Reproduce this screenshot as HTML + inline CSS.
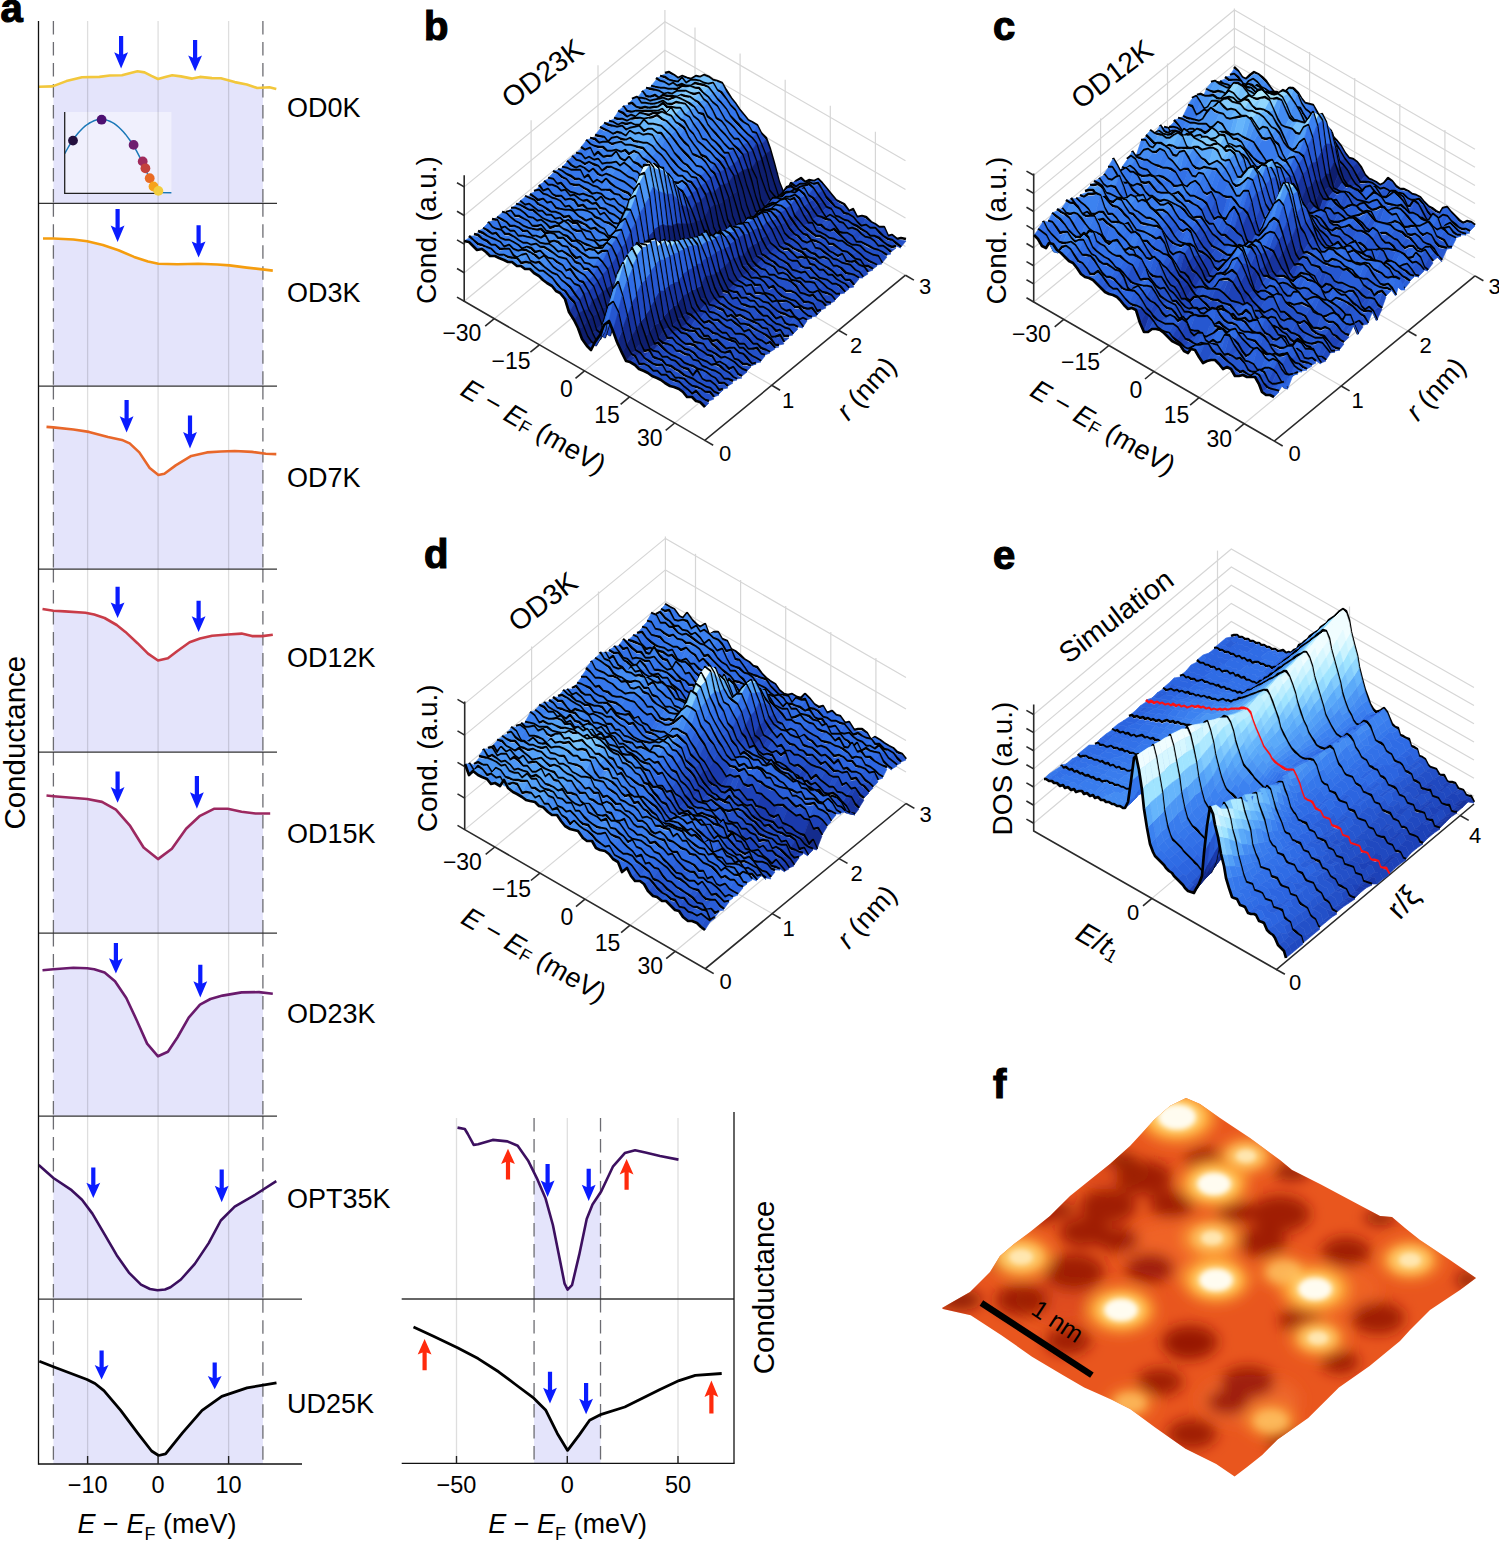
<!DOCTYPE html>
<html><head><meta charset="utf-8"><style>
html,body{margin:0;padding:0;background:#fff;}
body{width:1499px;height:1543px;overflow:hidden;}
svg{display:block;font-family:"Liberation Sans", sans-serif;}
</style></head><body>
<svg xmlns="http://www.w3.org/2000/svg" width="1499" height="1543" viewBox="0 0 1499 1543">
<polygon points="53.4,203.3 53.4,86.1 66.4,81.1 82.0,77.2 99.4,76.9 109.8,75.5 122.0,75.2 130.6,72.9 137.5,71.3 144.5,72.4 151.4,75.9 158.0,79.0 165.3,76.9 172.2,75.2 180.9,76.4 192.2,78.6 200.0,76.9 212.0,78.1 220.8,78.3 234.7,82.1 246.8,84.5 257.2,88.0 262.9,87.7 262.9,203.3" fill="#e4e4fb"/>
<polygon points="53.4,386.1 53.4,238.5 73.4,239.5 87.2,241.3 102.9,245.1 118.5,250.3 134.1,256.9 148.0,261.6 158.4,263.8 177.4,264.2 198.3,263.8 217.3,264.5 229.5,265.4 246.8,267.6 262.4,269.4 262.9,269.5 262.9,386.1" fill="#e4e4fb"/>
<polygon points="53.4,569.1 53.4,427.4 73.4,429.5 89.0,431.9 108.0,437.1 121.9,439.9 129.7,443.4 139.3,452.4 149.7,468.0 158.4,474.9 164.4,473.7 175.7,465.4 191.3,455.9 206.9,452.4 220.8,451.5 234.7,451.0 252.0,451.9 262.9,453.4 262.9,569.1" fill="#e4e4fb"/>
<polygon points="53.4,752.1 53.4,610.8 64.7,611.4 85.5,612.8 94.2,614.6 104.6,618.0 116.7,625.0 125.4,631.9 137.5,643.2 148.0,653.6 158.0,660.5 167.9,658.3 177.4,651.0 189.6,642.3 200.0,638.5 212.1,635.7 227.7,634.5 241.6,633.6 252.0,636.1 262.4,636.1 262.9,636.0 262.9,752.1" fill="#e4e4fb"/>
<polygon points="53.4,933.1 53.4,796.2 87.2,799.0 102.0,801.9 115.9,809.7 129.7,825.3 143.6,847.5 158.0,859.1 171.9,848.7 186.1,828.8 200.0,815.8 213.9,808.8 227.7,808.8 241.6,811.8 255.5,813.5 262.9,813.5 262.9,933.1" fill="#e4e4fb"/>
<polygon points="53.4,1116.1 53.4,969.2 73.4,967.8 87.2,968.2 94.2,969.2 104.6,972.5 115.0,981.2 126.3,998.0 136.7,1020.2 147.1,1043.6 158.0,1056.3 167.9,1051.8 177.4,1037.5 188.7,1017.6 200.0,1004.6 210.4,999.0 222.5,995.6 241.6,992.4 259.0,992.1 262.9,992.6 262.9,1116.1" fill="#e4e4fb"/>
<polygon points="53.4,1299.2 53.4,1178.0 71.6,1190.2 82.0,1199.7 92.4,1213.6 104.6,1234.4 116.7,1255.2 128.9,1272.6 141.0,1284.7 150.0,1289.0 157.5,1290.3 165.0,1289.5 170.5,1287.3 180.9,1279.5 194.8,1263.9 208.7,1243.1 220.8,1220.5 234.7,1206.7 255.5,1194.5 262.9,1189.8 262.9,1299.2" fill="#e4e4fb"/>
<polygon points="53.4,1464.0 53.4,1366.8 87.0,1379.5 95.0,1383.5 103.9,1390.7 120.7,1410.4 137.5,1432.8 151.6,1451.0 158.6,1455.5 165.6,1453.9 182.5,1432.8 202.1,1410.4 221.8,1396.3 247.0,1387.9 262.9,1385.2 262.9,1464.0" fill="#e4e4fb"/>
<rect x="64.7" y="112" width="106.7" height="81.5" fill="#f0f0fd"/>
<line x1="87.6" y1="21" x2="87.6" y2="1464" stroke="#000" stroke-opacity="0.13" stroke-width="1.3"/>
<line x1="158.1" y1="21" x2="158.1" y2="1464" stroke="#000" stroke-opacity="0.13" stroke-width="1.3"/>
<line x1="228.6" y1="21" x2="228.6" y2="1464" stroke="#000" stroke-opacity="0.13" stroke-width="1.3"/>
<line x1="53.4" y1="21.0" x2="53.4" y2="203.3" stroke="#6c6c72" stroke-width="1.3" stroke-dasharray="13.5 7.5"/>
<line x1="262.9" y1="21.0" x2="262.9" y2="203.3" stroke="#6c6c72" stroke-width="1.3" stroke-dasharray="13.5 7.5"/>
<line x1="53.4" y1="203.3" x2="53.4" y2="386.1" stroke="#6c6c72" stroke-width="1.3" stroke-dasharray="13.5 7.5"/>
<line x1="262.9" y1="203.3" x2="262.9" y2="386.1" stroke="#6c6c72" stroke-width="1.3" stroke-dasharray="13.5 7.5"/>
<line x1="53.4" y1="386.1" x2="53.4" y2="569.1" stroke="#6c6c72" stroke-width="1.3" stroke-dasharray="13.5 7.5"/>
<line x1="262.9" y1="386.1" x2="262.9" y2="569.1" stroke="#6c6c72" stroke-width="1.3" stroke-dasharray="13.5 7.5"/>
<line x1="53.4" y1="569.1" x2="53.4" y2="752.1" stroke="#6c6c72" stroke-width="1.3" stroke-dasharray="13.5 7.5"/>
<line x1="262.9" y1="569.1" x2="262.9" y2="752.1" stroke="#6c6c72" stroke-width="1.3" stroke-dasharray="13.5 7.5"/>
<line x1="53.4" y1="752.1" x2="53.4" y2="933.1" stroke="#6c6c72" stroke-width="1.3" stroke-dasharray="13.5 7.5"/>
<line x1="262.9" y1="752.1" x2="262.9" y2="933.1" stroke="#6c6c72" stroke-width="1.3" stroke-dasharray="13.5 7.5"/>
<line x1="53.4" y1="933.1" x2="53.4" y2="1116.1" stroke="#6c6c72" stroke-width="1.3" stroke-dasharray="13.5 7.5"/>
<line x1="262.9" y1="933.1" x2="262.9" y2="1116.1" stroke="#6c6c72" stroke-width="1.3" stroke-dasharray="13.5 7.5"/>
<line x1="53.4" y1="1116.1" x2="53.4" y2="1299.2" stroke="#6c6c72" stroke-width="1.3" stroke-dasharray="13.5 7.5"/>
<line x1="262.9" y1="1116.1" x2="262.9" y2="1299.2" stroke="#6c6c72" stroke-width="1.3" stroke-dasharray="13.5 7.5"/>
<line x1="53.4" y1="1299.2" x2="53.4" y2="1464.0" stroke="#6c6c72" stroke-width="1.3" stroke-dasharray="13.5 7.5"/>
<line x1="262.9" y1="1299.2" x2="262.9" y2="1464.0" stroke="#6c6c72" stroke-width="1.3" stroke-dasharray="13.5 7.5"/>
<polyline points="64.7,153.6 67.0,149.5 69.2,145.7 71.5,142.1 73.7,138.8 76.0,135.8 78.2,133.0 80.5,130.5 82.7,128.2 85.0,126.2 87.2,124.5 89.5,123.0 91.8,121.8 94.0,120.8 96.3,120.1 98.5,119.6 100.8,119.4 103.0,119.5 105.3,119.8 107.5,120.4 109.8,121.3 112.1,122.4 114.3,123.7 116.6,125.4 118.8,127.2 121.1,129.4 123.3,131.8 125.6,134.4 127.8,137.4 130.1,140.5 132.4,144.0 134.6,147.7 136.9,151.6 139.1,155.8 141.4,160.3 143.6,165.0 145.9,170.0 148.1,175.3 150.4,180.8 152.6,186.6 154.9,192.6 171.4,192.8" fill="none" stroke="#1a78b8" stroke-width="1.5"/>
<polyline points="64.7,112 64.7,193.3 155,193.3" fill="none" stroke="#222" stroke-width="1.3"/>
<circle cx="73" cy="140.6" r="4.9" fill="#24103e"/>
<circle cx="101.6" cy="119.7" r="4.9" fill="#4d1072"/>
<circle cx="133.6" cy="144.9" r="4.9" fill="#6e1f6f"/>
<circle cx="142.7" cy="161.4" r="4.9" fill="#a02a5c"/>
<circle cx="145.4" cy="168.3" r="4.9" fill="#c4413c"/>
<circle cx="149.7" cy="178.2" r="4.9" fill="#e96b23"/>
<circle cx="153.5" cy="186.5" r="4.9" fill="#f6a31b"/>
<circle cx="158.4" cy="190.9" r="4.9" fill="#f2cd3e"/>
<polyline points="38.7,86.8 52.5,86.4 66.4,81.1 82.0,77.2 99.4,76.9 109.8,75.5 122.0,75.2 130.6,72.9 137.5,71.3 144.5,72.4 151.4,75.9 158.0,79.0 165.3,76.9 172.2,75.2 180.9,76.4 192.2,78.6 200.0,76.9 212.0,78.1 220.8,78.3 234.7,82.1 246.8,84.5 257.2,88.0 269.4,87.3 276.3,89.0" fill="none" stroke="#f2c73c" stroke-width="2.6" stroke-linejoin="round"/>
<polygon points="119.0,36.0 123.2,36.0 123.2,54.5 128.0,52.3 121.1,68.6 114.2,52.3 119.0,54.5" fill="#0a1cff"/>
<polygon points="193.0,40.0 197.2,40.0 197.2,57.8 202.0,55.6 195.1,71.2 188.2,55.6 193.0,57.8" fill="#0a1cff"/>
<polyline points="43.0,238.5 53.4,238.5 73.4,239.5 87.2,241.3 102.9,245.1 118.5,250.3 134.1,256.9 148.0,261.6 158.4,263.8 177.4,264.2 198.3,263.8 217.3,264.5 229.5,265.4 246.8,267.6 262.4,269.4 272.8,270.6" fill="none" stroke="#f59d0f" stroke-width="2.6" stroke-linejoin="round"/>
<polygon points="115.5,209.0 119.7,209.0 119.7,227.7 124.5,225.5 117.6,242.0 110.7,225.5 115.5,227.7" fill="#0a1cff"/>
<polygon points="196.5,225.2 200.7,225.2 200.7,243.6 205.5,241.4 198.6,257.6 191.7,241.4 196.5,243.6" fill="#0a1cff"/>
<polyline points="46.5,426.9 53.4,427.4 73.4,429.5 89.0,431.9 108.0,437.1 121.9,439.9 129.7,443.4 139.3,452.4 149.7,468.0 158.4,474.9 164.4,473.7 175.7,465.4 191.3,455.9 206.9,452.4 220.8,451.5 234.7,451.0 252.0,451.9 265.9,453.8 276.3,454.1" fill="none" stroke="#e8672a" stroke-width="2.6" stroke-linejoin="round"/>
<polygon points="124.5,400.0 128.7,400.0 128.7,418.4 133.5,416.2 126.6,432.4 119.7,416.2 124.5,418.4" fill="#0a1cff"/>
<polygon points="187.9,415.6 192.1,415.6 192.1,434.2 196.9,432.0 190.0,448.4 183.1,432.0 187.9,434.2" fill="#0a1cff"/>
<polyline points="42.5,609.0 53.4,610.8 64.7,611.4 85.5,612.8 94.2,614.6 104.6,618.0 116.7,625.0 125.4,631.9 137.5,643.2 148.0,653.6 158.0,660.5 167.9,658.3 177.4,651.0 189.6,642.3 200.0,638.5 212.1,635.7 227.7,634.5 241.6,633.6 252.0,636.1 262.4,636.1 272.8,634.7" fill="none" stroke="#c93c48" stroke-width="2.6" stroke-linejoin="round"/>
<polygon points="115.5,586.8 119.7,586.8 119.7,604.6 124.5,602.4 117.6,618.0 110.7,602.4 115.5,604.6" fill="#0a1cff"/>
<polygon points="196.5,600.7 200.7,600.7 200.7,618.5 205.5,616.3 198.6,631.9 191.7,616.3 196.5,618.5" fill="#0a1cff"/>
<polyline points="46.5,795.5 53.4,796.2 87.2,799.0 102.0,801.9 115.9,809.7 129.7,825.3 143.6,847.5 158.0,859.1 171.9,848.7 186.1,828.8 200.0,815.8 213.9,808.8 227.7,808.8 241.6,811.8 255.5,813.5 270.2,813.5" fill="none" stroke="#9c2860" stroke-width="2.6" stroke-linejoin="round"/>
<polygon points="115.5,771.5 119.7,771.5 119.7,789.4 124.5,787.1 117.6,802.8 110.7,787.1 115.5,789.4" fill="#0a1cff"/>
<polygon points="194.8,775.9 199.0,775.9 199.0,794.5 203.8,792.3 196.9,808.8 190.0,792.3 194.8,794.5" fill="#0a1cff"/>
<polyline points="42.5,970.2 53.4,969.2 73.4,967.8 87.2,968.2 94.2,969.2 104.6,972.5 115.0,981.2 126.3,998.0 136.7,1020.2 147.1,1043.6 158.0,1056.3 167.9,1051.8 177.4,1037.5 188.7,1017.6 200.0,1004.6 210.4,999.0 222.5,995.6 241.6,992.4 259.0,992.1 272.8,993.7" fill="none" stroke="#6a1a6c" stroke-width="2.6" stroke-linejoin="round"/>
<polygon points="113.8,943.0 118.0,943.0 118.0,960.4 122.8,958.2 115.9,973.4 109.0,958.2 113.8,960.4" fill="#0a1cff"/>
<polygon points="198.2,964.7 202.4,964.7 202.4,983.4 207.2,981.2 200.3,997.6 193.4,981.2 198.2,983.4" fill="#0a1cff"/>
<polyline points="38.7,1165.0 53.4,1178.0 71.6,1190.2 82.0,1199.7 92.4,1213.6 104.6,1234.4 116.7,1255.2 128.9,1272.6 141.0,1284.7 150.0,1289.0 157.5,1290.3 165.0,1289.5 170.5,1287.3 180.9,1279.5 194.8,1263.9 208.7,1243.1 220.8,1220.5 234.7,1206.7 255.5,1194.5 276.3,1181.2" fill="none" stroke="#3b0f5e" stroke-width="2.6" stroke-linejoin="round"/>
<polygon points="91.2,1167.6 95.4,1167.6 95.4,1185.0 100.2,1182.8 93.3,1198.0 86.4,1182.8 91.2,1185.0" fill="#0a1cff"/>
<polygon points="219.6,1169.4 223.8,1169.4 223.8,1188.0 228.6,1185.8 221.7,1202.3 214.8,1185.8 219.6,1188.0" fill="#0a1cff"/>
<polyline points="39.3,1361.2 53.3,1366.8 87.0,1379.5 95.0,1383.5 103.9,1390.7 120.7,1410.4 137.5,1432.8 151.6,1451.0 158.6,1455.5 165.6,1453.9 182.5,1432.8 202.1,1410.4 221.8,1396.3 247.0,1387.9 276.5,1382.8" fill="none" stroke="#000000" stroke-width="2.8" stroke-linejoin="round"/>
<polygon points="99.5,1350.6 103.7,1350.6 103.7,1367.2 108.5,1365.0 101.6,1379.5 94.7,1365.0 99.5,1367.2" fill="#0a1cff"/>
<polygon points="212.6,1362.6 216.8,1362.6 216.8,1378.1 221.6,1375.9 214.7,1389.3 207.8,1375.9 212.6,1378.1" fill="#0a1cff"/>
<line x1="38.5" y1="203.3" x2="277" y2="203.3" stroke="#333" stroke-width="1.3"/>
<line x1="38.5" y1="386.1" x2="277" y2="386.1" stroke="#333" stroke-width="1.3"/>
<line x1="38.5" y1="569.1" x2="277" y2="569.1" stroke="#333" stroke-width="1.3"/>
<line x1="38.5" y1="752.1" x2="277" y2="752.1" stroke="#333" stroke-width="1.3"/>
<line x1="38.5" y1="933.1" x2="277" y2="933.1" stroke="#333" stroke-width="1.3"/>
<line x1="38.5" y1="1116.1" x2="277" y2="1116.1" stroke="#333" stroke-width="1.3"/>
<line x1="38.5" y1="1299.2" x2="302" y2="1299.2" stroke="#333" stroke-width="1.3"/>
<line x1="38.5" y1="1464" x2="302" y2="1464" stroke="#111" stroke-width="1.4"/>
<line x1="38.5" y1="21" x2="38.5" y2="1464.7" stroke="#111" stroke-width="1.3"/>
<line x1="87.6" y1="1456" x2="87.6" y2="1464" stroke="#222" stroke-width="1.4"/>
<line x1="158.1" y1="1456" x2="158.1" y2="1464" stroke="#222" stroke-width="1.4"/>
<line x1="228.6" y1="1456" x2="228.6" y2="1464" stroke="#222" stroke-width="1.4"/>
<text x="287" y="116.7" font-size="27" fill="#000">OD0K</text>
<text x="287" y="301.6" font-size="27" fill="#000">OD3K</text>
<text x="287" y="486.6" font-size="27" fill="#000">OD7K</text>
<text x="287" y="666.7" font-size="27" fill="#000">OD12K</text>
<text x="287" y="842.7" font-size="27" fill="#000">OD15K</text>
<text x="287" y="1023" font-size="27" fill="#000">OD23K</text>
<text x="287" y="1208.2" font-size="27" fill="#000">OPT35K</text>
<text x="287" y="1413.2" font-size="27" fill="#000">UD25K</text>
<text x="87.6" y="1493.4" font-size="23.5" text-anchor="middle">−10</text>
<text x="158.1" y="1493.4" font-size="23.5" text-anchor="middle">0</text>
<text x="228.6" y="1493.4" font-size="23.5" text-anchor="middle">10</text>
<text x="157" y="1533.4" font-size="27" text-anchor="middle"><tspan font-style="italic">E</tspan> − <tspan font-style="italic">E</tspan><tspan font-size="18" dy="7">F</tspan><tspan dy="-7"> (meV)</tspan></text>
<text transform="translate(24.5,742.7) rotate(-90)" font-size="29.5" text-anchor="middle">Conductance</text>
<text x="0.5" y="21.5" font-size="40" font-weight="bold" stroke="#000" stroke-width="1.2">a</text>
<polygon points="534.1,1299.0 534.1,1172.6 536.8,1178.1 545.6,1198.6 552.9,1225.0 558.8,1254.4 564.6,1283.7 567.6,1289.6 572.0,1285.2 579.3,1254.4 586.7,1219.1 592.5,1204.5 600.5,1192.5 600.5,1299.0" fill="#e4e4fb"/>
<polygon points="534.1,1463.4 534.1,1398.5 545.6,1409.9 557.3,1433.4 567.6,1450.4 579.3,1434.9 589.6,1420.2 600.5,1414.7 600.5,1463.4" fill="#e4e4fb"/>
<line x1="456.5" y1="1117.9" x2="456.5" y2="1463.4" stroke="#000" stroke-opacity="0.13" stroke-width="1.3"/>
<line x1="567.3" y1="1117.9" x2="567.3" y2="1463.4" stroke="#000" stroke-opacity="0.13" stroke-width="1.3"/>
<line x1="678.0" y1="1117.9" x2="678.0" y2="1463.4" stroke="#000" stroke-opacity="0.13" stroke-width="1.3"/>
<line x1="534.07" y1="1117.9" x2="534.07" y2="1299" stroke="#6c6c72" stroke-width="1.3" stroke-dasharray="13.5 7.5"/>
<line x1="534.07" y1="1299" x2="534.07" y2="1463.4" stroke="#6c6c72" stroke-width="1.3" stroke-dasharray="13.5 7.5"/>
<line x1="600.52" y1="1117.9" x2="600.52" y2="1299" stroke="#6c6c72" stroke-width="1.3" stroke-dasharray="13.5 7.5"/>
<line x1="600.52" y1="1299" x2="600.52" y2="1463.4" stroke="#6c6c72" stroke-width="1.3" stroke-dasharray="13.5 7.5"/>
<polyline points="457.5,1127.6 464.8,1129.0 467.8,1134.0 473.7,1144.9 478.1,1144.3 492.7,1139.9 507.4,1141.4 517.7,1145.8 528.0,1160.4 536.8,1178.1 545.6,1198.6 552.9,1225.0 558.8,1254.4 564.6,1283.7 567.6,1289.6 572.0,1285.2 579.3,1254.4 586.7,1219.1 592.5,1204.5 601.3,1191.3 613.1,1166.3 624.8,1153.1 635.1,1150.2 645.4,1152.5 660.0,1156.0 678.5,1159.6" fill="none" stroke="#3d1060" stroke-width="2.6" stroke-linejoin="round"/>
<polyline points="413.5,1326.9 434.0,1336.5 457.5,1347.7 478.1,1358.6 498.6,1371.8 516.2,1385.0 533.8,1398.2 545.6,1409.9 557.3,1433.4 567.6,1450.4 579.3,1434.9 589.6,1420.2 601.3,1414.3 624.8,1407.0 642.4,1398.2 660.0,1389.4 679.1,1380.6 695.3,1375.3 721.7,1373.5" fill="none" stroke="#000" stroke-width="2.8" stroke-linejoin="round"/>
<polygon points="505.9,1179.5 510.1,1179.5 510.1,1161.9 514.9,1164.1 508.0,1148.7 501.1,1164.1 505.9,1161.9" fill="#ff2a0c"/>
<polygon points="545.5,1164.0 549.7,1164.0 549.7,1182.8 554.5,1180.5 547.6,1197.1 540.7,1180.5 545.5,1182.8" fill="#0a1cff"/>
<polygon points="586.6,1168.7 590.8,1168.7 590.8,1187.0 595.6,1184.8 588.7,1201.0 581.8,1184.8 586.6,1187.0" fill="#0a1cff"/>
<polygon points="624.5,1189.8 628.7,1189.8 628.7,1172.2 633.5,1174.4 626.6,1159.0 619.7,1174.4 624.5,1172.2" fill="#ff2a0c"/>
<polygon points="422.5,1370.3 426.7,1370.3 426.7,1352.4 431.5,1354.6 424.6,1338.9 417.7,1354.6 422.5,1352.4" fill="#ff2a0c"/>
<polygon points="547.9,1371.8 552.1,1371.8 552.1,1389.9 556.9,1387.7 550.0,1403.5 543.1,1387.7 547.9,1389.9" fill="#0a1cff"/>
<polygon points="584.0,1383.0 588.2,1383.0 588.2,1400.9 593.0,1398.7 586.1,1414.3 579.2,1398.7 584.0,1400.9" fill="#0a1cff"/>
<polygon points="709.3,1413.5 713.5,1413.5 713.5,1394.8 718.3,1397.0 711.4,1380.6 704.5,1397.0 709.3,1394.8" fill="#ff2a0c"/>
<line x1="401.7" y1="1299" x2="734" y2="1299" stroke="#333" stroke-width="1.3"/>
<line x1="401.7" y1="1463.4" x2="734.6" y2="1463.4" stroke="#111" stroke-width="1.4"/>
<line x1="734" y1="1112" x2="734" y2="1463.4" stroke="#111" stroke-width="1.3"/>
<line x1="456.5" y1="1456" x2="456.5" y2="1463.4" stroke="#222" stroke-width="1.4"/>
<text x="456.5" y="1493" font-size="23.5" text-anchor="middle">−50</text>
<line x1="567.3" y1="1456" x2="567.3" y2="1463.4" stroke="#222" stroke-width="1.4"/>
<text x="567.3" y="1493" font-size="23.5" text-anchor="middle">0</text>
<line x1="678.0" y1="1456" x2="678.0" y2="1463.4" stroke="#222" stroke-width="1.4"/>
<text x="678.0" y="1493" font-size="23.5" text-anchor="middle">50</text>
<text x="567.6" y="1533.2" font-size="27" text-anchor="middle"><tspan font-style="italic">E</tspan> − <tspan font-style="italic">E</tspan><tspan font-size="18" dy="7">F</tspan><tspan dy="-7"> (meV)</tspan></text>
<text transform="translate(773.5,1287.4) rotate(-90)" font-size="29.5" text-anchor="middle">Conductance</text>
<polyline points="464.2,301.3 664.9,136.1 905.5,275.2" fill="none" stroke="#d6d6d6" stroke-width="1.2"/>
<polyline points="464.2,272.7 664.9,107.5 905.5,246.6" fill="none" stroke="#d6d6d6" stroke-width="1.2"/>
<polyline points="464.2,244.1 664.9,78.9 905.5,218" fill="none" stroke="#d6d6d6" stroke-width="1.2"/>
<polyline points="464.2,215.5 664.9,50.3 905.5,189.4" fill="none" stroke="#d6d6d6" stroke-width="1.2"/>
<polyline points="464.2,186.9 664.9,21.7 905.5,160.8" fill="none" stroke="#d6d6d6" stroke-width="1.2"/>
<line x1="531.1" y1="246.2" x2="531.1" y2="120.2" stroke="#d6d6d6" stroke-width="1.2"/>
<line x1="531.1" y1="246.2" x2="771.7" y2="385.3" stroke="#d6d6d6" stroke-width="1.2"/>
<line x1="598" y1="191.2" x2="598" y2="65.2" stroke="#d6d6d6" stroke-width="1.2"/>
<line x1="598" y1="191.2" x2="838.6" y2="330.3" stroke="#d6d6d6" stroke-width="1.2"/>
<line x1="695" y1="153.5" x2="695" y2="27.5" stroke="#d6d6d6" stroke-width="1.2"/>
<line x1="695" y1="153.5" x2="494.3" y2="318.7" stroke="#d6d6d6" stroke-width="1.2"/>
<line x1="740.1" y1="179.6" x2="740.1" y2="53.6" stroke="#d6d6d6" stroke-width="1.2"/>
<line x1="740.1" y1="179.6" x2="539.4" y2="344.8" stroke="#d6d6d6" stroke-width="1.2"/>
<line x1="785.2" y1="205.7" x2="785.2" y2="79.7" stroke="#d6d6d6" stroke-width="1.2"/>
<line x1="785.2" y1="205.7" x2="584.5" y2="370.9" stroke="#d6d6d6" stroke-width="1.2"/>
<line x1="830.3" y1="231.7" x2="830.3" y2="105.7" stroke="#d6d6d6" stroke-width="1.2"/>
<line x1="830.3" y1="231.7" x2="629.6" y2="396.9" stroke="#d6d6d6" stroke-width="1.2"/>
<line x1="875.4" y1="257.8" x2="875.4" y2="131.8" stroke="#d6d6d6" stroke-width="1.2"/>
<line x1="875.4" y1="257.8" x2="674.7" y2="423" stroke="#d6d6d6" stroke-width="1.2"/>
<line x1="664.9" y1="136.1" x2="664.9" y2="10.1" stroke="#d6d6d6" stroke-width="1.2"/>
<polyline points="464.2,175.3 464.2,301.3 704.8,440.4 905.5,275.2" fill="none" stroke="#2a2a2a" stroke-width="1.6"/>
<line x1="494.3" y1="318.7" x2="485.2" y2="326.1" stroke="#2a2a2a" stroke-width="1.6"/>
<line x1="539.4" y1="344.8" x2="530.4" y2="352.2" stroke="#2a2a2a" stroke-width="1.6"/>
<line x1="584.5" y1="370.9" x2="575.5" y2="378.3" stroke="#2a2a2a" stroke-width="1.6"/>
<line x1="629.6" y1="396.9" x2="620.6" y2="404.4" stroke="#2a2a2a" stroke-width="1.6"/>
<line x1="674.7" y1="423" x2="665.7" y2="430.4" stroke="#2a2a2a" stroke-width="1.6"/>
<line x1="704.8" y1="440.4" x2="713.2" y2="445.3" stroke="#2a2a2a" stroke-width="1.6"/>
<line x1="771.7" y1="385.3" x2="780.1" y2="390.2" stroke="#2a2a2a" stroke-width="1.6"/>
<line x1="838.6" y1="330.3" x2="847" y2="335.1" stroke="#2a2a2a" stroke-width="1.6"/>
<line x1="905.5" y1="275.2" x2="913.9" y2="280.1" stroke="#2a2a2a" stroke-width="1.6"/>
<line x1="464.2" y1="301.3" x2="457" y2="297.1" stroke="#2a2a2a" stroke-width="1.6"/>
<line x1="464.2" y1="272.7" x2="457" y2="268.5" stroke="#2a2a2a" stroke-width="1.6"/>
<line x1="464.2" y1="244.1" x2="457" y2="239.9" stroke="#2a2a2a" stroke-width="1.6"/>
<line x1="464.2" y1="215.5" x2="457" y2="211.3" stroke="#2a2a2a" stroke-width="1.6"/>
<line x1="464.2" y1="186.9" x2="457" y2="182.7" stroke="#2a2a2a" stroke-width="1.6"/>
<path d="M665 73l4-1 5 3 4 3 4-2 5 2 4 1 5-3 4 1 4-2 5 2 4 3 4 1 5 2 4 7 5 8 4 5 4 6 5 6 4 5 4 2 5 3 4 8 5 5 4 11 4 14 5 19 4 10 4-1 5-5 4-5 5-3 4 4 4-2 5 1 4-2 4 4 5 6 4 5 5 6 4 2 4 2 5 7 4-2 4 8 5-1 4 1 5 5 4 2 4 3 5 0 4 9 4-1 5 4 4-1 5 1" fill="none" stroke="#000" stroke-width="2.5" stroke-linejoin="round"/>
<path fill="#448cf2" stroke="#448cf2" stroke-width=".6" d="M665 74l4 0 5 2-5 4-4-3-5-1z"/>
<path fill="#4c96f4" stroke="#4c96f4" stroke-width=".6" d="M674 76l4 3 4-2-4 5-5-1-4-1zM722 84l4 8-5 0-4-2z"/>
<path fill="#53a0f7" stroke="#53a0f7" stroke-width=".6" d="M682 77l5 2-5-1-4 4z"/>
<path fill="#5baaf9" stroke="#5baaf9" stroke-width=".6" d="M687 79l4 1-5 3-4-5zM717 82l5 2-5 6-4-7z"/>
<path fill="#66b5fb" stroke="#66b5fb" stroke-width=".6" d="M691 80l5-3 4 1-5 2-4 0-5 3z"/>
<path fill="#75c1fc" stroke="#75c1fc" stroke-width=".6" d="M700 78l4-2 5 2 4 3 4 1-4 1-5 1-4-1-4-2-5-1z"/>
<path fill="#3c82f0" stroke="#3c82f0" stroke-width=".6" d="M726 92l5 7-5 0-5-7z"/>
<path fill="#397ced" stroke="#397ced" stroke-width=".6" d="M731 99l4 5-5 1-4-6z"/>
<path fill="#3577eb" stroke="#3577eb" stroke-width=".6" d="M735 104l4 6-4 0-5-5zM744 116l4 5 4 2-4 2-5-3-4-4z"/>
<path fill="#3271e8" stroke="#3271e8" stroke-width=".6" d="M739 110l5 6-5 2-4-8zM752 123l5 3-5 6-4-7z"/>
<path fill="#2c65e0" stroke="#2c65e0" stroke-width=".6" d="M757 126l4 8-5-1-4-1zM809 182l5 0-5 0-4 2zM818 180l4 4-4-1-5 1z"/>
<path fill="#2350c8" stroke="#2350c8" stroke-width=".6" d="M761 134l5 6-5 4-5-11zM822 184l5 6-5 0-4-7zM866 219l5 4 4 2 4 3 5 0-5 4-4-4-5 0-4-3-5 1zM892 236l5 4 4 0 5 1-5 6-5-4-4-3-4-1z"/>
<path fill="#17339d" stroke="#17339d" stroke-width=".6" d="M766 140l4 11-5 3-4-10z"/>
<path fill="#0e1e6e" stroke="#0e1e6e" stroke-width=".6" d="M770 151l4 14 5 18 4 10-5 3-4-12-4-13-5-17z"/>
<path fill="#142c8d" stroke="#142c8d" stroke-width=".6" d="M783 193l4-1-4 4-5 0z"/>
<path fill="#1a3aac" stroke="#1a3aac" stroke-width=".6" d="M787 192l5-5-5 5-4 4zM827 190l4 5 5 6-5 1-5-5-4-7z"/>
<path fill="#2049c0" stroke="#2049c0" stroke-width=".6" d="M792 187l4-5-5 1-4 9zM840 204l4 2 5 6 4-1 4 7 5-1 4 2-5 7-4-4-4-5-5-3-4-1-4-4-5-2zM884 228l4 9 4-1-4 3-5-3-4-4z"/>
<path fill="#2657d0" stroke="#2657d0" stroke-width=".6" d="M796 182l5-2-5 7-5-4z"/>
<path fill="#295ed8" stroke="#295ed8" stroke-width=".6" d="M801 180l4 3 4-1-4 2-5 0-4 3z"/>
<path fill="#2f6ce5" stroke="#2f6ce5" stroke-width=".6" d="M814 182l4-2-5 4-4-2z"/>
<path fill="#1d42b8" stroke="#1d42b8" stroke-width=".6" d="M836 201l4 3-5 3-4-5z"/>
<path d="M660 76l5 1 4 3 4 1 5 1 4-4 4 5 5-3 4 0 5 1 4 2 4 1 5-1 4 7 4 2 5 7 4 6 5 5 4 8 4 4 5 3 4 7 4 1 5 11 4 10 5 17 4 13 4 12 5 0 4-4 4-9 5 4 4-3 5 0 4-2 4 2 5-1 4 7 4 7 5 5 4 5 5 2 4 4 4 1 5 3 4 5 4 4 5-1 4 3 5 0 4 4 4 4 5 3 4 1 4 3 5 4" fill="none" stroke="#000" stroke-width="2.5" stroke-linejoin="round"/>
<path fill="#448cf2" stroke="#448cf2" stroke-width=".6" d="M660 77l5 2 4 2-5 1-4-1-4-3z"/>
<path fill="#4c96f4" stroke="#4c96f4" stroke-width=".6" d="M669 81l4 1 5 1-5 0-4 2-5-3zM717 91l4 3-4 5-5-7z"/>
<path fill="#53a0f7" stroke="#53a0f7" stroke-width=".6" d="M678 83l4-4-5 7-4-3z"/>
<path fill="#5baaf9" stroke="#5baaf9" stroke-width=".6" d="M682 79l4 5 5-3-5 5-4-2-5 2zM713 84l4 7-5 1-4-5z"/>
<path fill="#66b5fb" stroke="#66b5fb" stroke-width=".6" d="M691 81l4 0-4 5-5 0z"/>
<path fill="#75c1fc" stroke="#75c1fc" stroke-width=".6" d="M695 81l5 1-5 1-4 3zM708 85l5-1-5 3-4-2z"/>
<path fill="#83ccfd" stroke="#83ccfd" stroke-width=".6" d="M700 82l4 2 4 1-4 0-5-1-4-1z"/>
<path fill="#3c82f0" stroke="#3c82f0" stroke-width=".6" d="M721 94l5 6-5 3-4-4z"/>
<path fill="#397ced" stroke="#397ced" stroke-width=".6" d="M726 100l4 6-4 3-5-6z"/>
<path fill="#3577eb" stroke="#3577eb" stroke-width=".6" d="M730 106l5 5 4 9 4 3 5 3-5 4-4-5-5-5-4-4-4-7z"/>
<path fill="#3271e8" stroke="#3271e8" stroke-width=".6" d="M748 126l4 7-5 1-4-4z"/>
<path fill="#2c65e0" stroke="#2c65e0" stroke-width=".6" d="M752 133l4 1-4 4-5-4zM813 185l5 0-5 3-4-4z"/>
<path fill="#2350c8" stroke="#2350c8" stroke-width=".6" d="M756 134l5 11-5-2-4-5zM818 185l4 6-5 3-4-6zM861 227l5-1 4 3 5 0 4 5-5 2-4 0-4-4-5-3-4-3zM888 241l4 0 4 4 5 3-5-2-4 1-5-2-4-3z"/>
<path fill="#17339d" stroke="#17339d" stroke-width=".6" d="M761 145l4 10-4 3-5-15z"/>
<path fill="#0e1e6e" stroke="#0e1e6e" stroke-width=".6" d="M765 155l5 17 4 13 4 12-4-1-5-6-4-18-4-14z"/>
<path fill="#142c8d" stroke="#142c8d" stroke-width=".6" d="M778 197l5 0-5 3-4-4z"/>
<path fill="#1a3aac" stroke="#1a3aac" stroke-width=".6" d="M783 197l4-4-5 1-4 6zM822 191l4 8 5 5-5 3-4-6-5-7z"/>
<path fill="#2049c0" stroke="#2049c0" stroke-width=".6" d="M787 193l4-8-4 2-5 7zM835 208l5 2 4 5 4 0 5 3 4 5 4 4-4-1-5-2-4-3-4-1-5-3-4-1-4-7zM879 234l4 3 5 4-5 1-4-4-5-2z"/>
<path fill="#2657d0" stroke="#2657d0" stroke-width=".6" d="M791 185l5 3 4-3-4 5-5-4-4 1z"/>
<path fill="#295ed8" stroke="#295ed8" stroke-width=".6" d="M800 185l5 0-5 2-4 3z"/>
<path fill="#2f6ce5" stroke="#2f6ce5" stroke-width=".6" d="M805 185l4-2 4 2-4-1-5 2-4 1z"/>
<path fill="#1d42b8" stroke="#1d42b8" stroke-width=".6" d="M831 204l4 4-4 1-5-2z"/>
<path d="M656 78l4 3 4 1 5 3 4-2 4 3 5-2 4 2 5 0 4-3 4 1 5 1 4 2 4 5 5 7 4 4 5 6 4 7 4 4 5 5 4 5 4 4 5 4 4 5 5 15 4 14 4 18 5 6 4 4 4-6 5-7 4-1 5 4 4-3 4-1 5-2 4 4 4 6 5 7 4 6 5 2 4 7 4 1 5 3 4 1 4 3 5 2 4 3 5 3 4 4 4 0 5 2 4 4 4 3 5 2 4-1" fill="none" stroke="#000" stroke-width="2.5" stroke-linejoin="round"/>
<path fill="#448cf2" stroke="#448cf2" stroke-width=".6" d="M656 80l4 2 4 1-4 5-5-1-4-1z"/>
<path fill="#4c96f4" stroke="#4c96f4" stroke-width=".6" d="M664 83l5 3 4-2-5 5-4-1-4 0zM712 93l5 7-5 2-4-5z"/>
<path fill="#53a0f7" stroke="#53a0f7" stroke-width=".6" d="M673 84l4 3-4 2-5 0z"/>
<path fill="#5baaf9" stroke="#5baaf9" stroke-width=".6" d="M677 87l5-1-5 3-4 0zM708 88l4 5-4 4-5-4z"/>
<path fill="#66b5fb" stroke="#66b5fb" stroke-width=".6" d="M682 86l4 2 5 0-5-2-4 0-5 3z"/>
<path fill="#75c1fc" stroke="#75c1fc" stroke-width=".6" d="M691 88l4-3-5 1-4 0zM704 87l4 1-5 5-4-5z"/>
<path fill="#83ccfd" stroke="#83ccfd" stroke-width=".6" d="M695 85l4 1 5 1-5 1-4 0-5-2z"/>
<path fill="#3c82f0" stroke="#3c82f0" stroke-width=".6" d="M717 100l4 4-4 2-5-4z"/>
<path fill="#397ced" stroke="#397ced" stroke-width=".6" d="M721 104l5 6-5 3-4-7z"/>
<path fill="#3577eb" stroke="#3577eb" stroke-width=".6" d="M726 110l4 7 4 5 5 5 4 4-5 2-4-5-4-4-5-4-4-7z"/>
<path fill="#3271e8" stroke="#3271e8" stroke-width=".6" d="M743 131l4 4-4 3-5-5z"/>
<path fill="#2c65e0" stroke="#2c65e0" stroke-width=".6" d="M747 135l5 4-5 3-4-4zM796 192l4-4 4-1-4 6-5-4-4 3zM809 186l4 3-5 6-4-7z"/>
<path fill="#2350c8" stroke="#2350c8" stroke-width=".6" d="M752 139l4 5-4 6-5-8zM835 217l4 1 5 3-5 1-4-4-5-3zM848 222l4 3 5 3 4 3 5 2 4 4 4 0 5 3 4 3 4 3 5 3 4-1-5 4-4-3-4-3-5 0-4-5-4-3-5-1-4-3-4-4-5-2-4 1-5-6z"/>
<path fill="#17339d" stroke="#17339d" stroke-width=".6" d="M756 144l5 16-5 1-4-11zM822 202l4 6-4 4-5-9z"/>
<path fill="#0e1e6e" stroke="#0e1e6e" stroke-width=".6" d="M761 160l4 13 4 18 5 6-5 2-4-9-5-14-4-15z"/>
<path fill="#142c8d" stroke="#142c8d" stroke-width=".6" d="M774 197l4 4-5 0-4-2z"/>
<path fill="#1a3aac" stroke="#1a3aac" stroke-width=".6" d="M778 201l4-6-4 2-5 4zM817 195l5 7-5 1-4-5z"/>
<path fill="#2049c0" stroke="#2049c0" stroke-width=".6" d="M782 195l5-6-5 5-4 3zM813 189l4 6-4 3-5-3zM831 210l4 7-5-2-4 3zM844 221l4 1-5 1-4-1z"/>
<path fill="#2657d0" stroke="#2657d0" stroke-width=".6" d="M787 189l4-1-4 4-5 2z"/>
<path fill="#295ed8" stroke="#295ed8" stroke-width=".6" d="M791 188l5 4-5 0-4 0z"/>
<path fill="#2f6ce5" stroke="#2f6ce5" stroke-width=".6" d="M804 187l5-1-5 2-4 5z"/>
<path fill="#1d42b8" stroke="#1d42b8" stroke-width=".6" d="M826 208l5 2-5 8-4-6z"/>
<path d="M651 86l4 1 5 1 4 0 4 1 5 0 4 0 5-3 4 0 4 0 5 2 4 0 4 5 5 4 4 5 5 4 4 7 4 7 5 4 4 4 4 5 5 5 4 4 5 8 4 11 4 15 5 14 4 9 4 2 5-4 4-3 5-2 4 0 4-3 5 4 4-5 4 7 5 3 4 5 5 9 4 6 4-3 5 3 4 4 4 1 5 6 4-1 5 2 4 4 4 3 5 1 4 3 4 5 5 0 4 3 4 3" fill="none" stroke="#000" stroke-width="2.5" stroke-linejoin="round"/>
<path fill="#3c82f0" stroke="#3c82f0" stroke-width=".6" d="M651 87l4 1-4 1-5-1zM712 103l5 4-5 3-5-8z"/>
<path fill="#448cf2" stroke="#448cf2" stroke-width=".6" d="M655 88l5 1-5 1-4-1z"/>
<path fill="#4c96f4" stroke="#4c96f4" stroke-width=".6" d="M660 89l4 0 4 1-4 4-5-3-4-1zM708 98l4 5-5-1-4-3z"/>
<path fill="#53a0f7" stroke="#53a0f7" stroke-width=".6" d="M668 90l5 0-5 3-4 1z"/>
<path fill="#5baaf9" stroke="#5baaf9" stroke-width=".6" d="M673 90l4 1-5 3-4-1zM703 94l5 4-5 1-4-6z"/>
<path fill="#66b5fb" stroke="#66b5fb" stroke-width=".6" d="M677 91l5-3-5 3-5 3z"/>
<path fill="#75c1fc" stroke="#75c1fc" stroke-width=".6" d="M682 88l4 0 4-1-4 4-5 0-4 0zM699 90l4 4-4-1-5 1z"/>
<path fill="#83ccfd" stroke="#83ccfd" stroke-width=".6" d="M690 87l5 2 4 1-5 4-4-1-4-2z"/>
<path fill="#397ced" stroke="#397ced" stroke-width=".6" d="M717 107l4 7-5 4-4-8z"/>
<path fill="#3577eb" stroke="#3577eb" stroke-width=".6" d="M721 114l4 7 5 4 4 4-5 4-4-7-4-5-5-3z"/>
<path fill="#3271e8" stroke="#3271e8" stroke-width=".6" d="M734 129l4 5 5 5-5 0-4 0-5-6z"/>
<path fill="#2f6ce5" stroke="#2f6ce5" stroke-width=".6" d="M743 139l4 4-5 2-4-6zM795 191l5 3 4-5-5 1-4 3-4-1z"/>
<path fill="#2350c8" stroke="#2350c8" stroke-width=".6" d="M747 143l5 8-5 1-5-7zM782 195l5-1-5 2-5 4zM826 219l4-3-4 3-5-2zM835 219l4 4-5 2-4-5zM848 230l4-1 5 2-5 5-5-3-4 0zM861 235l4 3 5 1 4 3 4 5 5 0 4 3 4 4-4 1-5-3-4-2-4-1-5-3-4-2-4-2-5 0z"/>
<path fill="#17339d" stroke="#17339d" stroke-width=".6" d="M752 151l4 11-5 6-4-16zM817 205l5 8-5 3-5-7z"/>
<path fill="#0e1e6e" stroke="#0e1e6e" stroke-width=".6" d="M756 162l4 15 5 14 4 9-5 7-4-8-4-21-5-10z"/>
<path fill="#11257e" stroke="#11257e" stroke-width=".6" d="M769 200l4 2-4 4-5 1z"/>
<path fill="#1a3aac" stroke="#1a3aac" stroke-width=".6" d="M773 202l5-4-5 7-4 1zM813 200l4 5-5 4-4-7z"/>
<path fill="#1d42b8" stroke="#1d42b8" stroke-width=".6" d="M778 198l4-3-5 5-4 5zM822 213l4 6-5-2-4-1z"/>
<path fill="#295ed8" stroke="#295ed8" stroke-width=".6" d="M787 194l4 0-5-1-4 3z"/>
<path fill="#2c65e0" stroke="#2c65e0" stroke-width=".6" d="M791 194l4-3-4 1-5 1zM804 189l4 7-4-2-5-4z"/>
<path fill="#2049c0" stroke="#2049c0" stroke-width=".6" d="M808 196l5 4-5 2-4-8zM839 223l4 1 5 6-5 3-4-1-5-7zM857 231l4 4-5 7-4-6z"/>
<path fill="#2657d0" stroke="#2657d0" stroke-width=".6" d="M830 216l5 3-5 1-4-1z"/>
<path d="M646 88l5 1 4 1 4 1 5 3 4-1 4 1 5-3 4 0 5 0 4 2 4 1 5-1 4 6 4 3 5 8 4 8 5 3 4 5 4 7 5 6 4 0 4 6 5 7 4 16 5 10 4 21 4 8 5-1 4-1 4-5 5-4 4-3 5-1 4 1 4-3 5 4 4 8 4 7 5 7 4 1 5 2 4 1 4 5 5 7 4 1 4 0 5 3 4 6 5 0 4 2 4 2 5 3 4 1 4 2 5 3" fill="none" stroke="#000" stroke-width="2.5" stroke-linejoin="round"/>
<path fill="#448cf2" stroke="#448cf2" stroke-width=".6" d="M646 89l5 2 4 0-5 6-4-1-4-5z"/>
<path fill="#4c96f4" stroke="#4c96f4" stroke-width=".6" d="M655 91l4 1 5 3-5 3-4-3-5 2zM703 100l4 3-4 5-5-6z"/>
<path fill="#53a0f7" stroke="#53a0f7" stroke-width=".6" d="M664 95l4-1-5 1-4 3z"/>
<path fill="#5baaf9" stroke="#5baaf9" stroke-width=".6" d="M668 94l4 1-4 1-5-1z"/>
<path fill="#66b5fb" stroke="#66b5fb" stroke-width=".6" d="M672 95l5-3 4 0-4 5-5-1-4 0zM699 94l4 6-5 2-4-2z"/>
<path fill="#75c1fc" stroke="#75c1fc" stroke-width=".6" d="M681 92l5 0-5 3-4 2zM694 96l5-2-5 6-4-3z"/>
<path fill="#83ccfd" stroke="#83ccfd" stroke-width=".6" d="M686 92l4 2 4 2-4 1-5-1-4-1z"/>
<path fill="#3c82f0" stroke="#3c82f0" stroke-width=".6" d="M707 103l5 8-5 5-4-8z"/>
<path fill="#397ced" stroke="#397ced" stroke-width=".6" d="M712 111l4 9 5 2 4 5-5 3-4-5-4-5-5-4z"/>
<path fill="#3577eb" stroke="#3577eb" stroke-width=".6" d="M725 127l4 7-4 1-5-5z"/>
<path fill="#3271e8" stroke="#3271e8" stroke-width=".6" d="M729 134l5 6 4 0-5 5-4-5-4-5zM795 194l4-3-4 4-5 2z"/>
<path fill="#2f6ce5" stroke="#2f6ce5" stroke-width=".6" d="M738 140l4 6-4 3-5-4zM791 193l4 1-5 3-4 0z"/>
<path fill="#2350c8" stroke="#2350c8" stroke-width=".6" d="M742 146l5 7-5 1-4-5zM826 221l4 0-5 8-4-4zM839 234l4 0 4 0-4 4-5-5-4-4zM856 243l5 0 4 3 4 2 5 2 4 1 4 2-4 3-5-1-4-2-4-2-5-5-4-1-4 0z"/>
<path fill="#17339d" stroke="#17339d" stroke-width=".6" d="M747 153l4 16-4-1-5-14zM812 210l5 7-5 3-4-8z"/>
<path fill="#0e1e6e" stroke="#0e1e6e" stroke-width=".6" d="M751 169l5 10 4 21 4 8-4 2-5-14-4-16-4-12z"/>
<path fill="#11257e" stroke="#11257e" stroke-width=".6" d="M764 208l5-1-5 4-4-1z"/>
<path fill="#1a3aac" stroke="#1a3aac" stroke-width=".6" d="M769 207l4-1-5 0-4 5zM808 203l4 7-4 2-5-6z"/>
<path fill="#2049c0" stroke="#2049c0" stroke-width=".6" d="M773 206l4-5-4-3-5 8zM804 196l4 7-5 3-4-8zM821 218l5 3-5 4-4 0zM830 221l4 5 5 8-5-5-4 2-5-2zM847 234l5 3 4 6-4 2-5-3-4-4zM882 253l5 4-5 6-4-7z"/>
<path fill="#2657d0" stroke="#2657d0" stroke-width=".6" d="M777 201l5-3-5 0-4 0z"/>
<path fill="#295ed8" stroke="#295ed8" stroke-width=".6" d="M782 198l4-4-4 6-5-2z"/>
<path fill="#2c65e0" stroke="#2c65e0" stroke-width=".6" d="M786 194l5-1-5 4-4 3zM799 191l5 5-5 2-4-3z"/>
<path fill="#1d42b8" stroke="#1d42b8" stroke-width=".6" d="M817 217l4 1-4 7-5-5z"/>
<path d="M642 91l4 5 4 1 5-2 4 3 4-3 5 1 4 0 5 1 4-2 4 1 5 1 4 3 4 2 5 6 4 8 5 4 4 5 4 5 5 5 4 5 4 5 5 4 4 5 5 14 4 12 4 16 5 14 4 1 4-5 5-8 4 0 5 2 4-3 4 0 5-2 4 3 4 8 5 6 4 8 5 5 4 0 4 4 5 2 4-2 4 4 5 5 4 4 5 3 4 0 4 1 5 5 4 2 4 2 5 1 4 7" fill="none" stroke="#000" stroke-width="2.5" stroke-linejoin="round"/>
<path fill="#448cf2" stroke="#448cf2" stroke-width=".6" d="M642 92l4 6 4 0-4 1-5-1-4 0z"/>
<path fill="#4c96f4" stroke="#4c96f4" stroke-width=".6" d="M650 98l5-1 4 2-5 1-4 1-4-2zM698 104l5 5-5 4-4-6z"/>
<path fill="#53a0f7" stroke="#53a0f7" stroke-width=".6" d="M659 99l4-2-4 2-5 1z"/>
<path fill="#5baaf9" stroke="#5baaf9" stroke-width=".6" d="M663 97l5 1-5 0-4 1zM694 101l4 3-4 3-5-4z"/>
<path fill="#66b5fb" stroke="#66b5fb" stroke-width=".6" d="M668 98l4 0 5 0-5 0-4 2-5-2z"/>
<path fill="#75c1fc" stroke="#75c1fc" stroke-width=".6" d="M677 98l4-2-5 1-4 1zM690 98l4 3-5 2-4-2z"/>
<path fill="#83ccfd" stroke="#83ccfd" stroke-width=".6" d="M681 96l4 2 5 0-5 3-4-2-5-2z"/>
<path fill="#3c82f0" stroke="#3c82f0" stroke-width=".6" d="M703 109l4 9-4-4-5-1z"/>
<path fill="#397ced" stroke="#397ced" stroke-width=".6" d="M707 118l5 3 4 5-5 3-4-5-4-10z"/>
<path fill="#3577eb" stroke="#3577eb" stroke-width=".6" d="M716 126l4 5 5 5 4 5-5 3-4-5-4-5-5-5z"/>
<path fill="#3271e8" stroke="#3271e8" stroke-width=".6" d="M729 141l4 5-4 3-5-5zM790 198l5-2-5 4-4-1z"/>
<path fill="#2f6ce5" stroke="#2f6ce5" stroke-width=".6" d="M733 146l5 5-5-2-4 0zM786 198l4 0-4 1-5 5z"/>
<path fill="#2657d0" stroke="#2657d0" stroke-width=".6" d="M738 151l4 4-4 4-5-10zM773 199l4 0-4 4-5 2z"/>
<path fill="#1a3aac" stroke="#1a3aac" stroke-width=".6" d="M742 155l5 14-5 1-4-11zM764 212l4-4-4 1-5 4zM803 207l5 7-5 1-4-8zM812 221l5 5-5-3-4 0z"/>
<path fill="#0e1e6e" stroke="#0e1e6e" stroke-width=".6" d="M747 169l4 13 4 15 5 15-5-1-4-12-5-14-4-15z"/>
<path fill="#11257e" stroke="#11257e" stroke-width=".6" d="M760 212l4 0-5 1-4-2z"/>
<path fill="#2049c0" stroke="#2049c0" stroke-width=".6" d="M768 208l5-9-5 6-4 4zM799 200l4 7-4 0-5-9zM817 226l4 1 4 3 5 2-5 3-4-2-5-2-4-8zM860 247l5 5 4 2 4 2 5 1 4 7-5 1-4-2-4-2-5-3-4-4-4-3z"/>
<path fill="#295ed8" stroke="#295ed8" stroke-width=".6" d="M777 199l5 2 4-3-5 6-4 0-4-1z"/>
<path fill="#2c65e0" stroke="#2c65e0" stroke-width=".6" d="M795 196l4 4-5-2-4 2z"/>
<path fill="#17339d" stroke="#17339d" stroke-width=".6" d="M808 214l4 7-4 2-5-8z"/>
<path fill="#2350c8" stroke="#2350c8" stroke-width=".6" d="M830 232l4-1 4 4 5 4 4 4 5 3 4 0 4 1-4 4-5-4-4-2-5-4-4 0-4-2-5-1-4-3z"/>
<path d="M637 98l4 0 5 1 4 2 4-1 5-1 4-1 5 2 4-2 4-1 5 2 4 2 4 2 5 4 4 6 5 1 4 10 4 5 5 5 4 5 4 5 5 5 4 0 5 10 4 11 4 15 5 14 4 12 4 2 5-4 4-4 5-2 4 1 4 0 5-5 4 1 4-2 5 9 4 8 5 8 4 0 4 8 5 2 4 2 4 3 5 1 4 2 4 0 5 4 4 2 5 4 4 3 4 4 5 3 4 2 4 2" fill="none" stroke="#000" stroke-width="2.5" stroke-linejoin="round"/>
<path fill="#448cf2" stroke="#448cf2" stroke-width=".6" d="M637 100l4-1 5 1-5 3-4-6-5 2zM698 114l5 2-5 4-5-4z"/>
<path fill="#4c96f4" stroke="#4c96f4" stroke-width=".6" d="M646 100l4 2 4-1-4 3-5-1-4 0zM694 108l4 6-5 2-4-7z"/>
<path fill="#53a0f7" stroke="#53a0f7" stroke-width=".6" d="M654 101l5-1-5 4-4 0z"/>
<path fill="#5baaf9" stroke="#5baaf9" stroke-width=".6" d="M659 100l4-1-5 4-4 1z"/>
<path fill="#66b5fb" stroke="#66b5fb" stroke-width=".6" d="M663 99l5 2-5 0-5 2zM689 105l5 3-5 1-4-5z"/>
<path fill="#75c1fc" stroke="#75c1fc" stroke-width=".6" d="M668 101l4-1 4-2-4 6-5 0-4-3z"/>
<path fill="#83ccfd" stroke="#83ccfd" stroke-width=".6" d="M676 98l5 2 4 2 4 3-4-1-5-1-4-1-4 2z"/>
<path fill="#3c82f0" stroke="#3c82f0" stroke-width=".6" d="M703 116l4 9-5 0-4-5z"/>
<path fill="#397ced" stroke="#397ced" stroke-width=".6" d="M707 125l4 5-4 2-5-7z"/>
<path fill="#3577eb" stroke="#3577eb" stroke-width=".6" d="M711 130l5 6 4 4 4 5 5 5-5 3-4-6-5-5-4-3-4-7z"/>
<path fill="#2f6ce5" stroke="#2f6ce5" stroke-width=".6" d="M729 150l4 0-5 3-4 0zM781 205l5-5-5 0-4 3z"/>
<path fill="#2657d0" stroke="#2657d0" stroke-width=".6" d="M733 150l5 10-5 4-5-11zM768 206l5-2-5 3-5 2z"/>
<path fill="#1a3aac" stroke="#1a3aac" stroke-width=".6" d="M738 160l4 11-5 3-4-10zM759 215l5-5-5 3-4 8z"/>
<path fill="#0e1e6e" stroke="#0e1e6e" stroke-width=".6" d="M742 171l4 15 5 14 4 12 4 3-4 6-5-5-4-11-4-16-5-15z"/>
<path fill="#2049c0" stroke="#2049c0" stroke-width=".6" d="M764 210l4-4-5 3-4 4zM794 200l5 8-5 7-4-10zM816 232l5 2-5 2-4-3zM856 252l4 3 4 4 5 4 4 1 4 2-4 3-5-3-4 0-4-6-5-1-4-4z"/>
<path fill="#295ed8" stroke="#295ed8" stroke-width=".6" d="M773 204l4 1-5 0-4 2z"/>
<path fill="#2c65e0" stroke="#2c65e0" stroke-width=".6" d="M777 205l4 0-4-2-5 2zM790 201l4-1-4 5-5-6z"/>
<path fill="#3271e8" stroke="#3271e8" stroke-width=".6" d="M786 200l4 1-5-2-4 1z"/>
<path fill="#17339d" stroke="#17339d" stroke-width=".6" d="M799 208l4 8 5 8-5 2-5-6-4-5z"/>
<path fill="#1d42b8" stroke="#1d42b8" stroke-width=".6" d="M808 224l4 0 4 8-4 1-5-4-4-3z"/>
<path fill="#2350c8" stroke="#2350c8" stroke-width=".6" d="M821 234l4 2 4 3 5 1 4 2 4 0 5 4 4 2 5 4-5 3-4-3-5-1-4-3-5-4-4 0-4-5-5-3-4 0z"/>
<path d="M632 99l5-2 4 6 4 0 5 1 4 0 4-1 5-2 4 3 5 0 4-2 4 1 5 1 4 5 4 7 5 4 4 5 5 7 4 7 4 3 5 5 4 6 4 0 5 11 4 10 5 15 4 16 4 11 5 5 4-8 4-4 5-2 4-2 5-2 4-3 4-1 5 6 4 10 4 5 5 6 4 3 5 4 4 3 4 0 5 3 4 5 4 0 5 4 4 3 5 1 4 3 4 4 5 1 4 6 4 0 5 3" fill="none" stroke="#000" stroke-width="2.5" stroke-linejoin="round"/>
<path fill="#448cf2" stroke="#448cf2" stroke-width=".6" d="M632 100l5-2 4 6-5 3-4-4-4 1zM693 117l5 4-5 3-4-7z"/>
<path fill="#4c96f4" stroke="#4c96f4" stroke-width=".6" d="M641 104l4 0 5 1-5 2-4 1-5-1zM689 110l4 7-4 0-5-3z"/>
<path fill="#53a0f7" stroke="#53a0f7" stroke-width=".6" d="M650 105l4 0-5 3-4-1z"/>
<path fill="#5baaf9" stroke="#5baaf9" stroke-width=".6" d="M654 105l4-1-4 3-5 1z"/>
<path fill="#66b5fb" stroke="#66b5fb" stroke-width=".6" d="M658 104l5-2-5 5-4 0zM685 105l4 5-5 4-4-6z"/>
<path fill="#75c1fc" stroke="#75c1fc" stroke-width=".6" d="M663 102l4 3 5 1-5 1-4-4-5 4z"/>
<path fill="#83ccfd" stroke="#83ccfd" stroke-width=".6" d="M672 106l4-2 4 0 5 1-5 3-4 0-5-1-4 0z"/>
<path fill="#397ced" stroke="#397ced" stroke-width=".6" d="M698 121l4 6-4 4-5-7zM711 140l4 3-4 3-5-6z"/>
<path fill="#3577eb" stroke="#3577eb" stroke-width=".6" d="M702 127l5 7 4 6-5 0-4-1-4-8zM715 143l5 6 4 5-5 0-4-4-4-4z"/>
<path fill="#2f6ce5" stroke="#2f6ce5" stroke-width=".6" d="M724 154l4 0-4 4-5-4zM777 204l4-3-5 4-4 4z"/>
<path fill="#2657d0" stroke="#2657d0" stroke-width=".6" d="M728 154l5 11-5 2-4-9zM763 210l5-2-5 2-4 1z"/>
<path fill="#1a3aac" stroke="#1a3aac" stroke-width=".6" d="M733 165l4 10-4 0-5-8zM755 222l4-7-5 3-4 4zM798 221l5 6-5 2-4-6z"/>
<path fill="#0e1e6e" stroke="#0e1e6e" stroke-width=".6" d="M737 175l5 15 4 16 4 11 5 5-5 0-4-2-5-12-4-17-4-16z"/>
<path fill="#2049c0" stroke="#2049c0" stroke-width=".6" d="M759 215l4-5-4 1-5 7zM807 231l5 4 4 3-5 2-4-5-4-1zM829 246l4 0 5 3-5 4-4-2-5-5zM868 268l5 2-5 2-4-5z"/>
<path fill="#295ed8" stroke="#295ed8" stroke-width=".6" d="M768 208l4-2-4 5-5-1z"/>
<path fill="#2c65e0" stroke="#2c65e0" stroke-width=".6" d="M772 206l5-2-5 5-4 2zM785 200l5 6-5 3-4-3z"/>
<path fill="#3271e8" stroke="#3271e8" stroke-width=".6" d="M781 201l4-1-4 6-5-1z"/>
<path fill="#1d42b8" stroke="#1d42b8" stroke-width=".6" d="M790 206l4 11-5-1-4-7zM803 227l4 4-4 3-5-5z"/>
<path fill="#17339d" stroke="#17339d" stroke-width=".6" d="M794 217l4 4-4 2-5-7z"/>
<path fill="#2350c8" stroke="#2350c8" stroke-width=".6" d="M816 238l4 0 5 2 4 6-5 0-4-3-4-2-5-1zM838 249l4 3 5 1 4 4 4 3 5 1 4 6 4 1-4-1-5-2-4-4-4 1-5-1-4-7-4 2-5-3z"/>
<path d="M628 104l4-1 4 4 5 1 4-1 4 1 5-1 4 0 5-4 4 4 4 0 5 1 4 0 4 6 5 3 4 7 5 7 4 8 4 1 5 6 4 4 4 4 5 4 4 9 5 8 4 16 4 17 5 12 4 2 4-4 5-7 4-1 5 1 4-2 4-4 5 1 4 3 4 7 5 7 4 6 5 5 4 1 4 5 5 1 4 2 4 3 5 5 4 2 5 3 4-2 4 7 5 1 4-1 4 4 5 2 4 5" fill="none" stroke="#000" stroke-width="2.5" stroke-linejoin="round"/>
<path fill="#3c82f0" stroke="#3c82f0" stroke-width=".6" d="M628 105l4 0-5 6-4-5z"/>
<path fill="#448cf2" stroke="#448cf2" stroke-width=".6" d="M632 105l4 3-4 4-5-1zM689 118l4 7-4 5-5-9z"/>
<path fill="#4c96f4" stroke="#4c96f4" stroke-width=".6" d="M636 108l5 2-5 1-4 1zM684 115l5 3-5 3-4-2z"/>
<path fill="#53a0f7" stroke="#53a0f7" stroke-width=".6" d="M641 110l4-1 4 0-4 2-5 0-4 0z"/>
<path fill="#5baaf9" stroke="#5baaf9" stroke-width=".6" d="M649 109l5 0-5 2-4 0zM680 109l4 6-4 4-5-5z"/>
<path fill="#66b5fb" stroke="#66b5fb" stroke-width=".6" d="M654 109l4-1-4 3-5 0z"/>
<path fill="#75c1fc" stroke="#75c1fc" stroke-width=".6" d="M658 108l5-3-5 6-4 0z"/>
<path fill="#83ccfd" stroke="#83ccfd" stroke-width=".6" d="M663 105l4 4 4-1 5 1 4 0-5 5-4-6-4 6-5-5-4 2z"/>
<path fill="#397ced" stroke="#397ced" stroke-width=".6" d="M693 125l5 7-5 2-4-4zM702 140l4 1 5 6 4 4-5 1-4-3-4-4-5-4z"/>
<path fill="#3577eb" stroke="#3577eb" stroke-width=".6" d="M698 132l4 8-5 1-4-7zM715 151l4 4-4 3-5-6z"/>
<path fill="#2f6ce5" stroke="#2f6ce5" stroke-width=".6" d="M719 155l5 5-5 1-4-3zM772 211l4-5-4 3-5 1z"/>
<path fill="#2657d0" stroke="#2657d0" stroke-width=".6" d="M724 160l4 8-4 0-5-7zM759 212l4-1-4 3-5 5zM851 263l4 0-5 2-4-1z"/>
<path fill="#1a3aac" stroke="#1a3aac" stroke-width=".6" d="M728 168l5 8-5 6-4-14zM750 224l4-4-4 0-5 5zM794 225l4 5-4 4-5-6z"/>
<path fill="#11257e" stroke="#11257e" stroke-width=".6" d="M733 176l4 16-5 2-4-12z"/>
<path fill="#0e1e6e" stroke="#0e1e6e" stroke-width=".6" d="M737 192l4 17 5 12 4 3-5 1-4-1-4-14-5-16z"/>
<path fill="#2049c0" stroke="#2049c0" stroke-width=".6" d="M754 220l5-8-5 7-4 1zM803 235l4 2-5 4-4-5zM820 244l4 3 5 5 4 2-5 1-4-3-4-3-5-1zM864 268l4 6-5 3-4-5z"/>
<path fill="#295ed8" stroke="#295ed8" stroke-width=".6" d="M763 211l5 1-5-1-4 3zM781 207l4 3-5 3-4-3z"/>
<path fill="#2c65e0" stroke="#2c65e0" stroke-width=".6" d="M768 212l4-1-5-1-4 1z"/>
<path fill="#3271e8" stroke="#3271e8" stroke-width=".6" d="M776 206l5 1-5 3-4-1z"/>
<path fill="#1d42b8" stroke="#1d42b8" stroke-width=".6" d="M785 210l4 8-4 3-5-8zM798 230l5 5-5 1-4-2z"/>
<path fill="#17339d" stroke="#17339d" stroke-width=".6" d="M789 218l5 7-5 3-4-7z"/>
<path fill="#2350c8" stroke="#2350c8" stroke-width=".6" d="M807 237l4 4 5 2 4 1-5 4-4-7-4 2-5-2zM833 254l5 4 4-3 4 8 5 0-5 1-4-1-5-3-4-1-5-4zM855 263l4 3 5 2-5 4-4-2-5-5z"/>
<path d="M623 106l4 5 5 1 4-1 4 0 5 0 4 0 5 0 4 0 4-2 5 5 4-6 4 6 5 5 4 2 5 9 4 4 4 7 5 4 4 4 4 3 5 6 4 3 5 7 4 14 4 12 5 16 4 14 4 1 5-5 4-1 5-5 4-3 4-1 5-1 4 1 4 3 5 8 4 7 5 6 4 2 4 5 5 2 4-2 4 7 5 1 4 3 4 3 5 4 4 1 5 3 4 1 4 1 5 5 4 2 4 5" fill="none" stroke="#000" stroke-width="2.5" stroke-linejoin="round"/>
<path fill="#3c82f0" stroke="#3c82f0" stroke-width=".6" d="M623 107l4 6 5 0-5 4-4-4-5-2z"/>
<path fill="#4c96f4" stroke="#4c96f4" stroke-width=".6" d="M632 113l4-1-5 3-4 2z"/>
<path fill="#53a0f7" stroke="#53a0f7" stroke-width=".6" d="M636 112l4 0 5 1-5 0-4 4-5-2zM680 120l4 3-5 1-4-2z"/>
<path fill="#5baaf9" stroke="#5baaf9" stroke-width=".6" d="M645 113l4 0-5 1-4-1zM675 115l5 5-5 2-4-6z"/>
<path fill="#66b5fb" stroke="#66b5fb" stroke-width=".6" d="M649 113l5-1-5 3-5-1z"/>
<path fill="#75c1fc" stroke="#75c1fc" stroke-width=".6" d="M654 112l4 0-5 1-4 2z"/>
<path fill="#83ccfd" stroke="#83ccfd" stroke-width=".6" d="M658 112l4-2 5 5-5-3-4 1-5 0zM671 109l4 6-4 1-5-2z"/>
<path fill="#92d8fe" stroke="#92d8fe" stroke-width=".6" d="M667 115l4-6-5 5-4-2z"/>
<path fill="#448cf2" stroke="#448cf2" stroke-width=".6" d="M684 123l5 8-5-3-5-4z"/>
<path fill="#397ced" stroke="#397ced" stroke-width=".6" d="M689 131l4 4-5 2-4-9zM702 146l4 4 4 3 5 6-5 3-4-5-5-2-4-6z"/>
<path fill="#3577eb" stroke="#3577eb" stroke-width=".6" d="M693 135l4 7 5 4-5 3-4-5-5-7z"/>
<path fill="#2f6ce5" stroke="#2f6ce5" stroke-width=".6" d="M715 159l4 4-5 1-4-2zM763 213l4-2-4 2-5 1z"/>
<path fill="#2657d0" stroke="#2657d0" stroke-width=".6" d="M719 163l5 7-5 2-5-8zM754 220l5-5-5 2-5 1z"/>
<path fill="#1a3aac" stroke="#1a3aac" stroke-width=".6" d="M724 170l4 13-5 1-4-12zM745 226l5-5-5 2-4 9z"/>
<path fill="#11257e" stroke="#11257e" stroke-width=".6" d="M728 183l4 12-4 2-5-13z"/>
<path fill="#0e1e6e" stroke="#0e1e6e" stroke-width=".6" d="M732 195l5 17 4 14 4 0-4 6-5-6-4-10-4-19z"/>
<path fill="#2049c0" stroke="#2049c0" stroke-width=".6" d="M750 221l4-1-5-2-4 5zM798 238l4 4 5 2-5 5-4-5-5-4zM815 249l5 1-5 4-4-1zM859 273l4 5-4 0-5-3z"/>
<path fill="#295ed8" stroke="#295ed8" stroke-width=".6" d="M759 215l4-2-5 1-4 3zM776 211l4 3-4 3-5-5z"/>
<path fill="#3271e8" stroke="#3271e8" stroke-width=".6" d="M767 211l5 0 4 0-5 1-4-2-4 3z"/>
<path fill="#1d42b8" stroke="#1d42b8" stroke-width=".6" d="M780 214l5 9-5 1-4-7zM794 235l4 3-5 2-4-2z"/>
<path fill="#17339d" stroke="#17339d" stroke-width=".6" d="M785 223l4 7 5 5-5 3-5-5-4-9z"/>
<path fill="#2350c8" stroke="#2350c8" stroke-width=".6" d="M807 244l4-2 4 7-4 4-5-4-4 0zM820 250l4 4 4 2 5 4 4 1 5 3 4 1 4 1 5 5 4 2-5 2-4-1-4-1-5-5-4-2-4 0-5-7-4-2-5 1-4-4z"/>
<path d="M618 111l5 2 4 4 4-2 5 2 4-4 4 1 5 1 4-2 5 0 4-1 4 2 5 2 4 6 4 2 5 4 4 9 5 7 4 5 4 6 5 2 4 5 4 2 5 8 4 12 5 13 4 19 4 10 5 6 4-9 4-5 5-1 4-3 5-1 4-3 4 2 5 5 4 7 4 9 5 5 4 2 5 4 4 5 4 0 5 4 4 1 4 4 5-1 4 2 5 7 4 0 4 2 5 5 4 1 4 1 5 3" fill="none" stroke="#000" stroke-width="2.5" stroke-linejoin="round"/>
<path fill="#3c82f0" stroke="#3c82f0" stroke-width=".6" d="M618 112l5 3-5 4-4-1zM701 157l5 2-5-1-4-2z"/>
<path fill="#448cf2" stroke="#448cf2" stroke-width=".6" d="M623 115l4 3-5 1-4 0zM679 126l5 4-5 6-4-6z"/>
<path fill="#4c96f4" stroke="#4c96f4" stroke-width=".6" d="M627 118l4-2 5 2-5 1-4 2-5-2z"/>
<path fill="#53a0f7" stroke="#53a0f7" stroke-width=".6" d="M636 118l4-4-5 4-4 1zM675 123l4 3-4 4-5-5z"/>
<path fill="#5baaf9" stroke="#5baaf9" stroke-width=".6" d="M640 114l4 1-4 3-5 0zM671 117l4 6-5 2-4-4z"/>
<path fill="#66b5fb" stroke="#66b5fb" stroke-width=".6" d="M644 115l5 2 4-2-4 3-5 1-4-1z"/>
<path fill="#75c1fc" stroke="#75c1fc" stroke-width=".6" d="M653 115l5 0-5 2-4 1zM666 115l5 2-5 4-4-2z"/>
<path fill="#83ccfd" stroke="#83ccfd" stroke-width=".6" d="M658 115l4-2 4 2-4 4-5-4-4 2z"/>
<path fill="#397ced" stroke="#397ced" stroke-width=".6" d="M684 130l4 8 5 7-5 1-4-4-5-6zM697 150l4 7-4-1-5-2zM706 159l4 4-5-1-4-4z"/>
<path fill="#3577eb" stroke="#3577eb" stroke-width=".6" d="M693 145l4 5-5 4-4-8zM767 212l4 1-4 0-5-1z"/>
<path fill="#3271e8" stroke="#3271e8" stroke-width=".6" d="M710 163l4 2-4 5-5-8zM763 215l4-3-5 0-4 8z"/>
<path fill="#2657d0" stroke="#2657d0" stroke-width=".6" d="M714 165l5 8-5 0-4-3zM749 219l5-1-5 0-4 5z"/>
<path fill="#1d42b8" stroke="#1d42b8" stroke-width=".6" d="M719 173l4 12-4 0-5-12zM776 219l4 6-5 1-4-6zM789 239l4 2-4 4-5-2z"/>
<path fill="#11257e" stroke="#11257e" stroke-width=".6" d="M723 185l5 13-5 2-4-15z"/>
<path fill="#0e1e6e" stroke="#0e1e6e" stroke-width=".6" d="M728 198l4 19 4 10 5 6-5 2-4-7-5-9-4-19z"/>
<path fill="#1a3aac" stroke="#1a3aac" stroke-width=".6" d="M741 233l4-8-5 3-4 7z"/>
<path fill="#2049c0" stroke="#2049c0" stroke-width=".6" d="M745 225l4-6-4 4-5 5zM793 241l5 4 4 5-5 0-4-2-4-3zM833 267l4 0-5 4-4-3zM841 270l5 5-5 0-4 1zM854 276l5 3-5 6-4-5z"/>
<path fill="#295ed8" stroke="#295ed8" stroke-width=".6" d="M754 218l4-3-4 6-5-3zM771 213l5 6-5 1-4-7z"/>
<path fill="#2c65e0" stroke="#2c65e0" stroke-width=".6" d="M758 215l5 0-5 5-4 1z"/>
<path fill="#17339d" stroke="#17339d" stroke-width=".6" d="M780 225l4 9 5 5-5 4-4-8-5-9z"/>
<path fill="#2350c8" stroke="#2350c8" stroke-width=".6" d="M802 250l4 1 5 3 4 2 4 3 5 0 4 1 5 7-5 1-4-2-5-3-4-4-5-1-4-2-4-4-5-2zM837 267l4 3-4 6-5-5zM846 275l4 0 4 1-4 4-5 0-4-5z"/>
<path d="M614 118l4 1 4 0 5 2 4-2 4-1 5 0 4 1 5-1 4-1 4-2 5 4 4 2 4 4 5 5 4 6 5 6 4 4 4 8 5 2 4 2 4 4 5 8 4 3 5 12 4 15 4 19 5 9 4 7 4-7 5-5 4-5 5 3 4-1 4-8 5 1 4 7 4 6 5 9 4 8 5 2 4 3 4 2 5 2 4 4 4 2 5 1 4 4 5 3 4 2 4 3 5 5 4-1 4 5 5 0 4 5" fill="none" stroke="#000" stroke-width="2.5" stroke-linejoin="round"/>
<path fill="#3c82f0" stroke="#3c82f0" stroke-width=".6" d="M614 119l4 2-5 1-4-1zM675 131l4 7-4 3-5-6zM697 158l4 1-5 7-4-5z"/>
<path fill="#448cf2" stroke="#448cf2" stroke-width=".6" d="M618 121l4-1-4 5-5-3z"/>
<path fill="#4c96f4" stroke="#4c96f4" stroke-width=".6" d="M622 120l5 2 4-2-5 4-4-1-4 2zM670 126l5 5-5 4-4-4z"/>
<path fill="#53a0f7" stroke="#53a0f7" stroke-width=".6" d="M631 120l4 0-4 3-5 1z"/>
<path fill="#5baaf9" stroke="#5baaf9" stroke-width=".6" d="M635 120l5-1 4 1-4 5-5 0-4-2zM666 122l4 4-4 5-5-5z"/>
<path fill="#66b5fb" stroke="#66b5fb" stroke-width=".6" d="M644 120l5-1-5 1-4 5zM662 121l4 1-5 4-4-1z"/>
<path fill="#75c1fc" stroke="#75c1fc" stroke-width=".6" d="M649 119l4 0 4-2 5 4-5 4-4-1-5 0-4-4z"/>
<path fill="#397ced" stroke="#397ced" stroke-width=".6" d="M679 138l5 6 4 3 4 8 5 3-5 3-4-5-5-5-4-4-4-6zM701 159l4 4-4 4-5-1zM762 214l5 0-5-1-4 3z"/>
<path fill="#3271e8" stroke="#3271e8" stroke-width=".6" d="M705 163l5 8-5 0-4-4zM758 221l4-7-4 2-5 3z"/>
<path fill="#295ed8" stroke="#295ed8" stroke-width=".6" d="M710 171l4 4-4 3-5-7zM749 219l5 3-5 3-4-1zM767 214l4 7-5 1-4-9z"/>
<path fill="#1d42b8" stroke="#1d42b8" stroke-width=".6" d="M714 175l5 12-5 5-4-14zM740 229l5-5-5 7-4 5zM771 221l4 6-4 2-5-7zM784 244l5 3-5 2-5-3z"/>
<path fill="#11257e" stroke="#11257e" stroke-width=".6" d="M719 187l4 15-5 2-4-12z"/>
<path fill="#0e1e6e" stroke="#0e1e6e" stroke-width=".6" d="M723 202l4 19 5 8 4 8-5 0-4-7-4-9-5-17z"/>
<path fill="#1a3aac" stroke="#1a3aac" stroke-width=".6" d="M736 237l4-8-4 7-5 1z"/>
<path fill="#2350c8" stroke="#2350c8" stroke-width=".6" d="M745 224l4-5-4 5-5 7zM793 250l4 2 5 2 4 4 4 1 5 2 4 3 5 3-5 3-5-5-4-1-4-6-5-1-4 1-4-4-5-5zM828 270l4 2 5 5 4 0 4 4 5 1-5 2-4-2-5-3-4-4-4 0-5-5z"/>
<path fill="#2c65e0" stroke="#2c65e0" stroke-width=".6" d="M754 222l4-1-5-2-4 6z"/>
<path fill="#17339d" stroke="#17339d" stroke-width=".6" d="M775 227l5 9 4 8-5 2-4-8-4-9z"/>
<path fill="#2049c0" stroke="#2049c0" stroke-width=".6" d="M789 247l4 3-5-1-4 0zM824 267l4 3-5 0-4 0zM850 282l4 5-5 1-4-4z"/>
<path d="M609 121l4 1 5 3 4-2 4 1 5-1 4 2 5 0 4-5 4 4 5 0 4 1 4 1 5 5 4 4 5 6 4 6 4 4 5 5 4 5 4 5 5 1 4 4 5 7 4 14 4 12 5 17 4 9 4 7 5-1 4-5 5-7 4 1 4-6 5-3 4-3 4 9 5 7 4 9 4 8 5 3 4 0 5 5 4 4 4-1 5 1 4 6 4 1 5 5 4 0 5 5 4 0 4 4 5 3 4 2 4 4" fill="none" stroke="#000" stroke-width="2.5" stroke-linejoin="round"/>
<path fill="#3c82f0" stroke="#3c82f0" stroke-width=".6" d="M609 122l4 1-4 2-5-2zM670 136l5 7-5 3-5-7z"/>
<path fill="#448cf2" stroke="#448cf2" stroke-width=".6" d="M613 123l5 3-5 0-4-1z"/>
<path fill="#4c96f4" stroke="#4c96f4" stroke-width=".6" d="M618 126l4-2 4 2-4 0-5 1-4-1zM666 132l4 4-5 3-4-6z"/>
<path fill="#53a0f7" stroke="#53a0f7" stroke-width=".6" d="M626 126l5-2 4 2-5 2-4 2-4-4z"/>
<path fill="#5baaf9" stroke="#5baaf9" stroke-width=".6" d="M635 126l5 0-5 1-5 1zM661 127l5 5-5 1-4 0z"/>
<path fill="#66b5fb" stroke="#66b5fb" stroke-width=".6" d="M640 126l4-5 4 4 5 0-5 4-4 2-5-5-4 1zM657 126l4 1-4 6-5-4z"/>
<path fill="#75c1fc" stroke="#75c1fc" stroke-width=".6" d="M653 125l4 1-5 3-4 0z"/>
<path fill="#397ced" stroke="#397ced" stroke-width=".6" d="M675 143l4 5-5 5-4-7zM688 158l4 4 4 5 5 1-5 6-4-3-5-6-4-2zM758 218l4-4-5 3-4 1z"/>
<path fill="#3577eb" stroke="#3577eb" stroke-width=".6" d="M679 148l4 5 5 5-5 5-4-5-5-5zM701 168l4 4-5 4-4-2z"/>
<path fill="#295ed8" stroke="#295ed8" stroke-width=".6" d="M705 172l5 7-5 3-5-6zM745 225l4 1-5 1-4 4zM762 214l4 9-4 4-5-10z"/>
<path fill="#1d42b8" stroke="#1d42b8" stroke-width=".6" d="M710 179l4 14-5-3-4-8zM736 237l4-5-5 1-4 3zM779 247l5 4-5 0-4-4z"/>
<path fill="#142c8d" stroke="#142c8d" stroke-width=".6" d="M714 193l4 12-4-1-5-14z"/>
<path fill="#0e1e6e" stroke="#0e1e6e" stroke-width=".6" d="M718 205l5 17 4 9 4 7-4 1-5-4-4-11-4-20z"/>
<path fill="#1a3aac" stroke="#1a3aac" stroke-width=".6" d="M731 238l5-1-5-1-4 3zM766 223l5 7-5 5-4-8z"/>
<path fill="#2350c8" stroke="#2350c8" stroke-width=".6" d="M740 232l5-7-5 6-5 2zM797 259l4 0 5 0 4 7 4 0 5 5-5 2-4-5-5 0-4-2-4-5-5 0zM823 271l5 5 4 0 4 4 5 3 4 2-5 1-4-2-4 0-5-4-4-1-4-1z"/>
<path fill="#2c65e0" stroke="#2c65e0" stroke-width=".6" d="M749 226l4-6-4 5-5 2z"/>
<path fill="#3271e8" stroke="#3271e8" stroke-width=".6" d="M753 220l5-2-5 0-4 7z"/>
<path fill="#17339d" stroke="#17339d" stroke-width=".6" d="M771 230l4 9 4 8-4 0-5-4-4-8z"/>
<path fill="#2049c0" stroke="#2049c0" stroke-width=".6" d="M784 251l4 0 5 4 4 4-5 2-4-2-4-5-5-3zM819 271l4 0-4 7-5-5zM845 285l4 4-4 3-5-6z"/>
<path d="M604 123l5 2 4 1 4 1 5-1 4 4 4-2 5-1 4-1 5 5 4-2 4 0 5 4 4 0 4 6 5 7 4 7 5 5 4 5 4 2 5 6 4 3 4 2 5 6 4 8 5 14 4 20 4 11 5 4 4-3 4-3 5-2 4-4 5-2 4-7 4-1 5 10 4 8 4 8 5 4 4 4 5 3 4 5 4 2 5 0 4 5 4 2 5 0 4 5 5 5 4 1 4 1 5 4 4 0 4 2 5 6" fill="none" stroke="#000" stroke-width="2.5" stroke-linejoin="round"/>
<path fill="#3c82f0" stroke="#3c82f0" stroke-width=".6" d="M604 124l5 3 4 0-5 4-4-2-4-2zM687 167l5 5-5 0-4-1z"/>
<path fill="#448cf2" stroke="#448cf2" stroke-width=".6" d="M613 127l4 1-4 6-5-3zM661 135l4 5-4 8-5-6z"/>
<path fill="#4c96f4" stroke="#4c96f4" stroke-width=".6" d="M617 128l5-1 4 4-5 2-4-1-4 2z"/>
<path fill="#53a0f7" stroke="#53a0f7" stroke-width=".6" d="M626 131l4-2-4 7-5-3zM657 134l4 1-5 7-4-7z"/>
<path fill="#5baaf9" stroke="#5baaf9" stroke-width=".6" d="M630 129l5-1 4-1 5 6-5 0-4 1-5-3-4 5z"/>
<path fill="#66b5fb" stroke="#66b5fb" stroke-width=".6" d="M644 133l4-3 4 0 5 4-5 1-4-1-5 1-4-2z"/>
<path fill="#397ced" stroke="#397ced" stroke-width=".6" d="M665 140l5 7-5 4-4-3zM683 164l4 3-4 4-5-4zM692 172l4 3-5 2-4-5zM753 219l4-1-4 1-5-1z"/>
<path fill="#3577eb" stroke="#3577eb" stroke-width=".6" d="M670 147l4 7 5 6 4 4-5 3-4-5-4-4-5-7zM696 175l4 3-4 0-5-1zM749 226l4-7-5-1-4 7z"/>
<path fill="#2c65e0" stroke="#2c65e0" stroke-width=".6" d="M700 178l5 5-5 3-4-8zM744 229l5-3-5-1-4 6z"/>
<path fill="#2049c0" stroke="#2049c0" stroke-width=".6" d="M705 183l4 9-4 2-5-8zM779 252l5 3 4 5 4 2 5 0 4 6-5 3-4-1-4-6-5-3-4-2-4-3zM840 288l5 5-5 1-4 0z"/>
<path fill="#142c8d" stroke="#142c8d" stroke-width=".6" d="M709 192l5 13-5 3-4-14zM766 236l4 8-4 4-5-10z"/>
<path fill="#0e1e6e" stroke="#0e1e6e" stroke-width=".6" d="M714 205l4 21 4 10 5 4-5 6-4-9-5-10-4-19z"/>
<path fill="#1a3aac" stroke="#1a3aac" stroke-width=".6" d="M727 240l4-3-5 7-4 2zM762 229l4 7-5 2-4-11z"/>
<path fill="#1d42b8" stroke="#1d42b8" stroke-width=".6" d="M731 237l4-3-4 5-5 5zM775 248l4 4-4 4-5-3z"/>
<path fill="#2350c8" stroke="#2350c8" stroke-width=".6" d="M735 234l5-1-5 2-4 4zM801 268l4 1 5 1 4 4 5 5 4 1 4 1 5 4 4 0 4 3-4 6-5-4-4-2-4-4-5-4-4-2-4 0-5-6-4 1-5-2z"/>
<path fill="#2657d0" stroke="#2657d0" stroke-width=".6" d="M740 233l4-4-4 2-5 4zM757 218l5 11-5-2-4-8z"/>
<path fill="#17339d" stroke="#17339d" stroke-width=".6" d="M770 244l5 4-5 5-4-5z"/>
<path d="M600 127l4 2 4 2 5 3 4-2 4 1 5 3 4-5 5 3 4-1 4 2 5-1 4 1 4 7 5 6 4 3 5 7 4 4 4 5 5 4 4 1 4 5 5 1 4 8 5 8 4 14 4 19 5 10 4 9 4-2 5-5 4-4 5-4 4-6 4-7 5 1 4 8 4 11 5 10 4 5 5 3 4 3 4 2 5 3 4 6 4 1 5 2 4-1 5 6 4 0 4 2 5 4 4 4 4 2 5 4 4 0" fill="none" stroke="#000" stroke-width="2.5" stroke-linejoin="round"/>
<path fill="#397ced" stroke="#397ced" stroke-width=".6" d="M600 129l4 2-5 5-4-1zM665 152l5 7-5 1-4-5zM678 168l5 4-5 4-4-4z"/>
<path fill="#3c82f0" stroke="#3c82f0" stroke-width=".6" d="M604 131l4 1 5 3-5 7-4-5-5-1zM661 149l4 3-4 3-5-4zM683 172l4 1 4 5-4 3-5-5-4 0zM748 219l5 1-5 3-4 0z"/>
<path fill="#448cf2" stroke="#448cf2" stroke-width=".6" d="M613 135l4-1-5 4-4 4zM656 143l5 6-5 2-4-5z"/>
<path fill="#4c96f4" stroke="#4c96f4" stroke-width=".6" d="M617 134l4 0 5 3-5 2-4-2-5 1z"/>
<path fill="#53a0f7" stroke="#53a0f7" stroke-width=".6" d="M626 137l4-5-4 8-5-1zM652 136l4 7-4 3-5-3z"/>
<path fill="#5baaf9" stroke="#5baaf9" stroke-width=".6" d="M630 132l5 3 4-1 4 2 5-1 4 1-5 7-4 0-4-1-5-1-4-3-4 2z"/>
<path fill="#3577eb" stroke="#3577eb" stroke-width=".6" d="M670 159l4 5 4 4-4 4-5-6-4-6zM691 178l5 1-5 3-4-1zM744 226l4-7-4 4-5 3z"/>
<path fill="#295ed8" stroke="#295ed8" stroke-width=".6" d="M696 179l4 8-4 2-5-7zM735 237l5-5-5 1-5 3z"/>
<path fill="#1d42b8" stroke="#1d42b8" stroke-width=".6" d="M700 187l5 9-5 4-4-11zM726 246l5-6-5 1-4 6zM770 254l5 3-5 3-5-4z"/>
<path fill="#142c8d" stroke="#142c8d" stroke-width=".6" d="M705 196l4 13-5 8-4-17zM761 240l5 9-5 5-4-12z"/>
<path fill="#0e1e6e" stroke="#0e1e6e" stroke-width=".6" d="M709 209l4 19 5 10 4 9-5 0-4-8-4-7-5-15z"/>
<path fill="#1a3aac" stroke="#1a3aac" stroke-width=".6" d="M722 247l4-1-4 1-5 0zM757 228l4 12-4 2-5-12z"/>
<path fill="#2350c8" stroke="#2350c8" stroke-width=".6" d="M731 240l4-3-5-1-4 5zM796 272l5 2 4-1 5 6 4 1 4 1 5 4-5 4-4-6-5-1-4 0-5-4-4 1-4-3z"/>
<path fill="#2f6ce5" stroke="#2f6ce5" stroke-width=".6" d="M740 232l4-6-5 0-4 7z"/>
<path fill="#2657d0" stroke="#2657d0" stroke-width=".6" d="M753 220l4 8-5 2-4-7z"/>
<path fill="#17339d" stroke="#17339d" stroke-width=".6" d="M766 249l4 5-5 2-4-2z"/>
<path fill="#2049c0" stroke="#2049c0" stroke-width=".6" d="M775 257l4 3 4 2 5 4 4 5 4 1-4 4-5-6-4-2-4-1-5-5-4-2zM823 285l4 4 4 2 5 4 4 0-5 5-4-5-4-2-5-1-4-3z"/>
<path d="M595 135l4 1 5 1 4 5 4-4 5-1 4 2 5 1 4-2 4 3 5 1 4 1 4 0 5 3 4 5 5 4 4 5 4 6 5 6 4 4 4 0 5 5 4 1 5 7 4 11 4 17 5 15 4 7 4 8 5 0 4-6 4-5 5-3 4-7 5-3 4 0 4 7 5 12 4 12 4 2 5 4 4 2 5 5 4 1 4 2 5 6 4 3 4-1 5 4 4 0 5 1 4 6 4 3 5 1 4 2 4 5" fill="none" stroke="#000" stroke-width="2.5" stroke-linejoin="round"/>
<path fill="#397ced" stroke="#397ced" stroke-width=".6" d="M595 137l4 1 5 0-5 5-4-4-5-1zM656 152l5 4-5 6-5-5zM674 174l4 3-5 5-4-6zM687 182l4 2-5 0-4-3zM739 227l5-3-5 0-4 5z"/>
<path fill="#3c82f0" stroke="#3c82f0" stroke-width=".6" d="M604 138l4 5-5-1-4 1zM678 177l4 0-4 6-5-1zM744 224l4 0-5 0-4 0z"/>
<path fill="#448cf2" stroke="#448cf2" stroke-width=".6" d="M608 143l4-4 5-1-5 6-4-2-5 0zM652 147l4 5-5 5-4-4zM682 177l5 5-5-1-4 2z"/>
<path fill="#4c96f4" stroke="#4c96f4" stroke-width=".6" d="M617 138l4 3 5 0-5 1-5 1-4 1zM647 144l5 3-5 6-4-5z"/>
<path fill="#53a0f7" stroke="#53a0f7" stroke-width=".6" d="M626 141l4-2 4 4 5 0-5 3-4-1-5 0-4-3z"/>
<path fill="#5baaf9" stroke="#5baaf9" stroke-width=".6" d="M639 143l4 1 4 0-4 4-5-1-4-1z"/>
<path fill="#3577eb" stroke="#3577eb" stroke-width=".6" d="M661 156l4 5 4 6 5 7-5 2-4-3-5-5-4-6z"/>
<path fill="#295ed8" stroke="#295ed8" stroke-width=".6" d="M691 184l5 7-5 2-5-9zM730 237l5-2-5 2-4 1z"/>
<path fill="#1d42b8" stroke="#1d42b8" stroke-width=".6" d="M696 191l4 11-5 1-4-10zM722 248l4-6-5 4-4 2zM765 258l5 3-5 2-4-4z"/>
<path fill="#11257e" stroke="#11257e" stroke-width=".6" d="M700 202l4 16-4 2-5-17zM757 243l4 12-5 1-4-11z"/>
<path fill="#0e1e6e" stroke="#0e1e6e" stroke-width=".6" d="M704 218l5 16 4 6 4 8-4 4-5-5-4-16-4-11z"/>
<path fill="#1a3aac" stroke="#1a3aac" stroke-width=".6" d="M717 248l5 0-5 0-4 4zM752 231l5 12-5 2-4-13z"/>
<path fill="#2350c8" stroke="#2350c8" stroke-width=".6" d="M726 242l4-5-4 1-5 8zM774 264l5 4-5-1-4-2zM783 269l4 3 5 5 4 3 4-1 5 4 4 0 5 1 4 6 4 3 5 2-5 2-4-6-5 2-4-1-4-4-5-6-4-1-5-1-4-5-4-2-5 1z"/>
<path fill="#2f6ce5" stroke="#2f6ce5" stroke-width=".6" d="M735 235l4-8-4 2-5 8z"/>
<path fill="#2657d0" stroke="#2657d0" stroke-width=".6" d="M748 224l4 7-4 1-5-8z"/>
<path fill="#17339d" stroke="#17339d" stroke-width=".6" d="M761 255l4 3-4 1-5-3z"/>
<path fill="#2049c0" stroke="#2049c0" stroke-width=".6" d="M770 261l4 3-4 1-5-2zM779 268l4 1-5 5-4-7zM827 295l4 1 4 5-4 2-5-1-4-5z"/>
<path d="M590 138l5 1 4 4 4-1 5 0 4 2 4-1 5-1 4 3 5 0 4 1 4 1 5 1 4 5 4 4 5 5 4 6 5 5 4 3 4 6 5 1 4-2 4 3 5 9 4 10 5 17 4 11 4 16 5 5 4-4 4-2 5-8 4-1 5-8 4-5 4 0 5 8 4 13 4 11 5 3 4 4 5 2 4 2 4 7 5-1 4 2 4 5 5 1 4 1 5 6 4 4 4 1 5-2 4 6 4 5 5 1" fill="none" stroke="#000" stroke-width="2.5" stroke-linejoin="round"/>
<path fill="#397ced" stroke="#397ced" stroke-width=".6" d="M590 139l5 2 4 3-5 2-4-2-4-4zM651 158l5 5-5 1-4-3zM669 177l4 6-4 2-5-3zM735 230l4-5-5 2-4 6z"/>
<path fill="#3c82f0" stroke="#3c82f0" stroke-width=".6" d="M599 144l4-1-4 4-5-1zM647 154l4 4-4 3-5-3zM673 183l5 2-5 3-4-3zM682 182l4 4-4 5-5-3zM739 225l4 0-4 3-5-1z"/>
<path fill="#448cf2" stroke="#448cf2" stroke-width=".6" d="M603 143l5 0 4 3 4-2-4 7-5 0-4-4-4 0zM678 185l4-3-5 6-4 0z"/>
<path fill="#4c96f4" stroke="#4c96f4" stroke-width=".6" d="M616 144l5-1 4 3-4 6-5-2-4 1zM643 150l4 4-5 4-4-5z"/>
<path fill="#53a0f7" stroke="#53a0f7" stroke-width=".6" d="M625 146l5 0 4 1 4 2 5 1-5 3-4-2-5 3-4-4-4 2z"/>
<path fill="#3577eb" stroke="#3577eb" stroke-width=".6" d="M656 163l4 7-4 3-5-9zM665 174l4 3-5 5-4-4z"/>
<path fill="#3271e8" stroke="#3271e8" stroke-width=".6" d="M660 170l5 4-5 4-4-5z"/>
<path fill="#2c65e0" stroke="#2c65e0" stroke-width=".6" d="M686 186l5 9-5 3-4-7z"/>
<path fill="#1d42b8" stroke="#1d42b8" stroke-width=".6" d="M691 195l4 9-4 6-5-12zM761 260l4 4-4 5-5-4z"/>
<path fill="#142c8d" stroke="#142c8d" stroke-width=".6" d="M695 204l5 17-5-1-4-10zM756 257l5 3-5 5-4-4z"/>
<path fill="#0e1e6e" stroke="#0e1e6e" stroke-width=".6" d="M700 221l4 12 4 15 5 5-5 3-4-6-5-13-4-17z"/>
<path fill="#1a3aac" stroke="#1a3aac" stroke-width=".6" d="M713 253l4-4-5 5-4 2zM748 234l4 12-5 3-4-16z"/>
<path fill="#2049c0" stroke="#2049c0" stroke-width=".6" d="M717 249l4-2-4 0-5 7zM765 264l5 2-5 4-4-1zM800 284l5 5 4 4-5 1-4-1-4-7zM822 298l4 5 5 1-5 2-4-4-5-2z"/>
<path fill="#2350c8" stroke="#2350c8" stroke-width=".6" d="M721 247l5-7-5 3-4 4zM770 266l4 3 4 6 5-1-5 4-4-3-5 0-4-5zM796 282l4 2-4 2-5-4zM809 293l4 1-4 2-5-2zM818 292l4 6-5 2-4-5z"/>
<path fill="#295ed8" stroke="#295ed8" stroke-width=".6" d="M726 240l4-2-4 2-5 3zM743 225l5 9-5-1-4-5z"/>
<path fill="#2f6ce5" stroke="#2f6ce5" stroke-width=".6" d="M730 238l5-8-5 3-4 7z"/>
<path fill="#11257e" stroke="#11257e" stroke-width=".6" d="M752 246l4 11-4 4-5-12z"/>
<path fill="#2657d0" stroke="#2657d0" stroke-width=".6" d="M783 274l4 2 4 6 5 0-5 0-4-2-5-1-4-1zM813 294l5-2-5 3-4 1z"/>
<path d="M586 140l4 4 4 2 5 1 4 0 4 4 5 0 4-1 5 2 4-2 4 4 5-3 4 2 4 5 5 3 4 3 5 9 4 5 4 4 5 3 4 3 4 0 5 3 4 7 5 12 4 10 4 17 5 13 4 6 4-2 5-7 4-4 5-3 4-7 4-6 5 1 4 5 4 16 5 12 4 4 5 4 4 1 4 5 5 0 4 3 4 1 5 1 4 2 5 4 4 7 4 1 5 2 4-1 4 5 5 2 4 4" fill="none" stroke="#000" stroke-width="2.5" stroke-linejoin="round"/>
<path fill="#3577eb" stroke="#3577eb" stroke-width=".6" d="M586 141l4 4-5 5-4-3zM651 165l5 9 4 5 4 5-4 1-5-4-4-4-4-5z"/>
<path fill="#397ced" stroke="#397ced" stroke-width=".6" d="M590 145l4 2 5 2-5 7-4-8-5 2zM647 163l4 2-4 7-5-4zM730 234l4-6-4-2-5 10z"/>
<path fill="#3c82f0" stroke="#3c82f0" stroke-width=".6" d="M599 149l4 0 4 3 5 0-5 4-4 1-5-5-4 4zM642 159l5 4-5 5-4-4zM664 184l5 3-5 0-4-2zM677 189l5 3-5-4-4 0z"/>
<path fill="#448cf2" stroke="#448cf2" stroke-width=".6" d="M612 152l4-1-4 5-5 0zM638 154l4 5-4 5-5-2zM669 187l4 3-5 0-4-3zM734 228l5 1-5 1-4-4z"/>
<path fill="#4c96f4" stroke="#4c96f4" stroke-width=".6" d="M616 151l5 2 4-1 4 4-4 5-5-3-4-6-4 4zM673 190l4-1-4-1-5 2z"/>
<path fill="#53a0f7" stroke="#53a0f7" stroke-width=".6" d="M629 156l5-3 4 1-5 8-4-5-4 4z"/>
<path fill="#2f6ce5" stroke="#2f6ce5" stroke-width=".6" d="M682 192l4 8-4-8-5-4zM726 241l4-7-5 2-4 6z"/>
<path fill="#2049c0" stroke="#2049c0" stroke-width=".6" d="M686 200l5 11-5-5-4-14zM761 270l4 1-5 6-4-5zM796 288l4 6 4 1-4 3-5-5-4-2zM817 301l5 2 4 5-5 2-4 1-4-7z"/>
<path fill="#142c8d" stroke="#142c8d" stroke-width=".6" d="M691 211l4 11-5 1-4-17zM752 262l4 5-5 1-4-5z"/>
<path fill="#0e1e6e" stroke="#0e1e6e" stroke-width=".6" d="M695 222l4 17 5 12 4 6-5 2-4-9-4-11-5-16z"/>
<path fill="#1a3aac" stroke="#1a3aac" stroke-width=".6" d="M708 257l4-2-4 1-5 3z"/>
<path fill="#1d42b8" stroke="#1d42b8" stroke-width=".6" d="M712 255l5-6-5 5-4 2zM756 267l5 3-5 2-5-4z"/>
<path fill="#2350c8" stroke="#2350c8" stroke-width=".6" d="M717 249l4-5-5 5-4 5zM765 271l4 5 5 0 4 3 4 1 5 1 4 2 5 5-5 3-5 0-4-3-4-2-5-5-4-3-4-1-5 0zM804 295l5 2 4 0 4 4-4 3-5-2-4 0-4-4z"/>
<path fill="#295ed8" stroke="#295ed8" stroke-width=".6" d="M721 244l5-3-5 1-5 7z"/>
<path fill="#2657d0" stroke="#2657d0" stroke-width=".6" d="M739 229l4 6-5 3-4-8z"/>
<path fill="#17339d" stroke="#17339d" stroke-width=".6" d="M743 235l4 16-4 4-5-17z"/>
<path fill="#11257e" stroke="#11257e" stroke-width=".6" d="M747 251l5 11-5 1-4-8z"/>
<path d="M581 147l4 3 5-2 4 8 4-4 5 5 4-1 5 0 4-4 4 6 5 3 4-4 4 5 5 2 4 4 5 4 4 5 4 4 5 4 4 2 4 3 5-2 4 0 5 4 4 14 4 17 5 16 4 11 4 9 5-3 4-2 4-5 5-7 4-6 5-10 4 4 4 8 5 17 4 8 4 5 5 4 4 5 5 0 4 1 4 3 5 5 4 2 4 3 5 0 4 2 5 5 4 4 4 0 5 2 4 7 4-1" fill="none" stroke="#000" stroke-width="2.5" stroke-linejoin="round"/>
<path fill="#3577eb" stroke="#3577eb" stroke-width=".6" d="M581 149l4 2 5-2-5 10-4-5-5-1zM647 173l4 5-5 2-4-2z"/>
<path fill="#397ced" stroke="#397ced" stroke-width=".6" d="M590 149l4 8 4-3-4 6-5-3-4 2zM642 169l5 4-5 5-5-6zM651 178l4 4 5 4-5 3-4-6-5-3zM677 189l5 4-5-5-5-8z"/>
<path fill="#3c82f0" stroke="#3c82f0" stroke-width=".6" d="M598 154l5 4 4 0 5-1-5 6-5 1-4-5-4 1zM633 163l5 3 4 3-5 3-4-1-4-4zM725 237l5-10-5 4-4 6z"/>
<path fill="#448cf2" stroke="#448cf2" stroke-width=".6" d="M612 157l4-4-5 10-4 0zM660 186l4 3-5 4-4-4zM730 227l4 5-5 1-4-2z"/>
<path fill="#4c96f4" stroke="#4c96f4" stroke-width=".6" d="M616 153l4 7 5 2 4-4 4 5-4 4-5-4-4 3-4-4-5 1zM664 189l4 2-4 0-5 2zM673 189l4 0-5-9-4 4z"/>
<path fill="#53a0f7" stroke="#53a0f7" stroke-width=".6" d="M668 191l5-2-5-5-4 7z"/>
<path fill="#2657d0" stroke="#2657d0" stroke-width=".6" d="M682 193l4 14-5-3-4-16zM734 232l4 7-4 0-5-6z"/>
<path fill="#17339d" stroke="#17339d" stroke-width=".6" d="M686 207l4 17-4-1-5-19z"/>
<path fill="#0e1e6e" stroke="#0e1e6e" stroke-width=".6" d="M690 224l5 16 4 12 4 8-4 2-5-2-4-21-4-16z"/>
<path fill="#1a3aac" stroke="#1a3aac" stroke-width=".6" d="M703 260l5-2-5 4-4 0zM738 239l5 17-5-1-4-16zM751 270l5 3-5 5-4-6z"/>
<path fill="#1d42b8" stroke="#1d42b8" stroke-width=".6" d="M708 258l4-3-5 0-4 7z"/>
<path fill="#2350c8" stroke="#2350c8" stroke-width=".6" d="M712 255l4-5-4 0-5 5zM760 278l5 0 4 1-5 3-4-3-4-1zM791 293l4 1 5 5-5 2-4-1-5-2zM804 304l4-1 5 2 4 8 4-2-4 4-5-7-4 1-4-1-5-3z"/>
<path fill="#295ed8" stroke="#295ed8" stroke-width=".6" d="M716 250l5-7-5 1-4 6z"/>
<path fill="#3271e8" stroke="#3271e8" stroke-width=".6" d="M721 243l4-6-4 0-5 7z"/>
<path fill="#11257e" stroke="#11257e" stroke-width=".6" d="M743 256l4 9-5 1-4-11z"/>
<path fill="#142c8d" stroke="#142c8d" stroke-width=".6" d="M747 265l4 5-4 2-5-6z"/>
<path fill="#2049c0" stroke="#2049c0" stroke-width=".6" d="M756 273l4 5-4 0-5 0zM769 279l4 3 5 5 4 2 4 4 5 0-5 5-4-2-5-4-4-6-4 2-5-6zM800 299l4 5-5 1-4-4z"/>
<path d="M576 153l5 1 4 5 4-2 5 3 4-1 4 5 5-1 4 0 5-1 4 4 4-3 5 4 4 4 4 1 5 6 4 2 5 3 4 6 4 4 5-2 4-7 4-4 5 8 4 16 5 19 4 16 4 21 5 2 4 0 4-7 5-5 4-6 5-7 4-6 4 2 5 6 4 16 4 11 5 6 4 6 5 0 4 1 4 3 5 6 4-2 4 6 5 4 4 2 5 2 4 1 4 4 5 3 4 1 4-1 5 7" fill="none" stroke="#000" stroke-width="2.5" stroke-linejoin="round"/>
<path fill="#3271e8" stroke="#3271e8" stroke-width=".6" d="M576 154l5 1-5 5-4-4zM716 246l5-7-5-2-4 10z"/>
<path fill="#3577eb" stroke="#3577eb" stroke-width=".6" d="M581 155l4 5-5 1-4-1zM642 179l4 3-4 5-5-4z"/>
<path fill="#397ced" stroke="#397ced" stroke-width=".6" d="M585 160l4-2 5 3-5 1-4 2-5-3zM637 173l5 6-5 4-4-4zM646 182l5 2-5 8-4-5z"/>
<path fill="#3c82f0" stroke="#3c82f0" stroke-width=".6" d="M594 161l4-1 4 5 5-1 4 0-4 3-5 4-4-5-5-2-4-2zM629 168l4 4 4 1-4 6-5-2-4-3zM651 184l4 6-5 2-4 0zM721 239l4-7-5-1-4 6z"/>
<path fill="#448cf2" stroke="#448cf2" stroke-width=".6" d="M611 164l5-1 4 4 4-3 5 4-5 6-4-3-5-2-4-2-4 0zM655 190l4 4-4 3-5-5zM725 232l4 3-4 2-5-6z"/>
<path fill="#4c96f4" stroke="#4c96f4" stroke-width=".6" d="M659 194l5-2-5 0-4 5zM672 182l5 7-5-10-4-5z"/>
<path fill="#5baaf9" stroke="#5baaf9" stroke-width=".6" d="M664 192l4-7-5-2-4 9z"/>
<path fill="#66b5fb" stroke="#66b5fb" stroke-width=".6" d="M668 185l4-3-4-8-5 9z"/>
<path fill="#2c65e0" stroke="#2c65e0" stroke-width=".6" d="M677 189l4 17-4-8-5-19z"/>
<path fill="#1a3aac" stroke="#1a3aac" stroke-width=".6" d="M681 206l5 18-5-1-4-25zM699 263l4 0-5 2-4 1zM734 241l4 16-5 1-4-14zM747 273l4 6-4 0-5-3z"/>
<path fill="#0e1e6e" stroke="#0e1e6e" stroke-width=".6" d="M686 224l4 16 4 21 5 2-5 3-4-10-5-9-4-24z"/>
<path fill="#1d42b8" stroke="#1d42b8" stroke-width=".6" d="M703 263l4-7-4 4-5 5z"/>
<path fill="#2350c8" stroke="#2350c8" stroke-width=".6" d="M707 256l5-5-5 4-4 5zM751 279l5 0 4 1 4 3-4 2-5 0-4-4-4-2zM782 298l4 1 5 2 4 1 4 4 5 4 4 0 4 0 5 6-5 1-4-1-5-4-4-5-4 0-5-4-4-2-4 0-5 0z"/>
<path fill="#295ed8" stroke="#295ed8" stroke-width=".6" d="M712 251l4-5-4 1-5 8z"/>
<path fill="#2657d0" stroke="#2657d0" stroke-width=".6" d="M729 235l5 6-5 3-4-7z"/>
<path fill="#142c8d" stroke="#142c8d" stroke-width=".6" d="M738 257l4 11 5 5-5 3-4-7-5-11z"/>
<path fill="#2049c0" stroke="#2049c0" stroke-width=".6" d="M764 283l5 7 4-2 4 5 5 5-5 3-4-5-5-2-4-1-4-8z"/>
<path d="M572 156l4 4 4 1 5 3 4-2 4 2 5 2 4 5 5-4 4 0 4 2 5 2 4 3 4 3 5 2 4 4 5 4 4 5 4 0 5 5 4-5 4-9 5-9 4 5 5 19 4 25 4 24 5 9 4 10 4-1 5-5 4-5 5-8 4-10 4-6 5 6 4 7 4 14 5 11 4 7 5 3 4 2 4 4 5 0 4 8 4 1 5 2 4 5 5 0 4 0 4 2 5 4 4 0 4 5 5 4 4 1" fill="none" stroke="#000" stroke-width="2.5" stroke-linejoin="round"/>
<path fill="#3271e8" stroke="#3271e8" stroke-width=".6" d="M572 157l4 4-5 4-4-4z"/>
<path fill="#3577eb" stroke="#3577eb" stroke-width=".6" d="M576 161l4 1-4 6-5-3zM637 184l5 4 4 5-5 5-4-3-4-6zM672 180l5 19-5-6-5-19zM712 248l4-9-5 0-4 10z"/>
<path fill="#397ced" stroke="#397ced" stroke-width=".6" d="M580 162l5 4 4-3 4 3 5 1 4 5 5-3-5 7-4-2-5-5-4 3-5-4-4-2-4 2zM628 178l5 2 4 4-4 5-5-4-4-3z"/>
<path fill="#3c82f0" stroke="#3c82f0" stroke-width=".6" d="M607 169l4-1-5 6-4 2zM615 170l5 2 4 3 4 3-4 4-5-2-4-2-4-2zM646 193l4 0-4 5-5 0z"/>
<path fill="#448cf2" stroke="#448cf2" stroke-width=".6" d="M611 168l4 2-4 6-5-2zM716 239l4-6 5 5-5-4-4-1-5 6z"/>
<path fill="#4c96f4" stroke="#4c96f4" stroke-width=".6" d="M650 193l5 6 4-6-5-1-4 8-4-2z"/>
<path fill="#66b5fb" stroke="#66b5fb" stroke-width=".6" d="M659 193l4-9-4-6-5 14zM668 175l4 5-5-6-4-4z"/>
<path fill="#92d8fe" stroke="#92d8fe" stroke-width=".6" d="M663 184l5-9-5-5-4 8z"/>
<path fill="#2049c0" stroke="#2049c0" stroke-width=".6" d="M677 199l4 25-5-1-4-30zM755 287l5-1 4 8-5-1-4 0-4-8z"/>
<path fill="#0e1e6e" stroke="#0e1e6e" stroke-width=".6" d="M681 224l4 24 5 9 4 10-5 2-4-9-4-16-5-21z"/>
<path fill="#1a3aac" stroke="#1a3aac" stroke-width=".6" d="M694 267l4 0-4 2-5 0zM729 246l4 13-4 1-5-12z"/>
<path fill="#1d42b8" stroke="#1d42b8" stroke-width=".6" d="M698 267l5-6-5 4-4 4zM742 277l5 3-5 3-5-3z"/>
<path fill="#2350c8" stroke="#2350c8" stroke-width=".6" d="M703 261l4-5-5 3-4 6zM747 280l4 2 4 5-4-2-5 1-4-3zM764 294l4 1 5 2 4 5 5 1 4-1 4 2 5 5 4 0 4 4 5 4 4 1-5 2-4-2-4 2-5-4-4-6-4 1-5-3-4-7-5 1-4-4-4-4-5-1z"/>
<path fill="#295ed8" stroke="#295ed8" stroke-width=".6" d="M707 256l5-8-5 1-5 10z"/>
<path fill="#2657d0" stroke="#2657d0" stroke-width=".6" d="M725 238l4 8-5 2-4-14z"/>
<path fill="#142c8d" stroke="#142c8d" stroke-width=".6" d="M733 259l5 11 4 7-5 3-4-7-4-13z"/>
<path d="M567 161l4 4 5 3 4-2 4 2 5 4 4-3 5 5 4 2 4-2 5 2 4 2 4 2 5 2 4 3 5 4 4 6 4 3 5 0 4 2 4-8 5-14 4-8 4 4 5 19 4 30 5 21 4 16 4 9 5 0 4-4 4-6 5-10 4-10 5-6 4 1 4 14 5 12 4 13 4 7 5 3 4 3 5-1 4 8 4 0 5 1 4 4 4 4 5-1 4 7 5 3 4-1 4 6 5 4 4-2 4 2" fill="none" stroke="#000" stroke-width="2.5" stroke-linejoin="round"/>
<path fill="#3577eb" stroke="#3577eb" stroke-width=".6" d="M567 162l4 5 5 2-5 1-4-2-5-1zM584 169l5 4 4-3-5 5-4 3-4-8zM633 190l4 6-5 1-4-4zM707 250l4-10-4 2-5 10z"/>
<path fill="#397ced" stroke="#397ced" stroke-width=".6" d="M576 169l4-2 4 2-4 1-5 0-4 0zM593 170l5 6 4 1-5 3-4 3-5-8zM615 179l4 2 5 2 4 3 5 4-5 3-5-2-4-2-4-2-5-4zM637 196l4 3-4 1-5-3zM667 175l5 19-5 0-4-26z"/>
<path fill="#3c82f0" stroke="#3c82f0" stroke-width=".6" d="M602 177l4-2 5 2 4 2-5 4-4-4-4 4-5-3z"/>
<path fill="#448cf2" stroke="#448cf2" stroke-width=".6" d="M641 199l5 0-5 2-4-1z"/>
<path fill="#4c96f4" stroke="#4c96f4" stroke-width=".6" d="M646 199l4 2 4-8-4 4-5 5-4-1zM711 240l5-6 4 1-5 3-4-3-4 7z"/>
<path fill="#66b5fb" stroke="#66b5fb" stroke-width=".6" d="M654 193l5-14-5 3-4 15z"/>
<path fill="#aee9ff" stroke="#aee9ff" stroke-width=".6" d="M659 179l4-8-5-4-4 15z"/>
<path fill="#92d8fe" stroke="#92d8fe" stroke-width=".6" d="M663 171l4 4-4-7-5-1z"/>
<path fill="#2350c8" stroke="#2350c8" stroke-width=".6" d="M672 194l4 30-4 1-5-31zM698 266l4-5-4 1-5 6zM742 284l4 3 5-1-5 8-4-7-5-1zM755 295l4 0 5 0 4 4 4 4 5-1-5 5-4-4-5-1-4-3-4-1-5-4zM786 312l4 0 4 5 5 4 4-2 4 2-4 6-5-7-4-3-4 0-5-3-4-1z"/>
<path fill="#0e1e6e" stroke="#0e1e6e" stroke-width=".6" d="M676 224l5 21 4 16 4 9-4 5-5-8-4-18-4-24z"/>
<path fill="#1a3aac" stroke="#1a3aac" stroke-width=".6" d="M689 270l5 1-5 1-4 3zM724 249l5 13-5 4-4-17z"/>
<path fill="#1d42b8" stroke="#1d42b8" stroke-width=".6" d="M694 271l4-5-5 2-4 4zM737 281l5 3-5 2-4-2z"/>
<path fill="#295ed8" stroke="#295ed8" stroke-width=".6" d="M702 261l5-11-5 2-4 10z"/>
<path fill="#2657d0" stroke="#2657d0" stroke-width=".6" d="M720 235l4 14-4 0-5-11z"/>
<path fill="#11257e" stroke="#11257e" stroke-width=".6" d="M729 262l4 12 4 7-4 3-5-5-4-13z"/>
<path fill="#2049c0" stroke="#2049c0" stroke-width=".6" d="M751 286l4 9-5-1-4 0zM777 302l4 7 5 3-5 1-4-2-5-4z"/>
<path d="M562 167l5 1 4 2 4 0 5 0 4 8 4-3 5 8 4-3 5 3 4-4 4 4 5 4 4 2 4 2 5 2 4 4 5 3 4 1 4 1 5-5 4-15 4-15 5 1 4 26 5 31 4 24 4 18 5 8 4-3 4-4 5-6 4-10 5-10 4-7 4 3 5 11 4 17 4 13 5 5 4 2 5 1 4 7 4 0 5 4 4 1 4 3 5 1 4 4 5 4 4 2 4 1 5 3 4 0 4 3 5 7" fill="none" stroke="#000" stroke-width="2.5" stroke-linejoin="round"/>
<path fill="#3577eb" stroke="#3577eb" stroke-width=".6" d="M562 168l5 1 4 2 4 0 5 0 4 8 4-2-4 5-5-3-4 0-4-3-5-2-4-3-4-2zM702 253l5-9-5 1-4 12z"/>
<path fill="#397ced" stroke="#397ced" stroke-width=".6" d="M588 177l5 7 4-3 5 3 4-4-5 10-4-3-4-1-5-3-4-1zM610 185l5 3 4 2 4 3 5 2 4 4 5 2-5 4-4-5-5-1-4-4-5-1-4-4-4 0z"/>
<path fill="#3c82f0" stroke="#3c82f0" stroke-width=".6" d="M606 180l4 5-4 5-5 0zM637 201l4 1-5 8-4-5z"/>
<path fill="#448cf2" stroke="#448cf2" stroke-width=".6" d="M641 202l4 1-4 3-5 4zM663 170l4 25-4-4-5-24z"/>
<path fill="#4c96f4" stroke="#4c96f4" stroke-width=".6" d="M645 203l5-5-5 1-4 7zM707 244l4-8 4 3-4 2-5-10-4 14z"/>
<path fill="#66b5fb" stroke="#66b5fb" stroke-width=".6" d="M650 198l4-15-5-1-4 17z"/>
<path fill="#bceeff" stroke="#bceeff" stroke-width=".6" d="M654 183l4-15-4-4-5 18z"/>
<path fill="#aee9ff" stroke="#aee9ff" stroke-width=".6" d="M658 168l5 2-5-3-4-3z"/>
<path fill="#2350c8" stroke="#2350c8" stroke-width=".6" d="M667 195l5 31-5-1-4-34zM693 269l5-6-5 1-4 7zM737 287l5 1-5 4-4 0zM746 295l4 1 5 3-5 2-4-3-5 0zM759 300l4 3 5 1 4 4-4 2-5-3-4 0-5-6zM781 315l4 1 5 2 4 0-5 7-4-2-4-6-5 2zM798 321l5 7-5-1-4-2z"/>
<path fill="#0e1e6e" stroke="#0e1e6e" stroke-width=".6" d="M672 226l4 24 4 19 5 7-5-2-4-6-5-17-4-26z"/>
<path fill="#1a3aac" stroke="#1a3aac" stroke-width=".6" d="M685 276l4-2-5 4-4-4zM720 250l4 17-5 3-4-18zM733 285l4 2-4 5-5-2z"/>
<path fill="#1d42b8" stroke="#1d42b8" stroke-width=".6" d="M689 274l4-5-4 2-5 7z"/>
<path fill="#2c65e0" stroke="#2c65e0" stroke-width=".6" d="M698 263l4-10-4 4-5 7z"/>
<path fill="#2657d0" stroke="#2657d0" stroke-width=".6" d="M715 239l5 11-5 2-4-11zM755 299l4 1-5 1-4 0zM794 318l4 3-4 4-5 0z"/>
<path fill="#11257e" stroke="#11257e" stroke-width=".6" d="M724 267l4 13 5 5-5 5-4-8-5-12z"/>
<path fill="#2049c0" stroke="#2049c0" stroke-width=".6" d="M742 288l4 7-5 3-4-6zM772 308l5 4 4 3-5 4-4-5-4-4z"/>
<path d="M558 169l4 2 4 3 5 2 4 3 4 0 5 3 4 1 5 3 4 1 4 3 5 0 4 0 4 4 5 1 4 4 5 1 4 5 4 5 5-4 4-7 4-17 5-18 4 3 5 24 4 34 4 26 5 17 4 6 4 4 5-7 4-7 5-7 4-12 4-14 5 10 4 11 4 18 5 12 4 8 5 2 4 0 4 6 5 0 4 3 4 0 5 6 4 0 5 3 4 4 4 5 5-2 4 6 4 2 5 0 4 2" fill="none" stroke="#000" stroke-width="2.5" stroke-linejoin="round"/>
<path fill="#3577eb" stroke="#3577eb" stroke-width=".6" d="M558 170l4 2 4 3 5 3-5 1-4-2-5-4-4-2zM575 181l4-1 5 3-5 2-4 0-5-1zM623 200l5 1-5 6-5-3zM698 259l4-13-5-2-4 13z"/>
<path fill="#3271e8" stroke="#3271e8" stroke-width=".6" d="M571 178l4 3-5 3-4-5z"/>
<path fill="#397ced" stroke="#397ced" stroke-width=".6" d="M584 183l4 1 5 3 4 1 4 3 5 0-5 3-4-1-5 1-4-4-4-2-5-3zM619 196l4 4-5 4-4-5zM628 201l4 6-5 4-4-4z"/>
<path fill="#3c82f0" stroke="#3c82f0" stroke-width=".6" d="M606 191l4 1 4 3 5 1-5 3-4 1-5-2-4-4zM632 207l4 4-4 2-5-2z"/>
<path fill="#448cf2" stroke="#448cf2" stroke-width=".6" d="M636 211l5-4-5 4-4 2z"/>
<path fill="#4c96f4" stroke="#4c96f4" stroke-width=".6" d="M641 207l4-7-5 0-4 11zM658 169l5 24-5-2-5-24zM706 233l5 9-5-1-4-7z"/>
<path fill="#75c1fc" stroke="#75c1fc" stroke-width=".6" d="M645 200l4-16-4 0-5 16z"/>
<path fill="#caf3ff" stroke="#caf3ff" stroke-width=".6" d="M649 184l5-19-5-3-4 22z"/>
<path fill="#d7f7ff" stroke="#d7f7ff" stroke-width=".6" d="M654 165l4 4-5-2-4-5z"/>
<path fill="#295ed8" stroke="#295ed8" stroke-width=".6" d="M663 193l4 33-5-2-4-33z"/>
<path fill="#11257e" stroke="#11257e" stroke-width=".6" d="M667 226l4 26-4 2-5-30zM719 272l5 11 4 8-5 0-4-8-4-11z"/>
<path fill="#0e1e6e" stroke="#0e1e6e" stroke-width=".6" d="M671 252l5 17 4 7-5 5-4-8-4-19z"/>
<path fill="#1a3aac" stroke="#1a3aac" stroke-width=".6" d="M680 276l4 3-4 1-5 1zM715 253l4 19-4 0-5-16zM728 291l5 2-5-1-5-1z"/>
<path fill="#1d42b8" stroke="#1d42b8" stroke-width=".6" d="M684 279l5-6-5 5-4 2z"/>
<path fill="#2350c8" stroke="#2350c8" stroke-width=".6" d="M689 273l4-8-5 3-4 10zM741 299l5 0 4 3-5 3-4-1-4-6zM754 302l5 6 4 0 5 3 4 5 4 4 5-2 4 7 4 1 5 0 4 3-5 5-4-5-4-1-5-3-4-1-4-3-5-5-4 0-5-5-4-4-4 0z"/>
<path fill="#2c65e0" stroke="#2c65e0" stroke-width=".6" d="M693 265l5-6-5-2-5 11z"/>
<path fill="#53a0f7" stroke="#53a0f7" stroke-width=".6" d="M702 246l4-13-4 1-5 10z"/>
<path fill="#2657d0" stroke="#2657d0" stroke-width=".6" d="M711 242l4 11-5 3-4-15zM750 302l4 0-4 5-5-2z"/>
<path fill="#2049c0" stroke="#2049c0" stroke-width=".6" d="M733 293l4 1 4 5-4-1-5 1-4-7z"/>
<path d="M553 171l4 2 5 4 4 2 4 5 5 1 4 0 5 3 4 2 4 4 5-1 4 1 4 4 5 2 4-1 4 5 5 3 4 4 5 2 4-2 4-11 5-16 4-22 4 5 5 24 4 33 5 30 4 19 4 8 5-1 4-2 4-10 5-11 4-13 5-10 4 7 4 15 5 16 4 11 4 8 5 1 4 7 5-1 4 6 4 1 5 2 4 0 4 4 5 5 4 0 5 5 4 3 4 1 5 3 4 1 4 5" fill="none" stroke="#000" stroke-width="2.5" stroke-linejoin="round"/>
<path fill="#3577eb" stroke="#3577eb" stroke-width=".6" d="M553 173l4 1-4 5-5-1zM575 187l4-1 5 4-5 5-5-2-4-1zM618 205l5 3-5 3-4-4z"/>
<path fill="#3271e8" stroke="#3271e8" stroke-width=".6" d="M557 174l5 5 4 1 4 5 5 2-5 5-4-3-5-6-4 1-4-5z"/>
<path fill="#397ced" stroke="#397ced" stroke-width=".6" d="M584 190l4 2 4 3 5-1-5 3-4-1-5-2-4 1zM610 201l4-1 4 5-4 2-5-2-4-2zM623 208l4 5-4 1-5-3zM693 258l4-12-4 3-5 10z"/>
<path fill="#3c82f0" stroke="#3c82f0" stroke-width=".6" d="M597 194l4 1 4 4 5 2-5 2-4-6-5 4-4-4zM627 213l5 1-5 2-4-2z"/>
<path fill="#448cf2" stroke="#448cf2" stroke-width=".6" d="M632 214l4-2-5 1-4 3z"/>
<path fill="#4c96f4" stroke="#4c96f4" stroke-width=".6" d="M636 212l4-11-4 3-5 9zM702 236l4 6-5 4-4-9z"/>
<path fill="#75c1fc" stroke="#75c1fc" stroke-width=".6" d="M640 201l5-16-5-2-4 21z"/>
<path fill="#d7f7ff" stroke="#d7f7ff" stroke-width=".6" d="M645 185l4-22-5 2-4 18z"/>
<path fill="#f0fdff" stroke="#f0fdff" stroke-width=".6" d="M649 163l4 5-4-3-5 0z"/>
<path fill="#53a0f7" stroke="#53a0f7" stroke-width=".6" d="M653 168l5 24-5-6-4-21z"/>
<path fill="#2c65e0" stroke="#2c65e0" stroke-width=".6" d="M658 192l4 33-4 1-5-40zM688 269l5-11-5 1-4 12z"/>
<path fill="#142c8d" stroke="#142c8d" stroke-width=".6" d="M662 225l5 30-5 0-4-29z"/>
<path fill="#0e1e6e" stroke="#0e1e6e" stroke-width=".6" d="M667 255l4 19 4 8-4 0-5-9-4-18z"/>
<path fill="#17339d" stroke="#17339d" stroke-width=".6" d="M675 282l5-1-5 6-4-5z"/>
<path fill="#1d42b8" stroke="#1d42b8" stroke-width=".6" d="M680 281l4-2-5 1-4 7z"/>
<path fill="#2350c8" stroke="#2350c8" stroke-width=".6" d="M684 279l4-10-4 2-5 9zM741 305l4 2 5 1 4 0 4 5-4 7-5-7-4-2-4-1-5-2zM763 317l4 0 5 5-5 2-4-4-5 0zM780 326l5 3 4 1-5 6-4-6-4 1z"/>
<path fill="#5baaf9" stroke="#5baaf9" stroke-width=".6" d="M697 246l5-10-5 1-4 12z"/>
<path fill="#2657d0" stroke="#2657d0" stroke-width=".6" d="M706 242l4 15-4 1-5-12z"/>
<path fill="#1a3aac" stroke="#1a3aac" stroke-width=".6" d="M710 257l5 17-5 1-4-17zM723 293l5 1-5 3-4 0z"/>
<path fill="#11257e" stroke="#11257e" stroke-width=".6" d="M715 274l4 11 4 8-4 4-5-10-4-12z"/>
<path fill="#2049c0" stroke="#2049c0" stroke-width=".6" d="M728 294l4 6 5-1 4 6-5 3-4-2-4-3-5-6zM758 313l5 4-5 3-4 0zM772 322l4 3 4 1-4 5-5-5-4-2zM789 330l4 5-4 1-5 0z"/>
<path d="M548 178l5 1 4 5 4-1 5 6 4 3 4 1 5 2 4-1 5 2 4 1 4 4 5-4 4 6 4 2 5 2 4 4 5 3 4 2 4-3 5-9 4-21 4-18 5 0 4 21 5 40 4 29 4 18 5 9 4 5 4-7 5-9 4-12 5-10 4-12 4 9 5 12 4 17 4 12 5 10 4 0 5 6 4 3 4 2 5 2 4 1 4 2 5 7 4 0 5 0 4 4 4 2 5 5 4-1 4 6 5 0" fill="none" stroke="#000" stroke-width="2.5" stroke-linejoin="round"/>
<path fill="#3271e8" stroke="#3271e8" stroke-width=".6" d="M548 179l5 1 4 5-5 0-4 0-4-4z"/>
<path fill="#3577eb" stroke="#3577eb" stroke-width=".6" d="M557 185l4 0 5 5 4 3 4 1 5 2-5-1-4 1-5-6-4 1-4-4-5-2z"/>
<path fill="#397ced" stroke="#397ced" stroke-width=".6" d="M579 196l4-1 5 2-5 4-4-2-5-4zM605 204l4 2 5 2 4 4 5 4-5 2-4-3-5-2-4-4-5-1z"/>
<path fill="#3c82f0" stroke="#3c82f0" stroke-width=".6" d="M588 197l4 1 4 4 5-4 4 6-5 4-4-5-4 1-5-4-4 1zM623 216l4 1-5 5-4-4zM688 261l5-11-5-6-4 15z"/>
<path fill="#448cf2" stroke="#448cf2" stroke-width=".6" d="M627 217l4-2-4 4-5 3z"/>
<path fill="#4c96f4" stroke="#4c96f4" stroke-width=".6" d="M631 215l5-10-5 9-4 5zM697 238l4 9-4-3-5-6z"/>
<path fill="#66b5fb" stroke="#66b5fb" stroke-width=".6" d="M636 205l4-20-5 11-4 18z"/>
<path fill="#bceeff" stroke="#bceeff" stroke-width=".6" d="M640 185l4-18-4 8-5 21z"/>
<path fill="#e4faff" stroke="#e4faff" stroke-width=".6" d="M644 167l5-1-5 7-4 2z"/>
<path fill="#53a0f7" stroke="#53a0f7" stroke-width=".6" d="M649 166l4 21-4 9-5-23z"/>
<path fill="#2c65e0" stroke="#2c65e0" stroke-width=".6" d="M653 187l5 40-5 3-4-34zM684 272l4-11-4-2-5 14z"/>
<path fill="#142c8d" stroke="#142c8d" stroke-width=".6" d="M658 227l4 29-5 0-4-26z"/>
<path fill="#0e1e6e" stroke="#0e1e6e" stroke-width=".6" d="M662 256l4 19 5 8-5 6-4-9-5-24z"/>
<path fill="#17339d" stroke="#17339d" stroke-width=".6" d="M671 283l4 5-5 2-4-1z"/>
<path fill="#1d42b8" stroke="#1d42b8" stroke-width=".6" d="M675 288l4-7-4 0-5 9z"/>
<path fill="#2350c8" stroke="#2350c8" stroke-width=".6" d="M679 281l5-9-5 1-4 8zM741 311l4 1 4 2 5 7 4 0 5 0 4 4-5 3-4-4-4-2-5-2-4-2-5-3-4 1zM780 331l4 7-4-3-5 2z"/>
<path fill="#5baaf9" stroke="#5baaf9" stroke-width=".6" d="M693 250l4-12-5 0-4 6z"/>
<path fill="#2657d0" stroke="#2657d0" stroke-width=".6" d="M701 247l5 12-5 3-4-18z"/>
<path fill="#1a3aac" stroke="#1a3aac" stroke-width=".6" d="M706 259l4 17-5 0-4-14zM719 298l4 0-4 5-5-5z"/>
<path fill="#11257e" stroke="#11257e" stroke-width=".6" d="M710 276l4 13 5 9-5 0-4-7-5-15z"/>
<path fill="#2049c0" stroke="#2049c0" stroke-width=".6" d="M723 298l5 6 4 3 4 2 5 2-5 5-4-5-5-3-4-3-4-2zM767 325l4 2 5 6 4-2-5 6-4 0-4-8-5-1zM784 338l5 0-5 4-4-7z"/>
<path d="M544 181l4 4 4 0 5 2 4 4 4-1 5 6 4-1 5 4 4 2 4-1 5 4 4-1 4 5 5 1 4 4 5 2 4 3 4 4 5-3 4-5 4-18 5-21 4-2 5 23 4 34 4 26 5 24 4 9 4 1 5-9 4-8 5-14 4-15 4-6 5 6 4 18 4 14 5 15 4 7 5 5 4 2 4 3 5 3 4 5 4-1 5 3 4 2 5 2 4 2 4 4 5 1 4 8 4 0 5-2 4 7" fill="none" stroke="#000" stroke-width="2.5" stroke-linejoin="round"/>
<path fill="#3271e8" stroke="#3271e8" stroke-width=".6" d="M544 182l4 4 4 0-4 3-5 2-4-6z"/>
<path fill="#3577eb" stroke="#3577eb" stroke-width=".6" d="M552 186l5 2 4 4 4-1 5 6-5 3-4-4-5 0-4-2-4-5z"/>
<path fill="#397ced" stroke="#397ced" stroke-width=".6" d="M570 197l4-1 5 4 4 2 4 0-4 3-5 1-4-6-4-1-5 1zM600 210l5 0 4 4 5 2 4 3-5 4-4-4-5-6-4 2-4-6z"/>
<path fill="#3c82f0" stroke="#3c82f0" stroke-width=".6" d="M587 202l5 3 4 0 4 5-4-1-5 0-4 0-4-4zM618 219l4 4-4 1-5-1z"/>
<path fill="#448cf2" stroke="#448cf2" stroke-width=".6" d="M622 223l5-3 4-5-5 5-4 3-4 1zM684 260l4-14-5 2-4 14z"/>
<path fill="#5baaf9" stroke="#5baaf9" stroke-width=".6" d="M631 215l4-18-4 6-5 17z"/>
<path fill="#a0e4ff" stroke="#a0e4ff" stroke-width=".6" d="M635 197l5-21-5 13-4 14z"/>
<path fill="#aee9ff" stroke="#aee9ff" stroke-width=".6" d="M640 176l4-1-5 9-4 5z"/>
<path fill="#4c96f4" stroke="#4c96f4" stroke-width=".6" d="M644 175l5 23-5 8-5-22zM692 239l5 7-5-1-4-6z"/>
<path fill="#295ed8" stroke="#295ed8" stroke-width=".6" d="M649 198l4 34-5 5-4-31zM697 246l4 18-5 0-4-19z"/>
<path fill="#142c8d" stroke="#142c8d" stroke-width=".6" d="M653 232l4 25-4 5-5-25z"/>
<path fill="#0e1e6e" stroke="#0e1e6e" stroke-width=".6" d="M657 257l5 24 4 9-5 2-4-8-4-22z"/>
<path fill="#1a3aac" stroke="#1a3aac" stroke-width=".6" d="M666 290l4 1-4-2-5 3zM701 264l4 13-4 7-5-20zM714 299l5 5-5 2-5-1z"/>
<path fill="#1d42b8" stroke="#1d42b8" stroke-width=".6" d="M670 291l5-9-5 4-4 3z"/>
<path fill="#2350c8" stroke="#2350c8" stroke-width=".6" d="M675 282l4-8-5 1-4 11zM732 312l4 6 4-1 5 3 4 1 5 3-5 1-5-1-4 0-4-5-5-4-4 2zM758 325l4 4 5 1-5 3-4-2-5-3zM775 338l5-1-5 8-4-6z"/>
<path fill="#2f6ce5" stroke="#2f6ce5" stroke-width=".6" d="M679 274l5-14-5 2-5 13z"/>
<path fill="#66b5fb" stroke="#66b5fb" stroke-width=".6" d="M688 246l4-7-4 0-5 9z"/>
<path fill="#11257e" stroke="#11257e" stroke-width=".6" d="M705 277l5 15 4 7-5 6-4-8-4-13z"/>
<path fill="#2049c0" stroke="#2049c0" stroke-width=".6" d="M719 304l4 3 4 2 5 3-5 5-4-7-5-2-4-2zM767 330l4 8 4 0-4 1-5-4-4-2zM780 337l4 7-5 1-4 0z"/>
<path fill="#2657d0" stroke="#2657d0" stroke-width=".6" d="M754 324l4 1-5 3-4-3z"/>
<path d="M539 185l4 6 5-2 4 5 4 2 5 0 4 4 5-1 4 1 4 6 5-1 4 4 4 0 5 0 4 6 4-2 5 6 4 4 5 1 4-1 4-3 5-17 4-14 4-5 5 22 4 31 5 25 4 22 4 8 5-3 4-3 4-11 5-13 4-14 5-9 4 6 4 19 5 20 4 13 4 8 5 1 4 2 5 2 4 7 4-2 5 4 4 5 4 0 5 1 4 3 5 3 4 2 4 2 5 4 4 6 4 0" fill="none" stroke="#000" stroke-width="2.5" stroke-linejoin="round"/>
<path fill="#3271e8" stroke="#3271e8" stroke-width=".6" d="M539 187l4 5-4-2-5 1z"/>
<path fill="#3577eb" stroke="#3577eb" stroke-width=".6" d="M543 192l5-2 4 5 4 3 5-1 4 4 5-1-5 7-5-6-4-2-4-1-5-3-4-1-4-4z"/>
<path fill="#397ced" stroke="#397ced" stroke-width=".6" d="M570 200l4 2 4 6 5-1-5 3-4 1-5-5-4 1zM600 216l4-2 5 6 4 4-4-1-5-1-4-3-5-2z"/>
<path fill="#3c82f0" stroke="#3c82f0" stroke-width=".6" d="M583 207l4 3 4 0 5 0 4 6-5 1-4-4-4-2-5-1-4 0zM613 224l5 1-5 1-4-3zM639 185l5 22-5 7-4-18z"/>
<path fill="#448cf2" stroke="#448cf2" stroke-width=".6" d="M618 225l4-1 4-3-4-2-5 10-4-3zM679 264l4-15-4 0-5 17z"/>
<path fill="#5baaf9" stroke="#5baaf9" stroke-width=".6" d="M626 221l5-16-5 7-4 7z"/>
<path fill="#83ccfd" stroke="#83ccfd" stroke-width=".6" d="M631 205l4-14-5 8-4 13z"/>
<path fill="#92d8fe" stroke="#92d8fe" stroke-width=".6" d="M635 191l4-6-4 11-5 3z"/>
<path fill="#2657d0" stroke="#2657d0" stroke-width=".6" d="M644 207l4 32-4 3-5-28z"/>
<path fill="#11257e" stroke="#11257e" stroke-width=".6" d="M648 239l5 24-5 6-4-27zM705 298l4 8-4-2-5-5z"/>
<path fill="#0e1e6e" stroke="#0e1e6e" stroke-width=".6" d="M653 263l4 22 4 8-4 2-5-12-4-14zM701 286l4 12-5 1-4-11z"/>
<path fill="#1a3aac" stroke="#1a3aac" stroke-width=".6" d="M661 293l5-2-5 3-4 1zM696 266l5 20-5 2-4-22zM709 306l5 1-5 5-4-8z"/>
<path fill="#2049c0" stroke="#2049c0" stroke-width=".6" d="M666 291l4-3-5 0-4 6zM714 307l4 3-4 3-5-1zM758 332l4 2 4 3-4 4-5-2-4-4z"/>
<path fill="#2350c8" stroke="#2350c8" stroke-width=".6" d="M670 288l4-12-4 5-5 7zM718 310l5 2 4 6 4-1 5 3 4 5 4 0 5 2 4 3 5 2-5 3-4-5-5 2-4-5-5-4-4-3-4 1-5-3-4-3-4-2zM766 337l5 4 4 5 4 1-4 1-5-6-4 2-4-3z"/>
<path fill="#2f6ce5" stroke="#2f6ce5" stroke-width=".6" d="M674 276l5-12-5 2-4 15z"/>
<path fill="#75c1fc" stroke="#75c1fc" stroke-width=".6" d="M683 249l5-9-5-1-4 10z"/>
<path fill="#4c96f4" stroke="#4c96f4" stroke-width=".6" d="M688 240l4 6-5 1-4-8z"/>
<path fill="#295ed8" stroke="#295ed8" stroke-width=".6" d="M692 246l4 20-4 0-5-19z"/>
<path d="M534 191l5-1 4 4 4 1 5 3 4 1 4 2 5 6 4-1 5 5 4-1 4 0 5 1 4 2 4 4 5 2 4 3 5 1 4 3 4 3 5-10 4-7 4-13 5-3 4 18 5 28 4 27 4 14 5 12 4-1 4-6 5-7 4-15 5-17 4-10 4 8 5 19 4 22 4 11 5 5 4 8 5 1 4 2 4 3 5 3 4-1 4 3 5 4 4 5 5-2 4 5 4 4 5 2 4 3 4-2 5 6" fill="none" stroke="#000" stroke-width="2.5" stroke-linejoin="round"/>
<path fill="#3577eb" stroke="#3577eb" stroke-width=".6" d="M534 192l5-1 4 4 4 1 5 3 4 1 4 2 5 6-5 1-4-1-5-6-4 1-4-4-5 1-4-3-4-3z"/>
<path fill="#397ced" stroke="#397ced" stroke-width=".6" d="M565 208l4-1 5 5-5-2-4 0-5-1zM600 220l4 3 5 2-5 4-4-2-5-4zM635 197l4 18-4 8-5-13z"/>
<path fill="#3c82f0" stroke="#3c82f0" stroke-width=".6" d="M574 212l4-1 4 0 5 1 4 2 4 5 5 1-5 3-4-4-5 2-4-3-4-2-5-5-4-1zM609 225l4 2 4 4-4 5-5 0-4-7z"/>
<path fill="#448cf2" stroke="#448cf2" stroke-width=".6" d="M617 231l5-11-5 9-4 7zM674 267l5-17-5-1-4 19z"/>
<path fill="#53a0f7" stroke="#53a0f7" stroke-width=".6" d="M622 220l4-6-5 6-4 9z"/>
<path fill="#75c1fc" stroke="#75c1fc" stroke-width=".6" d="M626 214l4-14 5-3-5 13-4-1-5 11z"/>
<path fill="#2657d0" stroke="#2657d0" stroke-width=".6" d="M639 215l5 28-5 3-4-23z"/>
<path fill="#11257e" stroke="#11257e" stroke-width=".6" d="M644 243l4 27-5 4-4-28zM696 289l4 11 5 5-5 6-4-7-5-14z"/>
<path fill="#0e1e6e" stroke="#0e1e6e" stroke-width=".6" d="M648 270l4 14 5 12-5 3-4-10-5-15z"/>
<path fill="#1a3aac" stroke="#1a3aac" stroke-width=".6" d="M657 296l4-1-5 4-4 0zM692 268l4 21-5 1-4-20zM705 305l4 8-4-1-5-1z"/>
<path fill="#1d42b8" stroke="#1d42b8" stroke-width=".6" d="M661 295l4-6-4 4-5 6z"/>
<path fill="#2350c8" stroke="#2350c8" stroke-width=".6" d="M665 289l5-6-5 0-4 10zM714 314l4 2 4 3 5 3 4-1 4 4 5 3 4 5 5-2 4 5-5 2-4-3-4-1-5 0-4-5-5-2-4-3-4-4-5 0-4-3zM762 342l4 3 4-1 5 5-5 3-4-2-5-2-4-4z"/>
<path fill="#2f6ce5" stroke="#2f6ce5" stroke-width=".6" d="M670 283l4-16-4 1-5 15z"/>
<path fill="#83ccfd" stroke="#83ccfd" stroke-width=".6" d="M679 250l4-10-5 1-4 8z"/>
<path fill="#4c96f4" stroke="#4c96f4" stroke-width=".6" d="M683 240l4 8-4 1-5-8z"/>
<path fill="#295ed8" stroke="#295ed8" stroke-width=".6" d="M687 248l5 20-5 2-4-21z"/>
<path fill="#2049c0" stroke="#2049c0" stroke-width=".6" d="M709 313l5 1-5 3-4-5zM753 336l4 4 5 2-5 2-4 0-5-6z"/>
<path d="M530 194l4 3 4 3 5-1 4 4 4-1 5 6 4 1 5 1 4 0 4 1 5 5 4 2 4 3 5-2 4 4 5 4 4 2 4 7 5 0 4-7 4-9 5-11 4 1 5 13 4 23 4 28 5 15 4 10 4 0 5-6 4-10 5-15 4-19 4-8 5 8 4 21 4 20 5 14 4 7 5 1 4 5 4 3 5 0 4 4 4 3 5 2 4 5 5 0 4 1 4 3 5 6 4 0 4 4 5 2 4 2" fill="none" stroke="#000" stroke-width="2.5" stroke-linejoin="round"/>
<path fill="#3577eb" stroke="#3577eb" stroke-width=".6" d="M530 196l4 2 4 4 5-2 4 4 4-1 5 7 4 0-5 2-4 0-4-3-5-3-4-2-4-4-5-2-4-2z"/>
<path fill="#397ced" stroke="#397ced" stroke-width=".6" d="M560 210l5 1 4 0-5 6-4-3-5-2zM573 212l5 5 4 3 4 2-4 1-5-2-4 0-4-5zM595 225l5 3 4 2 4 7-4-3-5-2-4-4-5 1z"/>
<path fill="#3c82f0" stroke="#3c82f0" stroke-width=".6" d="M569 211l4 1-4 4-5 1zM586 222l5-2 4 5-5 4-4-4-4-2zM608 237l5 0 4-7-5 8-4 0-4-4z"/>
<path fill="#4c96f4" stroke="#4c96f4" stroke-width=".6" d="M617 230l4-8-4 8-5 8zM670 269l4-19-5 0-4 19zM678 242l5 8-5 2-4-11z"/>
<path fill="#5baaf9" stroke="#5baaf9" stroke-width=".6" d="M621 222l5-11 4 0-5 8-4 3-4 8z"/>
<path fill="#3271e8" stroke="#3271e8" stroke-width=".6" d="M630 211l5 13-5 7-5-12zM665 284l5-15-5 0-5 16z"/>
<path fill="#2350c8" stroke="#2350c8" stroke-width=".6" d="M635 224l4 24-5 7-4-24zM661 295l4-11-5 1-4 12zM709 318l4 3 5 1 4 3-5 4-4-5-4-3-5 2zM735 335l5 0 4 1-5 8-4-5-5-1zM753 345l4 0 4 5 5 1 4 2-5 2-4-1-4-6-5 1-4 0z"/>
<path fill="#11257e" stroke="#11257e" stroke-width=".6" d="M639 248l4 27-4 3-5-23zM691 291l5 15 4 6-5 0-4-5-4-14z"/>
<path fill="#0e1e6e" stroke="#0e1e6e" stroke-width=".6" d="M643 275l5 15 4 10-5 2-4-9-4-15z"/>
<path fill="#1a3aac" stroke="#1a3aac" stroke-width=".6" d="M652 300l4 0-4 6-5-4zM687 271l4 20-4 2-5-19zM700 312l5 1-5 6-5-7z"/>
<path fill="#1d42b8" stroke="#1d42b8" stroke-width=".6" d="M656 300l5-5-5 2-4 9z"/>
<path fill="#92d8fe" stroke="#92d8fe" stroke-width=".6" d="M674 250l4-8-4-1-5 9z"/>
<path fill="#295ed8" stroke="#295ed8" stroke-width=".6" d="M683 250l4 21-5 3-4-22z"/>
<path fill="#2049c0" stroke="#2049c0" stroke-width=".6" d="M705 313l4 5-5 5-4-4zM722 325l4 3 5 2 4 5-5 3-4-5-4 0-5-4zM744 336l4 4 5 5-5 4-4-5-5 0z"/>
<path d="M525 196l4 2 5 2 4 4 4 2 5 3 4 3 4 0 5 2 4 3 5-1 4 5 4 0 5 2 4 2 4 4 5-1 4 4 5 2 4 4 4 0 5-8 4-8 4-3 5 12 4 24 5 23 4 15 4 9 5 4 4-9 4-12 5-16 4-19 5-9 4 11 4 22 5 19 4 14 4 5 5 7 4 4 5-2 4 3 4 5 5 4 4 0 4 5 5 1 4 5 5 0 4 5 4 0 5-1 4 6 4 1" fill="none" stroke="#000" stroke-width="2.5" stroke-linejoin="round"/>
<path fill="#3577eb" stroke="#3577eb" stroke-width=".6" d="M525 197l4 2 5 2 4 5 4 1 5 4 4 2-5 2-4-4-4 0-5-4-4-3-4 1-5-4z"/>
<path fill="#397ced" stroke="#397ced" stroke-width=".6" d="M551 213l4 0 5 2 4 4-4-1-5 1-4-4-5 0zM586 227l4 3 5 0 4 3 5 2-5 6-4-1-5-8-4-1-5-2z"/>
<path fill="#3c82f0" stroke="#3c82f0" stroke-width=".6" d="M564 219l5-1 4 5 4-1 5 3 4 2-5 2-4-6-4 0-5-3-4 2-4-4z"/>
<path fill="#448cf2" stroke="#448cf2" stroke-width=".6" d="M604 235l4 4 4 0-4 1-5 0-4 1zM674 242l4 11-5 1-4-13z"/>
<path fill="#4c96f4" stroke="#4c96f4" stroke-width=".6" d="M612 239l5-8-5 4-4 5zM621 223l4-3-4 10-5 1z"/>
<path fill="#53a0f7" stroke="#53a0f7" stroke-width=".6" d="M617 231l4-8-5 8-4 4zM665 270l4-19-4-4-5 21z"/>
<path fill="#2f6ce5" stroke="#2f6ce5" stroke-width=".6" d="M625 220l5 13-5 10-4-13z"/>
<path fill="#1d42b8" stroke="#1d42b8" stroke-width=".6" d="M630 233l4 23-4 8-5-21zM652 307l4-9-5 7-4 3z"/>
<path fill="#0e1e6e" stroke="#0e1e6e" stroke-width=".6" d="M634 256l5 23 4 15 4 9-4 3-5-9-4-13-4-20z"/>
<path fill="#1a3aac" stroke="#1a3aac" stroke-width=".6" d="M647 303l5 4-5 1-4-2zM682 276l5 18-5 2-4-16zM695 313l5 7-5-1-4-4z"/>
<path fill="#2350c8" stroke="#2350c8" stroke-width=".6" d="M656 298l4-12-4 4-5 15zM704 324l5-1 4 2-5 4-4-1-4-4zM722 334l4 0 4 5 5 1 4 5 5 0 4 5 4 0 5 0 4 5 4 1-4 5-5-3-4-2-4-3-5-5-4 0-4-6-5-2-4-1-5-2-4-3z"/>
<path fill="#3271e8" stroke="#3271e8" stroke-width=".6" d="M660 286l5-16-5-2-4 22z"/>
<path fill="#a0e4ff" stroke="#a0e4ff" stroke-width=".6" d="M669 251l5-9-5-1-4 6z"/>
<path fill="#295ed8" stroke="#295ed8" stroke-width=".6" d="M678 253l4 23-4 4-5-26z"/>
<path fill="#11257e" stroke="#11257e" stroke-width=".6" d="M687 294l4 14 4 5-4 2-5-2-4-17z"/>
<path fill="#2049c0" stroke="#2049c0" stroke-width=".6" d="M700 320l4 4-4 0-5-5zM713 325l4 5 5 4-5 0-4-1-5-4z"/>
<path d="M520 201l5 4 4-1 4 3 5 4 4 0 4 4 5 0 4 4 5-1 4 4 4-2 5 3 4 0 4 6 5 2 4 1 5 8 4 1 4-1 5 0 4-5 4-4 5-1 4 13 5 21 4 20 4 13 5 9 4 2 4-3 5-15 4-22 5-21 4-6 4 13 5 26 4 16 4 17 5 2 4 4 5 5 4 4 4 1 5 4 4 1 4 3 5 2 4 1 5 2 4 6 4 0 5 5 4 3 4 2 5 3" fill="none" stroke="#000" stroke-width="2.5" stroke-linejoin="round"/>
<path fill="#3577eb" stroke="#3577eb" stroke-width=".6" d="M520 202l5 4 4-1 4 3 5 4 4 0 4 4-4 2-5-4-4-4-4 0-5-3-4-2-4-1zM656 291l4-21-4-3-5 23z"/>
<path fill="#397ced" stroke="#397ced" stroke-width=".6" d="M546 216l5 0 4 4 5-1-5 3-4 0-5-2-4-2zM577 225l4 5 5 2 4 1 5 8 4 1-5-1-4-1-4-1-5-8-4 0-5-2z"/>
<path fill="#3c82f0" stroke="#3c82f0" stroke-width=".6" d="M560 219l4 4-5 1-4-2zM573 225l4 0-5 4-4-5z"/>
<path fill="#448cf2" stroke="#448cf2" stroke-width=".6" d="M564 223l4-2 5 4-5-1-4-3-5 3zM599 242l4-1 5 1-5 4-4 0-5-5zM669 243l4 12-4 1-5-16z"/>
<path fill="#4c96f4" stroke="#4c96f4" stroke-width=".6" d="M608 242l4-6-5 7-4 3zM616 232l5-1-5 7-4-1z"/>
<path fill="#53a0f7" stroke="#53a0f7" stroke-width=".6" d="M612 236l4-4-4 5-5 6z"/>
<path fill="#2c65e0" stroke="#2c65e0" stroke-width=".6" d="M621 231l4 13-4 4-5-10z"/>
<path fill="#1d42b8" stroke="#1d42b8" stroke-width=".6" d="M625 244l5 21-5 1-4-18zM647 309l4-2-4-1-5 7z"/>
<path fill="#0e1e6e" stroke="#0e1e6e" stroke-width=".6" d="M630 265l4 20 4 13 5 9-5 3-4-12-5-13-4-19zM682 297l4 17-4 2-5-12z"/>
<path fill="#1a3aac" stroke="#1a3aac" stroke-width=".6" d="M643 307l4 2-5 4-4-3zM691 317l4 3-4 7-5-4z"/>
<path fill="#2350c8" stroke="#2350c8" stroke-width=".6" d="M651 307l5-16-5-1-4 16zM700 325l4 4-5 0-4 0zM713 335l4 0 4 3 5 2 4 2 5 1-5 5-4 1-5-5-4-4-5 1-4-5zM739 349l4 0 5 5-5 0-4-1-5-5zM756 359l5 3-5 1-4 1z"/>
<path fill="#66b5fb" stroke="#66b5fb" stroke-width=".6" d="M660 270l5-21-5-4-4 22z"/>
<path fill="#aee9ff" stroke="#aee9ff" stroke-width=".6" d="M665 249l4-6-5-3-4 5z"/>
<path fill="#295ed8" stroke="#295ed8" stroke-width=".6" d="M673 255l5 27-5 1-4-27z"/>
<path fill="#17339d" stroke="#17339d" stroke-width=".6" d="M678 282l4 15-5 7-4-21z"/>
<path fill="#11257e" stroke="#11257e" stroke-width=".6" d="M686 314l5 3-5 6-4-7z"/>
<path fill="#2049c0" stroke="#2049c0" stroke-width=".6" d="M695 320l5 5-5 4-4-2zM704 329l4 1 5 5-5 1-4 0-5-7zM748 354l4 3 4 2-4 5-5-6-4-4z"/>
<path fill="#2657d0" stroke="#2657d0" stroke-width=".6" d="M735 343l4 6-5-1-4 0z"/>
<path d="M516 204l4 1 4 2 5 3 4 0 4 4 5 4 4 2 5 2 4 0 4 2 5-3 4 3 4 5 5 2 4 0 5 8 4 1 4 1 5 5 4 0 4-3 5-6 4 1 5 10 4 18 4 19 5 13 4 12 4 3 5-7 4-16 5-23 4-22 4-5 5 16 4 27 4 21 5 12 4 7 5 4 4 2 4 0 5 7 4 0 4 5 5-1 4 4 5 5 4-1 4 0 5 5 4 1 4 4 5 6 4-1" fill="none" stroke="#000" stroke-width="2.5" stroke-linejoin="round"/>
<path fill="#397ced" stroke="#397ced" stroke-width=".6" d="M516 205l4 1 4 3-4 1-5-2-4 0zM542 219l4 2 5 2 4 0-5 5-4-4-5-4-4 1zM572 230l5 3 4-1 5 8 4 1-5 3-4-2-5-2-4-6-4-3zM651 292l5-23-5-3-5 23z"/>
<path fill="#3577eb" stroke="#3577eb" stroke-width=".6" d="M524 209l5 2 4 1 4 3 5 4-5 2-4-3-5-1-4-4-4-3z"/>
<path fill="#3c82f0" stroke="#3c82f0" stroke-width=".6" d="M555 223l4 3-4 0-5 2zM568 225l4 5-4 1-5-2zM590 241l4 1-4 4-5-2z"/>
<path fill="#448cf2" stroke="#448cf2" stroke-width=".6" d="M559 226l5-4 4 3-5 4-4-3-4 0zM594 242l5 6 4-1-5 1-4 0-4-2zM612 238l4 1-5 7-4-3zM664 241l5 16-5 2-4-17z"/>
<path fill="#4c96f4" stroke="#4c96f4" stroke-width=".6" d="M603 247l4-3-4 4-5 0z"/>
<path fill="#53a0f7" stroke="#53a0f7" stroke-width=".6" d="M607 244l5-6-5 5-4 5z"/>
<path fill="#295ed8" stroke="#295ed8" stroke-width=".6" d="M616 239l5 10-5 7-5-10zM669 257l4 27-5 2-4-27z"/>
<path fill="#1d42b8" stroke="#1d42b8" stroke-width=".6" d="M621 249l4 18-5 3-4-14zM642 314l5-7-5 3-4 4z"/>
<path fill="#0e1e6e" stroke="#0e1e6e" stroke-width=".6" d="M625 267l4 19 5 13 4 12-5 3-4-7-4-17-5-20zM677 305l5 13-5 1-4-13z"/>
<path fill="#1a3aac" stroke="#1a3aac" stroke-width=".6" d="M638 311l4 3-4 0-5 0zM686 324l5 5-5 1-5-2z"/>
<path fill="#2657d0" stroke="#2657d0" stroke-width=".6" d="M647 307l4-15-5-3-4 21zM730 349l4 0-4 2-5 2z"/>
<path fill="#75c1fc" stroke="#75c1fc" stroke-width=".6" d="M656 269l4-23-5 0-4 20z"/>
<path fill="#bceeff" stroke="#bceeff" stroke-width=".6" d="M660 246l4-5-4 1-5 4z"/>
<path fill="#17339d" stroke="#17339d" stroke-width=".6" d="M673 284l4 21-4 1-5-20z"/>
<path fill="#11257e" stroke="#11257e" stroke-width=".6" d="M682 318l4 6-5 4-4-9z"/>
<path fill="#2350c8" stroke="#2350c8" stroke-width=".6" d="M691 329l4 1 4 0 5 8 4-1 4 6 5-1-5 2-4-5-5 0-4-3-4-5-5 0-4-1zM726 350l4-1-5 4-4-1zM734 349l5 5-5 5-4-8zM747 360l5 5 4-1-5 2-4-2-4 0z"/>
<path fill="#2049c0" stroke="#2049c0" stroke-width=".6" d="M717 342l4 4 5 4-5 2-5-5-4-3zM739 354l4 1 4 5-4 4-5-4-4-1z"/>
<path d="M511 208l4 0 5 2 4 3 4 4 5 1 4 3 4-1 5 4 4 4 5-2 4 0 4 3 5 2 4 3 4 6 5 2 4 2 5 2 4 2 4 0 5 0 4-5 4 3 5 10 4 14 5 20 4 17 4 7 5 0 4-4 4-21 5-23 4-20 5-4 4 17 4 27 5 20 4 13 4 9 5 2 4 1 5 0 4 5 4 3 5 0 4 5 4 3 5 5 4 1 5-2 4 8 4 1 5 4 4 0 4 2" fill="none" stroke="#000" stroke-width="2.5" stroke-linejoin="round"/>
<path fill="#397ced" stroke="#397ced" stroke-width=".6" d="M511 209l4 0 5 2-5 5-4-5-5 1zM533 219l4 3 4-1-4 5-5 0-4-5zM572 235l4 6 5 2-5-2-4 0-5-5zM607 244l4 3-4 4-5 0z"/>
<path fill="#3577eb" stroke="#3577eb" stroke-width=".6" d="M520 211l4 3 4 4 5 1-5 2-4-2-5-3-4 0z"/>
<path fill="#3c82f0" stroke="#3c82f0" stroke-width=".6" d="M541 221l5 4 4 5 5-2-5 4-4-1-5-6-4 1zM563 230l5 2 4 3-5 1-4-1-4-3zM581 243l4 3 5 1-5 4-4-6-5-4zM646 291l5-24-5-4-4 28z"/>
<path fill="#448cf2" stroke="#448cf2" stroke-width=".6" d="M555 228l4-1 4 3-4 2-5 0-4 0zM590 247l4 2-5 0-4 2zM660 244l4 16-5 0-4-21z"/>
<path fill="#4c96f4" stroke="#4c96f4" stroke-width=".6" d="M594 249l4 1 5-1 4-5-5 7-4 3-4-4-5-1z"/>
<path fill="#2657d0" stroke="#2657d0" stroke-width=".6" d="M611 247l5 11-5 6-4-13zM642 312l4-21-4 0-5 17zM725 354l5-1-5 4-4 1z"/>
<path fill="#1a3aac" stroke="#1a3aac" stroke-width=".6" d="M616 258l4 14-4 8-5-16zM681 329l5 3-5 1-4-4z"/>
<path fill="#0e1e6e" stroke="#0e1e6e" stroke-width=".6" d="M620 272l5 20 4 16 4 7-4 2-5-10-4-12-4-15zM673 307l4 14-5 5-4-15z"/>
<path fill="#1d42b8" stroke="#1d42b8" stroke-width=".6" d="M633 315l5 0 4-3-5-4-4 9-4 0z"/>
<path fill="#83ccfd" stroke="#83ccfd" stroke-width=".6" d="M651 267l4-19-4-8-5 23z"/>
<path fill="#d7f7ff" stroke="#d7f7ff" stroke-width=".6" d="M655 248l5-4-5-5-4 1z"/>
<path fill="#295ed8" stroke="#295ed8" stroke-width=".6" d="M664 260l4 27-4 3-5-30z"/>
<path fill="#17339d" stroke="#17339d" stroke-width=".6" d="M668 287l5 20-5 4-4-21z"/>
<path fill="#11257e" stroke="#11257e" stroke-width=".6" d="M677 321l4 8-4 0-5-3z"/>
<path fill="#2350c8" stroke="#2350c8" stroke-width=".6" d="M686 332l4 0 5 1 4 5 4 2 5 0 4 6-5 4-4-6-4-1-5-1-4-5-4-3-5-1zM721 353l4 1-4 4-5-4zM730 353l4 7 4 1 5 5 4 0 4 1-4 4-5-2-4-3-4-4-5-3-4-2z"/>
<path fill="#2049c0" stroke="#2049c0" stroke-width=".6" d="M712 346l4 3 5 4-5 1-4-2-5-2z"/>
<path d="M506 212l5-1 4 5 4 0 5 3 4 2 4 5 5 0 4-1 5 6 4 1 4 0 5 0 4 3 4 1 5 5 4 0 5 4 4 6 4-2 5 1 4 4 4-3 5 0 4 13 5 16 4 15 4 12 5 10 4 0 4-9 5-17 4-28 5-23 4-1 4 21 5 30 4 21 4 15 5 3 4 4 5 1 4 3 4 5 5 1 4 1 4 6 5 2 4 2 5 4 4-1 4 2 5 3 4 4 4 3 5 2" fill="none" stroke="#000" stroke-width="2.5" stroke-linejoin="round"/>
<path fill="#397ced" stroke="#397ced" stroke-width=".6" d="M506 213l5-1-5 1-4-1zM528 222l4 5 5 1-5 1-4-1-5-2z"/>
<path fill="#3577eb" stroke="#3577eb" stroke-width=".6" d="M511 212l4 6 4 0 5 2 4 2-5 4-4-3-4-2-5-4-4-4zM602 253l5-1-5 10-4-4z"/>
<path fill="#3c82f0" stroke="#3c82f0" stroke-width=".6" d="M537 228l4-2 5 6 4 1-5 0-4-4-4 1-5-1zM567 238l5 5 4-1 5 4 4 6 4-1-4 4-5-3-4-4-4-2-5-4-4-4z"/>
<path fill="#448cf2" stroke="#448cf2" stroke-width=".6" d="M550 233l4 0 5 0 4 3 4 2-4 0-5 0-4-4-4-1-5 0zM589 251l5 0 4 4 4-2-4 5-5 0-4 0-4-3zM642 293l4-29-4 0-5 27zM655 240l4 21-4 4-5-24z"/>
<path fill="#2657d0" stroke="#2657d0" stroke-width=".6" d="M607 252l4 13-4 4-5-7zM725 358l4 2-4 5-5-3z"/>
<path fill="#1a3aac" stroke="#1a3aac" stroke-width=".6" d="M611 265l5 16-5 4-4-16z"/>
<path fill="#0e1e6e" stroke="#0e1e6e" stroke-width=".6" d="M616 281l4 15 4 13 5 9-5 1-4-10-5-12-4-12zM668 312l4 15-4 0-5-10z"/>
<path fill="#1d42b8" stroke="#1d42b8" stroke-width=".6" d="M629 318l4 0-5 2-4-1zM677 330l4 4-4 3-5-5z"/>
<path fill="#2049c0" stroke="#2049c0" stroke-width=".6" d="M633 318l4-9-4 1-5 10zM681 334l5 1 4 4-5 5-4-3-4-4zM703 345l4 6 5 2-5 2-4-3-5-3zM742 370l5 2-5 4-4-2z"/>
<path fill="#295ed8" stroke="#295ed8" stroke-width=".6" d="M637 309l5-16-5-2-4 19zM659 261l5 30-5 0-4-26z"/>
<path fill="#a0e4ff" stroke="#a0e4ff" stroke-width=".6" d="M646 264l5-23-5 1-4 22z"/>
<path fill="#e4faff" stroke="#e4faff" stroke-width=".6" d="M651 241l4-1-5 1-4 1z"/>
<path fill="#17339d" stroke="#17339d" stroke-width=".6" d="M664 291l4 21-5 5-4-26z"/>
<path fill="#11257e" stroke="#11257e" stroke-width=".6" d="M672 327l5 3-5 2-4-5z"/>
<path fill="#2350c8" stroke="#2350c8" stroke-width=".6" d="M690 339l4 5 5 0 4 1-5 4-4-4-4-1-5 0zM712 353l4 3 5 3 4-1-5 4-4 1-4-7-5-1zM729 360l5 3 4 4 4 3-4 4-5-7-4 2-4-4z"/>
<path d="M502 212l4 1 4 4 5 4 4 2 4 3 5 2 4 1 5 1 4-1 4 4 5 0 4 1 4 4 5 0 4 4 5 4 4 2 4 4 5 3 4 3 4 0 5 0 4 4 5 7 4 16 4 12 5 12 4 10 4 1 5-10 4-19 5-27 4-22 4-1 5 24 4 26 4 26 5 10 4 5 5 5 4 4 4 3 5 0 4 1 4 4 5 3 4 3 5 1 4 7 4-1 5 3 4 4 4-2 5 7 4 2" fill="none" stroke="#000" stroke-width="2.5" stroke-linejoin="round"/>
<path fill="#397ced" stroke="#397ced" stroke-width=".6" d="M502 213l4 1-5 5-4-2zM519 224l4 3 5 2 4 1-5 1-4 0-4-3-5-2zM572 248l4 2 4 3-4 5-5-5-4-6z"/>
<path fill="#3577eb" stroke="#3577eb" stroke-width=".6" d="M506 214l4 4 5 4 4 2-5 2-4 0-4-4-5-3z"/>
<path fill="#3c82f0" stroke="#3c82f0" stroke-width=".6" d="M532 230l5 1 4 0-5 5-4 0-5-5zM567 243l5 5-5-1-5-1zM580 253l5 4 4 2 4 0 5 0-5 8-4-3-5-1-4-6-4 1z"/>
<path fill="#448cf2" stroke="#448cf2" stroke-width=".6" d="M541 231l4 4 5-1 4 1 4 5 5-1 4 4-5 3-4-4-4-1-5 1-4-7-4 3-5-2zM650 243l5 23-5 6-4-27z"/>
<path fill="#3271e8" stroke="#3271e8" stroke-width=".6" d="M598 259l4 4-5 4-4 0z"/>
<path fill="#2657d0" stroke="#2657d0" stroke-width=".6" d="M602 263l5 7-5 5-5-8zM655 266l4 27-5 8-4-29zM720 363l5 3-5 0-4-2z"/>
<path fill="#1a3aac" stroke="#1a3aac" stroke-width=".6" d="M607 270l4 16-5 3-4-14z"/>
<path fill="#0e1e6e" stroke="#0e1e6e" stroke-width=".6" d="M611 286l4 12 5 12 4 10-5 3-4-9-4-14-5-11zM663 318l5 10-5 2-4-9z"/>
<path fill="#1d42b8" stroke="#1d42b8" stroke-width=".6" d="M624 320l4 2-4 2-5-1zM672 333l5 5-5 0-5 0z"/>
<path fill="#2049c0" stroke="#2049c0" stroke-width=".6" d="M628 322l5-11-5 3-4 10zM677 338l4 4 4 3-4 1-5-3-4-5zM698 350l5 3 4 3-5 4-4-2-4-5zM738 376l4 2-5 1-4-2z"/>
<path fill="#2c65e0" stroke="#2c65e0" stroke-width=".6" d="M633 311l4-19-5-2-4 24z"/>
<path fill="#4c96f4" stroke="#4c96f4" stroke-width=".6" d="M637 292l5-27-5-2-5 27z"/>
<path fill="#aee9ff" stroke="#aee9ff" stroke-width=".6" d="M642 265l4-22-5 1-4 19z"/>
<path fill="#f0fdff" stroke="#f0fdff" stroke-width=".6" d="M646 243l4 0-4 2-5-1z"/>
<path fill="#142c8d" stroke="#142c8d" stroke-width=".6" d="M659 293l4 25-4 3-5-20zM668 328l4 5-5 5-4-8z"/>
<path fill="#2350c8" stroke="#2350c8" stroke-width=".6" d="M685 345l5 1 4 1 4 3-4 3-5-3-4-1-4-3zM707 356l5 2 4 6 4-1-4 1-5 1-4-3-5-2zM725 366l4 5 4-3 5 8-5 1-4-4-5-3-4-4z"/>
<path d="M497 217l4 2 5 3 4 4 4 0 5 2 4 3 4 0 5 5 4 0 5 2 4-3 4 7 5-1 4 1 4 4 5 1 4 6 5 5 4-1 4 6 5 1 4 3 4 0 5 8 4 14 5 11 4 14 4 9 5 1 4-10 4-24 5-27 4-19 5 1 4 27 4 29 5 20 4 9 4 8 5 0 4 5 5 3 4 3 4 1 5 3 4 5 4 2 5 2 4 3 5-1 4 2 4 4 5 3 4 4 4 2" fill="none" stroke="#000" stroke-width="2.5" stroke-linejoin="round"/>
<path fill="#3577eb" stroke="#3577eb" stroke-width=".6" d="M497 218l4 3 5 2 4 5-5-1-4 1-4-8-5-1z"/>
<path fill="#397ced" stroke="#397ced" stroke-width=".6" d="M510 228l4-1 5 2 4 4 4-1-4 4-5 0-4-5-4 0-5-4zM571 255l5 5 4-2 4 6 5 1 4 3-5 1-4 0-4-5-5-2-4-5-4-3z"/>
<path fill="#3c82f0" stroke="#3c82f0" stroke-width=".6" d="M527 232l5 5 4 0-4 1-5-1-4-1zM562 247l5 1 4 7-4-1-5-3-4 1zM646 246l4 28-5 6-4-33z"/>
<path fill="#448cf2" stroke="#448cf2" stroke-width=".6" d="M536 237l5 2 4-2 4 7 5-2 4 2 4 3-4 5-5-5-4-3-4 0-5-1-4-3-4-2z"/>
<path fill="#2f6ce5" stroke="#2f6ce5" stroke-width=".6" d="M593 268l4 0-4 7-5-6z"/>
<path fill="#2657d0" stroke="#2657d0" stroke-width=".6" d="M597 268l5 8-5 5-4-6zM711 366l5 0 4 2-5 3-4-1-4-2z"/>
<path fill="#1a3aac" stroke="#1a3aac" stroke-width=".6" d="M602 276l4 14-4 1-5-10z"/>
<path fill="#11257e" stroke="#11257e" stroke-width=".6" d="M606 290l5 11-5 5-4-15zM663 332l4 8-4 3-5-4z"/>
<path fill="#0e1e6e" stroke="#0e1e6e" stroke-width=".6" d="M611 301l4 14 4 9-4 2-5-9-4-11zM659 323l4 9-5 7-4-14z"/>
<path fill="#2049c0" stroke="#2049c0" stroke-width=".6" d="M619 324l5 1 4-10-5 0-4 10-4 1zM698 359l4 2-4 0-5-1z"/>
<path fill="#2c65e0" stroke="#2c65e0" stroke-width=".6" d="M628 315l4-24-4 3-5 21z"/>
<path fill="#53a0f7" stroke="#53a0f7" stroke-width=".6" d="M632 291l5-27-5-2-4 32z"/>
<path fill="#bceeff" stroke="#bceeff" stroke-width=".6" d="M637 264l4-19-4-2-5 19z"/>
<path fill="#d7f7ff" stroke="#d7f7ff" stroke-width=".6" d="M641 245l5 1-5 1-4-4z"/>
<path fill="#2350c8" stroke="#2350c8" stroke-width=".6" d="M650 274l4 28-4 6-5-28zM672 339l4 5 5 3 4 4 4 0 5 4 4 4-5 1-4-5-4-1-5-3-4 0-4-5-5-2zM702 361l5 2 4 3-4 2-5-2-4-5zM720 368l4 3 5 3 4 4 4 2-4 1-5-2-4 0-4-5-5-3z"/>
<path fill="#142c8d" stroke="#142c8d" stroke-width=".6" d="M654 302l5 21-5 2-4-17z"/>
<path fill="#1d42b8" stroke="#1d42b8" stroke-width=".6" d="M667 340l5-1-5 5-4-1z"/>
<path d="M492 219l5 1 4 8 4-1 5 4 4 0 4 5 5 0 4 1 5 1 4 2 4 3 5 1 4 0 4 3 5 5 4-1 5 3 4 3 4 5 5 2 4 5 4 0 5 6 4 6 5 10 4 15 4 11 5 9 4-1 4-10 5-21 4-32 5-19 4 4 4 33 5 28 4 17 4 14 5 4 4 1 5 2 4 5 4 0 5 3 4 1 4 5 5 1 4 5 5 2 4 2 4 1 5 3 4 5 4 0 5 2" fill="none" stroke="#000" stroke-width="2.5" stroke-linejoin="round"/>
<path fill="#3577eb" stroke="#3577eb" stroke-width=".6" d="M492 221l5 0 4 9 4-2-4 2-5-1-4-2-4-5zM584 271l4 0-4 4-5-3z"/>
<path fill="#397ced" stroke="#397ced" stroke-width=".6" d="M505 228l5 4 4 0 4 5 5 0-5 3-4-3-5-3-4 0-4-4zM571 258l4 6 5 1 4 6-5 1-4-3-4-3-5-7zM641 249l4 32-4 3-5-28z"/>
<path fill="#3c82f0" stroke="#3c82f0" stroke-width=".6" d="M523 237l4 1 5 1-5 4-4 0-5-3zM567 256l4 2-5 1-4-1z"/>
<path fill="#448cf2" stroke="#448cf2" stroke-width=".6" d="M532 239l4 2 4 3 5 1 4 0 4 3 5 5 4-1 5 4-5 2-4-1-5-4-4-3-5-3-4 0-4-3-5 1-4-2z"/>
<path fill="#2f6ce5" stroke="#2f6ce5" stroke-width=".6" d="M588 271l5 5-5 4-4-5zM623 316l5-21-5-4-4 27z"/>
<path fill="#2350c8" stroke="#2350c8" stroke-width=".6" d="M593 276l4 6-4 4-5-6zM676 352l4 1 5 3 4 0 4 5 5 1 4 5 5 2-5 1-4-1-5-3-4-1-5-2-4-4-4-2-5-2zM711 371l4 1 5 3-5 3-4-2-5-4zM724 380l4 0 5 3-5 3-4-3-5 0z"/>
<path fill="#1a3aac" stroke="#1a3aac" stroke-width=".6" d="M597 282l5 10-5 5-4-11z"/>
<path fill="#11257e" stroke="#11257e" stroke-width=".6" d="M602 292l4 16-5-1-4-10zM650 309l4 17-5 6-4-17z"/>
<path fill="#0e1e6e" stroke="#0e1e6e" stroke-width=".6" d="M606 308l4 11 5 8-5 2-4-8-5-14zM654 326l4 14-4 4-5-12z"/>
<path fill="#2049c0" stroke="#2049c0" stroke-width=".6" d="M615 327l4 0 4-11-4 2-5 11-4 0zM645 281l5 28-5 6-4-31zM663 345l4 0 5 2 4 5-5 3-4-3-4-4-5-5zM720 375l4 5-5 3-4-5z"/>
<path fill="#5baaf9" stroke="#5baaf9" stroke-width=".6" d="M628 295l4-31-4 1-5 26z"/>
<path fill="#caf3ff" stroke="#caf3ff" stroke-width=".6" d="M632 264l5-19-5 3-4 17z"/>
<path fill="#aee9ff" stroke="#aee9ff" stroke-width=".6" d="M637 245l4 4-5 7-4-8z"/>
<path fill="#142c8d" stroke="#142c8d" stroke-width=".6" d="M658 340l5 5-5-2-4 1z"/>
<path fill="#2657d0" stroke="#2657d0" stroke-width=".6" d="M707 369l4 2-5 1-4-2z"/>
<path d="M488 222l4 5 4 2 5 1 4 4 4 0 5 3 4 3 5 3 4 0 4 2 5-1 4 3 4 0 5 3 4 3 5 4 4 1 4 1 5 7 4 3 4 3 5 3 4 5 5 6 4 11 4 10 5 14 4 8 4 0 5-11 4-27 5-26 4-17 4 8 5 28 4 31 4 17 5 12 4-1 5 5 4 4 4 3 5 2 4 2 4 4 5 2 4 1 5 3 4 1 4 2 5 4 4 2 4 5 5 0 4 3" fill="none" stroke="#000" stroke-width="2.5" stroke-linejoin="round"/>
<path fill="#3577eb" stroke="#3577eb" stroke-width=".6" d="M488 223l4 5 4 2-4 4-5-4-4-2zM579 273l5 3-5 5-4-5zM636 258l5 27-5 10-4-29z"/>
<path fill="#397ced" stroke="#397ced" stroke-width=".6" d="M496 230l5 1 4 5 4 0 5 2-5 2-4 0-5-2-4-5-4 1zM566 260l5 7 4 4 4 2-4 3-5-7-4 2-4-6z"/>
<path fill="#3c82f0" stroke="#3c82f0" stroke-width=".6" d="M514 238l4 3 5 3 4 0-5 5-4-4-5-3-4-2zM558 258l4 1 4 1-4 5-5-3-4-3z"/>
<path fill="#448cf2" stroke="#448cf2" stroke-width=".6" d="M527 244l4 2 5-1 4 3 4 1 5 3 4 2 5 4-5 1-5-1-4-3-4-4-5 1-4-4-4-1-5 2z"/>
<path fill="#2f6ce5" stroke="#2f6ce5" stroke-width=".6" d="M584 276l4 5-5 1-4-1zM619 320l4-28-5 5-4 23z"/>
<path fill="#2350c8" stroke="#2350c8" stroke-width=".6" d="M588 281l5 6-5 4-5-9zM667 353l4 3 5 2 4 2-5 1-4-1-4-3-5 0zM689 366l4 2 5 3-5 5-5-7-4-1zM706 373l5 4 4 2 4 6 5-1 4 4-5 1-4 1-4-5-5-4-4 0-4-2z"/>
<path fill="#1a3aac" stroke="#1a3aac" stroke-width=".6" d="M593 287l4 11-5 2-4-9z"/>
<path fill="#11257e" stroke="#11257e" stroke-width=".6" d="M597 298l4 10-4 5-5-13zM645 317l4 16-4 3-5-14z"/>
<path fill="#0e1e6e" stroke="#0e1e6e" stroke-width=".6" d="M601 308l5 14 4 8-5 2-4-8-4-11zM649 333l5 12-5 3-4-12z"/>
<path fill="#2049c0" stroke="#2049c0" stroke-width=".6" d="M610 330l4 0 5-10-5 0-4 15-5-3zM641 285l4 32-5 5-4-27zM658 345l5 5 4 3-5 4-4-5-5-1zM680 360l4 4 5 2-5 2-4-2-5-5z"/>
<path fill="#5baaf9" stroke="#5baaf9" stroke-width=".6" d="M623 292l5-26-5 5-5 26z"/>
<path fill="#bceeff" stroke="#bceeff" stroke-width=".6" d="M628 266l4-16-5 6-4 15z"/>
<path fill="#75c1fc" stroke="#75c1fc" stroke-width=".6" d="M632 250l4 8-4 8-5-10z"/>
<path fill="#142c8d" stroke="#142c8d" stroke-width=".6" d="M654 345l4 0-5 6-4-3z"/>
<path fill="#2657d0" stroke="#2657d0" stroke-width=".6" d="M698 371l4 0 4 2-4 6-5-9-4 6z"/>
<path d="M483 228l4 2 5 4 4-1 4 5 5 2 4 0 4 2 5 3 4 4 5-2 4 1 4 4 5-1 4 4 4 3 5 1 4 3 5 3 4 6 4-2 5 7 4 5 4 1 5 9 4 9 5 13 4 11 4 8 5 3 4-15 4-23 5-26 4-15 5 10 4 29 4 27 5 14 4 12 4 3 5 1 4 5 5 0 4 3 4 1 5 5 4 2 4 1 5 7 4-6 5 9 4 2 4 0 5 4 4 5 4-1" fill="none" stroke="#000" stroke-width="2.5" stroke-linejoin="round"/>
<path fill="#397ced" stroke="#397ced" stroke-width=".6" d="M483 229l4 3 5 3 4 0 4 4 5 2 4 0-5 6-4-5-4-2-5-2-4-2-4-3-5-2zM557 264l5 2 4 6 4-1-4 7-5-6-4-2-4-3z"/>
<path fill="#3c82f0" stroke="#3c82f0" stroke-width=".6" d="M509 241l4 2 5 3 4 4-4 1-5-2-4-4-5 2zM553 260l4 4-4 3-5-6z"/>
<path fill="#448cf2" stroke="#448cf2" stroke-width=".6" d="M522 250l5-2-5 2-4 1zM531 250l4 4 5-2 4 4 4 3 5 1-5 1-4-5-5 3-4-4-4-2-5-3z"/>
<path fill="#4c96f4" stroke="#4c96f4" stroke-width=".6" d="M527 248l4 2-5 0-4 0z"/>
<path fill="#3577eb" stroke="#3577eb" stroke-width=".6" d="M570 271l5 7-5 1-4-1z"/>
<path fill="#3271e8" stroke="#3271e8" stroke-width=".6" d="M575 278l4 4-5 2-4-5z"/>
<path fill="#2c65e0" stroke="#2c65e0" stroke-width=".6" d="M579 282l4 2-4 2-5-2z"/>
<path fill="#2350c8" stroke="#2350c8" stroke-width=".6" d="M583 284l5 8-5 1-4-7zM662 358l5 0 4 3 4 1-4 4-5-1-4-5-4-1zM684 370l4 1 5 6 4-5 5 8 4 2 4 0 5 4 4 6 4-2-4 4-5-2-4-4-4-1-5-3-4-2-4-3-5-2-4-2-5-4z"/>
<path fill="#1a3aac" stroke="#1a3aac" stroke-width=".6" d="M588 292l4 9-4 8-5-16zM636 296l4 27-4 6-5-26z"/>
<path fill="#11257e" stroke="#11257e" stroke-width=".6" d="M592 301l5 13-5 2-4-7zM601 325l4 8-4 1-5-4z"/>
<path fill="#0e1e6e" stroke="#0e1e6e" stroke-width=".6" d="M597 314l4 11-5 5-4-14zM640 323l5 15 4 11-5 2-4-8-4-14z"/>
<path fill="#2049c0" stroke="#2049c0" stroke-width=".6" d="M605 333l5 3 4-15-5 3-4 13-4-3zM653 352l5 1 4 5-4 1-5-2-4-7zM675 362l5 5 4 3-5 1-4-2-4-3z"/>
<path fill="#2f6ce5" stroke="#2f6ce5" stroke-width=".6" d="M614 321l4-22-4 3-5 22zM632 268l4 28-5 7-4-23z"/>
<path fill="#5baaf9" stroke="#5baaf9" stroke-width=".6" d="M618 299l5-27-5 1-4 29zM627 257l5 11-5 12-4-17z"/>
<path fill="#aee9ff" stroke="#aee9ff" stroke-width=".6" d="M623 272l4-15-4 6-5 10z"/>
<path fill="#17339d" stroke="#17339d" stroke-width=".6" d="M649 349l4 3-4-2-5 1z"/>
<path d="M478 231l5 2 4 3 4 2 5 2 4 2 4 5 5-2 4 4 5 2 4-1 4 0 5 3 4 2 4 4 5-3 4 5 5 6 4 3 4 2 5 6 4 1 4 5 5 2 4 7 5 16 4 7 4 14 5 4 4 3 4-13 5-22 4-29 5-10 4 17 4 23 5 26 4 14 4 8 5-1 4 7 5 2 4 1 4 5 5 1 4 3 4 2 5 4 4 2 5 2 4 3 4 2 5 3 4 1 4 4 5 2" fill="none" stroke="#000" stroke-width="2.5" stroke-linejoin="round"/>
<path fill="#397ced" stroke="#397ced" stroke-width=".6" d="M478 233l5 2 4 2 4 2 5 2 4 2 4 5-4 1-5-4-4 0-4-4-5-2-4-4-4-1zM557 271l4 2 5 6-5 1-4-5-5-2z"/>
<path fill="#3c82f0" stroke="#3c82f0" stroke-width=".6" d="M504 248l5-2 4 4 5 2-5 3-4-6-5 0-4 0zM548 262l5 6 4 3-5 2-4-3-4-3z"/>
<path fill="#448cf2" stroke="#448cf2" stroke-width=".6" d="M518 252l4-1 4 1-4 3-5 3-4-3zM531 254l4 3 4 3-4 3-5-2-4-7zM544 257l4 5-4 5-5-5zM623 264l4 17-5 14-4-13z"/>
<path fill="#4c96f4" stroke="#4c96f4" stroke-width=".6" d="M526 252l5 2-5 0-4 1zM539 260l5-3-5 5-4 1zM614 304l4-30-4 14-5 21z"/>
<path fill="#3577eb" stroke="#3577eb" stroke-width=".6" d="M566 279l4 1-5 3-4-3z"/>
<path fill="#3271e8" stroke="#3271e8" stroke-width=".6" d="M570 280l4 5-4 2-5-4z"/>
<path fill="#2c65e0" stroke="#2c65e0" stroke-width=".6" d="M574 285l5 2-5 6-4-6z"/>
<path fill="#2350c8" stroke="#2350c8" stroke-width=".6" d="M579 287l4 8-4 5-5-7zM658 360l4 2 4 4 5 2-5 4-4-7-5 0-4-1zM675 371l4 2 5 4 4 1 5 2 4 3 4 2 5 3 4 1 4 4 5 2-5 2-4-5-5 0-4-3-4-2-5-1-4-3-4-4-5-1-4 0-5-6z"/>
<path fill="#17339d" stroke="#17339d" stroke-width=".6" d="M583 295l5 15-5 0-4-10zM631 305l5 25-5 6-4-20z"/>
<path fill="#11257e" stroke="#11257e" stroke-width=".6" d="M588 310l4 7-5 3-4-10zM596 331l5 4-5 6-4-8zM640 344l4 9-4 0-5-3z"/>
<path fill="#0e1e6e" stroke="#0e1e6e" stroke-width=".6" d="M592 317l4 14-4 2-5-13zM636 330l4 14-5 6-4-14z"/>
<path fill="#2049c0" stroke="#2049c0" stroke-width=".6" d="M601 335l4 3 4-13-4 5-5 9-4 2zM649 352l4 7 5 1-5 4-4-3-5-3zM671 368l4 3-5 1-4 0z"/>
<path fill="#2f6ce5" stroke="#2f6ce5" stroke-width=".6" d="M609 325l5-21-5 5-4 21z"/>
<path fill="#83ccfd" stroke="#83ccfd" stroke-width=".6" d="M618 274l5-10-5 18-4 6z"/>
<path fill="#295ed8" stroke="#295ed8" stroke-width=".6" d="M627 281l4 24-4 11-5-21z"/>
<path fill="#1a3aac" stroke="#1a3aac" stroke-width=".6" d="M644 353l5-1-5 6-4-5z"/>
<path d="M474 234l4 1 4 4 5 2 4 4 4 0 5 4 4 0 5 0 4 6 4 3 5-3 4-1 4 7 5 2 4-1 5 5 4 3 4 3 5 2 4 5 4 3 5 4 4 6 5 7 4 10 4 10 5 13 4 8 4-2 5-9 4-21 5-21 4-6 4 13 5 21 4 20 4 14 5 3 4 5 5 3 4 3 4 1 5 0 4 7 4 0 5 6 4 0 5 1 4 4 4 3 5 1 4 2 4 3 5 0 4 5" fill="none" stroke="#000" stroke-width="2.5" stroke-linejoin="round"/>
<path fill="#397ced" stroke="#397ced" stroke-width=".6" d="M474 236l4 1 4 3 5 3 4 3 4 0 5 5-5 2-4-4-5-2-4-2-4-1-5-4-4-4zM557 276l4 5-5 2-4-5z"/>
<path fill="#3c82f0" stroke="#3c82f0" stroke-width=".6" d="M500 251l4-1 5 0 4 7-5 0-4-2-5 0-4-2zM544 268l4 3 4 3 5 2-5 2-4-3-5-4-4 0zM609 310l5-21-5 16-5 16z"/>
<path fill="#448cf2" stroke="#448cf2" stroke-width=".6" d="M513 257l4 2 5-3-5 2-4 0-5-1zM526 255l4 7 5 2 4 0 5 4-5 3-5-4-4-4-4-1-5 1z"/>
<path fill="#4c96f4" stroke="#4c96f4" stroke-width=".6" d="M522 256l4-1-5 8-4-5zM614 289l4-5-5 18-4 3z"/>
<path fill="#3577eb" stroke="#3577eb" stroke-width=".6" d="M561 281l4 3-4 5-5-6z"/>
<path fill="#3271e8" stroke="#3271e8" stroke-width=".6" d="M565 284l5 5-5 2-4-2zM618 284l4 12-4 16-5-10z"/>
<path fill="#295ed8" stroke="#295ed8" stroke-width=".6" d="M570 289l4 6-5 2-4-6z"/>
<path fill="#2049c0" stroke="#2049c0" stroke-width=".6" d="M574 295l5 6-5 1-5-5zM596 342l4-2 5-9-5 7-4 7-5-3zM622 296l5 21-5 13-4-18zM644 359l5 4-5 1-5 0zM688 384l4 3-4 3-5-4z"/>
<path fill="#1a3aac" stroke="#1a3aac" stroke-width=".6" d="M579 301l4 10-5 2-4-11zM640 354l4 5-5 5-4-8z"/>
<path fill="#11257e" stroke="#11257e" stroke-width=".6" d="M583 311l4 10-4 5-5-13z"/>
<path fill="#0e1e6e" stroke="#0e1e6e" stroke-width=".6" d="M587 321l5 13 4 8-5 0-4-6-4-10zM631 337l4 14-4 3-5-9z"/>
<path fill="#2c65e0" stroke="#2c65e0" stroke-width=".6" d="M605 331l4-21-5 11-4 17z"/>
<path fill="#142c8d" stroke="#142c8d" stroke-width=".6" d="M627 317l4 20-5 8-4-15zM635 351l5 3-5 2-4-2z"/>
<path fill="#2350c8" stroke="#2350c8" stroke-width=".6" d="M649 363l4 2 4 2 5-1 4 7 4 0 5 6 4 0-5 1-4-1-4-4-5 0-4-4-4 0-5-5-4-2zM684 380l4 4-5 2-4-4zM692 387l5 2-5 5-4-4zM701 390l4 3 5 1 4 5-5 2-4-1-4-3-5-6z"/>
<path fill="#2657d0" stroke="#2657d0" stroke-width=".6" d="M679 379l5 1-5 2-5-2zM697 389l4 1-5 1-4 3z"/>
<path d="M469 236l4 4 5 4 4 1 4 2 5 2 4 4 4 2 5 0 4 2 5 1 4 0 4 5 5-1 4 1 4 4 5 4 4 0 5 4 4 3 4 5 5 6 4 2 4 6 5 5 4 11 5 13 4 10 4 6 5 3 4-7 4-17 5-16 4-3 5 10 4 18 4 15 5 9 4 2 4 8 5 0 4 2 5 5 4 0 4 4 5 0 4 4 4 1 5 2 4 4 5 4 4 4 4-3 5 6 4 3 4 1" fill="none" stroke="#000" stroke-width="2.5" stroke-linejoin="round"/>
<path fill="#397ced" stroke="#397ced" stroke-width=".6" d="M469 238l4 3-4 1-5-1zM478 246l4 1 4 1-4 1-5 1-4-4zM491 250l4 4-5 2-4-4zM548 276l4 3 4 6-4 1-5-3-4-3z"/>
<path fill="#3577eb" stroke="#3577eb" stroke-width=".6" d="M473 241l5 5-5 0-4-4zM556 285l5 5-5 1-4-5z"/>
<path fill="#3c82f0" stroke="#3c82f0" stroke-width=".6" d="M486 248l5 2-5 2-4-3zM495 254l4 2 5 0-5 2-4-2-5 0zM543 272l5 4-5 4-4-4z"/>
<path fill="#448cf2" stroke="#448cf2" stroke-width=".6" d="M504 256l4 3 5 0 4 1 4 5 5-1-5 2-4 0-5-4-4 0-4-2-5-2zM534 268l5 4 4 0-4 4-5-3-4-4z"/>
<path fill="#4c96f4" stroke="#4c96f4" stroke-width=".6" d="M526 264l4 0 4 4-4 1-5 0-4-3z"/>
<path fill="#3271e8" stroke="#3271e8" stroke-width=".6" d="M561 290l4 3-5 0-4-2zM609 306l4-3-4 18-5 4z"/>
<path fill="#295ed8" stroke="#295ed8" stroke-width=".6" d="M565 293l4 6-4 0-5-6z"/>
<path fill="#2049c0" stroke="#2049c0" stroke-width=".6" d="M569 299l5 5-5 8-4-13zM591 343l5 3 4-7-5 3-4 8-4-4zM639 366l5-1-5 4-4-4zM683 387l5 4-5 1-4-3zM705 401l4 2-4 4-5-5z"/>
<path fill="#17339d" stroke="#17339d" stroke-width=".6" d="M574 304l4 10-4 6-5-8zM631 355l4 3-5 4-4-1z"/>
<path fill="#11257e" stroke="#11257e" stroke-width=".6" d="M578 314l5 13-5 1-4-8zM622 331l4 15-4 7-5-11z"/>
<path fill="#0e1e6e" stroke="#0e1e6e" stroke-width=".6" d="M583 327l4 10 4 6-4 3-5-7-4-11zM626 346l5 9-5 6-4-8z"/>
<path fill="#2657d0" stroke="#2657d0" stroke-width=".6" d="M600 339l4-17-4 13-5 7zM613 303l5 10-5 18-4-10zM674 382l5 1-5 4-4-1z"/>
<path fill="#2f6ce5" stroke="#2f6ce5" stroke-width=".6" d="M604 322l5-16-5 19-4 10z"/>
<path fill="#1a3aac" stroke="#1a3aac" stroke-width=".6" d="M618 313l4 18-5 11-4-11z"/>
<path fill="#1d42b8" stroke="#1d42b8" stroke-width=".6" d="M635 358l4 8-4-1-5-3z"/>
<path fill="#2350c8" stroke="#2350c8" stroke-width=".6" d="M644 365l4 2 5 5 4 0 4 4 5 0 4 4 4 2-4 4-5-3-4-3-4-2-5-2-4-3-4-2-5-2zM679 383l4 4-4 2-5-2zM688 391l4 4 4-2 5 5 4 3-5 1-4-1-4-4-5 0-4-5z"/>
<path d="M464 241l5 1 4 4 4 4 5-1 4 3 4 4 5 0 4 2 5 2 4 2 4 0 5 4 4 0 4 3 5 0 4 4 5 3 4 4 4 3 5 3 4 5 4 2 5 6 4 13 5 8 4 8 4 11 5 7 4 4 4-8 5-7 4-10 5-4 4 10 4 11 5 11 4 8 4 1 5 3 4 4 5 2 4 2 4 3 5 2 4 2 4 3 5 3 4 1 5 2 4 3 4 5 5 0 4 4 4 1 5 5" fill="none" stroke="#000" stroke-width="2.7" stroke-linejoin="round"/>
<polyline points="1033.7,302 1234.4,136.8 1475,275.9" fill="none" stroke="#d6d6d6" stroke-width="1.2"/>
<polyline points="1033.7,283.9 1234.4,118.7 1475,257.8" fill="none" stroke="#d6d6d6" stroke-width="1.2"/>
<polyline points="1033.7,265.8 1234.4,100.6 1475,239.7" fill="none" stroke="#d6d6d6" stroke-width="1.2"/>
<polyline points="1033.7,247.7 1234.4,82.5 1475,221.6" fill="none" stroke="#d6d6d6" stroke-width="1.2"/>
<polyline points="1033.7,229.6 1234.4,64.4 1475,203.5" fill="none" stroke="#d6d6d6" stroke-width="1.2"/>
<polyline points="1033.7,211.5 1234.4,46.3 1475,185.4" fill="none" stroke="#d6d6d6" stroke-width="1.2"/>
<polyline points="1033.7,193.4 1234.4,28.2 1475,167.3" fill="none" stroke="#d6d6d6" stroke-width="1.2"/>
<polyline points="1033.7,175.3 1234.4,10.1 1475,149.2" fill="none" stroke="#d6d6d6" stroke-width="1.2"/>
<line x1="1100.6" y1="246.9" x2="1100.6" y2="118.5" stroke="#d6d6d6" stroke-width="1.2"/>
<line x1="1100.6" y1="246.9" x2="1341.2" y2="386" stroke="#d6d6d6" stroke-width="1.2"/>
<line x1="1167.5" y1="191.9" x2="1167.5" y2="63.5" stroke="#d6d6d6" stroke-width="1.2"/>
<line x1="1167.5" y1="191.9" x2="1408.1" y2="331" stroke="#d6d6d6" stroke-width="1.2"/>
<line x1="1264.5" y1="154.2" x2="1264.5" y2="25.8" stroke="#d6d6d6" stroke-width="1.2"/>
<line x1="1264.5" y1="154.2" x2="1063.8" y2="319.4" stroke="#d6d6d6" stroke-width="1.2"/>
<line x1="1309.6" y1="180.3" x2="1309.6" y2="51.9" stroke="#d6d6d6" stroke-width="1.2"/>
<line x1="1309.6" y1="180.3" x2="1108.9" y2="345.5" stroke="#d6d6d6" stroke-width="1.2"/>
<line x1="1354.7" y1="206.3" x2="1354.7" y2="77.9" stroke="#d6d6d6" stroke-width="1.2"/>
<line x1="1354.7" y1="206.3" x2="1154" y2="371.5" stroke="#d6d6d6" stroke-width="1.2"/>
<line x1="1399.8" y1="232.4" x2="1399.8" y2="104" stroke="#d6d6d6" stroke-width="1.2"/>
<line x1="1399.8" y1="232.4" x2="1199.1" y2="397.6" stroke="#d6d6d6" stroke-width="1.2"/>
<line x1="1444.9" y1="258.5" x2="1444.9" y2="130.1" stroke="#d6d6d6" stroke-width="1.2"/>
<line x1="1444.9" y1="258.5" x2="1244.2" y2="423.7" stroke="#d6d6d6" stroke-width="1.2"/>
<line x1="1234.4" y1="136.8" x2="1234.4" y2="8.4" stroke="#d6d6d6" stroke-width="1.2"/>
<polyline points="1033.7,173.6 1033.7,302 1274.3,441.1 1475,275.9" fill="none" stroke="#2a2a2a" stroke-width="1.6"/>
<line x1="1063.8" y1="319.4" x2="1054.7" y2="326.8" stroke="#2a2a2a" stroke-width="1.6"/>
<line x1="1108.9" y1="345.5" x2="1099.9" y2="352.9" stroke="#2a2a2a" stroke-width="1.6"/>
<line x1="1154" y1="371.5" x2="1145" y2="379" stroke="#2a2a2a" stroke-width="1.6"/>
<line x1="1199.1" y1="397.6" x2="1190.1" y2="405.1" stroke="#2a2a2a" stroke-width="1.6"/>
<line x1="1244.2" y1="423.7" x2="1235.2" y2="431.1" stroke="#2a2a2a" stroke-width="1.6"/>
<line x1="1274.3" y1="441.1" x2="1282.7" y2="446" stroke="#2a2a2a" stroke-width="1.6"/>
<line x1="1341.2" y1="386" x2="1349.6" y2="390.9" stroke="#2a2a2a" stroke-width="1.6"/>
<line x1="1408.1" y1="331" x2="1416.5" y2="335.8" stroke="#2a2a2a" stroke-width="1.6"/>
<line x1="1475" y1="275.9" x2="1483.4" y2="280.8" stroke="#2a2a2a" stroke-width="1.6"/>
<line x1="1033.7" y1="302" x2="1026.5" y2="297.8" stroke="#2a2a2a" stroke-width="1.6"/>
<line x1="1033.7" y1="283.9" x2="1026.5" y2="279.7" stroke="#2a2a2a" stroke-width="1.6"/>
<line x1="1033.7" y1="265.8" x2="1026.5" y2="261.6" stroke="#2a2a2a" stroke-width="1.6"/>
<line x1="1033.7" y1="247.7" x2="1026.5" y2="243.5" stroke="#2a2a2a" stroke-width="1.6"/>
<line x1="1033.7" y1="229.6" x2="1026.5" y2="225.4" stroke="#2a2a2a" stroke-width="1.6"/>
<line x1="1033.7" y1="211.5" x2="1026.5" y2="207.3" stroke="#2a2a2a" stroke-width="1.6"/>
<line x1="1033.7" y1="193.4" x2="1026.5" y2="189.2" stroke="#2a2a2a" stroke-width="1.6"/>
<line x1="1033.7" y1="175.3" x2="1026.5" y2="171.1" stroke="#2a2a2a" stroke-width="1.6"/>
<path d="M1234 67l4 4 4 6 4 2 4-4 4-3 4 2 4 3 4 4 4 6 4 5 4 3 4 0 4-4 4-3 4 1 4 4 3 5 4 5 4 1 4 1 4 7 4 10 4 7 4 5 4 3 4 4 4 5 4 7 4 5 4 1 4 3 4 5 4 8 4 4 3 1 4 2 4 3 4-2 4-5 4 3 4 5 4 3 4 0 4 2 4 3 4 1 4 2 4 5 4 4 4 2 4 3 4 2 3-5 4-1 4 5 4 4 4 4 4 3 4-2 4 1 4 3" fill="none" stroke="#000" stroke-width="2.5" stroke-linejoin="round"/>
<path fill="#397ced" stroke="#397ced" stroke-width=".6" d="M1234 69l4 3 4 6-4-1-4-3-4 1zM1270 88l4 5-5-1-4-3zM1309 105l4 1-4 6-4-3z"/>
<path fill="#3c82f0" stroke="#3c82f0" stroke-width=".6" d="M1242 78l4 2-4 3-4-6zM1266 83l4 5-5 1-4-2zM1301 99l4 5 4 1-4 4-4-6-4-10z"/>
<path fill="#448cf2" stroke="#448cf2" stroke-width=".6" d="M1246 80l4-3-4 8-4-2zM1262 79l4 4-5 4-4-5zM1274 93l4 3-5-4-4 0z"/>
<path fill="#4c96f4" stroke="#4c96f4" stroke-width=".6" d="M1250 77l4-3 4 1 4 4-5 3-4-3-4 2-3 4zM1278 96l4 1-5-5-4 0zM1298 94l3 5-4-6-4-5z"/>
<path fill="#53a0f7" stroke="#53a0f7" stroke-width=".6" d="M1282 97l4-5-5 3-4-3z"/>
<path fill="#5baaf9" stroke="#5baaf9" stroke-width=".6" d="M1286 92l4-3-5 4-4 2z"/>
<path fill="#75c1fc" stroke="#75c1fc" stroke-width=".6" d="M1290 89l4 1-5-2-4 5z"/>
<path fill="#66b5fb" stroke="#66b5fb" stroke-width=".6" d="M1294 90l4 4-5-6-4 0z"/>
<path fill="#3271e8" stroke="#3271e8" stroke-width=".6" d="M1313 106l4 8-4 3-4-5z"/>
<path fill="#2c65e0" stroke="#2c65e0" stroke-width=".6" d="M1317 114l4 10-4-2-4-5zM1325 130l4 5-5-1-4-6zM1333 138l4 4-5-3-4-3zM1400 190l4 1 4 1-5 2-4-1-4 3zM1416 196l4 2-5 2-4 0zM1440 214l3-5 4-1 4 5-4 3-4-1-4 3-4 1zM1463 224l4-1-5 6-4-2zM1471 223l4 3-5 5-4-2z"/>
<path fill="#295ed8" stroke="#295ed8" stroke-width=".6" d="M1321 124l4 6-5-2-3-6zM1380 186l4-2 4-4-4 8-4 1-4-3zM1396 188l4 2-5 6-4-2zM1408 192l4 3 4 1-5 4-4-2-4-4zM1420 198l4 5-5-4-4 1zM1436 213l4 1-5 5-4-3zM1451 213l4 4 4 5 4 2-5 3-3-3-4-3-4-5z"/>
<path fill="#2f6ce5" stroke="#2f6ce5" stroke-width=".6" d="M1329 135l4 3-5-2-4-2zM1467 223l4 0-5 6-4 0z"/>
<path fill="#2657d0" stroke="#2657d0" stroke-width=".6" d="M1337 142l4 5-5-3-4-5zM1372 181l4 2 4 3-4 0-4-3-4-1zM1388 180l4 2 4 6-5 6-3-4-4-2zM1424 203l4 4-5-3-4-5z"/>
<path fill="#2049c0" stroke="#2049c0" stroke-width=".6" d="M1341 147l4 7-5-3-4-7zM1428 207l4 3-5 1-4-7z"/>
<path fill="#1d42b8" stroke="#1d42b8" stroke-width=".6" d="M1345 154l4 5 4 1 4 3-5 5-4-5-4-5-4-7z"/>
<path fill="#17339d" stroke="#17339d" stroke-width=".6" d="M1357 163l4 6-5 6-4-7z"/>
<path fill="#142c8d" stroke="#142c8d" stroke-width=".6" d="M1361 169l4 7-5 6-4-7z"/>
<path fill="#1a3aac" stroke="#1a3aac" stroke-width=".6" d="M1365 176l4 4-5 2-4 0z"/>
<path fill="#2350c8" stroke="#2350c8" stroke-width=".6" d="M1369 180l3 1-4 1-4 0zM1432 210l4 3-5 3-4-5z"/>
<path d="M1230 75l4-1 4 3 4 6 4 2 3-4 4-2 4 3 4 5 4 2 4 3 4 0 4 0 4 3 4-2 4-5 4 0 4 5 4 10 4 6 4 3 4 5 4 5 3 6 4 6 4 2 4 3 4 5 4 7 4 7 4 5 4 5 4 7 4 7 4 0 4 0 4 1 4 3 4 3 4-1 4 2 3 4 4 2 4-3 4 1 4 4 4 2 4 0 4-1 4 5 4 7 4 5 4 3 4-1 4-3 4 1 4 5 4 3 3 3 4 2 4 0 4 2" fill="none" stroke="#000" stroke-width="2.5" stroke-linejoin="round"/>
<path fill="#3c82f0" stroke="#3c82f0" stroke-width=".6" d="M1230 76l4-1 4 4-5 1-4 0-4-3zM1301 104l4 6-5-2-4-1z"/>
<path fill="#448cf2" stroke="#448cf2" stroke-width=".6" d="M1238 79l4 5 4 2 3-4 4-2-4 15-4-6-4-8-4-1-4 0zM1265 90l4 3 4 1-5 2-3-2-4-6zM1297 94l4 10-5 3-4-1z"/>
<path fill="#4c96f4" stroke="#4c96f4" stroke-width=".6" d="M1253 80l4 3-4 7-4 5zM1261 88l4 2-4-2-4-3z"/>
<path fill="#53a0f7" stroke="#53a0f7" stroke-width=".6" d="M1257 83l4 5-4-3-4 5zM1273 94l4 0 4 3-5 2-4-2-4-1zM1293 90l4 4-5 12-4-1z"/>
<path fill="#5baaf9" stroke="#5baaf9" stroke-width=".6" d="M1281 97l4-3-5 5-4 0z"/>
<path fill="#66b5fb" stroke="#66b5fb" stroke-width=".6" d="M1285 94l4-5 4 1-5 15-4-4-4-2z"/>
<path fill="#397ced" stroke="#397ced" stroke-width=".6" d="M1305 110l4 3-5 3-4-8z"/>
<path fill="#3577eb" stroke="#3577eb" stroke-width=".6" d="M1309 113l4 5-5 4-4-6z"/>
<path fill="#3271e8" stroke="#3271e8" stroke-width=".6" d="M1313 118l4 5-5 2-4-3zM1324 135l4 2 4 4-4-9-4 5-4-1z"/>
<path fill="#2f6ce5" stroke="#2f6ce5" stroke-width=".6" d="M1317 123l3 6 4 6-4 1-4-7-4-4zM1332 141l4 5-4-13-4-1zM1395 198l4-3 4 0-4-1-4-3-4 0zM1466 230l4 3-4 1-4-1z"/>
<path fill="#2657d0" stroke="#2657d0" stroke-width=".6" d="M1336 146l4 6-4-5-4-14zM1368 183l4 1 4 3-5 2-4 4-4-1zM1384 189l4 2 3 4-4 2-4 2-4-6zM1407 199l4 2-4 5-4-9zM1431 217l4 3-5 3-4-4z"/>
<path fill="#1d42b8" stroke="#1d42b8" stroke-width=".6" d="M1340 152l4 7-5 2-3-14zM1360 184l4 0-5 3-4-3z"/>
<path fill="#17339d" stroke="#17339d" stroke-width=".6" d="M1344 159l4 5 4 5-5 1-4-5-4-4z"/>
<path fill="#142c8d" stroke="#142c8d" stroke-width=".6" d="M1352 169l4 8 4 7-5 0-4-6-4-8z"/>
<path fill="#2350c8" stroke="#2350c8" stroke-width=".6" d="M1364 184l4-1-5 9-4-5zM1423 205l4 8-5-2-4-7z"/>
<path fill="#295ed8" stroke="#295ed8" stroke-width=".6" d="M1376 187l4 3 4-1-5 4-4-6-4 2zM1403 195l4 4-4-2-4-3zM1411 201l4 0-5 5-3 0zM1419 201l4 4-5-1-4-4zM1435 220l4-1-5 3-4 1zM1443 216l4 1-5 14-4-3z"/>
<path fill="#2c65e0" stroke="#2c65e0" stroke-width=".6" d="M1391 195l4 3-4-7-4 6zM1415 201l4 0-5-1-4 6zM1439 219l4-3-5 12-4-6zM1447 217l4 5 4 4 3 2 4 3 4-1-4 3-4-2-4-4-4-4-4 2-4 6z"/>
<path fill="#2049c0" stroke="#2049c0" stroke-width=".6" d="M1427 213l4 4-5 2-4-8z"/>
<path d="M1225 77l4 3 4 0 4 0 4 1 4 8 4 6 4-5 4-5 4 3 4 6 3 2 4 1 4 2 4 0 4 2 4 4 4 1 4 1 4 1 4 8 4 6 4 3 4 4 4 7 4 1 4-5 4 1 4 14 3 14 4 4 4 5 4 8 4 6 4 3 4 5 4 1 4-4 4-2 4 6 4 6 4-2 4-6 4 0 4 3 4 3 4 9 3 0 4-6 4 4 4 7 4 8 4 4 4-1 4 6 4 3 4-6 4-2 4 4 4 4 4 2 4 1" fill="none" stroke="#000" stroke-width="2.5" stroke-linejoin="round"/>
<path fill="#3c82f0" stroke="#3c82f0" stroke-width=".6" d="M1225 79l4 3-5 3-4-4zM1296 108l4 2-5 4-4-9zM1324 139l4-6-5-1-4 0z"/>
<path fill="#448cf2" stroke="#448cf2" stroke-width=".6" d="M1229 82l4-1 4 0 4 1 4 9-5 0-4-1-4-2-4-2-4-1z"/>
<path fill="#4c96f4" stroke="#4c96f4" stroke-width=".6" d="M1245 91l4 5-5-8-4 3zM1261 89l4 6 3 2-4-1-4-4-4-3zM1292 107l4 1-5-3-4-9z"/>
<path fill="#53a0f7" stroke="#53a0f7" stroke-width=".6" d="M1249 96l4-5-5-7-4 4zM1257 87l4 2-5 0-4-4zM1268 97l4 1-4-3-4 1z"/>
<path fill="#5baaf9" stroke="#5baaf9" stroke-width=".6" d="M1253 91l4-4-5-2-4-1zM1272 98l4 3 4 0 4 2 4 3 4 1-5-11-3 1-4 3-4-4-4-4-4 3z"/>
<path fill="#397ced" stroke="#397ced" stroke-width=".6" d="M1300 110l4 7 4 6-5-9-4 1-4-1zM1320 137l4 2-5-7-4-6zM1328 133l4 1-5-7-4 5z"/>
<path fill="#3577eb" stroke="#3577eb" stroke-width=".6" d="M1308 123l4 4 4 4 4 6-5-11-4-1-4-5-4-6z"/>
<path fill="#2f6ce5" stroke="#2f6ce5" stroke-width=".6" d="M1332 134l4 14-5-17-4-4zM1399 195l4 3-5-3-4-3zM1446 226l4-2 4 4-5-1-4 1-4 0zM1462 234l4 1-5 0-4 0z"/>
<path fill="#2350c8" stroke="#2350c8" stroke-width=".6" d="M1336 148l3 14-4-14-4-17zM1359 188l4 6 4 1-5-4-4 1-3-3zM1422 213l4 7-4-2-4 0z"/>
<path fill="#17339d" stroke="#17339d" stroke-width=".6" d="M1339 162l4 4-4 1-4-19zM1351 179l4 6-4 3-4-3z"/>
<path fill="#11257e" stroke="#11257e" stroke-width=".6" d="M1343 166l4 5 4 8-4 6-4-6-4-12z"/>
<path fill="#1d42b8" stroke="#1d42b8" stroke-width=".6" d="M1355 185l4 3-4 1-4-1z"/>
<path fill="#295ed8" stroke="#295ed8" stroke-width=".6" d="M1367 195l4-5-5-3-4 4zM1375 188l4 6-5-3-4-5zM1383 201l4-3-5-1-4-1zM1403 198l4 9 3 1 4-6-4 13-4-9-4-6-4-5zM1430 224l4-1-5-3-4 1z"/>
<path fill="#2c65e0" stroke="#2c65e0" stroke-width=".6" d="M1371 190l4-2-5-2-4 1zM1387 198l4-6-5 5-4 0zM1434 223l4 6 4 3 4-6-5 2-4-11-4-3-4 6zM1454 228l4 4 4 2-5 1-4-3-4-5z"/>
<path fill="#2657d0" stroke="#2657d0" stroke-width=".6" d="M1379 194l4 7-5-5-4-5zM1414 202l4 3 4 8-4 5-4 0-4-3zM1426 220l4 4-5-3-3-3z"/>
<path fill="#3271e8" stroke="#3271e8" stroke-width=".6" d="M1391 192l4 1 4 2-5-3-4 3-4 2z"/>
<path d="M1220 81l4 4 4 1 4 2 4 2 4 1 4-3 4-4 4 1 4 4 4 3 4 4 4-1 4-3 4 4 4 4 4-3 3-1 4 9 4 9 4 1 4-1 4 6 4 5 4 1 4 6 4 0 4-5 4 4 4 17 4 19 4 12 4 6 4 3 4 1 3 3 4-1 4-4 4-1 4 5 4 5 4 1 4 0 4-2 4-3 4 3 4 5 4 6 4 9 4 3 4 0 4 0 3 3 4-1 4-6 4 3 4 11 4 0 4-1 4 5 4 3 4 0" fill="none" stroke="#000" stroke-width="2.5" stroke-linejoin="round"/>
<path fill="#448cf2" stroke="#448cf2" stroke-width=".6" d="M1220 82l4 4 4 1 4 2 4 3-4-5-4-2-4-1-4-1-4-1zM1295 115l4 2 4-2-4-4-4-7-4-6zM1311 126l4 1-5 0-4 0z"/>
<path fill="#4c96f4" stroke="#4c96f4" stroke-width=".6" d="M1236 92l4 0-5-4-3-1zM1291 106l4 9-4-17-4-6z"/>
<path fill="#53a0f7" stroke="#53a0f7" stroke-width=".6" d="M1240 92l4-3-5-1-4 0zM1256 90l4 3 4 4-5-1-4-4-4-4zM1315 127l4 6-5-11-4 5z"/>
<path fill="#5baaf9" stroke="#5baaf9" stroke-width=".6" d="M1244 89l4-4 4 2 4 3-5-2-4-1-4 2-4-1zM1264 97l4-1-5-2-4 2zM1319 133l4 0 4-5-5-14-4 2-4 6z"/>
<path fill="#66b5fb" stroke="#66b5fb" stroke-width=".6" d="M1268 96l4-3 4 4 4 4-5-7-4 0-4-1-4 1zM1287 98l4 8-4-14-4-2z"/>
<path fill="#75c1fc" stroke="#75c1fc" stroke-width=".6" d="M1280 101l4-3 3 0-4-8-4 3-4 1z"/>
<path fill="#3c82f0" stroke="#3c82f0" stroke-width=".6" d="M1303 115l4 7 4 4-5 1-3-8-4-8zM1327 128l4 4-5-10-4-8z"/>
<path fill="#2c65e0" stroke="#2c65e0" stroke-width=".6" d="M1331 132l4 17-5-7-4-20zM1366 188l4-1 4 6 4 4-4-5-4 4-4 4-4-5zM1402 201l4 6-5-2-4 1zM1418 219l4 1 3 2-4-3-4-4-4-2zM1437 218l4 11-4 1-4-3zM1453 234l4 2-5 0-4-2z"/>
<path fill="#1a3aac" stroke="#1a3aac" stroke-width=".6" d="M1335 149l4 20-5-7-4-20zM1347 186l4 3-5-3-4-4z"/>
<path fill="#11257e" stroke="#11257e" stroke-width=".6" d="M1339 169l4 11 4 6-5-4-4-9-4-11z"/>
<path fill="#2350c8" stroke="#2350c8" stroke-width=".6" d="M1351 189l4 1-5-4-4 0z"/>
<path fill="#2657d0" stroke="#2657d0" stroke-width=".6" d="M1355 190l3 3 4 0-4-3-4-1-4-3zM1410 216l4 3-5-6-4-4z"/>
<path fill="#295ed8" stroke="#295ed8" stroke-width=".6" d="M1362 193l4-5-4 7-4-5zM1406 207l4 9-5-7-4-4zM1414 219l4 0-5-6-4 0z"/>
<path fill="#2f6ce5" stroke="#2f6ce5" stroke-width=".6" d="M1378 197l4 1 4 1 4-3 4-3 4 4 4 4-5 5-4-1-4-1-4-1-4-6-4-3-3-2zM1425 222l4-1-4-1-4-1zM1441 229l4 0 4-1 4 6-5 0-4-5-3-1-4 2zM1457 236l4 0-5 2-4-2z"/>
<path fill="#3271e8" stroke="#3271e8" stroke-width=".6" d="M1429 221l4-6 4 3-4 9-4-5-4-2z"/>
<path d="M1216 82l4 1 4 1 4 1 4 2 3 1 4 0 4 1 4-2 4 1 4 4 4 4 4-2 4-1 4 1 4 0 4-1 4-3 4 2 4 6 4 6 4 7 4 8 3 8 4 0 4-5 4-6 4-2 4 8 4 20 4 20 4 11 4 9 4 4 4 0 4 3 4 1 4 5 4 5 4-4 4-4 3 2 4 3 4 6 4 1 4 1 4 1 4-1 4 4 4 4 4 0 4 2 4 4 4 1 4 2 4 5 4 3 4-2 3 1 4 5 4 2 4 2" fill="none" stroke="#000" stroke-width="2.5" stroke-linejoin="round"/>
<path fill="#53a0f7" stroke="#53a0f7" stroke-width=".6" d="M1216 83l4 1 4 1 4 1 4 3-5-1-4-2-4-2-4-3-4 1zM1306 128l4 1-4 0-4-5z"/>
<path fill="#5baaf9" stroke="#5baaf9" stroke-width=".6" d="M1232 89l3 0 4 0-4-1-4-1-4 1zM1251 89l4 4 4 4-5-3-3-2-4-2z"/>
<path fill="#66b5fb" stroke="#66b5fb" stroke-width=".6" d="M1239 89l4 1 4-1 4 0-4 1-4-5-4 1-4 2zM1287 94l4 5-5 6-4-8zM1310 129l4-6-4 7-4-1z"/>
<path fill="#75c1fc" stroke="#75c1fc" stroke-width=".6" d="M1259 97l4-2-5 2-4-3z"/>
<path fill="#83ccfd" stroke="#83ccfd" stroke-width=".6" d="M1263 95l4-1 4 1-5-3-4 3-4 2zM1314 123l4-5-4 4-4 8z"/>
<path fill="#92d8fe" stroke="#92d8fe" stroke-width=".6" d="M1271 95l4 0 4 0-5 0-4-2-4-1zM1283 92l4 2-5 3-4-3zM1318 118l4-3-4-1-4 8z"/>
<path fill="#a0e4ff" stroke="#a0e4ff" stroke-width=".6" d="M1279 95l4-3-5 2-4 1z"/>
<path fill="#4c96f4" stroke="#4c96f4" stroke-width=".6" d="M1291 99l4 6-5 10-4-10zM1303 121l3 7-4-4-4-3zM1322 115l4 8-4-3-4-6z"/>
<path fill="#448cf2" stroke="#448cf2" stroke-width=".6" d="M1295 105l4 7 4 9-5 0-4-1-4-5z"/>
<path fill="#2f6ce5" stroke="#2f6ce5" stroke-width=".6" d="M1326 123l4 21-5 0-3-24zM1370 197l4-3 3 1 4 3-4 2-4 1-4 2-4-1zM1393 206l4 1-5 2-3 2zM1401 207l4 3-5-1-4-1zM1417 216l4 4-5 6-4-4zM1433 228l4 3-5-4-4-5z"/>
<path fill="#1a3aac" stroke="#1a3aac" stroke-width=".6" d="M1330 144l4 19-5 9-4-28z"/>
<path fill="#0e1e6e" stroke="#0e1e6e" stroke-width=".6" d="M1334 163l4 12-5 13-4-16z"/>
<path fill="#11257e" stroke="#11257e" stroke-width=".6" d="M1338 175l4 8-5 7-4-2z"/>
<path fill="#2049c0" stroke="#2049c0" stroke-width=".6" d="M1342 183l4 5-5 4-4-2z"/>
<path fill="#2657d0" stroke="#2657d0" stroke-width=".6" d="M1346 188l4 0-5 4-4 0zM1354 190l4 2 4 4 4 5-5 0-4-1-4-3-4-4z"/>
<path fill="#295ed8" stroke="#295ed8" stroke-width=".6" d="M1350 188l4 2-5 3-4-1zM1366 201l4-4-5 5-4-1zM1444 231l4 4 4 2-4 10-4-7-4-2z"/>
<path fill="#2c65e0" stroke="#2c65e0" stroke-width=".6" d="M1381 198l4 6 4 2 4 0-4 5-4-1-4-5-4-5zM1405 210l4 4 4 0 4 2-5 6-4-5-4-4-4-4zM1437 231l4-2 3 2-4 7-4-2-4-9zM1452 237l4 2-4 8-4 0z"/>
<path fill="#3271e8" stroke="#3271e8" stroke-width=".6" d="M1397 207l4 0-5 1-4 1zM1421 220l4 2 4 1 4 5-5-6-4 2-4 2-4 0z"/>
<path d="M1211 82l4-1 4 3 4 2 4 2 4-1 4 1 4-2 4-1 4 5 4 2 3 2 4 3 4-2 4-3 4 1 4 2 4-1 4 3 4 8 4 10 4 5 4 1 4 3 4 5 4 1 4-8 4-8 4 6 3 24 4 28 4 16 4 2 4 2 4 0 4 1 4 4 4 3 4 1 4 1 4 1 4-2 4-1 4 5 4 5 4 1 3-2 4-1 4 1 4 4 4 4 4 5 4 4 4 0 4-2 4-2 4 5 4 9 4 2 4 2 4 7 4 0" fill="none" stroke="#000" stroke-width="2.5" stroke-linejoin="round"/>
<path fill="#4c96f4" stroke="#4c96f4" stroke-width=".6" d="M1211 83l4-1-5 9-4-2zM1286 106l4 10-5-7-4-9zM1318 115l4 6-5 4-4-13z"/>
<path fill="#53a0f7" stroke="#53a0f7" stroke-width=".6" d="M1215 82l4 3 4 2-5 4-4 1-4-1zM1294 121l4 1-5-1-4-4z"/>
<path fill="#5baaf9" stroke="#5baaf9" stroke-width=".6" d="M1223 87l4 2-5 3-4-1z"/>
<path fill="#66b5fb" stroke="#66b5fb" stroke-width=".6" d="M1227 89l4-1 4 1-5-1-4 6-4-2zM1282 98l4 8-5-6-4-2zM1298 122l4 3-5-4-4 0z"/>
<path fill="#83ccfd" stroke="#83ccfd" stroke-width=".6" d="M1235 89l4-1-5-5-4 5zM1243 86l4 5-5-5-4-3zM1254 95l4 3-4-2-4 1zM1302 125l4 5 4 1-5-8-4-1-4-1z"/>
<path fill="#92d8fe" stroke="#92d8fe" stroke-width=".6" d="M1239 88l4-2-5-3-4 0zM1258 98l4-2-4-6-4 6zM1278 95l4 3-5 0-4 1zM1310 131l4-8-5-5-4 5z"/>
<path fill="#75c1fc" stroke="#75c1fc" stroke-width=".6" d="M1247 91l4 2 3 2-4 2-4-6-4-5z"/>
<path fill="#a0e4ff" stroke="#a0e4ff" stroke-width=".6" d="M1262 96l4-2-4-5-4 1zM1270 95l4 1-4 3-4-5z"/>
<path fill="#aee9ff" stroke="#aee9ff" stroke-width=".6" d="M1266 94l4 1-4-1-4-5zM1274 96l4-1-5 4-3 0z"/>
<path fill="#448cf2" stroke="#448cf2" stroke-width=".6" d="M1290 116l4 5-5-4-4-8z"/>
<path fill="#bceeff" stroke="#bceeff" stroke-width=".6" d="M1314 123l4-8-5-3-4 6z"/>
<path fill="#2c65e0" stroke="#2c65e0" stroke-width=".6" d="M1322 121l3 24-4 7-4-27zM1365 203l4 1 4-2 4-1 4 6 4 5-5-5-4 2-4 1-4-3-4-4-4 1zM1412 223l4 4-5-1-3 1zM1432 228l4 9-5-2-4-2z"/>
<path fill="#1a3aac" stroke="#1a3aac" stroke-width=".6" d="M1325 145l4 29-4 0-4-22z"/>
<path fill="#0e1e6e" stroke="#0e1e6e" stroke-width=".6" d="M1329 174l4 15-4-3-4-12z"/>
<path fill="#11257e" stroke="#11257e" stroke-width=".6" d="M1333 189l4 2-4 0-4-5z"/>
<path fill="#2049c0" stroke="#2049c0" stroke-width=".6" d="M1337 191l4 2-4 0-4-2z"/>
<path fill="#295ed8" stroke="#295ed8" stroke-width=".6" d="M1341 193l4 0 4 1-5-2-3 0-4 1zM1361 202l4 1-5 1-4 3zM1404 214l4 5 4 4-4 4-4 0-4-6zM1448 249l4-1-5 0-4-1z"/>
<path fill="#2657d0" stroke="#2657d0" stroke-width=".6" d="M1349 194l4 4-5-1-4-5zM1357 201l4 1-5 5-4-3zM1436 237l4 3 4 2 4 7-5-2-4-1-4-4-4-7z"/>
<path fill="#2350c8" stroke="#2350c8" stroke-width=".6" d="M1353 198l4 3-5 3-4-7z"/>
<path fill="#2f6ce5" stroke="#2f6ce5" stroke-width=".6" d="M1385 212l4 0 3-2-4 2-4-5-4 0zM1400 210l4 4-4 7-4-7zM1424 225l4-2 4 5-5 5-4 2-4-3z"/>
<path fill="#3271e8" stroke="#3271e8" stroke-width=".6" d="M1392 210l4-1 4 1-4 4-4 1-4-3zM1416 227l4 0 4-2-5 7-4-6-4 0z"/>
<path d="M1206 89l4 2 4 1 4-1 4 1 4 2 4-6 4-5 4 0 4 3 4 5 4 6 4-1 4-6 4-1 4 5 4 5 3 0 4-1 4 2 4 9 4 8 4 4 4 0 4 1 4 1 4-5 4-6 4 13 4 27 4 22 4 12 4 5 4 2 4-1 3 0 4 5 4 7 4 3 4-3 4-1 4 4 4 3 4-1 4-2 4 0 4 5 4 3 4-1 4 7 4 6 4 0 3-1 4 0 4 6 4 3 4-2 4 2 4 7 4 4 4 1 4 1" fill="none" stroke="#000" stroke-width="2.5" stroke-linejoin="round"/>
<path fill="#448cf2" stroke="#448cf2" stroke-width=".6" d="M1206 90l4 2 4 2-4 8-4-4-4 1zM1281 101l4 9 4 9-4 8-4-2-4-7z"/>
<path fill="#4c96f4" stroke="#4c96f4" stroke-width=".6" d="M1214 94l4-1-4 10-4-1z"/>
<path fill="#53a0f7" stroke="#53a0f7" stroke-width=".6" d="M1218 93l4 0-4 7-4 3zM1277 100l4 1-4 17-4-9zM1289 119l4 3-4 6-4-1z"/>
<path fill="#5baaf9" stroke="#5baaf9" stroke-width=".6" d="M1222 93l4 2-5 4-3 1zM1293 122l4 0-5 7-3-1z"/>
<path fill="#66b5fb" stroke="#66b5fb" stroke-width=".6" d="M1226 95l4-5-5 5-4 4z"/>
<path fill="#83ccfd" stroke="#83ccfd" stroke-width=".6" d="M1230 90l4-6-5 7-4 4zM1238 85l4 2-5 11-4-5zM1246 92l4 6-5 0-4 3zM1273 100l4 0-4 9-4-9zM1305 124l4-5-5 8-4 7z"/>
<path fill="#92d8fe" stroke="#92d8fe" stroke-width=".6" d="M1234 84l4 1-5 8-4-2zM1250 98l4-1-5-2-4 3zM1309 119l4-6-5 12-4 2z"/>
<path fill="#75c1fc" stroke="#75c1fc" stroke-width=".6" d="M1242 87l4 5-5 9-4-3zM1297 122l4 1 4 1-5 10-4-1-4-4z"/>
<path fill="#a0e4ff" stroke="#a0e4ff" stroke-width=".6" d="M1254 97l4-5-5 6-4-3zM1270 100l3 0-4 0-4-3z"/>
<path fill="#aee9ff" stroke="#aee9ff" stroke-width=".6" d="M1258 92l4-1 4 4 4 5-5-3-4 1-4 1-4-1z"/>
<path fill="#3c82f0" stroke="#3c82f0" stroke-width=".6" d="M1313 113l4 13-5 11-4-12z"/>
<path fill="#295ed8" stroke="#295ed8" stroke-width=".6" d="M1317 126l4 27-5 8-4-24zM1352 205l4 3-4-3-4 1zM1380 209l4 0-5 16-4-5zM1423 237l4-3 4 2 4 8-5 1-3-1-4-2-4-5z"/>
<path fill="#17339d" stroke="#17339d" stroke-width=".6" d="M1321 153l4 23-5 5-4-20z"/>
<path fill="#0e1e6e" stroke="#0e1e6e" stroke-width=".6" d="M1325 176l4 11-5 4-4-10z"/>
<path fill="#11257e" stroke="#11257e" stroke-width=".6" d="M1329 187l4 5-5 6-4-7z"/>
<path fill="#2049c0" stroke="#2049c0" stroke-width=".6" d="M1333 192l4 3-5 6-4-3z"/>
<path fill="#2657d0" stroke="#2657d0" stroke-width=".6" d="M1337 195l4-2 3 0-4 13-4-6-4 1zM1348 198l4 7-4 1-4 3zM1435 244l4 4 4 1 4 0-5 11-4-4-4-7-4-4z"/>
<path fill="#2350c8" stroke="#2350c8" stroke-width=".6" d="M1344 193l4 5-4 11-4-3z"/>
<path fill="#2c65e0" stroke="#2c65e0" stroke-width=".6" d="M1356 208l4-3 4-1 4 5 4 2 4 0 4-2-5 11-4-8-4-1-4 1-4-3-3-3-4-1zM1384 209l4 4 4 3-5 8-4 0-4 1zM1400 222l4 7 4-1 3 0-4 6-4-7-4-4-4-2zM1419 233l4 4-4 0-4-3z"/>
<path fill="#2f6ce5" stroke="#2f6ce5" stroke-width=".6" d="M1392 216l4-1 4 7-5-1-4 2-4 1zM1411 228l4-1 4 6-4 1-4 1-4-1z"/>
<path d="M1202 99l4-1 4 4 4 1 4-3 3-1 4-4 4-4 4 2 4 5 4 3 4-3 4-3 4 3 4 1 4-1 4-1 4 3 4 9 4 9 4 7 4 2 4 1 3 1 4 4 4 1 4-7 4-2 4 12 4 24 4 20 4 10 4 7 4 3 4-1 4 6 4 3 4-3 4-1 4 1 3 3 4 3 4-1 4 1 4 8 4 5 4-1 4 0 4-1 4-2 4 2 4 4 4 7 4 1 4-1 4 3 4 5 4 2 3 1 4 4 4 7 4 4" fill="none" stroke="#000" stroke-width="2.5" stroke-linejoin="round"/>
<path fill="#4c96f4" stroke="#4c96f4" stroke-width=".6" d="M1202 100l4 0 4 3-5-7-4-2-4 1zM1273 110l4 10-5-4-4-4zM1296 135l4 0-4 13-4 2z"/>
<path fill="#53a0f7" stroke="#53a0f7" stroke-width=".6" d="M1210 103l4 1-5-8-4 0zM1300 135l4-7 4-2-4 13-4 3-4 6z"/>
<path fill="#5baaf9" stroke="#5baaf9" stroke-width=".6" d="M1214 104l4-2 3-1-4-3-4-3-4 1z"/>
<path fill="#66b5fb" stroke="#66b5fb" stroke-width=".6" d="M1221 101l4-5-4 3-4-1zM1269 101l4 9-5 2-4-2z"/>
<path fill="#75c1fc" stroke="#75c1fc" stroke-width=".6" d="M1225 96l4-4-4 6-4 1zM1237 99l4 3-4 0-4-4z"/>
<path fill="#83ccfd" stroke="#83ccfd" stroke-width=".6" d="M1229 92l4 2 4 5-4-1-4-1-4 1zM1241 102l4-2-5 2-3 0zM1257 101l4-2-5 10-4-3z"/>
<path fill="#a0e4ff" stroke="#a0e4ff" stroke-width=".6" d="M1245 100l4-3 4 2-5 1-4-1-4 3z"/>
<path fill="#92d8fe" stroke="#92d8fe" stroke-width=".6" d="M1253 99l4 2-5 5-4-6zM1261 99l4 0 4 2-5 9-4-1-4 0z"/>
<path fill="#448cf2" stroke="#448cf2" stroke-width=".6" d="M1277 120l4 6 4 2 4 1-5 9-4-9-4-6-4-7zM1292 130l4 5-4 15-4-3z"/>
<path fill="#3c82f0" stroke="#3c82f0" stroke-width=".6" d="M1289 129l3 1-4 17-4-9z"/>
<path fill="#3577eb" stroke="#3577eb" stroke-width=".6" d="M1308 126l4 12-5 9-3-8z"/>
<path fill="#2657d0" stroke="#2657d0" stroke-width=".6" d="M1312 138l4 24-5 1-4-16zM1332 202l4-1 4 6-5-4-4-4-4 1zM1344 210l4-2-5 2-4-3zM1375 221l4 5-4-5-4-5z"/>
<path fill="#17339d" stroke="#17339d" stroke-width=".6" d="M1316 162l4 20-5-3-4-16z"/>
<path fill="#11257e" stroke="#11257e" stroke-width=".6" d="M1320 182l4 10 4 8-5-1-4-7-4-13z"/>
<path fill="#2049c0" stroke="#2049c0" stroke-width=".6" d="M1328 200l4 2-5-2-4-1z"/>
<path fill="#2350c8" stroke="#2350c8" stroke-width=".6" d="M1340 207l4 3-5-3-4-4zM1438 258l4 4-4-6-4-4z"/>
<path fill="#295ed8" stroke="#295ed8" stroke-width=".6" d="M1348 208l4-2 4 1 3 4-4 5-4 1-4-2-4-5zM1371 213l4 8-4-5-4-4zM1379 226l4-1-5-3-3-1zM1419 238l4 5 4 2-5 5-4-2-4-5zM1434 250l4 8-4-6-4-5z"/>
<path fill="#2c65e0" stroke="#2c65e0" stroke-width=".6" d="M1359 211l4 2-4 2-4 1zM1403 228l4 7 4 2 4-2 4 3-5 5-4-5-4-2-4-4-4-1zM1430 246l4 4-4-3-4 0z"/>
<path fill="#2f6ce5" stroke="#2f6ce5" stroke-width=".6" d="M1363 213l4 0 4 0-4-1-4 1-4 2zM1383 225l4 1 4-2-5 0-4-1-4-1zM1395 223l4 1 4 4-5 3-4-2-4-4zM1427 245l3 1-4 1-4 3z"/>
<path fill="#3271e8" stroke="#3271e8" stroke-width=".6" d="M1391 224l4-1-5 2-4-1z"/>
<path d="M1197 95l4-1 4 2 4 0 4-1 4 3 4 1 4-1 4-1 4 1 4 4 3 0 4-3 4 1 4 6 4 3 4 0 4 1 4 2 4 4 4 7 4 6 4 9 4 9 4 3 4-2 4-6 4-3 3 8 4 16 4 16 4 13 4 7 4 1 4-1 4 4 4 4 4 3 4 5 4 2 4-1 4-1 4-2 4-1 4 4 4 5 3 1 4 1 4 1 4 1 4 4 4 2 4 1 4 4 4 2 4 5 4 5 4 2 4-3 4 0 4 5 4 4" fill="none" stroke="#000" stroke-width="2.5" stroke-linejoin="round"/>
<path fill="#53a0f7" stroke="#53a0f7" stroke-width=".6" d="M1197 96l4 0-5 0-4 2zM1209 97l4 0-5 10-4 2zM1272 117l4 8-5 2-4-5z"/>
<path fill="#4c96f4" stroke="#4c96f4" stroke-width=".6" d="M1201 96l4 1 4 0-5 12-4-7-4-6zM1276 125l4 6-5-2-4-2zM1292 152l4-2 4-7-5 9-4-2-4-3z"/>
<path fill="#66b5fb" stroke="#66b5fb" stroke-width=".6" d="M1213 97l4 3 4 0-5 1-4 0-4 6zM1264 111l4 3-5 3-4-3z"/>
<path fill="#75c1fc" stroke="#75c1fc" stroke-width=".6" d="M1221 100l4 0-5 2-4-1zM1248 102l4 5-4 4-4-2z"/>
<path fill="#83ccfd" stroke="#83ccfd" stroke-width=".6" d="M1225 100l4-2-5 1-4 3zM1252 107l4 4 4-1 4 1-5 3-3-1-4-2-4 0z"/>
<path fill="#92d8fe" stroke="#92d8fe" stroke-width=".6" d="M1229 98l4 1 4 4 3 0 4-2 4 1-4 7-4-5-4-1-4-1-4-4-4 1z"/>
<path fill="#5baaf9" stroke="#5baaf9" stroke-width=".6" d="M1268 114l4 3-5 5-4-5z"/>
<path fill="#3c82f0" stroke="#3c82f0" stroke-width=".6" d="M1280 131l4 9-5-7-4-4z"/>
<path fill="#397ced" stroke="#397ced" stroke-width=".6" d="M1284 140l4 8 4 4-5-5-4-5-4-9z"/>
<path fill="#448cf2" stroke="#448cf2" stroke-width=".6" d="M1300 143l4-3-5 13-4-1z"/>
<path fill="#3271e8" stroke="#3271e8" stroke-width=".6" d="M1304 140l3 8-4 8-4-3zM1426 248l4 0-5 2-4 2z"/>
<path fill="#2657d0" stroke="#2657d0" stroke-width=".6" d="M1307 148l4 16-4 5-4-13zM1327 201l4-1-5 8-3 5zM1335 205l4 3 4 3 4 5 4 2-5 2-4-4-4-3-4 1-4-5zM1371 218l4 4-5 9-4-3zM1406 238l4 2-5 8-4-3zM1434 253l4 4-5 4-4-5z"/>
<path fill="#1a3aac" stroke="#1a3aac" stroke-width=".6" d="M1311 164l4 16-4 5-4-16z"/>
<path fill="#11257e" stroke="#11257e" stroke-width=".6" d="M1315 180l4 13-4 8-4-16z"/>
<path fill="#0e1e6e" stroke="#0e1e6e" stroke-width=".6" d="M1319 193l4 7-4 12-4-11z"/>
<path fill="#1d42b8" stroke="#1d42b8" stroke-width=".6" d="M1323 200l4 1-4 12-4-1z"/>
<path fill="#295ed8" stroke="#295ed8" stroke-width=".6" d="M1331 200l4 5-5 4-4-1zM1351 218l4-1-5 1-4 2zM1367 213l4 5-5 10-4-5zM1394 230l4 2 4 2 4 4-5 7-4-5-3-1-4-3zM1410 240l4 4-5 2-4 2z"/>
<path fill="#2c65e0" stroke="#2c65e0" stroke-width=".6" d="M1355 217l4 0-5 0-4 1zM1363 215l4-2-5 10-4-3zM1375 222l3 1-4 10-4-2zM1390 226l4 4-4 6-4-3zM1414 244l4 6-5-4-4 0zM1430 248l4 5-5 3-4-6z"/>
<path fill="#2f6ce5" stroke="#2f6ce5" stroke-width=".6" d="M1359 217l4-2-5 5-4-3zM1378 223l4 1 4 1 4 1-4 7-4 0-4 1-4-1zM1418 250l4 1 4-3-5 4-4-1-4-5z"/>
<path d="M1192 98l4-2 4 6 4 7 4-2 4-6 4 0 4 1 4-3 4-1 4 4 4 1 4 1 4 5 4 2 4 0 4 2 3 1 4 3 4 5 4 5 4 2 4 4 4 9 4 5 4 3 4 2 4 1 4 3 4 13 4 16 4 16 4 11 4 1 3-5 4 1 4 5 4-1 4 3 4 4 4-2 4-1 4 3 4 3 4 5 4 3 4 2 4 1 4-1 4 0 4 3 4 3 3 1 4 5 4 3 4-2 4 0 4 5 4 1 4-2 4 6 4 5" fill="none" stroke="#000" stroke-width="2.5" stroke-linejoin="round"/>
<path fill="#3c82f0" stroke="#3c82f0" stroke-width=".6" d="M1192 99l4-2-4 9-4-1zM1200 103l4 7-4 3-4 2zM1279 135l4 8-5 1-4-3zM1287 148l4 3-5 10-4-7zM1295 153l4 1-5 3-4 1z"/>
<path fill="#397ced" stroke="#397ced" stroke-width=".6" d="M1196 97l4 6-4 12-4-9zM1283 143l4 5-5 6-4-10z"/>
<path fill="#448cf2" stroke="#448cf2" stroke-width=".6" d="M1204 110l4-2-4 2-4 3zM1275 130l4 5-5 6-3-6z"/>
<path fill="#53a0f7" stroke="#53a0f7" stroke-width=".6" d="M1208 108l4-6-5 9-3-1zM1271 128l4 2-4 5-4-7z"/>
<path fill="#5baaf9" stroke="#5baaf9" stroke-width=".6" d="M1212 102l4 0-5 8-4 1zM1263 118l4 5 4 5-4 0-4-1-4 3z"/>
<path fill="#66b5fb" stroke="#66b5fb" stroke-width=".6" d="M1216 102l4 1-5 3-4 4zM1259 115l4 3-4 12-4-6z"/>
<path fill="#83ccfd" stroke="#83ccfd" stroke-width=".6" d="M1220 103l4-3 4 0 4 3 4 1 4 1-5 5-4-1-4 1-4-4-4-4-4 4zM1248 112l4 0-5 7-4-1z"/>
<path fill="#75c1fc" stroke="#75c1fc" stroke-width=".6" d="M1240 105l4 5 4 2-5 6-4-4-4-4zM1256 114l3 1-4 9-4-6z"/>
<path fill="#92d8fe" stroke="#92d8fe" stroke-width=".6" d="M1252 112l4 2-5 4-4 1z"/>
<path fill="#4c96f4" stroke="#4c96f4" stroke-width=".6" d="M1291 151l4 2-5 5-4 3z"/>
<path fill="#2f6ce5" stroke="#2f6ce5" stroke-width=".6" d="M1299 154l4 4-5 6-4-7zM1350 219l4-1 4 3-5-3-4 0-4 2zM1374 234l4 1 4 0-5-4-4-3-4 4zM1413 248l4 4-4 5-4 1zM1421 253l4-2-5 6-4-4z"/>
<path fill="#2350c8" stroke="#2350c8" stroke-width=".6" d="M1303 158l4 12-5 4-4-10zM1330 210l4 5 4-1-4 8-4-1-4-4z"/>
<path fill="#1a3aac" stroke="#1a3aac" stroke-width=".6" d="M1307 170l4 16-5 2-4-14z"/>
<path fill="#11257e" stroke="#11257e" stroke-width=".6" d="M1311 186l4 16-5-1-4-13z"/>
<path fill="#0e1e6e" stroke="#0e1e6e" stroke-width=".6" d="M1315 202l4 11-5-7-4-5z"/>
<path fill="#1d42b8" stroke="#1d42b8" stroke-width=".6" d="M1319 213l4 2-5-6-4-3z"/>
<path fill="#2657d0" stroke="#2657d0" stroke-width=".6" d="M1323 215l3-6 4 1-4 7-4-5-4-3zM1338 214l4 3-4 5-4 0zM1362 224l4 5 4 3-5-1-4-6-4-4zM1386 235l4 2-5 6-4-4zM1394 240l3 1 4 5 4 4-4 7-4-5-4-6-4-3zM1425 251l4 6-5 10-4-10z"/>
<path fill="#295ed8" stroke="#295ed8" stroke-width=".6" d="M1342 217l4 4-4 0-4 1zM1382 235l4 0-5 4-4-8zM1390 237l4 3-5 3-4 0zM1405 250l4-2-4 10-4-1z"/>
<path fill="#2c65e0" stroke="#2c65e0" stroke-width=".6" d="M1346 221l4-2-5 1-3 1zM1358 221l4 3-5-3-4-3zM1370 232l4 2-5-2-4-1zM1409 248l4 0-4 10-4 0z"/>
<path fill="#3271e8" stroke="#3271e8" stroke-width=".6" d="M1417 252l4 1-5 0-3 4z"/>
<path fill="#2049c0" stroke="#2049c0" stroke-width=".6" d="M1429 257l4 6-5 7-4-3z"/>
<path d="M1188 105l4 1 4 9 4-2 4-3 3 1 4-1 4-4 4-4 4 4 4 4 4-1 4 1 4 4 4 4 4 1 4-1 4 6 4 6 4-3 4 1 4 7 3 6 4 3 4 10 4 7 4-3 4-1 4 7 4 10 4 14 4 13 4 5 4 3 4 3 4 5 4 4 4 1 4 0 4-1 3-1 4-2 4 0 4 3 4 4 4 6 4 1 4-4 4 3 4 8 4 4 4 0 4 3 4 6 4 5 4 1 4 0 4-1 3-4 4 4 4 10 4 3" fill="none" stroke="#000" stroke-width="2.5" stroke-linejoin="round"/>
<path fill="#3577eb" stroke="#3577eb" stroke-width=".6" d="M1188 106l4 2 4 8-5 3-4-1-4-2z"/>
<path fill="#397ced" stroke="#397ced" stroke-width=".6" d="M1196 116l4-2-5 6-4-1zM1278 146l4 9 4 7-4-2-4-4-4-12z"/>
<path fill="#448cf2" stroke="#448cf2" stroke-width=".6" d="M1200 114l4-3-5 10-4-1zM1271 137l3 5-4-4-4 1zM1286 162l4-3-4 2-4-1z"/>
<path fill="#4c96f4" stroke="#4c96f4" stroke-width=".6" d="M1204 111l3 1-4 7-4 2zM1267 129l4 8-5 2-4-1z"/>
<path fill="#53a0f7" stroke="#53a0f7" stroke-width=".6" d="M1207 112l4-1-4 1-4 7zM1259 131l4-3 4 1-5 9-4-6-4-6z"/>
<path fill="#5baaf9" stroke="#5baaf9" stroke-width=".6" d="M1211 111l4-4-4 1-4 4zM1219 103l4 5 4 3 4-1 4 1-5 8-4-1-3-4-4-1-4-2zM1255 125l4 6-5-5-4-7z"/>
<path fill="#66b5fb" stroke="#66b5fb" stroke-width=".6" d="M1215 107l4-4-4 8-4-3zM1235 111l4 4-5 3-4 1z"/>
<path fill="#75c1fc" stroke="#75c1fc" stroke-width=".6" d="M1239 115l4 4-5-2-4 1zM1251 119l4 6-5-6-4-3z"/>
<path fill="#83ccfd" stroke="#83ccfd" stroke-width=".6" d="M1243 119l4 1 4-1-5-3-4 0-4 1z"/>
<path fill="#3c82f0" stroke="#3c82f0" stroke-width=".6" d="M1274 142l4 4-4-2-4-6zM1290 159l4-1-4 10-4-7z"/>
<path fill="#2c65e0" stroke="#2c65e0" stroke-width=".6" d="M1294 158l4 7-5 10-3-7zM1342 222l3-1-4 7-4-3zM1353 219l4 4-4 6-4-4zM1361 227l4 5-4-1-4 0zM1373 229l4 3-5 7-4-4zM1401 258l4 1-5-7-4-2zM1416 254l4 4-4 4-4 1z"/>
<path fill="#2049c0" stroke="#2049c0" stroke-width=".6" d="M1298 165l4 10-5 11-4-11z"/>
<path fill="#17339d" stroke="#17339d" stroke-width=".6" d="M1302 175l4 14-5 11-4-14z"/>
<path fill="#11257e" stroke="#11257e" stroke-width=".6" d="M1306 189l4 13-5 7-4-9z"/>
<path fill="#142c8d" stroke="#142c8d" stroke-width=".6" d="M1310 202l4 5-5 6-4-4z"/>
<path fill="#2350c8" stroke="#2350c8" stroke-width=".6" d="M1314 207l4 3-5 3-4 0zM1330 222l4 2 4 0-5 1-4-3-4-10zM1424 268l4 3-4-1-4-5z"/>
<path fill="#295ed8" stroke="#295ed8" stroke-width=".6" d="M1318 210l4 3 4 5-5-8-4 1-4 2zM1338 224l4-2-5 3-4 0zM1357 223l4 4-4 4-4-2zM1385 244l4 0 4 4 4 6 4 4-5-8-4 0-4-1-4 0-4 0z"/>
<path fill="#2657d0" stroke="#2657d0" stroke-width=".6" d="M1326 218l4 4-5-10-4-2zM1377 232l4 8 4 4-5 5-4-4-4-6zM1420 258l4 10-4-3-4-3z"/>
<path fill="#2f6ce5" stroke="#2f6ce5" stroke-width=".6" d="M1345 221l4-2 4 0-4 6-4 2-4 1zM1365 232l4 1 4-4-5 6-4-3-3-1zM1405 259l4 0 4 0 3-5-4 9-4-4-4-5-4-2z"/>
<path d="M1183 116l4 2 4 1 4 1 4 1 4-2 4-7 4-4 4 3 4 2 4 1 3 4 4 1 4-1 4-1 4-1 4 0 4 3 4 7 4 6 4 6 4 1 4-1 4 6 4 12 4 4 4 1 4 7 3 7 4 11 4 14 4 9 4 4 4 0 4-2 4-1 4 2 4 10 4 3 4 0 4 3 4-1 4-2 4 4 4 2 4 0 3 1 4 3 4 4 4 6 4 4 4 0 4 0 4 1 4 0 4 2 4 2 4 5 4 4 4-1 4 3 4 5" fill="none" stroke="#000" stroke-width="2.5" stroke-linejoin="round"/>
<path fill="#397ced" stroke="#397ced" stroke-width=".6" d="M1183 117l4 3 4 0-5 1-4-2-4-1zM1262 140l4 1 4-2 4 7 4 11-5 7-4 1-4-5-4-6-4-6zM1286 163l4 6-5 2-4-5z"/>
<path fill="#3c82f0" stroke="#3c82f0" stroke-width=".6" d="M1191 120l4 1-5 2-4-2zM1258 134l4 6-5 8-4-6z"/>
<path fill="#448cf2" stroke="#448cf2" stroke-width=".6" d="M1195 121l4 1 4-2-5 4-4-1-4 0zM1254 127l4 7-5 8-4-2zM1278 157l4 4-5 2-4 1z"/>
<path fill="#4c96f4" stroke="#4c96f4" stroke-width=".6" d="M1203 120l4-6 4-5 4 4 4 1-5 12-4 2-4-4-4 0-4 0zM1250 120l4 7-5 13-4-2zM1282 161l4 2-5 3-4-3z"/>
<path fill="#53a0f7" stroke="#53a0f7" stroke-width=".6" d="M1219 114l4 1 3 4 4 1 4-1-4 15-4-3-4-7-4-2-4 4z"/>
<path fill="#5baaf9" stroke="#5baaf9" stroke-width=".6" d="M1234 119l4 0-4 16-4-1zM1246 117l4 3-5 18-4-2z"/>
<path fill="#66b5fb" stroke="#66b5fb" stroke-width=".6" d="M1238 119l4-1 4-1-5 19-3-2-4 1z"/>
<path fill="#295ed8" stroke="#295ed8" stroke-width=".6" d="M1290 169l3 7-4 0-4-5zM1313 214l4-2-5 7-3 5zM1321 211l4 2-5 5-4-2zM1345 228l4-1-5 7-4-5zM1357 232l4 0 3 2 4 2-4 10-4-3-4 1-4-5zM1376 246l4 4-4 0-4 0zM1384 250l4 0 4 1 4 1-5 11-4-4-4-8-3-2zM1412 264l4-1-5 6-4-5z"/>
<path fill="#1d42b8" stroke="#1d42b8" stroke-width=".6" d="M1293 176l4 12-4 2-4-14z"/>
<path fill="#142c8d" stroke="#142c8d" stroke-width=".6" d="M1297 188l4 13-4 5-4-16z"/>
<path fill="#11257e" stroke="#11257e" stroke-width=".6" d="M1301 201l4 9-4 1-4-5z"/>
<path fill="#17339d" stroke="#17339d" stroke-width=".6" d="M1305 210l4 5-4 2-4-6z"/>
<path fill="#2350c8" stroke="#2350c8" stroke-width=".6" d="M1309 215l4-1-4 10-4-7zM1325 213l4 10 4 3-5 3-4-6-4-5z"/>
<path fill="#2c65e0" stroke="#2c65e0" stroke-width=".6" d="M1317 212l4-1-5 5-4 3zM1337 226l4 3 4-1-5 1-4-1-4 3zM1380 250l4 0-4-1-4 1zM1396 252l4 1-5 12-4-2zM1408 260l4 4-5 0-4 1z"/>
<path fill="#2657d0" stroke="#2657d0" stroke-width=".6" d="M1333 226l4 0-5 5-4-2zM1349 227l4 3 4 2-5 7-4-3-4-2zM1368 236l4 4 4 6-4 4-4 1-4-5zM1416 263l4 3 4 5-5 5-4-1-4-6z"/>
<path fill="#2f6ce5" stroke="#2f6ce5" stroke-width=".6" d="M1400 253l4 3 4 4-5 5-4 2-4-2z"/>
<path d="M1178 118l4 1 4 2 4 2 4 0 4 1 4 0 4 0 4 4 4-2 4-4 4 2 4 7 4 3 4 1 4-1 3 2 4 2 4 2 4 2 4 6 4 6 4 6 4 5 4-1 4-1 4 3 4 5 4 5 4 14 4 16 4 5 4 6 4 7 3-5 4-3 4 2 4 5 4 6 4 2 4-3 4 1 4 5 4 2 4 3 4 5 4-1 4 3 4 5 4-1 4 0 4-1 3 2 4 8 4 4 4 2 4 2 4-2 4-1 4 5 4 6 4 1" fill="none" stroke="#000" stroke-width="2.5" stroke-linejoin="round"/>
<path fill="#397ced" stroke="#397ced" stroke-width=".6" d="M1178 119l4 1 4 2-4 9-4-6-4-5zM1253 143l4 7-4 8-4-5zM1265 161l4 5-5-2-4-1z"/>
<path fill="#3c82f0" stroke="#3c82f0" stroke-width=".6" d="M1186 122l4 2-4 7-4 0zM1249 141l4 2-4 10-4-4zM1281 167l4 5-5-4-4-1z"/>
<path fill="#448cf2" stroke="#448cf2" stroke-width=".6" d="M1190 124l4 0-4 5-4 2zM1202 125l4 0 4 4-5 3-4 1-4-1zM1245 140l4 1-4 8-4-7zM1269 166l4-1-5 4-4-5z"/>
<path fill="#4c96f4" stroke="#4c96f4" stroke-width=".6" d="M1194 124l4 1 4 0-5 7-4-3-3 0zM1210 129l4-2-5 7-4-2zM1241 137l4 3-4 2-4-3z"/>
<path fill="#53a0f7" stroke="#53a0f7" stroke-width=".6" d="M1214 127l4-4-5 13-4-2zM1238 135l3 2-4 2-4 0zM1273 165l4-1 4 3-5 0-4 5-4-3z"/>
<path fill="#5baaf9" stroke="#5baaf9" stroke-width=".6" d="M1218 123l4 3 4 6 4 4 4 0 4-1-5 4-4-4-4-3-4 0-4 1-4 3z"/>
<path fill="#3577eb" stroke="#3577eb" stroke-width=".6" d="M1257 150l4 5 4 6-5 2-3-2-4-3z"/>
<path fill="#2c65e0" stroke="#2c65e0" stroke-width=".6" d="M1285 172l4 5-5 2-4-11zM1312 221l4-4-4-1-4-1zM1356 245l4 0-5-4-4 2zM1372 251l4 0-5-1-4 0zM1387 261l4 4 4 1 4 2 4-2 4-1-5 4-3-2-4-4-4-2-4 0-4 4z"/>
<path fill="#1d42b8" stroke="#1d42b8" stroke-width=".6" d="M1289 177l4 14-5 3-4-15z"/>
<path fill="#142c8d" stroke="#142c8d" stroke-width=".6" d="M1293 191l4 17 4 5-5 2-4-6-4-15z"/>
<path fill="#2049c0" stroke="#2049c0" stroke-width=".6" d="M1301 213l4 5-5-5-4 2zM1324 225l4 5-4-2-4-3z"/>
<path fill="#2657d0" stroke="#2657d0" stroke-width=".6" d="M1305 218l4 7 3-4-4-6-4 0-4-2zM1328 230l4 2-4-2-4-2zM1340 230l4 5-5 2-4-1zM1348 237l4 3-5 6-4-4zM1364 248l4 4-5 1-4-5zM1380 250l3 2 4 9-4 4-4 4-4-7zM1411 270l4 6-5-1-4-4z"/>
<path fill="#295ed8" stroke="#295ed8" stroke-width=".6" d="M1316 217l4 2-4 0-4-3zM1332 232l4-2 4 0-5 6-4-1-3-5zM1352 240l4 5-5-2-4 3zM1360 245l4 3-5 0-4-7zM1368 252l4-1-5-1-4 3zM1376 251l4-1-5 12-4-12zM1407 265l4 5-5 1-4-2zM1415 276l4 1-5-1-4-1z"/>
<path fill="#2350c8" stroke="#2350c8" stroke-width=".6" d="M1320 219l4 6-4 0-4-6zM1344 235l4 2-5 5-4-5z"/>
<path d="M1174 120l4 5 4 6 4 0 4-2 3 0 4 3 4 1 4-1 4 2 4 2 4-3 4-1 4 0 4 3 4 4 4 0 4 3 4 7 4 4 4 5 4 3 3 2 4 1 4 5 4 3 4-5 4 1 4 11 4 15 4 15 4 6 4-2 4 2 4 0 4 1 4 3 4 6 4 3 4 2 3 5 4 1 4 1 4 5 4 4 4-3 4-2 4 7 4 5 4-3 4 0 4 12 4 7 4-4 4-4 4 0 4 2 4 4 3 2 4 2 4 4 4 1" fill="none" stroke="#000" stroke-width="2.5" stroke-linejoin="round"/>
<path fill="#397ced" stroke="#397ced" stroke-width=".6" d="M1174 122l4 4 4 6-5-4-4-1-4 0zM1253 159l4 4-5-1-4-6z"/>
<path fill="#3c82f0" stroke="#3c82f0" stroke-width=".6" d="M1182 132l4 0-5-1-4-3zM1249 155l4 4-5-3-4-7zM1257 163l3 2-4 2-4-5z"/>
<path fill="#448cf2" stroke="#448cf2" stroke-width=".6" d="M1186 132l4-2-5 3-4-2zM1276 168l4 1-4-1-4-8z"/>
<path fill="#4c96f4" stroke="#4c96f4" stroke-width=".6" d="M1190 130l3 0 4 3-4-1-4 1-4 0zM1245 150l4 5-5-6-4-3zM1260 165l4 0-4 3-4-1z"/>
<path fill="#53a0f7" stroke="#53a0f7" stroke-width=".6" d="M1197 133l4 1-4-5-4 3zM1241 143l4 7-5-4-4 1z"/>
<path fill="#5baaf9" stroke="#5baaf9" stroke-width=".6" d="M1201 134l4-1 4 2 4 2-5-6-3 2-4-3-4-1zM1225 134l4 2 4 4 4 1 4 2-5 4-4-2-4-1-4-1-4-7zM1264 165l4 5 4 3-4-12-4 4-4 3z"/>
<path fill="#66b5fb" stroke="#66b5fb" stroke-width=".6" d="M1213 137l4-2-5-7-4 3zM1221 133l4 1-5 2-4-5zM1272 173l4-5-4-8-4 1z"/>
<path fill="#75c1fc" stroke="#75c1fc" stroke-width=".6" d="M1217 135l4-2-5-2-4-3z"/>
<path fill="#2c65e0" stroke="#2c65e0" stroke-width=".6" d="M1280 169l4 11-5 1-3-13zM1300 214l4 2 4 1-5-2-4-3-4-1zM1347 247l4-3-4 2-4 2zM1355 243l4 6-5 1-4-4zM1363 254l4-3 4 0-5 5-4-3-4-1zM1383 266l4-3-5 2-4 0zM1395 264l4 4-5 2-4-4zM1410 276l4 1-4 4-4-3z"/>
<path fill="#2049c0" stroke="#2049c0" stroke-width=".6" d="M1284 180l4 16-5-1-4-14zM1320 226l4 3 4 3-5 1-4-3-4-6z"/>
<path fill="#17339d" stroke="#17339d" stroke-width=".6" d="M1288 196l4 15 4 5-5-1-4-5-4-15z"/>
<path fill="#2657d0" stroke="#2657d0" stroke-width=".6" d="M1296 216l4-2-5-3-4 4zM1312 217l4 3-5-3-4-2zM1339 238l4 5-4 5-4-1zM1371 251l4 12 4 7-5-9-4-4-4-1z"/>
<path fill="#295ed8" stroke="#295ed8" stroke-width=".6" d="M1308 217l4 0-5-2-4 0zM1343 243l4 4-4 1-4 0zM1359 249l4 5-5-2-4-2zM1379 270l4-4-5-1-4-4zM1399 268l3 2 4 3 4 3-4 2-4-2-4-4-4-2z"/>
<path fill="#2350c8" stroke="#2350c8" stroke-width=".6" d="M1316 220l4 6-5-2-4-7zM1328 232l3 4 4 1 4 1-4 9-4-4-4-6-4-4z"/>
<path fill="#2f6ce5" stroke="#2f6ce5" stroke-width=".6" d="M1351 244l4-1-5 3-3 0zM1387 263l4-1 4 2-5 2-4-3-4 2z"/>
<path d="M1169 127l4 0 4 1 4 3 4 2 4 0 4-1 4-3 4 1 4 3 3-2 4-3 4 3 4 5 4 7 4 1 4 1 4 2 4-1 4 3 4 7 4 6 4 5 4 1 4-3 4-4 4-1 4 8 3 13 4 14 4 15 4 5 4-4 4 1 4 3 4 0 4 2 4 7 4 6 4 3 4 4 4 6 4 4 4 1 4 0 4-2 3 0 4 4 4 2 4 1 4 3 4 1 4 4 4 4 4 0 4-2 4 3 4 4 4 2 4 4 4 2 4 3" fill="none" stroke="#000" stroke-width="2.5" stroke-linejoin="round"/>
<path fill="#397ced" stroke="#397ced" stroke-width=".6" d="M1169 129l4-1 4 1-5 8-4-9-4-1zM1252 163l4 5-5-1-4-8z"/>
<path fill="#3c82f0" stroke="#3c82f0" stroke-width=".6" d="M1177 129l4 3-5 11-4-6zM1248 157l4 6-5-4-4-4z"/>
<path fill="#448cf2" stroke="#448cf2" stroke-width=".6" d="M1181 132l4 2-5 3-4 6zM1256 168l4 1-5 5-4-7z"/>
<path fill="#4c96f4" stroke="#4c96f4" stroke-width=".6" d="M1185 134l4 1-5-6-4 8zM1244 151l4 6-5-2-4-2z"/>
<path fill="#53a0f7" stroke="#53a0f7" stroke-width=".6" d="M1189 135l4-2 4-3-5 8-4-6-4-3zM1272 161l4 8-5-1-4 2z"/>
<path fill="#5baaf9" stroke="#5baaf9" stroke-width=".6" d="M1197 130l4 2 4 3-5 0-4 1-4 2zM1232 146l4 2 4-1 4 4-5 2-4-1-4-3-4-6zM1260 169l4-3-5 10-4-2z"/>
<path fill="#66b5fb" stroke="#66b5fb" stroke-width=".6" d="M1205 135l3-2-4 6-4-4zM1220 138l4 6 4 1 4 1-5-3-3-8-4 0-4 3zM1264 166l4-3-5 12-4 1z"/>
<path fill="#75c1fc" stroke="#75c1fc" stroke-width=".6" d="M1208 133l4-4 4 3 4 6-4 0-4 1-4 0-4 0zM1268 163l4-2-5 9-4 5z"/>
<path fill="#3271e8" stroke="#3271e8" stroke-width=".6" d="M1276 169l3 13-4-6-4-8zM1299 213l4 3 4 1-5-15-4 1-3 6zM1382 266l4-2 4 3-5-1-4-4-4-1z"/>
<path fill="#2350c8" stroke="#2350c8" stroke-width=".6" d="M1279 182l4 14-4-5-4-15zM1331 244l4 4-5-1-4-2z"/>
<path fill="#1a3aac" stroke="#1a3aac" stroke-width=".6" d="M1283 196l4 15-4-6-4-14z"/>
<path fill="#2049c0" stroke="#2049c0" stroke-width=".6" d="M1287 211l4 5-4-4-4-7zM1315 225l4 6-5-4-4-7z"/>
<path fill="#2c65e0" stroke="#2c65e0" stroke-width=".6" d="M1291 216l4-3-4-2-4 1zM1307 217l4 1-5-9-4-7zM1339 249l4 1-5-8-4 3zM1350 247l4 4 4 2-4-3-4 2-4 1zM1362 255l4 2 4 2 4 3-5-2-3 0-4-2-4-4zM1390 267l4 4-5-2-4-3z"/>
<path fill="#2f6ce5" stroke="#2f6ce5" stroke-width=".6" d="M1295 213l4 0-4-4-4 2zM1343 250l4-3 3 0-4 6-4-6-4-5zM1358 253l4 2-4-1-4-4zM1374 262l4 4 4 0-5-5-4-1-4 0z"/>
<path fill="#2657d0" stroke="#2657d0" stroke-width=".6" d="M1311 218l4 7-5-5-4-11zM1398 273l4 4 4 3-5 8-4-4-4-8z"/>
<path fill="#1d42b8" stroke="#1d42b8" stroke-width=".6" d="M1319 231l4 3 4 4 4 6-5 1-4-6-4-7-4-5z"/>
<path fill="#295ed8" stroke="#295ed8" stroke-width=".6" d="M1335 248l4 1-5-4-4 2zM1394 271l4 2-5 3-4-7zM1406 280l4 2-5 6-4 0z"/>
<path d="M1164 127l4 1 4 9 4 6 4-6 4-8 4 3 4 6 4-2 4-1 4 4 4 0 4 0 4-1 4-3 4 0 3 8 4 6 4 3 4 1 4 2 4 4 4 8 4 7 4 2 4-1 4-5 4-2 4 8 4 15 4 14 4 7 4-1 4-2 3-6 4-1 4 7 4 11 4 7 4 5 4 7 4 6 4 2 4-2 4-3 4 5 4 6 4-1 4-2 4 4 4 4 4 2 3 0 4 0 4 1 4 1 4 4 4 3 4 7 4 8 4 4 4 0" fill="none" stroke="#000" stroke-width="2.5" stroke-linejoin="round"/>
<path fill="#3c82f0" stroke="#3c82f0" stroke-width=".6" d="M1164 128l4 1-4 2-4-6zM1172 139l4 5-4-13-4 2zM1298 205l4-2-4-3-4 3z"/>
<path fill="#397ced" stroke="#397ced" stroke-width=".6" d="M1168 129l4 10-4-6-4-2zM1247 161l4 7-5 1-3-11zM1295 211l3-6-4-2-4 5z"/>
<path fill="#448cf2" stroke="#448cf2" stroke-width=".6" d="M1176 144l4-6-5-7-3 0zM1243 156l4 5-4-3-4-6zM1251 168l4 7-5-2-4-4z"/>
<path fill="#53a0f7" stroke="#53a0f7" stroke-width=".6" d="M1180 138l4-8 4 3 4 6-5-5-4 4-4-3-4-4z"/>
<path fill="#5baaf9" stroke="#5baaf9" stroke-width=".6" d="M1192 139l4-2 4-1 4 4-5 3-4 0-4-7-4-2zM1239 154l4 2-4-4-4-1zM1255 175l4 3-5-7-4 2zM1267 171l4-2-5-3-4-1z"/>
<path fill="#66b5fb" stroke="#66b5fb" stroke-width=".6" d="M1204 140l4 0-5-3-4 6zM1224 137l3 7 4 6 4 3 4 1-4-3-4-4-4-1-4 4-4-4zM1259 178l4-2-5-8-4 3z"/>
<path fill="#75c1fc" stroke="#75c1fc" stroke-width=".6" d="M1208 140l4 0-5-3-4 0zM1263 176l4-5-5-6-4 3z"/>
<path fill="#83ccfd" stroke="#83ccfd" stroke-width=".6" d="M1212 140l4-1 4-3 4 1-5 9-4-5-4-1-4-3z"/>
<path fill="#3577eb" stroke="#3577eb" stroke-width=".6" d="M1271 169l4 8-5 2-4-13zM1291 213l4-2-5-3-4 2zM1302 203l4 7-4-7-4-3z"/>
<path fill="#2657d0" stroke="#2657d0" stroke-width=".6" d="M1275 177l4 16-5 5-4-19zM1283 207l4 6-5-1-4-3zM1310 221l4 7-4-10-4-10z"/>
<path fill="#2049c0" stroke="#2049c0" stroke-width=".6" d="M1279 193l4 14-5 2-4-11zM1314 228l4 5-4-4-4-11z"/>
<path fill="#3271e8" stroke="#3271e8" stroke-width=".6" d="M1287 213l4 0-5-3-4 2zM1338 244l4 5-5 0-4-1zM1366 261l3 0 4 1 4 0 4 1-4 8-4-2-4-5-4-1-4 1z"/>
<path fill="#2c65e0" stroke="#2c65e0" stroke-width=".6" d="M1306 210l4 11-4-13-4-5zM1330 248l4-2-5 2-4 0zM1354 252l4 3 4 4-5 4-4 0-4-7zM1381 263l4 4 4 3-4 7-4-4-4-2zM1393 277l4 9 4 4 4 0-5-11-4-2-4 0-4 1z"/>
<path fill="#1d42b8" stroke="#1d42b8" stroke-width=".6" d="M1318 233l4 7 4 6-5-2-4-6-3-9z"/>
<path fill="#2350c8" stroke="#2350c8" stroke-width=".6" d="M1326 246l4 2-5 0-4-4z"/>
<path fill="#2f6ce5" stroke="#2f6ce5" stroke-width=".6" d="M1334 246l4-2-5 4-4 0zM1342 249l4 6 4-2 4-1-5 4-4-7-4-1-4 1zM1362 259l4 2-5 3-4-1z"/>
<path fill="#295ed8" stroke="#295ed8" stroke-width=".6" d="M1389 270l4 7-5 1-3-1z"/>
<path d="M1160 125l4 6 4 2 4-2 3 0 4 4 4 3 4-4 4 2 4 7 4 0 4-6 4 0 4 3 4 1 4 5 4 4 4-4 4 1 4 4 4 1 4 6 3 11 4 4 4-2 4-3 4-3 4 1 4 13 4 19 4 11 4 3 4-2 4-2 4-5 4-3 4 3 4 5 4 10 4 11 3 9 4 6 4 4 4 0 4 0 4 1 4-1 4 1 4 7 4 7 4 0 4 1 4-1 4 1 4 5 4 2 4 2 4 4 3 1 4-1 4 0 4 2" fill="none" stroke="#000" stroke-width="2.5" stroke-linejoin="round"/>
<path fill="#448cf2" stroke="#448cf2" stroke-width=".6" d="M1160 126l4 7 4 1-5 0-4-3-4 2zM1239 153l4 6-5 5-4-11zM1286 211l4-2-5-12-4 9zM1298 201l4 3-5-14-4-6z"/>
<path fill="#4c96f4" stroke="#4c96f4" stroke-width=".6" d="M1168 134l4-2-5 3-4-1zM1246 170l4 4-4 0-4-2zM1290 209l4-4-5-17-4 9z"/>
<path fill="#53a0f7" stroke="#53a0f7" stroke-width=".6" d="M1172 132l3 1-4 1-4 1zM1262 166l4 1-4 11-4-6zM1294 205l4-4-5-17-4 4z"/>
<path fill="#5baaf9" stroke="#5baaf9" stroke-width=".6" d="M1175 133l4 4 4 2 4-3-4 0-4-4-4-1-4 3z"/>
<path fill="#66b5fb" stroke="#66b5fb" stroke-width=".6" d="M1187 136l4 1 4 7 4 0-5-6-3-4-4 1-4 1zM1235 152l4 1-5 0-4-3zM1250 174l4-2-4-1-4 3z"/>
<path fill="#75c1fc" stroke="#75c1fc" stroke-width=".6" d="M1199 144l4-6-5 2-4-2z"/>
<path fill="#83ccfd" stroke="#83ccfd" stroke-width=".6" d="M1203 138l4 0 4 3 4 1 4 5 4 4 4-3 4 0 4 4-5-2-4 1-4-4-4-3-4 0-4 2-4-1-4-3-4-2zM1254 172l4-2 4-4-4 6-4-3-4 2z"/>
<path fill="#397ced" stroke="#397ced" stroke-width=".6" d="M1243 159l3 11-4 2-4-8zM1282 214l4-3-5-5-4 3z"/>
<path fill="#3271e8" stroke="#3271e8" stroke-width=".6" d="M1266 167l4 13-5 5-3-7zM1302 204l4 5-5-2-4-17zM1329 249l4 0 4 1 4-1 4 1-5 6-4-3-3-3-4-1-4 3zM1357 264l4 1 4-1-5 1-4-1-4-3zM1369 265l4 5-5-3-4-3zM1392 278l4 1-4 9-4-4z"/>
<path fill="#2657d0" stroke="#2657d0" stroke-width=".6" d="M1270 180l4 19-5-1-4-13zM1306 209l4 10-5 3-4-15z"/>
<path fill="#2350c8" stroke="#2350c8" stroke-width=".6" d="M1274 199l4 11-5-3-4-9zM1321 245l4 4-4 3-4-7z"/>
<path fill="#2f6ce5" stroke="#2f6ce5" stroke-width=".6" d="M1278 210l4 4-5-5-4-2zM1345 250l4 7-5 2-4-3zM1353 264l4 0-5-3-4 0zM1388 279l4-1-4 6-4 1zM1396 279l4 2-4 14-4-7z"/>
<path fill="#2049c0" stroke="#2049c0" stroke-width=".6" d="M1310 219l4 12-5-2-4-7z"/>
<path fill="#1d42b8" stroke="#1d42b8" stroke-width=".6" d="M1314 231l3 8 4 6-4 0-4-10-4-6z"/>
<path fill="#2c65e0" stroke="#2c65e0" stroke-width=".6" d="M1325 249l4 0-4 3-4 0zM1349 257l4 7-5-3-4-2zM1373 270l4 3-5 0-4-6zM1385 278l3 1-4 6-4-1z"/>
<path fill="#3577eb" stroke="#3577eb" stroke-width=".6" d="M1365 264l4 1-5-1-4 1z"/>
<path fill="#295ed8" stroke="#295ed8" stroke-width=".6" d="M1377 273l4 1 4 4-5 6-4-5-4-6z"/>
<path d="M1155 133l4-2 4 3 4 1 4-1 4-3 4 1 4 4 4-1 4-1 3 4 4 2 4 2 4 3 4 1 4-2 4 0 4 3 4 4 4-1 4 3 4 11 4 8 4 2 4-3 4-2 4 3 4 6 3 7 4 13 4 9 4 2 4-3 4-9 4-9 4-4 4 6 4 17 4 15 4 7 4 6 4 10 4 7 4 0 4-3 4 1 3 3 4 3 4 3 4 2 4 0 4 3 4 1 4-1 4 3 4 6 4 6 4 5 4 1 4-1 4 4 4 7" fill="none" stroke="#000" stroke-width="2.5" stroke-linejoin="round"/>
<path fill="#4c96f4" stroke="#4c96f4" stroke-width=".6" d="M1155 134l4-2-5 1-4-3zM1258 173l4 6-5-6-4-7z"/>
<path fill="#53a0f7" stroke="#53a0f7" stroke-width=".6" d="M1159 132l4 3 4 1-5-1-4-1-4-1zM1242 173l4 2-5 2-4 0zM1281 207l4-8-4 0-4 11zM1293 186l4 6-5 3-4-12z"/>
<path fill="#5baaf9" stroke="#5baaf9" stroke-width=".6" d="M1167 136l4 0-5 2-4-3zM1230 151l4 4-5 5-4 1z"/>
<path fill="#66b5fb" stroke="#66b5fb" stroke-width=".6" d="M1171 136l4-3-5 5-4 0zM1187 136l4 0 3 3-4 11-4-4-4-10zM1226 153l4-2-5 10-4-2z"/>
<path fill="#75c1fc" stroke="#75c1fc" stroke-width=".6" d="M1175 133l4 0 4 5 4-2-5 0-4-3-4 2-4 3zM1194 139l4 2 4 2 4 3 4 1-4 2-4 1-4-3-4 0-4 3zM1222 148l4 5-5 6-4-9zM1246 175l4-2-5-1-4 5zM1285 199l4-10-5-4-3 14z"/>
<path fill="#83ccfd" stroke="#83ccfd" stroke-width=".6" d="M1210 147l4-1-4 2-4 1zM1218 145l4 3-5 2-4-2z"/>
<path fill="#92d8fe" stroke="#92d8fe" stroke-width=".6" d="M1214 146l4-1-5 3-3 0zM1250 173l4-3-5-2-4 4z"/>
<path fill="#448cf2" stroke="#448cf2" stroke-width=".6" d="M1234 155l4 10-5 3-4-8zM1277 210l4-3-4 3-4 3z"/>
<path fill="#397ced" stroke="#397ced" stroke-width=".6" d="M1238 165l4 8-5 4-4-9zM1273 208l4 2-4 3-4-3z"/>
<path fill="#a0e4ff" stroke="#a0e4ff" stroke-width=".6" d="M1254 170l4 3-5-7-4 2zM1289 189l4-3-5-3-4 2z"/>
<path fill="#3271e8" stroke="#3271e8" stroke-width=".6" d="M1262 179l3 7-4 4-4-17zM1297 192l4 16-5 6-4-19zM1352 263l4 2-4 5-4-2z"/>
<path fill="#2657d0" stroke="#2657d0" stroke-width=".6" d="M1265 186l4 13-4 5-4-14zM1317 246l4 7-5-4-4 0z"/>
<path fill="#2350c8" stroke="#2350c8" stroke-width=".6" d="M1269 199l4 9-4 2-4-6zM1301 208l4 15-5 4-4-13z"/>
<path fill="#1d42b8" stroke="#1d42b8" stroke-width=".6" d="M1305 223l4 7 4 7-5 6-4-10-4-6z"/>
<path fill="#2049c0" stroke="#2049c0" stroke-width=".6" d="M1313 237l4 9-5 3-4-6z"/>
<path fill="#2c65e0" stroke="#2c65e0" stroke-width=".6" d="M1321 253l4 0 4-3-5 11-4-8-4-4zM1364 265l4 3-5 11-4-1zM1380 285l4 2-5 0-4-2zM1392 290l4 6-5-6-4-2z"/>
<path fill="#2f6ce5" stroke="#2f6ce5" stroke-width=".6" d="M1329 250l4 1 3 4 4 2 4 3 4 2 4 1-4 5-4-2-4-4-4-2-4-1-4 3-4-1zM1356 265l4 1 4-1-5 13-4-4-3-4zM1384 287l4-2 4 5-5-2-4 0-4-1z"/>
<path fill="#295ed8" stroke="#295ed8" stroke-width=".6" d="M1368 268l4 7 4 5 4 5-5 0-4-3-4-3-4 0z"/>
<path d="M1150 130l4 3 4 1 4 1 4 3 4 0 4-3 4-2 4 3 4 10 4 4 4-3 4 0 4 3 4-1 4-1 3 0 4 2 4 9 4 2 4-1 4 8 4 9 4 0 4-5 4-4 4-2 4 7 4 17 4 14 4 6 4 3 4-3 4-11 3-14 4-2 4 12 4 19 4 13 4 6 4 10 4 6 4 0 4 4 4 8 4 1 4-3 4 1 4 2 4 4 4 2 4 2 3 4 4 4 4 1 4 0 4 3 4 3 4 2 4 1 4 0 4 2" fill="none" stroke="#000" stroke-width="2.5" stroke-linejoin="round"/>
<path fill="#4c96f4" stroke="#4c96f4" stroke-width=".6" d="M1150 131l4 3 4 2-4 7-4-4-4-4zM1225 162l4-1-4 8-4-5zM1237 178l4 1-5 7-4-3zM1253 168l4 6-5 6-4-2zM1277 211l4-11-5 8-4 8z"/>
<path fill="#53a0f7" stroke="#53a0f7" stroke-width=".6" d="M1158 136l4 0 4 3-5 6-3-1-4-1zM1182 137l4 10-5 1-4 0z"/>
<path fill="#5baaf9" stroke="#5baaf9" stroke-width=".6" d="M1166 139l4 0-5 8-4-2zM1178 134l4 3-5 11-4-2zM1186 147l4 5-5-4-4 0zM1198 149l4 2 4-1 4-1 3 0-4 16-4-5-4-2-4-5-4-5zM1221 160l4 2-4 2-4-3zM1241 179l4-5-5 11-4 1zM1288 184l4 12-4-6-4-7z"/>
<path fill="#66b5fb" stroke="#66b5fb" stroke-width=".6" d="M1170 139l4-3 4-2-5 12-4-1-4 2zM1190 152l4-4-5 0-4 0zM1213 149l4 3 4 8-4 1-4 2-4 2zM1245 174l4-5-5 13-4 3z"/>
<path fill="#75c1fc" stroke="#75c1fc" stroke-width=".6" d="M1194 148l4 1-5-1-4 0zM1249 169l4-1-5 10-4 4zM1281 200l3-13-4 4-4 17z"/>
<path fill="#3c82f0" stroke="#3c82f0" stroke-width=".6" d="M1229 161l4 8-4 7-4-7zM1273 215l4-4-5 5-4 3z"/>
<path fill="#397ced" stroke="#397ced" stroke-width=".6" d="M1233 169l4 9-5 5-3-7z"/>
<path fill="#3271e8" stroke="#3271e8" stroke-width=".6" d="M1257 174l4 17-5 1-4-12zM1292 196l4 20-4-10-4-16z"/>
<path fill="#2657d0" stroke="#2657d0" stroke-width=".6" d="M1261 191l4 14-5 2-4-15zM1367 280l4 3-4 5-4-3z"/>
<path fill="#2350c8" stroke="#2350c8" stroke-width=".6" d="M1265 205l4 7-5 6-4-11zM1296 216l4 13-4-3-4-20z"/>
<path fill="#3577eb" stroke="#3577eb" stroke-width=".6" d="M1269 212l4 3-5 4-4-1z"/>
<path fill="#bceeff" stroke="#bceeff" stroke-width=".6" d="M1284 187l4-3-4-1-4 8z"/>
<path fill="#1a3aac" stroke="#1a3aac" stroke-width=".6" d="M1300 229l4 5 4 10-5 9-3-8-4-19z"/>
<path fill="#2049c0" stroke="#2049c0" stroke-width=".6" d="M1308 244l4 6-5 2-4 1z"/>
<path fill="#295ed8" stroke="#295ed8" stroke-width=".6" d="M1312 250l4 0-5 4-4-2zM1320 254l4 8 4 1-5 0-4-3-4-3zM1359 279l4 1 4 0-4 5-4-7-4-1zM1371 283l4 3-4 4-4-2z"/>
<path fill="#2c65e0" stroke="#2c65e0" stroke-width=".6" d="M1316 250l4 4-5 3-4-3zM1328 263l4-2 4 0 4 2 4 4 4 2-5 1-4-3-4 0-4-1-4-2-4-1zM1352 271l3 5 4 3-4-2-4-4-4-4zM1375 286l4 2-5 8-3-6zM1387 290l4 1-5 5-4-5z"/>
<path fill="#2f6ce5" stroke="#2f6ce5" stroke-width=".6" d="M1348 269l4 2-5-2-4 1zM1379 288l4 1 4 1-5 1-4 1-4 4z"/>
<path d="M1146 135l4 4 4 4 4 1 3 1 4 2 4-2 4 1 4 2 4 0 4 0 4 0 4 0 4 5 4 5 4 2 4 5 4-2 4-2 4 3 4 5 4 7 3 7 4 3 4-1 4-3 4-4 4 2 4 12 4 15 4 11 4 1 4-3 4-8 4-17 4-8 4 7 4 16 4 20 4 19 3 8 4-1 4 2 4 3 4 3 4 3 4 1 4 2 4 1 4 0 4 3 4-1 4 4 4 4 4 1 4 7 4 3 4 2 3 6 4-4 4-1 4 5" fill="none" stroke="#000" stroke-width="2.5" stroke-linejoin="round"/>
<path fill="#448cf2" stroke="#448cf2" stroke-width=".6" d="M1146 137l4 4 4 4-5 1-4-6-4 0zM1193 149l4 5-5 11-4-8zM1201 159l4 3-5 7-4-1zM1221 165l4 5-5 5-4-6zM1236 188l4-2 4-3-4 13-4 0-4-8zM1272 218l4-9-5 1-4 7z"/>
<path fill="#4c96f4" stroke="#4c96f4" stroke-width=".6" d="M1154 145l4 1-5 2-4-2zM1173 147l4 3 4-1-4 7-4-1-4-6zM1205 162l4 4-5 1-4 2zM1217 162l4 3-5 4-4 0zM1244 183l4-4-4 12-4 5zM1284 184l4 8-5 13-4-5z"/>
<path fill="#53a0f7" stroke="#53a0f7" stroke-width=".6" d="M1158 146l3 0-4-3-4 5zM1169 147l4 0-4 2-4-3zM1189 150l4-1-5 8-4-6zM1209 166l4-2 4-2-5 7-4-1-4-1z"/>
<path fill="#5baaf9" stroke="#5baaf9" stroke-width=".6" d="M1161 146l4 2 4-1-4-1-4-3-4 0zM1181 149l4 1-5 2-3 4zM1276 209l4-17-5 11-4 7z"/>
<path fill="#66b5fb" stroke="#66b5fb" stroke-width=".6" d="M1185 150l4 0-5 1-4 1z"/>
<path fill="#3c82f0" stroke="#3c82f0" stroke-width=".6" d="M1197 154l4 5-5 9-4-3zM1232 184l4 4-4 0-4-6zM1248 179l4 2-4 10-4 0z"/>
<path fill="#397ced" stroke="#397ced" stroke-width=".6" d="M1225 170l4 7 3 7-4-2-4-2-4-5zM1268 220l4-2-5-1-4 10z"/>
<path fill="#2f6ce5" stroke="#2f6ce5" stroke-width=".6" d="M1252 181l4 12-5 8-3-10zM1288 192l4 15-5 14-4-16z"/>
<path fill="#2350c8" stroke="#2350c8" stroke-width=".6" d="M1256 193l4 16-5 11-4-19zM1292 207l4 21-5 11-4-18zM1303 254l4 0-4 3-4 3zM1363 286l4 3 4 3-5 6-4-3-4-4zM1382 293l4 4-4 11-4-3z"/>
<path fill="#1d42b8" stroke="#1d42b8" stroke-width=".6" d="M1260 209l4 10-5 14-4-13z"/>
<path fill="#2c65e0" stroke="#2c65e0" stroke-width=".6" d="M1264 219l4 1-5 7-4 6z"/>
<path fill="#75c1fc" stroke="#75c1fc" stroke-width=".6" d="M1280 192l4-8-5 16-4 3z"/>
<path fill="#17339d" stroke="#17339d" stroke-width=".6" d="M1296 228l4 19-5 6-4-14z"/>
<path fill="#142c8d" stroke="#142c8d" stroke-width=".6" d="M1300 247l3 7-4 6-4-7z"/>
<path fill="#295ed8" stroke="#295ed8" stroke-width=".6" d="M1307 254l4 2 4 2-4 7-4-7-4-1zM1319 261l4 3-4 3-4-1zM1343 271l4 0 4 3 4 4 4 1 4 7-5 5-4-3-4-1-4-2-4-2-4 0zM1374 297l4-3 4-1-4 12-4-6-4-1z"/>
<path fill="#2657d0" stroke="#2657d0" stroke-width=".6" d="M1315 258l4 3-4 5-4-1zM1323 264l4 2 4 1 4 1 4 0 4 3-5 12-4-2-4-6-4-2-4-1-3-5zM1371 292l3 5-4 1-4 0z"/>
<path d="M1141 140l4 0 4 6 4 2 4-5 4 0 4 3 4 3 4 6 4 1 3-4 4-1 4 6 4 8 4 3 4 1 4-2 4 1 4 1 4 0 4 6 4 5 4 2 4 6 4 8 4 0 4-5 4 0 3 10 4 19 4 13 4-6 4-10 4-7 4-7 4-3 4 5 4 16 4 18 4 14 4 7 4-3 4 1 4 7 4 1 4 1 3 5 4 1 4 2 4 6 4 2 4 0 4 2 4 2 4 1 4 3 4 4 4 3 4 0 4 1 4 6 4 3" fill="none" stroke="#000" stroke-width="2.5" stroke-linejoin="round"/>
<path fill="#3c82f0" stroke="#3c82f0" stroke-width=".6" d="M1141 141l4 0-5 14-4 1zM1184 152l4 7-4 10-4 2zM1196 170l4 0-4 7-4-1zM1271 211l4-7-5 18-3 5z"/>
<path fill="#448cf2" stroke="#448cf2" stroke-width=".6" d="M1145 141l4 6-5 3-4 5zM1169 150l4 7 4 0-5 4-4-3-4-7zM1180 153l4-1-4 19-4-5zM1208 169l4 1-5 11-4-7zM1275 204l4-3-5 17-4 4z"/>
<path fill="#4c96f4" stroke="#4c96f4" stroke-width=".6" d="M1149 147l4 2-5 0-4 1zM1165 147l4 3-5 1-4-2zM1177 157l3-4-4 13-4-5zM1200 170l4-1 4 0-5 5-4-1-3 4z"/>
<path fill="#53a0f7" stroke="#53a0f7" stroke-width=".6" d="M1153 149l4-5 4 1 4 2-5 2-4 3-4 0-4-3z"/>
<path fill="#397ced" stroke="#397ced" stroke-width=".6" d="M1188 159l4 7 4 4-4 6-4-7-4 0zM1212 170l4 1-5 17-4-7zM1236 197l4 0 4-5-5 15-4-6-4-4zM1267 218l4-7-4 16-4 4z"/>
<path fill="#3577eb" stroke="#3577eb" stroke-width=".6" d="M1216 171l4 5-5 16-4-4zM1228 183l4 7 4 7-5 0-4 0-4-1zM1279 201l4 5-5 15-4-3z"/>
<path fill="#3271e8" stroke="#3271e8" stroke-width=".6" d="M1220 176l4 5 4 2-5 13-4-3-4-1zM1244 192l4 0-5 17-4-2zM1263 228l4-10-4 13-4 5z"/>
<path fill="#295ed8" stroke="#295ed8" stroke-width=".6" d="M1248 192l3 10-4 11-4-4zM1259 234l4-6-4 8-4-2zM1283 206l4 16-5 11-4-12zM1346 286l4 2-5 5-4-2zM1354 289l4 3-5-1-4 0z"/>
<path fill="#2049c0" stroke="#2049c0" stroke-width=".6" d="M1251 202l4 19-4 2-4-10zM1299 261l4-3-5 6-4 1zM1322 273l4 1-4 14-4-4zM1362 297l4 2-5 7-4-9z"/>
<path fill="#1a3aac" stroke="#1a3aac" stroke-width=".6" d="M1255 221l4 13-4 0-4-11z"/>
<path fill="#1d42b8" stroke="#1d42b8" stroke-width=".6" d="M1287 222l4 18-5 7-4-14zM1378 307l4 2-5 11-4-9z"/>
<path fill="#142c8d" stroke="#142c8d" stroke-width=".6" d="M1291 240l4 15 4 6-5 4-4-7-4-11z"/>
<path fill="#2657d0" stroke="#2657d0" stroke-width=".6" d="M1303 258l4 2 4 6 4 1 4 2-5 7-4-2-4-3-4-6-4-1zM1338 284l4 0 4 2-5 5-3-1-4-1zM1370 299l4 1-5 7-4 3z"/>
<path fill="#2350c8" stroke="#2350c8" stroke-width=".6" d="M1319 269l3 4-4 11-4-8zM1326 274l4 2 4 6 4 2-4 5-4-4-4-1-4 4zM1358 292l4 5-5 0-4-6zM1366 299l4 0-5 11-4-4zM1374 300l4 7-5 4-4-4z"/>
<path fill="#2c65e0" stroke="#2c65e0" stroke-width=".6" d="M1350 288l4 1-5 2-4 2z"/>
<path d="M1136 156l4-1 4-5 4-1 4 3 4 0 4-3 4 2 4 7 4 3 4 5 4 5 4-2 4 0 4 7 4 1 3-4 4 1 4 7 4 7 4 4 4 1 4 3 4 1 4 0 4 4 4 6 4 2 4 4 4 10 4 11 4 2 4-5 4-4 3-5 4-4 4 3 4 12 4 14 4 11 4 7 4-1 4 1 4 6 4 3 4 2 4 8 4 4 4-4 4 1 4 4 4 1 3 1 4 2 4-2 4 0 4 6 4 9 4 4 4-3 4 4 4 9" fill="none" stroke="#000" stroke-width="2.5" stroke-linejoin="round"/>
<path fill="#3c82f0" stroke="#3c82f0" stroke-width=".6" d="M1136 157l4-1-4 1-4-6zM1152 153l4 1 4-4 4 2-5 14-4-1-4-2-4-3zM1168 159l4 3 4 5-5 2-4-1-4 0zM1192 177l4 1-5 5-4 4zM1199 174l4 1-4 10-4-4z"/>
<path fill="#448cf2" stroke="#448cf2" stroke-width=".6" d="M1140 156l4-5 4-1 4 3-5 7-3 0-4-2-4-1zM1196 178l3-4-4 7-4 2z"/>
<path fill="#397ced" stroke="#397ced" stroke-width=".6" d="M1164 152l4 7-5 9-4-2z"/>
<path fill="#3577eb" stroke="#3577eb" stroke-width=".6" d="M1176 167l4 5-5 0-4-3zM1188 171l4 6-5 10-4-2zM1203 175l4 7-4 10-4-7zM1270 223l4-3-4 12-4 2z"/>
<path fill="#3271e8" stroke="#3271e8" stroke-width=".6" d="M1180 172l4-2 4 1-5 14-4-6-4-7zM1207 182l4 8-4 4-4-2zM1231 198l4 5 4 5-5-1-4 5-4 7zM1263 233l4-5 3-5-4 11-4 4-4 3z"/>
<path fill="#2f6ce5" stroke="#2f6ce5" stroke-width=".6" d="M1211 190l4 3 4 1-4 6-4-8-4 2zM1227 199l4-1-5 21-4-1zM1259 237l4-4-5 8-4 2zM1274 220l4 3-4 10-4-1z"/>
<path fill="#295ed8" stroke="#295ed8" stroke-width=".6" d="M1219 194l4 3 4 2-5 19-4-6-3-12zM1255 235l4 2-5 6-4 2zM1302 266l4 6 4 3 4 2-5-2-4-1-4-1-4 4zM1334 290l4 1-5-3-4 4z"/>
<path fill="#2c65e0" stroke="#2c65e0" stroke-width=".6" d="M1239 208l4 2-5 4-4-7zM1338 291l3 1 4 2 4-2 4 1-4 6-4-4-4 0-4-3-4-4z"/>
<path fill="#2350c8" stroke="#2350c8" stroke-width=".6" d="M1243 210l4 5-5 12-4-13zM1298 266l4 0-5 11-4 1zM1314 277l4 8 4 4 4-3-5 4-4-4-4-7-4-4zM1357 298l4 9 4 4-5-2-3-3-4-3zM1373 312l4 9-5-9-4-1z"/>
<path fill="#1a3aac" stroke="#1a3aac" stroke-width=".6" d="M1247 215l4 9 4 11-5 10-4-6-4-12zM1282 235l4 13-4 5-4-13z"/>
<path fill="#2657d0" stroke="#2657d0" stroke-width=".6" d="M1278 223l4 12-4 5-4-7zM1326 286l4 0 4 4-5 2-4 1-4-3zM1353 293l4 5-4 5-4-4zM1365 311l4-3 4 4-5-1-4 0-4-2z"/>
<path fill="#142c8d" stroke="#142c8d" stroke-width=".6" d="M1286 248l4 11 4 7-5 7-3-9-4-11z"/>
<path fill="#1d42b8" stroke="#1d42b8" stroke-width=".6" d="M1294 266l4 0-5 12-4-5z"/>
<path d="M1132 151l4 6 4 1 4 2 3 0 4 3 4 2 4 1 4 2 4 0 4 1 4 3 4 7 4 6 4 2 4-4 4-2 4 4 4 7 4 2 4-2 4 8 3 12 4 6 4 1 4-7 4-5 4 7 4 13 4 12 4 6 4-2 4-2 4-3 4-4 4-2 4 1 4 7 4 13 4 11 3 9 4 5 4-1 4-4 4 1 4 1 4 4 4 7 4 4 4 3 4-1 4-4 4 4 4 3 4 0 4 4 4 4 4 3 3 3 4 2 4 0 4 1" fill="none" stroke="#000" stroke-width="2.5" stroke-linejoin="round"/>
<path fill="#448cf2" stroke="#448cf2" stroke-width=".6" d="M1132 152l4 6 4 2-5-1-4-3-4 3z"/>
<path fill="#397ced" stroke="#397ced" stroke-width=".6" d="M1140 160l4 1-5 6-4-8zM1159 168l4 1 4 0 4 2-5 8-3-2-4-1-4 1zM1183 187l4 1-5-3-4 1zM1191 184l4-2-5 14-4-4z"/>
<path fill="#3577eb" stroke="#3577eb" stroke-width=".6" d="M1144 161l3 0 4 3 4 2 4 2-4 9-4-2-4-5-4-1-4-2zM1171 171l4 2-5 9-4-3zM1179 180l4 7-5-1-4 0zM1195 182l4 4-5 10-4 0z"/>
<path fill="#3271e8" stroke="#3271e8" stroke-width=".6" d="M1175 173l4 7-5 6-4-4zM1199 186l4 7 4 3-5 4-4-2-4-2zM1258 242l4-3 4-4 4-2-5 14-4-1-4 2-4 1z"/>
<path fill="#3c82f0" stroke="#3c82f0" stroke-width=".6" d="M1187 188l4-4-5 8-4-7z"/>
<path fill="#2f6ce5" stroke="#2f6ce5" stroke-width=".6" d="M1207 196l4-3-5 10-4-3zM1254 244l4-2-5 7-4 1zM1301 275l4 0 4 1-4 2-4-2-4 2zM1341 296l4 0-5 3-4-1z"/>
<path fill="#295ed8" stroke="#295ed8" stroke-width=".6" d="M1211 193l4 8-5 11-4-9zM1234 209l4 7-4 13-4-3zM1297 278l4-3-4 3-4 3zM1313 280l4 7-5-6-4-1zM1329 293l4-4-5 14-4-7zM1360 310l4 3 4-1-4 4-4-2-4-4z"/>
<path fill="#2350c8" stroke="#2350c8" stroke-width=".6" d="M1215 201l3 12-4 6-4-7zM1274 234l4 7-5 10-4-2zM1353 305l4 2-5-1-4-3z"/>
<path fill="#2657d0" stroke="#2657d0" stroke-width=".6" d="M1218 213l4 6-4-2-4 2zM1293 279l4-1-4 3-4-2zM1317 287l4 4 4 3 4-1-5 3-4-9-4-4-4-2zM1349 300l4 5-5-2-4-2zM1357 307l3 3-4 0-4-4zM1368 312l4 1-4 10-4-7z"/>
<path fill="#2c65e0" stroke="#2c65e0" stroke-width=".6" d="M1222 219l4 2 4-8 4-4-4 17-4-2-4-6-4-1zM1250 246l4-2-5 6-4-5zM1270 233l4 1-5 15-4-2zM1309 276l4 4-5 0-3-2zM1333 289l4 4 4 3-5 2-4 3-4 2zM1345 296l4 4-5 1-4-2z"/>
<path fill="#2049c0" stroke="#2049c0" stroke-width=".6" d="M1238 216l4 12-5 5-3-4z"/>
<path fill="#1d42b8" stroke="#1d42b8" stroke-width=".6" d="M1242 228l4 13 4 5-5-1-4-9-4-3zM1289 274l4 5-4 0-4-6z"/>
<path fill="#1a3aac" stroke="#1a3aac" stroke-width=".6" d="M1278 241l4 13-5 6-4-9z"/>
<path fill="#142c8d" stroke="#142c8d" stroke-width=".6" d="M1282 254l4 12 3 8-4-1-4-5-4-8z"/>
<path d="M1127 159l4-3 4 3 4 8 4 2 4 1 4 5 4 2 4-1 4 1 3 2 4 3 4 4 4 0 4-1 4 7 4 4 4 0 4 2 4 2 4 3 4 9 4 7 4-2 4 1 4 6 4 2 4 3 3 4 4 3 4 9 4 5 4-1 4-1 4-2 4 1 4 2 4 2 4 9 4 8 4 5 4 6 4 2 4-3 4-2 4 2 3 2 4 1 4 2 4 4 4 9 4 7 4-2 4-3 4 1 4 2 4 2 4 3 4 4 4 4 4 2 4 7" fill="none" stroke="#000" stroke-width="2.5" stroke-linejoin="round"/>
<path fill="#3c82f0" stroke="#3c82f0" stroke-width=".6" d="M1127 160l4-3-5 12-4-2zM1151 176l4 2 4-1-5 0-4-2-4 1zM1182 186l4 7-4 3-4-4z"/>
<path fill="#448cf2" stroke="#448cf2" stroke-width=".6" d="M1131 157l4 3-5 6-4 3zM1178 187l4-1-4 6-4 2z"/>
<path fill="#397ced" stroke="#397ced" stroke-width=".6" d="M1135 160l4 8-5 1-4-3zM1147 171l4 5-5 0-4 0zM1159 177l4 2-5 2-4-4zM1174 188l4-1-4 7-4 1zM1257 249l4-2 4 1-5-5-4-3-3 3z"/>
<path fill="#3577eb" stroke="#3577eb" stroke-width=".6" d="M1139 168l4 2 4 1-5 5-4-2-4-5zM1163 179l3 2-4 4-4-4zM1170 183l4 5-4 7-4-5zM1186 193l4 4 4 0 4 3-5 4-4-3-4 0-3-5zM1253 250l4-1-4-6-4-1z"/>
<path fill="#3271e8" stroke="#3271e8" stroke-width=".6" d="M1166 181l4 2-4 7-4-5zM1198 200l4 1-5 5-4-2zM1249 251l4-1-4-8-4 3z"/>
<path fill="#2f6ce5" stroke="#2f6ce5" stroke-width=".6" d="M1202 201l4 4-5 5-4-4zM1245 246l4 5-4-6-4 4z"/>
<path fill="#2657d0" stroke="#2657d0" stroke-width=".6" d="M1206 205l4 8 4 8-5 3-4-4-4-10zM1226 225l4 2-5 8-4 0zM1285 274l4 6-5-4-4 0zM1320 288l4 9 4 7-4-4-4-2-4-3zM1344 302l4 3-5 7-4-4zM1352 307l4 4 4 4 4 3-5 3-4 2-4 0-4-6z"/>
<path fill="#295ed8" stroke="#295ed8" stroke-width=".6" d="M1214 221l4-3-5 6-4 0zM1222 219l4 6-5 10-4-4zM1241 237l4 9-4 3-4-3zM1265 248l4 2-5 1-4-8zM1289 280l4 3 4-4-5 5-4-5-4-3zM1301 277l4 2-5 10-4-1zM1312 282l4 2 4 4-4 7-4-2-4-4zM1328 304l4-2-5-2-3 0zM1340 301l4 1-5 6-4-3z"/>
<path fill="#2c65e0" stroke="#2c65e0" stroke-width=".6" d="M1218 218l4 1-5 12-4-7zM1297 279l4-2-5 11-4-4zM1305 279l3 3 4 0-4 7-4-1-4 1zM1332 302l4-3 4 2-5 4-4-3-4-2z"/>
<path fill="#2350c8" stroke="#2350c8" stroke-width=".6" d="M1230 227l4 4 3 3 4 3-4 9-4-4-4-3-4-4zM1348 305l4 2-5 10-4-5zM1364 318l4 6-5 1-4-4z"/>
<path fill="#1d42b8" stroke="#1d42b8" stroke-width=".6" d="M1269 250l4 3-5 8-4-10zM1281 269l4 5-5 2-4 0z"/>
<path fill="#17339d" stroke="#17339d" stroke-width=".6" d="M1273 253l4 8 4 8-5 7-4-5-4-10z"/>
<path d="M1122 167l4 2 4-3 4 3 4 5 4 2 4 0 4-1 4 2 4 4 4 4 4 5 4 5 4-1 4-2 4 4 3 5 4 0 4 3 4 2 4 4 4 10 4 4 4 0 4 7 4 4 4 0 4 4 4 3 4 4 4 3 4-4 4-3 4 1 3-3 4 3 4 8 4 10 4 10 4 5 4 0 4 0 4 3 4 5 4 4 4 1 4-1 4 1 4 4 4 2 4 3 4 2 3 0 4 2 4 3 4 3 4 4 4 5 4 6 4 0 4-2 4 4" fill="none" stroke="#000" stroke-width="2.5" stroke-linejoin="round"/>
<path fill="#3c82f0" stroke="#3c82f0" stroke-width=".6" d="M1122 168l4 2-4 0-4 3zM1130 167l4 3-4 2-4-4zM1142 178l4-1 4 0 4 1-5 4-4 1-4-1-4-7zM1170 196l4-1-5-2-4 0zM1178 194l4 4-5 2-4-4zM1253 244l3-2-4 2-4 3z"/>
<path fill="#448cf2" stroke="#448cf2" stroke-width=".6" d="M1126 170l4-3-4 1-4 2zM1174 195l4-1-5 2-4-3z"/>
<path fill="#397ced" stroke="#397ced" stroke-width=".6" d="M1134 170l4 6 4 2-5-3-4-3-3 0zM1154 178l4 5-5 4-4-5zM1166 191l4 5-5-3-4 0zM1245 247l4-4 4 1-5 3-4 3-4-2zM1256 242l4 2-4 3-4-3z"/>
<path fill="#3271e8" stroke="#3271e8" stroke-width=".6" d="M1158 183l4 3-5 6-4-5zM1189 203l4 2 4 2-4 11-4-5-4-6z"/>
<path fill="#3577eb" stroke="#3577eb" stroke-width=".6" d="M1162 186l4 5-5 2-4-1zM1182 198l3 4 4 1-4 4-4-4-4-3zM1241 250l4-3-5 1-4-2z"/>
<path fill="#2f6ce5" stroke="#2f6ce5" stroke-width=".6" d="M1197 207l4 4-4 6-4 1zM1237 248l4 2-5-4-4 0z"/>
<path fill="#2c65e0" stroke="#2c65e0" stroke-width=".6" d="M1201 211l4 10-4-4-4 0zM1316 296l4 3 4 2 3 0 4 3-4 1-4-3-4-4-4-1-4 1z"/>
<path fill="#295ed8" stroke="#295ed8" stroke-width=".6" d="M1205 221l4 4 4 0-5 3-4-6-3-5zM1233 243l4 5-5-2-4-1zM1260 244l4 9-4 1-4-7zM1280 278l4 0 4 2 4 6 4 3 4 1 4-1 4 1-5 9-4-6-4-4-4-2-4-3-4-1-4 1-4 1zM1312 294l4 2-5 2-4 2zM1331 304l4 2-4 2-4-3zM1347 319l4 5 4 0-5-9-4 0-3 5z"/>
<path fill="#2657d0" stroke="#2657d0" stroke-width=".6" d="M1213 225l4 7-5 2-4-6zM1225 237l4 3 4 3-5 2-4 0-4-4zM1308 290l4 4-5 6-4-1zM1335 306l4 3-4 4-4-5zM1343 313l4 6-4 1-4-1zM1355 324l4-2-5 3-4-10z"/>
<path fill="#2350c8" stroke="#2350c8" stroke-width=".6" d="M1217 232l4 4 4 1-5 4-4-4-4-3zM1339 309l4 4-4 6-4-6z"/>
<path fill="#1a3aac" stroke="#1a3aac" stroke-width=".6" d="M1264 253l4 9-4 4-4-12z"/>
<path fill="#142c8d" stroke="#142c8d" stroke-width=".6" d="M1268 262l4 10-4 3-4-9z"/>
<path fill="#17339d" stroke="#17339d" stroke-width=".6" d="M1272 272l4 5-4 4-4-6z"/>
<path fill="#2049c0" stroke="#2049c0" stroke-width=".6" d="M1276 277l4 1-5 7-3-4zM1359 322l4 5-5 7-4-9z"/>
<path d="M1118 173l4-3 4-2 4 4 3 0 4 3 4 7 4 1 4-1 4 5 4 5 4 1 4 0 4 0 4 3 4 4 4 3 4 4 4 6 4 5 4-1 4 0 3 5 4 6 4 6 4 3 4 4 4 4 4 0 4 1 4 0 4 2 4 2 4-3 4-3 4 3 4 7 4 12 4 9 4 6 3 4 4-1 4-1 4 1 4 3 4 2 4 4 4 6 4 1 4-2 4-1 4 1 4 4 4 3 4 3 4 5 4 6 4 1 3-5 4 0 4 10 4 9" fill="none" stroke="#000" stroke-width="2.5" stroke-linejoin="round"/>
<path fill="#3c82f0" stroke="#3c82f0" stroke-width=".6" d="M1118 174l4-3 4-2-5 4-4-8-4-7zM1161 194l4 0-5 7-4-2zM1173 197l4 5-5 1-4-2zM1244 251l4-3-5-1-4 4z"/>
<path fill="#3577eb" stroke="#3577eb" stroke-width=".6" d="M1126 169l4 4 3 0-4 11-4-5-4-6zM1145 185l4-1-4 8-4-7zM1153 189l4 4-5 3-3 0zM1181 204l4 4-5-1-4-2zM1240 249l4 2-5 0-4 3z"/>
<path fill="#397ced" stroke="#397ced" stroke-width=".6" d="M1133 173l4 3 4 8 4 1-4 0-4-1-4 2-4-2zM1157 193l4 1-5 5-4-3zM1177 202l4 2-5 1-4-2zM1252 246l4 2-5-1-4 0z"/>
<path fill="#3271e8" stroke="#3271e8" stroke-width=".6" d="M1149 184l4 5-4 7-4-4zM1185 208l4 6 4 5 4 0 4 0-5 2-4-2-4-3-4-6-4-3zM1236 248l4 1-5 5-4 1z"/>
<path fill="#448cf2" stroke="#448cf2" stroke-width=".6" d="M1165 194l4 0 4 3-5 4-4-1-4 1zM1248 248l4-2-5 1-4 0z"/>
<path fill="#2c65e0" stroke="#2c65e0" stroke-width=".6" d="M1201 219l3 4-4 4-4-6zM1228 246l4 1-5 8-4-3zM1295 290l4 4 4 6-5-8-4 0-3 4zM1307 301l4-2 4-1-5 8-4-5-4-4zM1339 320l4 2 3-6 4 0-4 8-4-3-4-6-4-2z"/>
<path fill="#2657d0" stroke="#2657d0" stroke-width=".6" d="M1204 223l4 6-4 4-4-6zM1220 242l4 4 4 0-5 6-3-2-4-2zM1256 248l4 7-5-1-4-7zM1272 282l3 4-4-8-4-2zM1283 284l4 1 4 3-4 8-4-4-4-7zM1319 299l4 4 4 3 4 3-5 7-4 1-4-3-4-3zM1354 326l4 9-4-11-4 1z"/>
<path fill="#2049c0" stroke="#2049c0" stroke-width=".6" d="M1208 229l4 6 4 3-4 8-4-5-4-8z"/>
<path fill="#2350c8" stroke="#2350c8" stroke-width=".6" d="M1216 238l4 4-4 6-4-2z"/>
<path fill="#2f6ce5" stroke="#2f6ce5" stroke-width=".6" d="M1232 247l4 1-5 7-4 0z"/>
<path fill="#1d42b8" stroke="#1d42b8" stroke-width=".6" d="M1260 255l4 12-5 2-4-15zM1268 276l4 6-5-6-4 0z"/>
<path fill="#17339d" stroke="#17339d" stroke-width=".6" d="M1264 267l4 9-5 0-4-7z"/>
<path fill="#295ed8" stroke="#295ed8" stroke-width=".6" d="M1275 286l4 0 4-2-4 1-4-5-4-2zM1291 288l4 2-4 6-4 0zM1303 300l4 1-5-4-4-5zM1315 298l4 1-5 12-4-5zM1331 309l4 6 4 5-5-7-4 1-4 2zM1350 316l4 10-4-1-4-1z"/>
<path d="M1113 158l4 7 4 8 4 6 4 5 4 2 4-2 4 1 4 7 4 4 3 0 4 3 4 2 4-1 4 1 4 2 4 2 4 2 4 3 4 6 4 3 4 2 4 6 4 6 4 8 4 5 4 2 4 2 3 2 4 3 4 0 4-1 4-3 4-4 4 0 4 0 4 7 4 15 4 7 4 0 4 2 4 2 4 5 4 7 4 4 4 0 3-4 4 0 4 5 4 4 4 5 4 5 4 3 4 3 4-1 4-2 4-1 4 2 4 6 4 3 4 1 4-1" fill="none" stroke="#000" stroke-width="2.5" stroke-linejoin="round"/>
<path fill="#3c82f0" stroke="#3c82f0" stroke-width=".6" d="M1113 159l4 7-5 1-4 0zM1152 197l4 3 4 3 4-2-4 4-4-4-4-4-4 3zM1172 204l4 2-5-1-3-2zM1239 252l4-3-4-4-4 9z"/>
<path fill="#397ced" stroke="#397ced" stroke-width=".6" d="M1117 166l4 8-5-1-4-6zM1149 197l3 0-4 3-4 2z"/>
<path fill="#3577eb" stroke="#3577eb" stroke-width=".6" d="M1121 174l4 6 4 6 4 1 4-2 4 2 4 6 4 4-5 5-4-6-4-3-4-4-4-6-4 0-4-1-4-9zM1176 206l4 2-5 5-4-8zM1235 255l4-3-4 2-4 7zM1247 248l4 1-5 8-4-11z"/>
<path fill="#448cf2" stroke="#448cf2" stroke-width=".6" d="M1164 201l4 1 4 2-4-1-4 2-4 0z"/>
<path fill="#2f6ce5" stroke="#2f6ce5" stroke-width=".6" d="M1180 208l4 4 4 5-5 4-4-2-4-6zM1192 220l4 3-5 6-4-4zM1231 257l4-2-4 6-4 0z"/>
<path fill="#3271e8" stroke="#3271e8" stroke-width=".6" d="M1188 217l4 3-5 5-4-4z"/>
<path fill="#295ed8" stroke="#295ed8" stroke-width=".6" d="M1196 223l4 5-5 6-4-5zM1291 297l3-4-4 10-4 0zM1306 302l4 5-4-2-4-2zM1322 318l4 0 4-3-5 5-4-5-4-1zM1338 317l4 5-5 3-4-3z"/>
<path fill="#2049c0" stroke="#2049c0" stroke-width=".6" d="M1200 228l4 6-5 7-4-7zM1212 248l4 1-5 7-4-5zM1263 277l4 1-5 6-4-10z"/>
<path fill="#1d42b8" stroke="#1d42b8" stroke-width=".6" d="M1204 234l4 8 4 6-5 3-4-4-4-6zM1255 255l4 15-5-1-4-3z"/>
<path fill="#2350c8" stroke="#2350c8" stroke-width=".6" d="M1216 249l4 3 3 2-4 8-4-1-4-5zM1251 249l4 6-5 11-4-9zM1279 286l4 7 4 4-5 3-4-7-4-6zM1314 312l4 3-5-3-3-5zM1346 325l4 1-5 8-4-3z"/>
<path fill="#2657d0" stroke="#2657d0" stroke-width=".6" d="M1223 254l4 2-4 4-4 2zM1267 278l4 2-5 9-4-5zM1287 297l4 0-5 6-4-3zM1310 307l4 5-4-5-4-2zM1318 315l4 3-5-4-4-2zM1342 322l4 3-5 6-4-6zM1350 326l4-1-5 10-4-1z"/>
<path fill="#2c65e0" stroke="#2c65e0" stroke-width=".6" d="M1227 256l4 1-4 4-4-1zM1271 280l4 1 4 5-5 1-4-1-4 3zM1294 293l4 0 4 5 4 4-4 1-4 1-4 1-4-2zM1330 315l4-1 4 3-5 5-4 0-4-2z"/>
<path fill="#4c96f4" stroke="#4c96f4" stroke-width=".6" d="M1243 249l4-1-5-2-3-1z"/>
<path fill="#1a3aac" stroke="#1a3aac" stroke-width=".6" d="M1259 270l4 7-5-3-4-5z"/>
<path d="M1108 167l4 0 4 6 4 9 4 1 4 0 4 6 4 4 4 3 4 6 4-2 4-3 4 4 4 4 4 0 4-2 3 2 4 8 4 6 4 2 4 4 4 4 4 5 4 7 4 6 4 4 4 5 4 5 4 1 4-2 4 1 4 0 4-7 4-9 3 1 4 11 4 9 4 3 4 5 4 10 4 5 4-3 4 1 4 6 4 7 4 3 4 0 4 2 4-1 4-1 4 2 4 2 3 5 4 2 4 1 4 5 4 2 4 0 4 3 4 6 4 3 4 1" fill="none" stroke="#000" stroke-width="2.5" stroke-linejoin="round"/>
<path fill="#397ced" stroke="#397ced" stroke-width=".6" d="M1108 168l4 0 4 7-4 5-4-1-4-5zM1136 194l4 4-5-1-4 2zM1152 198l4 4 4 4-5 5-4 0-4-8zM1242 248l4 10-4-7-4-4z"/>
<path fill="#3c82f0" stroke="#3c82f0" stroke-width=".6" d="M1116 175l4 8 4 1-5-8-3 1-4 3zM1140 198l4 5 4-2 4-3-5 5-4-8-4 1-4 1zM1168 204l3 3-4 6-4-3zM1235 255l4-8-5 5-4 6z"/>
<path fill="#3577eb" stroke="#3577eb" stroke-width=".6" d="M1124 184l4 0-5 2-4-10z"/>
<path fill="#3271e8" stroke="#3271e8" stroke-width=".6" d="M1128 184l4 7 4 3-5 5-4-1-4-12zM1171 207l4 7-4 4-4-5zM1231 263l4-8-5 3-4 4z"/>
<path fill="#448cf2" stroke="#448cf2" stroke-width=".6" d="M1160 206l4 0 4-2-5 6-4 0-4 1z"/>
<path fill="#2c65e0" stroke="#2c65e0" stroke-width=".6" d="M1175 214l4 6 4 3 4 3-4 5-4-2-4-6-4-5zM1191 230l4 5-5-4-3-2zM1227 262l4 1-5-1-4 4zM1270 287l4 1-5 5-4-2z"/>
<path fill="#2f6ce5" stroke="#2f6ce5" stroke-width=".6" d="M1187 226l4 4-4-1-4 2z"/>
<path fill="#2350c8" stroke="#2350c8" stroke-width=".6" d="M1195 235l4 7-5 1-4-12zM1219 263l4-2-5 9-4-3zM1246 258l4 9-4-4-4-12zM1262 285l4 5-5 1-3 2zM1310 308l3 5 4 2 4 1-4 12-4 0-4-5-4-7zM1333 323l4 4-5 7-3-5z"/>
<path fill="#1d42b8" stroke="#1d42b8" stroke-width=".6" d="M1199 242l4 6-5 3-4-8z"/>
<path fill="#2049c0" stroke="#2049c0" stroke-width=".6" d="M1203 248l4 4 4 6 4 4 4 1-5 4-4-8-4-4-4-3-4-1zM1337 327l4 5 4 3 4 2-5 5-4-2-4-4-4-2z"/>
<path fill="#295ed8" stroke="#295ed8" stroke-width=".6" d="M1223 261l4 1-5 4-4 4zM1266 290l4-3-5 4-4 0zM1274 288l4 6 4 7 4 3 4 1-5-3-4-7-4-1-4 2-4-3z"/>
<path fill="#4c96f4" stroke="#4c96f4" stroke-width=".6" d="M1239 247l3 1-4-1-4 5z"/>
<path fill="#1a3aac" stroke="#1a3aac" stroke-width=".6" d="M1250 267l4 3-4 8-4-15zM1258 276l4 9-4 8-4-3z"/>
<path fill="#17339d" stroke="#17339d" stroke-width=".6" d="M1254 270l4 6-4 14-4-12z"/>
<path fill="#2657d0" stroke="#2657d0" stroke-width=".6" d="M1290 305l4 1 4-1 4 0 4 2 4 1-5 8-4-2-4-1-4-5-4-3-4-3zM1321 316l4 5 4 3 4-1-4 6-4-2-4 2-4-1z"/>
<path d="M1104 174l4 5 4 1 4-3 3-1 4 10 4 12 4 1 4-2 4-1 4-1 4 8 4 8 4 0 4-1 4 0 4 3 4 5 4 5 4 6 4 2 4-2 3 2 4 12 4 8 4 1 4 3 4 4 4 8 4 3 4-4 4-4 4-4 4-6 4-5 4 4 4 12 4 15 4 12 4 3 3-2 4 0 4 2 4 3 4-2 4 1 4 7 4 3 4 3 4 5 4 1 4 2 4 7 4 5 4 0 4 1 4-2 4 2 3 5 4 2 4 4 4 2" fill="none" stroke="#000" stroke-width="2.5" stroke-linejoin="round"/>
<path fill="#397ced" stroke="#397ced" stroke-width=".6" d="M1104 175l4 5-5 4-4-6zM1127 199l4 1-4-2-4 1zM1147 204l4 9 4-1-5-5-4-6-4-1zM1234 254l4-6-5 12-4 8z"/>
<path fill="#3c82f0" stroke="#3c82f0" stroke-width=".6" d="M1108 180l4 1-5 6-4-3zM1155 212l4-1 4 1-5 2-4-4-4-3zM1238 248l4 4-5 6-4 2z"/>
<path fill="#448cf2" stroke="#448cf2" stroke-width=".6" d="M1112 181l4-3 3-1-4 10-4-1-4 1zM1131 200l4-2-4-3-4 3zM1139 197l4-1 4 8-5-4-4 2-3-5z"/>
<path fill="#3577eb" stroke="#3577eb" stroke-width=".6" d="M1119 177l4 10-4 7-4-7zM1163 212l4 2-5 5-4-5z"/>
<path fill="#2f6ce5" stroke="#2f6ce5" stroke-width=".6" d="M1123 187l4 12-4 0-4-5zM1187 230l3 3-4 11-4-1z"/>
<path fill="#4c96f4" stroke="#4c96f4" stroke-width=".6" d="M1135 198l4-1-4 0-4-2z"/>
<path fill="#2c65e0" stroke="#2c65e0" stroke-width=".6" d="M1167 214l4 5-5 5-4-5zM1183 233l4-3-5 13-4-2zM1190 233l4 11-4 0-4 0zM1226 263l4-4-5 13-4 2zM1273 297l4-2-4 2-4 0z"/>
<path fill="#295ed8" stroke="#295ed8" stroke-width=".6" d="M1171 219l4 5-5 5-4-5zM1179 230l4 3-5 8-4-5zM1222 268l4-5-5 11-4 1zM1242 252l4 12-5 0-4-6zM1269 295l4 2-4 0-4 3zM1277 295l4 1-4 10-4-9z"/>
<path fill="#2657d0" stroke="#2657d0" stroke-width=".6" d="M1175 224l4 6-5 6-4-7zM1218 272l4-4-5 7-4 2zM1261 292l4 0 4 3-4 5-4-1-4-4zM1321 331l4-2 4 1-5 6-4-1-4-2z"/>
<path fill="#2350c8" stroke="#2350c8" stroke-width=".6" d="M1194 244l4 8-4-5-4-3zM1281 296l4 7 4 4 4 2 4 5 4 1 4 3 4 7 4 4 4 1 4 1-5 2-4-3-4-6-4-3-4 2-4-1-4-3-4-4-4-3-4 0-3-6z"/>
<path fill="#2049c0" stroke="#2049c0" stroke-width=".6" d="M1198 252l4 2-4 1-4-8zM1214 268l4 4-5 5-4-1zM1258 294l3-2-4 3-4-5zM1329 330l3 5-4 6-4-5zM1340 341l4 3-4 5-4-1z"/>
<path fill="#1d42b8" stroke="#1d42b8" stroke-width=".6" d="M1202 254l4 2-4 6-4-7zM1246 264l4 15-5-6-4-9zM1332 335l4 3 4 3-4 7-4-2-4-5z"/>
<path fill="#1a3aac" stroke="#1a3aac" stroke-width=".6" d="M1206 256l4 4 4 8-5 8-3-7-4-7z"/>
<path fill="#3271e8" stroke="#3271e8" stroke-width=".6" d="M1230 259l4-5-5 14-4 4z"/>
<path fill="#17339d" stroke="#17339d" stroke-width=".6" d="M1250 279l4 12 4 3-5-4-4-7-4-10z"/>
<path d="M1099 178l4 6 4 3 4-1 4 1 4 7 4 5 4-1 4-3 4 2 3 5 4-2 4 1 4 6 4 3 4 4 4 5 4 5 4 5 4 7 4 5 4 2 4 1 4 0 4 3 4 8 4 7 4 7 3 7 4 1 4-2 4-1 4-2 4-4 4-8 4-2 4 6 4 9 4 10 4 7 4 5 4 4 4 1 4-3 4 0 4 9 3 6 4 0 4 3 4 4 4 3 4 1 4-2 4 3 4 6 4 3 4 2 4 1 4 5 4 5 4 2 4 1" fill="none" stroke="#000" stroke-width="2.5" stroke-linejoin="round"/>
<path fill="#3c82f0" stroke="#3c82f0" stroke-width=".6" d="M1099 179l4 6 4 3 4-1-5 6-4-7-4-3-4-2zM1135 198l3 5-4 7-4-5z"/>
<path fill="#397ced" stroke="#397ced" stroke-width=".6" d="M1111 187l4 2-5 5-4-1zM1119 195l4 5-5-2-4-2zM1138 203l4-2 4 2 4 6 4 3 4 4-4 4-4-2-4 0-4-3-4-3-4-2z"/>
<path fill="#3577eb" stroke="#3577eb" stroke-width=".6" d="M1115 189l4 6-5 1-4-2zM1158 216l4 4-5 3-3-3z"/>
<path fill="#448cf2" stroke="#448cf2" stroke-width=".6" d="M1123 200l4-1-5-1-4 0zM1131 196l4 2-5 7-4-5z"/>
<path fill="#4c96f4" stroke="#4c96f4" stroke-width=".6" d="M1127 199l4-3-5 4-4-2z"/>
<path fill="#2f6ce5" stroke="#2f6ce5" stroke-width=".6" d="M1162 220l4 5-5 4-4-6zM1182 244l4 1-5 1-4-1zM1229 269l4-8-5 12-3 2z"/>
<path fill="#295ed8" stroke="#295ed8" stroke-width=".6" d="M1166 225l4 6-5 4-4-6zM1217 276l4-1-4-1-4 5zM1237 259l4 6-5 9-4-4zM1320 336l4 2-5 0-4 0z"/>
<path fill="#2657d0" stroke="#2657d0" stroke-width=".6" d="M1170 231l4 6 4 5-5 1-4-3-4-5zM1213 278l4-2-4 3-4 4zM1265 301l4-3 4 0 4 9-5 2-4 2-4 2-4-4zM1288 317l4 3 4 3 4 2 4-3-5 6-3-6-4-3-4 0-4 2zM1316 335l4 1-5 2-4-2zM1324 338l4 4-5-4-4 0z"/>
<path fill="#2c65e0" stroke="#2c65e0" stroke-width=".6" d="M1178 242l4 2-5 1-4-2zM1190 246l4 2-5-2-4-2zM1221 275l4-1 4-5-4 6-4-2-4 1z"/>
<path fill="#3271e8" stroke="#3271e8" stroke-width=".6" d="M1186 245l4 1-5-2-4 2zM1233 261l4-2-5 11-4 3z"/>
<path fill="#2350c8" stroke="#2350c8" stroke-width=".6" d="M1194 248l4 8-5 0-4-10zM1261 300l4 1-5 8-4-4zM1277 307l3 6-4-1-4-3zM1284 313l4 4-4 4-4-2zM1304 322l4 4 4 6 4 3-5 1-4-2-4-2-4-4z"/>
<path fill="#1a3aac" stroke="#1a3aac" stroke-width=".6" d="M1198 256l4 7-5 0-4-7zM1245 274l4 10 4 7-5 4-4-4-4-8z"/>
<path fill="#17339d" stroke="#17339d" stroke-width=".6" d="M1202 263l4 7-5 0-4-7z"/>
<path fill="#142c8d" stroke="#142c8d" stroke-width=".6" d="M1206 270l3 7-4 2-4-9z"/>
<path fill="#1d42b8" stroke="#1d42b8" stroke-width=".6" d="M1209 277l4 1-4 5-4-4zM1253 291l4 5-5 5-4-6z"/>
<path fill="#2049c0" stroke="#2049c0" stroke-width=".6" d="M1241 265l4 9-5 9-4-9zM1257 296l4 4-5 5-4-4zM1280 313l4 0-4 6-4-7zM1328 342l4 5 4 3 4 0-5 1-4 0-4-7-4-6z"/>
<path d="M1094 181l4 2 4 3 4 7 4 1 4 2 4 2 4 0 4 2 4 5 4 5 4 2 4 3 4 3 4 0 4 2 3 3 4 6 4 6 4 5 4 3 4 2 4 1 4-2 4 2 4 10 4 7 4 7 4 9 4 4 4-4 4-5 4-1 4 2 3-2 4-3 4 4 4 9 4 8 4 4 4 6 4 4 4 4 4 4 4-2 4-2 4 3 4 7 4 2 4-2 4 0 4 3 3 6 4 4 4 2 4 2 4 2 4 0 4 0 4 6 4 7 4 0" fill="none" stroke="#000" stroke-width="2.5" stroke-linejoin="round"/>
<path fill="#4c96f4" stroke="#4c96f4" stroke-width=".6" d="M1094 183l4 1 4 4-4-4-4 1-4 0zM1118 199l4 1 4 1-5-1-4-1-4 3z"/>
<path fill="#3c82f0" stroke="#3c82f0" stroke-width=".6" d="M1102 188l4 6-4-7-4-3zM1114 197l4 2-5 3-4-1zM1126 201l4 5-5 1-4-7z"/>
<path fill="#397ced" stroke="#397ced" stroke-width=".6" d="M1106 194l4 1 4 2-5 4-4-6-3-8zM1150 220l4 1 3 3-4 2-4-1-4-1z"/>
<path fill="#3577eb" stroke="#3577eb" stroke-width=".6" d="M1130 206l4 5 4 2-5 1-4-1-4-6zM1146 219l4 1-5 4-4-1zM1157 224l4 6-4-4-4 0z"/>
<path fill="#3271e8" stroke="#3271e8" stroke-width=".6" d="M1138 213l4 3 4 3-5 4-4-4-4-5zM1181 248l4-3-5 7-4 1z"/>
<path fill="#2f6ce5" stroke="#2f6ce5" stroke-width=".6" d="M1161 230l4 6-4-7-4-3zM1177 246l4 2-5 5-3 2z"/>
<path fill="#295ed8" stroke="#295ed8" stroke-width=".6" d="M1165 236l4 5-4-2-4-10zM1173 245l4 1-4 9-4-4zM1217 275l4 0-5 11-4 4zM1228 274l4-2-4 7-4 0zM1315 339l4 0 4 0-5 3-3 1-4 1z"/>
<path fill="#2350c8" stroke="#2350c8" stroke-width=".6" d="M1169 241l4 4-4 6-4-12zM1256 306l4 5-5 0-4 3zM1268 312l4-2-5 9-4-3zM1280 320l4 2-5 3-4-7zM1296 323l3 6-4 5-4-1zM1303 333l4 2-4 6-4-5zM1327 345l4 7 4 0-5 1-4-5-4-5z"/>
<path fill="#2c65e0" stroke="#2c65e0" stroke-width=".6" d="M1185 245l4 2-5 7-4-2zM1221 275l4 1 3-2-4 5-4 1-4 6z"/>
<path fill="#2049c0" stroke="#2049c0" stroke-width=".6" d="M1189 247l4 10-5 5-4-8zM1299 329l4 4-4 3-4-2z"/>
<path fill="#1a3aac" stroke="#1a3aac" stroke-width=".6" d="M1193 257l4 7-5 6-4-8zM1240 284l4 8-4 2-4-6zM1248 296l4 6-5 10-3-9z"/>
<path fill="#17339d" stroke="#17339d" stroke-width=".6" d="M1197 264l4 7 4 10-5-3-4-5-4-3zM1244 292l4 4-4 7-4-9z"/>
<path fill="#1d42b8" stroke="#1d42b8" stroke-width=".6" d="M1205 281l4 3-5 0-4-6zM1236 275l4 9-4 4-4-6zM1252 302l4 4-5 8-4-2z"/>
<path fill="#2657d0" stroke="#2657d0" stroke-width=".6" d="M1209 284l4-4 4-5-5 15-4-2-4-4zM1232 272l4 3-4 7-4-3zM1260 311l4 3 4-2-5 4-4-5-4 0zM1272 310l4 3 4 7-5-2-4-1-4 2zM1284 322l4-2 4 0 4 3-5 10-4-4-4 0-4-4zM1307 335l4 2 4 2-4 5-4-1-4-2zM1323 339l4 6-5-2-4-1z"/>
<path d="M1090 185l4 0 4-1 4 3 3 8 4 6 4 1 4-3 4 1 4 7 4 6 4 1 4 5 4 4 4 1 4 1 4 1 4 0 4 3 4 10 4 12 4 4 3-2 4-1 4 2 4 8 4 8 4 3 4 5 4 6 4 4 4 2 4-4 4-6 4-1 4 0 4 3 4 6 4 6 4 9 3 9 4 2 4-3 4 0 4 5 4 3 4-2 4 1 4 7 4 4 4 0 4 4 4 1 4 2 4 5 4 2 4 1 4-1 3-1 4 1 4 5 4 5" fill="none" stroke="#000" stroke-width="2.5" stroke-linejoin="round"/>
<path fill="#4c96f4" stroke="#4c96f4" stroke-width=".6" d="M1090 186l4 1-5 3-4 1zM1098 186l4 3-5 7-4-6z"/>
<path fill="#53a0f7" stroke="#53a0f7" stroke-width=".6" d="M1094 187l4-1-5 4-4 0z"/>
<path fill="#3c82f0" stroke="#3c82f0" stroke-width=".6" d="M1102 189l3 7 4 7 4 1-4-1-4-6-4 1-4-2z"/>
<path fill="#448cf2" stroke="#448cf2" stroke-width=".6" d="M1113 204l4-4 4 1-4 6-4-1-4-3z"/>
<path fill="#397ced" stroke="#397ced" stroke-width=".6" d="M1121 201l4 7-4 2-4-3zM1149 226l4 1-5 7-4-2z"/>
<path fill="#3577eb" stroke="#3577eb" stroke-width=".6" d="M1125 208l4 6 4 2-5 2-4-4-3-4zM1145 226l4 0-5 6-4-1zM1153 227l4 1-5 8-4-2z"/>
<path fill="#3271e8" stroke="#3271e8" stroke-width=".6" d="M1133 216l4 4 4 5 4 1-5 5-4-1-4-6-4-6zM1157 228l4 2-5 9-4-3z"/>
<path fill="#2c65e0" stroke="#2c65e0" stroke-width=".6" d="M1161 230l4 10-5-3-4 2z"/>
<path fill="#2657d0" stroke="#2657d0" stroke-width=".6" d="M1165 240l4 12 4 4-5-2-4-11-4-6zM1208 289l4 3 4-5-5 2-4 0-4-2zM1220 281l4 0-5 9-4-1zM1247 314l4 2-4-13-4 2zM1255 312l4 0-4 4-4-10zM1263 317l4 4-4-1-4 0zM1271 318l4 1 4 8-5-1-4 1-4-3zM1299 338l4 5 4 1 4 1-5 1-4-4-4-3-4 3zM1315 345l3-2 4 1-4 13-4-4-4-6z"/>
<path fill="#295ed8" stroke="#295ed8" stroke-width=".6" d="M1173 256l3-2 4-1-4 12-4-6-4-5zM1216 287l4-6-5 8-4 0zM1251 316l4-4-4-6-4-3zM1267 321l4-3-5 6-3-4zM1311 345l4 0-5 2-4-1z"/>
<path fill="#2049c0" stroke="#2049c0" stroke-width=".6" d="M1180 253l4 2-4 17-4-7zM1200 279l4 7-5 1-4 1zM1228 281l4 2-5 14-4-4zM1244 304l3 10-4-9-4-2zM1326 349l4 5-4 6-4-3z"/>
<path fill="#1a3aac" stroke="#1a3aac" stroke-width=".6" d="M1184 255l4 9-4 9-4-1zM1196 274l4 5-5 9-3-3z"/>
<path fill="#17339d" stroke="#17339d" stroke-width=".6" d="M1188 264l4 8 4 2-4 11-4-8-4-4z"/>
<path fill="#2350c8" stroke="#2350c8" stroke-width=".6" d="M1204 286l4 3-5-2-4 0zM1224 281l4 0-5 12-4-3zM1259 312l4 5-4 3-4-4zM1279 327l4 3 4 1 4 3 4 1 4 3-5 4-4-3-4-5-4-2-4-4-4-2zM1322 344l4 5-4 8-4 0z"/>
<path fill="#1d42b8" stroke="#1d42b8" stroke-width=".6" d="M1232 283l4 7 4 5 4 9-5-1-4-1-4-1-4-4z"/>
<path d="M1085 191l4-1 4 0 4 6 4 2 4-1 4 6 4 3 4 1 4 3 3 4 4 4 4 6 4 6 4 1 4 1 4 2 4 2 4 3 4-2 4 6 4 11 4 5 4 6 4 7 4 1 4 4 4 8 3 3 4-1 4 0 4 2 4 0 4 0 4 1 4 3 4 4 4 4 4 1 4 1 4 2 4-2 4 3 4 10 4 4 4 0 3 4 4 3 4-1 4 2 4 4 4 2 4 5 4 3 4-3 4 3 4 4 4 1 4 6 4 4 4 0 4 3" fill="none" stroke="#000" stroke-width="2.5" stroke-linejoin="round"/>
<path fill="#448cf2" stroke="#448cf2" stroke-width=".6" d="M1085 193l4-1-5 5-4-2zM1101 199l4 0-5-4-4-2z"/>
<path fill="#4c96f4" stroke="#4c96f4" stroke-width=".6" d="M1089 192l4 0 4 5 4 2-5-6-4 1-4 0-4 3z"/>
<path fill="#3c82f0" stroke="#3c82f0" stroke-width=".6" d="M1105 199l4 5-5 3-4-12z"/>
<path fill="#397ced" stroke="#397ced" stroke-width=".6" d="M1109 204l4 4 4 0-5 6-4 0-4-7z"/>
<path fill="#3577eb" stroke="#3577eb" stroke-width=".6" d="M1117 208l4 4 3 4 4 3 4 6-4-2-4 2-4-1-4-6-4-4zM1140 232l4 1 4 2 4 3-5 3-4 0-3-1-4-3z"/>
<path fill="#3271e8" stroke="#3271e8" stroke-width=".6" d="M1132 225l4 6 4 1-4 5-4-7-4-7z"/>
<path fill="#2f6ce5" stroke="#2f6ce5" stroke-width=".6" d="M1152 238l4 2-5 6-4-5z"/>
<path fill="#2c65e0" stroke="#2c65e0" stroke-width=".6" d="M1156 240l4-1 4 5-5 7-4-2-4-3zM1243 306l4-2 4 3-5 3-4 4-4 1zM1263 322l3 4-4-9-4 6zM1298 341l4 2 4 4-5-4-4-2-4 4z"/>
<path fill="#295ed8" stroke="#295ed8" stroke-width=".6" d="M1164 244l4 12 4 4-5-5-4-1-4-3zM1251 307l4 11-5-4-4-4zM1266 326l4 2-4-10-4-1z"/>
<path fill="#2657d0" stroke="#2657d0" stroke-width=".6" d="M1172 260l4 6-5-8-4-3zM1203 288l4 2 4 0-4 7-4-1-4 1zM1239 304l4 2-5 9-4-5zM1259 321l4 1-5 1-4 0zM1270 328l4 0 4 1-4-1-4-5-4-5zM1282 333l4 2 4 6-5-4-3-1-4-1zM1294 344l4-3-5 4-4 0zM1306 347l4 2 4 5 4 4-5-9-4 0-4 0-4-6z"/>
<path fill="#2049c0" stroke="#2049c0" stroke-width=".6" d="M1176 266l4 7-5-5-4-10zM1215 290l4 1 4 3 4 4 4 4-5 2-4-1-4-3-4 0-3-1zM1322 358l4 3-5 2-4-6z"/>
<path fill="#1a3aac" stroke="#1a3aac" stroke-width=".6" d="M1180 273l4 1 4 5-5 0-4-4-4-7z"/>
<path fill="#17339d" stroke="#17339d" stroke-width=".6" d="M1188 279l4 7 3 3-4 0-4-6-4-4z"/>
<path fill="#1d42b8" stroke="#1d42b8" stroke-width=".6" d="M1195 289l4-1-4 7-4-6z"/>
<path fill="#2350c8" stroke="#2350c8" stroke-width=".6" d="M1199 288l4 0-4 9-4-2zM1211 290l4 0-4 9-4-2zM1231 302l4 1 4 1-5 6-4-5-4-1zM1255 318l4 3-5 2-4-9zM1278 329l4 4-4 2-4-7zM1290 341l4 3-5 1-4-8zM1318 358l4 0-5-1-4-8z"/>
<path d="M1080 195l4 2 4-3 4 0 4-1 4 2 4 12 4 7 4 0 4 4 4 6 4 1 4-2 4 7 4 7 4 3 3 1 4 0 4 5 4 3 4 2 4 3 4 1 4 3 4 10 4 7 4 4 4 4 4 6 4 6 4 2 4-1 4 1 4 2 3 1 4 0 4 3 4 1 4 1 4 5 4 5 4-1 4-4 4 4 4 9 4 0 4-6 4 1 4 5 4 5 4 7 4 1 3 1 4 8 4 0 4-4 4 2 4 6 4 0 4 0 4 8 4 6" fill="none" stroke="#000" stroke-width="2.5" stroke-linejoin="round"/>
<path fill="#3c82f0" stroke="#3c82f0" stroke-width=".6" d="M1080 197l4 1 4-2 4 0 4-1 4 1-5 18-4 0-3-5-4-4-4-3-4-4zM1120 225l4 1 4-1-5-1-4-2-4 0z"/>
<path fill="#397ced" stroke="#397ced" stroke-width=".6" d="M1100 196l4 12 4 8 4-1 4 4 4 6-5-3-4 0-4-4-4-6-4 0-4 2zM1140 241l3 1-4-7-4-3z"/>
<path fill="#3577eb" stroke="#3577eb" stroke-width=".6" d="M1128 225l4 6-5-2-4-5zM1136 238l4 3-5-9-4 1z"/>
<path fill="#3271e8" stroke="#3271e8" stroke-width=".6" d="M1132 231l4 7-5-5-4-4zM1143 242l4 1-4 0-4-8z"/>
<path fill="#2c65e0" stroke="#2c65e0" stroke-width=".6" d="M1147 243l4 4-4 3-4-7zM1155 251l4 1 4 3 4 1-5 9-3-4-4-2-4-3zM1242 316l4-4 4 3-5 3-4 1-4 0zM1254 324l4 0-5-4-4 2zM1262 318l4 1-5 9-4-8zM1297 342l4 2-4 5-4 2z"/>
<path fill="#295ed8" stroke="#295ed8" stroke-width=".6" d="M1151 247l4 4-4 5-4-6zM1222 304l4 1 4 2-4 6-4-7-4 1zM1238 316l4 0-5 3-4-5zM1250 315l4 9-5-2-4-4zM1282 337l3 2-4-2-4 3zM1293 347l4-5-4 9-4-1zM1301 344l4 6-4 2-4-3zM1313 351l4 7-5 0-4 1z"/>
<path fill="#2657d0" stroke="#2657d0" stroke-width=".6" d="M1167 256l4 4-5 8-4-3zM1199 298l4 0-5-1-4 0zM1218 302l4 2-4 3-4 5zM1230 307l4 4 4 5-5-2-3 1-4-2zM1266 319l4 5-5 9-4-5zM1278 336l4 1-5 3-4-1zM1285 339l4 7 4 1-4 3-4-8-4-5zM1305 350l4 0 4 1-5 8-4-1-3-6zM1317 358l4 6-5-3-4-3z"/>
<path fill="#2049c0" stroke="#2049c0" stroke-width=".6" d="M1171 260l4 9-5 4-4-5zM1211 301l3 0 4 1-4 10-4-3-4-5z"/>
<path fill="#1d42b8" stroke="#1d42b8" stroke-width=".6" d="M1175 269l4 8 4 3-5 1-4-4-4-4z"/>
<path fill="#1a3aac" stroke="#1a3aac" stroke-width=".6" d="M1183 280l4 4-5 5-4-8zM1191 291l4 5-5 5-4-3z"/>
<path fill="#17339d" stroke="#17339d" stroke-width=".6" d="M1187 284l4 7-5 7-4-9z"/>
<path fill="#2350c8" stroke="#2350c8" stroke-width=".6" d="M1195 296l4 2-5-1-4 4zM1203 298l4 0 4 3-5 3-4-3-4-4zM1270 324l4 6 4 6-5 3-4-4-4-2z"/>
<path fill="#2f6ce5" stroke="#2f6ce5" stroke-width=".6" d="M1258 324l4-6-5 2-4 0z"/>
<path d="M1076 198l4 4 4 3 4 4 3 5 4 0 4-2 4 0 4 6 4 4 4 0 4 0 4 2 4 5 4 4 4-1 4 3 4 8 4 7 4 6 4 3 4 2 3 4 4 3 4 5 4 4 4 4 4 8 4 9 4 3 4-4 4 0 4 4 4 3 4 5 4 3 4-5 4-1 4 7 4 2 3-1 4 5 4 0 4-1 4 4 4-2 4 0 4 8 4 5 4 2 4 4 4 1 4-3 4 5 4 8 4 1 4-2 4 3 3 6 4 1 4-1 4 3" fill="none" stroke="#000" stroke-width="2.5" stroke-linejoin="round"/>
<path fill="#397ced" stroke="#397ced" stroke-width=".6" d="M1076 199l4 4-5 1-4-6zM1084 206l4 4 3 5 4 1-4-1-4-3-4 2-4-1zM1107 219l4 4 4 1-5 1-3-2-4-4zM1119 224l4 1-5 8-4-5zM1135 233l4 4-5 11-4-2z"/>
<path fill="#3577eb" stroke="#3577eb" stroke-width=".6" d="M1080 203l4 3-5 7-4-9zM1123 225l4 5-5 7-4-4zM1131 234l4-1-5 13-4-5z"/>
<path fill="#3c82f0" stroke="#3c82f0" stroke-width=".6" d="M1095 216l4-3 4 1 4 5-4 0-4 1-4 0-4-5zM1115 224l4 0-5 4-4-3z"/>
<path fill="#3271e8" stroke="#3271e8" stroke-width=".6" d="M1127 230l4 4-5 7-4-4zM1139 237l4 7-5 3-4 1z"/>
<path fill="#2c65e0" stroke="#2c65e0" stroke-width=".6" d="M1143 244l4 7-5 1-4-5zM1151 257l4 3-5-1-4-1zM1159 263l3 3-4-5-4-4zM1218 309l4-1 4 6-5-5-4 1-4 3zM1237 321l4-1 4 0 4 3 4-1 4-1-5 10-3-3-4-6-4-2-4 0-4-2zM1289 352l4 0 4-2-5-4-4 0-4 2z"/>
<path fill="#295ed8" stroke="#295ed8" stroke-width=".6" d="M1147 251l4 6-5 1-4-6zM1214 313l4-4-5 4-4-2zM1226 314l4 2 3 0 4 5-4-3-4-5-4-3-4-1zM1257 321l4 8-5 4-4-2zM1277 341l4-3 4 5 4 9-5-4-4 0-4-2-4-1zM1297 350l4 3-5 0-4-7zM1308 360l4-1 4 4-4 2-4-2-4-1z"/>
<path fill="#2f6ce5" stroke="#2f6ce5" stroke-width=".6" d="M1155 260l4 3-5-6-4 2z"/>
<path fill="#2657d0" stroke="#2657d0" stroke-width=".6" d="M1162 266l4 3-4 1-4-9zM1210 310l4 3-5-2-4-3zM1273 341l4 0-5 4-4 0zM1304 359l4 1-4 2-4-1z"/>
<path fill="#2049c0" stroke="#2049c0" stroke-width=".6" d="M1166 269l4 5-4 5-4-9z"/>
<path fill="#1d42b8" stroke="#1d42b8" stroke-width=".6" d="M1170 274l4 4 4 5-4 4-4-2-4-6zM1186 299l4 4-5-4-4 0z"/>
<path fill="#1a3aac" stroke="#1a3aac" stroke-width=".6" d="M1178 283l4 7-4 3-4-6z"/>
<path fill="#17339d" stroke="#17339d" stroke-width=".6" d="M1182 290l4 9-5 0-3-6z"/>
<path fill="#2350c8" stroke="#2350c8" stroke-width=".6" d="M1190 303l4-4 4-1 4 4 4 4 4 4-5-2-4 1-4 1-4-2-4-6-4-3zM1261 329l4 6 4 1 4 5-5 4-4-4-4-5-4-3zM1301 353l3 6-4 2-4-8z"/>
<path d="M1071 198l4 6 4 9 4 1 4-2 4 3 4 5 4 0 4-1 4 4 3 2 4 3 4 5 4 4 4 4 4 5 4 2 4-1 4 5 4 6 4 1 4-2 4 4 4 9 4 9 4 6 4 2 4 6 3 6 4 0 4 3 4 6 4 2 4-1 4-1 4 3 4 2 4-3 4-1 4 1 4 3 4 5 4 2 4 0 4 2 4 6 3 3 4 2 4 3 4 5 4 4 4 0 4 1 4 2 4 0 4-2 4 0 4 7 4 8 4 1 4 1 4 2" fill="none" stroke="#000" stroke-width="2.5" stroke-linejoin="round"/>
<path fill="#3c82f0" stroke="#3c82f0" stroke-width=".6" d="M1071 200l4 6 4 8 4 1 4-2 4 4-5-1-4-2-4-7-4-4-4 0-4-3zM1095 221l4 0-5-5-4 0z"/>
<path fill="#448cf2" stroke="#448cf2" stroke-width=".6" d="M1091 217l4 4-5-5-4 0z"/>
<path fill="#397ced" stroke="#397ced" stroke-width=".6" d="M1099 221l4 0-5 3-4-8z"/>
<path fill="#3271e8" stroke="#3271e8" stroke-width=".6" d="M1103 221l4 4-5 10-4-11zM1110 227l4 2 4 6 4 3 4 4 4 6-4 2-4-1-4-3-4-3-4-1-4-1z"/>
<path fill="#2f6ce5" stroke="#2f6ce5" stroke-width=".6" d="M1107 225l3 2-4 14-4-6zM1138 249l4 4-5 6-4-9zM1213 315l4-4 4 0 4 1-5 3-4-6-4-1-4 3zM1284 349l4-2 4 0-5 7-4 0-4 1z"/>
<path fill="#3577eb" stroke="#3577eb" stroke-width=".6" d="M1130 248l4 1 4 0-5 1-4-2-3 2z"/>
<path fill="#2c65e0" stroke="#2c65e0" stroke-width=".6" d="M1142 253l4 6 4 2 4-3-5 15-4-6-4-3-4-5zM1209 313l4 2-5-4-4 3zM1233 320l4 1 4 0 4 3-5 6-4-5-4-2-4 0zM1280 350l4-1-5 6-4-2z"/>
<path fill="#295ed8" stroke="#295ed8" stroke-width=".6" d="M1154 258l4 4-5 14-4-3zM1205 309l4 4-5 1-4-1zM1225 312l4 2 4 6-5 3-4-3-4-5zM1245 324l4 5 3 4 4 1 4 4 4 5-4-10-4 0-4 0-4-1-4 0-4-2zM1292 347l4 8-5 4-4-5zM1304 364l4 0 4 2-5 3-4-2-4-3z"/>
<path fill="#2657d0" stroke="#2657d0" stroke-width=".6" d="M1158 262l4 9-5 6-4-1zM1197 311l4-1 4-1-5 4-3-5-4 0zM1264 343l4 3 4 0 4 2 4 2-5 3-4-5-3-6-4-6-4-3zM1300 362l4 2-5 0-4-1z"/>
<path fill="#2350c8" stroke="#2350c8" stroke-width=".6" d="M1162 271l4 9-5-3-4 0zM1193 309l4 2-4-3-4 1zM1296 355l4 7-5 1-4-4z"/>
<path fill="#2049c0" stroke="#2049c0" stroke-width=".6" d="M1166 280l4 6-5-3-4-6zM1185 300l4 3 4 6-4 0-4-2-4-4z"/>
<path fill="#1d42b8" stroke="#1d42b8" stroke-width=".6" d="M1170 286l4 2 4 6-5-1-4-3-4-7zM1181 300l4 0-4 3-4-5z"/>
<path fill="#1a3aac" stroke="#1a3aac" stroke-width=".6" d="M1178 294l3 6-4-2-4-5z"/>
<path d="M1066 200l4 3 4 0 4 4 4 7 4 2 4 0 4 0 4 8 4 11 4 6 4 1 4 1 4 3 4 3 4 1 3-2 4 2 4 9 4 5 4 3 4 6 4 3 4 1 4 0 4 6 4 7 4 3 4 5 4 5 4 4 4 2 4-1 4 0 3 5 4 1 4-3 4-3 4 1 4 6 4 5 4 3 4 0 4 2 4 5 4 2 4 0 4 1 4 0 4 0 4 3 4 6 3 6 4 5 4 2 4-1 4 0 4 5 4 4 4 1 4 3 4 2" fill="none" stroke="#000" stroke-width="2.5" stroke-linejoin="round"/>
<path fill="#3c82f0" stroke="#3c82f0" stroke-width=".6" d="M1066 202l4 2-4 9-4-5zM1082 215l4 3-5 0-4-4z"/>
<path fill="#448cf2" stroke="#448cf2" stroke-width=".6" d="M1070 204l4 1 4 4 4 6-5-1-3-1-4 1-4-1z"/>
<path fill="#397ced" stroke="#397ced" stroke-width=".6" d="M1086 218l4-1 4 0-5 12-4-5-4-6zM1114 244l4 3 4 4 4 1 3-2-4 2-4-6-4-6-4 1-4 3z"/>
<path fill="#3577eb" stroke="#3577eb" stroke-width=".6" d="M1094 217l4 8-5 7-4-3zM1110 243l4 1-5 0-4-3zM1129 250l4 1-4 4-4-3z"/>
<path fill="#3271e8" stroke="#3271e8" stroke-width=".6" d="M1098 225l4 11-5-3-4-1zM1106 242l4 1-5-2-4-6zM1133 251l4 9-4-5-4 0z"/>
<path fill="#2f6ce5" stroke="#2f6ce5" stroke-width=".6" d="M1102 236l4 6-5-7-4-2zM1137 260l4 5-4-9-4-1zM1279 356l4-1 4 1-4-1-4 1-4-2z"/>
<path fill="#2c65e0" stroke="#2c65e0" stroke-width=".6" d="M1141 265l4 4-4-10-4-3zM1208 312l4-2 4 0-4 17-4-6-4-2zM1232 325l4 1 4 5 4 2 4 0 4 1 4 0 4 1-5 6-4-1-4-1-4-5-4-1-4 2-4-4-4-2zM1275 354l4 2-4-2-4 1zM1287 356l4 5-4-8-4 2zM1303 369l4 1-5 1-4-2z"/>
<path fill="#295ed8" stroke="#295ed8" stroke-width=".6" d="M1145 269l4 5-4-7-4-8zM1204 315l4-3-4 7-4 3zM1216 310l4 7 4 5 4 2 4 1-5 4-4-3-4-4-3 2-4 3zM1260 335l4 3-5 8-4-5zM1271 349l4 5-4 1-4-1zM1299 365l4 4-5 0-4-3z"/>
<path fill="#2657d0" stroke="#2657d0" stroke-width=".6" d="M1149 274l4 4 4 0 4 0-5 8-4-5-4-5-3-9zM1193 309l4 1 3 4 4 1-4 7-4-3-4-6-4-1zM1264 338l4 5 3 6-4 5-4-4-4-4zM1291 361l4 3 4 1-5 1-4-6-3-7z"/>
<path fill="#2350c8" stroke="#2350c8" stroke-width=".6" d="M1161 278l4 7 4 6-5-3-4 1-4-3zM1189 310l4-1-5 3-4 0z"/>
<path fill="#2049c0" stroke="#2049c0" stroke-width=".6" d="M1169 291l4 3 4 5 4 5 4 4 4 2-5 2-4-6-4-5-4 0-4-7-4-6z"/>
<path d="M1062 208l4 5 4 1 4-1 3 1 4 4 4 6 4 5 4 3 4 1 4 2 4 6 4 3 4-3 4-1 4 6 4 6 4 3 4 0 4 1 4 3 4 8 3 9 4 5 4 5 4 3 4-1 4 6 4 7 4 0 4 5 4 6 4 0 4 1 4 6 4 3 4-3 4 2 4 6 4-3 3-2 4 4 4 3 4 2 4 4 4-2 4 1 4 5 4 1 4 1 4 5 4 4 4 4 4 1 4-1 4 2 4-1 4-2 3 7 4 6 4 3 4 2" fill="none" stroke="#000" stroke-width="2.5" stroke-linejoin="round"/>
<path fill="#3c82f0" stroke="#3c82f0" stroke-width=".6" d="M1062 209l4 5 4 2 4-2-5 4-4-4-4-2-4-3zM1089 230l4 3 4 1-4-2-4-1-4 6z"/>
<path fill="#397ced" stroke="#397ced" stroke-width=".6" d="M1074 214l3 1-4 9-4-6zM1109 246l4-4 4 0-5 12-4-3-4-5z"/>
<path fill="#3271e8" stroke="#3271e8" stroke-width=".6" d="M1077 215l4 5 4 5-4 11-4-5-4-7zM1097 234l4 3 4 6-5 1-4-3-3-9zM1125 253l4 3 4 0-5 7-4-3-4-4z"/>
<path fill="#3577eb" stroke="#3577eb" stroke-width=".6" d="M1085 225l4 5-4 7-4-1zM1105 243l4 3-5 0-4-2zM1117 242l4 5 4 6-5 3-4 0-4-2z"/>
<path fill="#2f6ce5" stroke="#2f6ce5" stroke-width=".6" d="M1133 256l4 2-5 7-4-2zM1235 336l4-1 4 0-5-1-3-5-4 1zM1271 356l4-1 4 2 4 0-5 4-4-5-4-2-4 0zM1298 370l4 2-4 0-4 2z"/>
<path fill="#2c65e0" stroke="#2c65e0" stroke-width=".6" d="M1137 258l4 2-5 12-4-7zM1148 277l4 5-4-3-4 0zM1200 323l4-3 4 3-5-7-4 0-4-1zM1216 325l3-1 4 4 4 2 4 3 4 3-4-6-4 3-4-4-4-2-4-1-4-6z"/>
<path fill="#2657d0" stroke="#2657d0" stroke-width=".6" d="M1141 260l4 8-5 12-4-8zM1156 288l4 2-4 0-4-7zM1188 313l4 2 4 5-5-4-4 4-4-1z"/>
<path fill="#295ed8" stroke="#295ed8" stroke-width=".6" d="M1145 268l3 9-4 2-4 1zM1152 282l4 6-4-5-4-4zM1196 320l4 3-5-8-4 1zM1208 323l4 5 4-3-5-5-4-4-4 0zM1243 335l4 5 4 1 4 2 4 4 4 5 4 4 4 0-5-2-4-2-4-2-4-1-4-2-4-4-4-4-4-5zM1283 357l4-2-5 10-4-4zM1294 367l4 3-4 4-4 3z"/>
<path fill="#2350c8" stroke="#2350c8" stroke-width=".6" d="M1160 290l4-1 4 6 4 7 4 1 4 4-5-2-4-2-4-2-3-2-4-3-4-6zM1287 355l3 6 4 6-4 10-4-4-4-8z"/>
<path fill="#2049c0" stroke="#2049c0" stroke-width=".6" d="M1180 307l4 6 4 0-5 6-4-7-4-7z"/>
<path d="M1057 209l4 3 4 2 4 4 4 6 4 7 4 5 4 1 4-6 4 1 3 9 4 3 4 2 4 5 4 3 4 2 4 0 4 4 4 3 4 2 4 7 4 8 4-1 4 0 4 4 4 7 4 6 4 3 3 2 4 2 4 2 4 7 4 7 4 1 4-4 4-1 4 1 4 0 4 0 4 4 4 6 4 1 4 2 4 4 4-3 4-1 3 5 4 5 4 4 4 4 4 2 4 1 4 2 4 2 4 0 4 2 4 5 4 4 4 8 4 4 4-3 4-2" fill="none" stroke="#000" stroke-width="2.5" stroke-linejoin="round"/>
<path fill="#3c82f0" stroke="#3c82f0" stroke-width=".6" d="M1057 211l4 3 4 2-5 3-4-3-4-3z"/>
<path fill="#3577eb" stroke="#3577eb" stroke-width=".6" d="M1065 216l4 3-5 5-4-5z"/>
<path fill="#3271e8" stroke="#3271e8" stroke-width=".6" d="M1069 219l4 7-5 4-4-6zM1077 232l4 5-5 0-4-3zM1093 233l3 9-4 5-4-10zM1100 245l4 2 4 5 4 3-4 4-4-2-4-3-4-3zM1144 281l4-1-5 6-4-1zM1223 330l4 4 4-3 4-1-5 7-4-3-4-5-4 0zM1258 352l4 2-5-6-3 1z"/>
<path fill="#2f6ce5" stroke="#2f6ce5" stroke-width=".6" d="M1073 226l4 6-5 2-4-4zM1112 255l4 2 4 1 4 3-5 8-4-2-3-4-4-4zM1148 280l4 4-5 2-4 0zM1219 329l4 1-5-1-4 4zM1235 330l3 5-4 5-4-3zM1254 350l4 2-4-3-4 5zM1262 354l4 2 4-1 4 2 4 5-5-3-4 2-4-3-4-6-4-4zM1294 375l4-1-5 0-4 1z"/>
<path fill="#397ced" stroke="#397ced" stroke-width=".6" d="M1081 237l4 1-5-1-4 0z"/>
<path fill="#448cf2" stroke="#448cf2" stroke-width=".6" d="M1085 238l4-5 4 0-5 4-4-4-4 4z"/>
<path fill="#2c65e0" stroke="#2c65e0" stroke-width=".6" d="M1096 242l4 3-4 6-4-4zM1124 261l4 3-5 9-4-4zM1140 281l4 0-5 4-4-1zM1215 328l4 1-5 4-4 2z"/>
<path fill="#295ed8" stroke="#295ed8" stroke-width=".6" d="M1128 264l4 2-5 12-4-5zM1152 284l4 7-5-4-4-1zM1187 321l4-4 4-1-5 14-4-9-3-4zM1211 321l4 7-5 7-4 2zM1250 348l4 2-4 4-4 2zM1278 362l4 4-5-5-4-2zM1290 379l4-4-5 0-4-1z"/>
<path fill="#2350c8" stroke="#2350c8" stroke-width=".6" d="M1132 266l4 8 4 7-5 3-4-2-4-4zM1156 291l4 7 4 2 3 2-4 3-4-5-4-7-4-6zM1175 306l4 7 4 8-4-2-4-6-4-4zM1242 340l4 4 4 4-4 8-4-5-4-7zM1282 366l4 8 4 5-5-5-4-5-4-8z"/>
<path fill="#2657d0" stroke="#2657d0" stroke-width=".6" d="M1167 302l4 2 4 2-4 3-4-1-4-3zM1183 321l4 0-4-4-4 2zM1195 316l4 2 4 0 4-1 4 4-5 16-4-2-4-4-4 0-4-1zM1238 335l4 5-4 4-4-4z"/>
<path d="M1052 213l4 3 4 3 4 5 4 6 4 4 4 3 4 0 4-4 4 4 4 10 4 4 4 3 4 3 4 2 4 4 3 4 4 2 4 4 4 5 4 4 4 2 4 1 4 1 4 0 4 1 4 6 4 7 4 5 4 3 4 1 4 4 4 6 4-2 3 4 4 9 4 1 4 0 4 4 4 2 4-2 4-2 4-4 4 0 4 5 4 3 4 3 4 4 4 7 4 5 4-2 4-5 3-1 4 4 4 6 4 3 4-2 4 2 4 8 4 5 4 1 4-1" fill="none" stroke="#000" stroke-width="2.5" stroke-linejoin="round"/>
<path fill="#397ced" stroke="#397ced" stroke-width=".6" d="M1052 214l4 4-4 4-4-1zM1072 235l4 4-5-1-4-6z"/>
<path fill="#3577eb" stroke="#3577eb" stroke-width=".6" d="M1056 218l4 3-4 6-4-5zM1068 231l4 4-5-3-4 0z"/>
<path fill="#3271e8" stroke="#3271e8" stroke-width=".6" d="M1060 221l4 4 4 6-5 1-3 1-4-6zM1139 286l4 1-5-1-4 2zM1226 335l4 3-5-3-4 7z"/>
<path fill="#3c82f0" stroke="#3c82f0" stroke-width=".6" d="M1076 239l4 0-5 3-4-4zM1084 235l4 4-5 1-4 0z"/>
<path fill="#448cf2" stroke="#448cf2" stroke-width=".6" d="M1080 239l4-4-5 5-4 2z"/>
<path fill="#2f6ce5" stroke="#2f6ce5" stroke-width=".6" d="M1088 239l4 9-5 0-4-8zM1096 252l4 3 4 3 4 2 4 4 3 4 4 3-4-1-4-3-4-3-4 0-4-3-4-5-4-2zM1135 285l4 1-5 2-3 4zM1143 287l4 0-5 4-4-5zM1218 331l4-1 4 5-5 7-4 1-4-3zM1230 338l4 3-5-6-4 0zM1269 362l4-2-4 8-4 0z"/>
<path fill="#2c65e0" stroke="#2c65e0" stroke-width=".6" d="M1092 248l4 4-5 2-4-6zM1119 271l4 3-4-3-4-1zM1214 334l4-3-5 9-4 3zM1250 355l4-5 3-1-4 15-4-2-4-1zM1265 359l4 3-4 6-4 2zM1273 360l4 2-4 8-4-2zM1289 376l4-1-5 13-4-1z"/>
<path fill="#2657d0" stroke="#2657d0" stroke-width=".6" d="M1123 274l4 5-4-3-4-5zM1131 284l4 1-4 7-4-5zM1171 310l4 5-5 0-4 2zM1202 337l4 1 4-2-5 4-3-7-4 0zM1234 341l4 5-5-2-4-9zM1285 375l4 1-5 11-4-7z"/>
<path fill="#2350c8" stroke="#2350c8" stroke-width=".6" d="M1127 279l4 5-4 3-4-11zM1151 288l4 6-5 7-4-4zM1163 306l4 4 4 0-5 7-4-4-4-6zM1186 322l4 9-4-9-4-3zM1198 332l4 5-4-4-4 3zM1242 353l4 5-5-3-4-5zM1277 362l4 8 4 5-5 5-4-7-3-3z"/>
<path fill="#295ed8" stroke="#295ed8" stroke-width=".6" d="M1147 287l4 1-5 9-4-6zM1175 315l4 5 4-2 3 4-4-3-4 2-4-4-4-2zM1210 336l4-2-5 9-4-3zM1246 358l4-3-5 6-4-6zM1257 349l4 4 4 6-4 11-4 0-4-6z"/>
<path fill="#2049c0" stroke="#2049c0" stroke-width=".6" d="M1155 294l4 7 4 5-5 1-4-4-4-2zM1194 332l4 0-4 4-4-4zM1238 346l4 7-5-3-4-6z"/>
<path fill="#1d42b8" stroke="#1d42b8" stroke-width=".6" d="M1190 331l4 1-4 0-4-10z"/>
<path d="M1048 221l4 1 4 5 4 6 3-1 4 0 4 6 4 4 4-2 4 0 4 8 4 6 4 2 4 5 4 3 4 0 4 3 4 3 4 1 4 5 4 11 4 5 3-4 4-2 4 5 4 6 4 4 4 2 4 4 4 6 4 4 4-2 4 2 4 4 4-2 4 3 4 10 4 4 4-3 4 0 3 7 4 3 4-3 4 3 4-1 4-7 4 0 4 9 4 6 4 5 4 6 4 1 4 2 4 6 4 0 4-2 4 0 4 2 3 3 4 7 4 7 4 1" fill="none" stroke="#000" stroke-width="2.5" stroke-linejoin="round"/>
<path fill="#3577eb" stroke="#3577eb" stroke-width=".6" d="M1048 222l4 1-5 6-4-8zM1079 241l4 0-4 10-4-6z"/>
<path fill="#2f6ce5" stroke="#2f6ce5" stroke-width=".6" d="M1052 223l4 6 4 6-5 3-4-4-4-5zM1083 241l4 8 4 6-5 0-4 0-3-4zM1095 257l4 6 4 2 4 1 4 2 4 3-5 6-4 0-4-4-4-6-4-7-4-4zM1131 293l3-4-4 1-4 0z"/>
<path fill="#3271e8" stroke="#3271e8" stroke-width=".6" d="M1060 235l3-1-4 8-4-4zM1091 255l4 2-5-1-4-1zM1134 289l4-2-4 4-4-1z"/>
<path fill="#397ced" stroke="#397ced" stroke-width=".6" d="M1063 234l4-1-4 10-4-1z"/>
<path fill="#3c82f0" stroke="#3c82f0" stroke-width=".6" d="M1067 233l4 6-4 4-4 0zM1075 243l4-2-4 4-4-3z"/>
<path fill="#448cf2" stroke="#448cf2" stroke-width=".6" d="M1071 239l4 4-4-1-4 1z"/>
<path fill="#2c65e0" stroke="#2c65e0" stroke-width=".6" d="M1115 271l4 1-5 7-4-2zM1138 287l4 5-4 3-4-4zM1209 344l4-2 4 2 4-1 4-7-4 15-4-6-4-1-4 1-4-1zM1261 372l4-3 4 0-5 3-4-2-4 2zM1284 388l4 1-4-7-4 1z"/>
<path fill="#295ed8" stroke="#295ed8" stroke-width=".6" d="M1119 272l4 6-5 6-4-5zM1127 289l4 4-5-3-4-2zM1170 316l4 2 4 5-5 1-4 0-4 0zM1202 334l3 7 4 3-4 0-4-1-4 2zM1225 336l4 1-5 18-3-4zM1257 371l4 1-5 0-4 0zM1280 381l4 7-4-5-4 1z"/>
<path fill="#2657d0" stroke="#2657d0" stroke-width=".6" d="M1123 278l4 11-5-1-4-4zM1142 292l4 6-4 3-4-6zM1166 318l4-2-5 8-4-2zM1178 323l4-3-5 7-4-3zM1198 334l4 0-5 11-4-2zM1229 337l4 8-5 9-4 1zM1237 351l4 6 4 5 4 1-5 0-4-5-4 1-4-3zM1269 369l4 2-5 10-4-9z"/>
<path fill="#2049c0" stroke="#2049c0" stroke-width=".6" d="M1146 298l4 4 4 2-4 8-4-4-4-7zM1158 308l4 7 4 3-5 4-4-2-4-4zM1182 320l4 3-5 10-4-6zM1273 371l3 3-4 10-4-3z"/>
<path fill="#1d42b8" stroke="#1d42b8" stroke-width=".6" d="M1154 304l4 4-5 8-3-4zM1186 323l4 10 4 4-5 3-4-1-4-6z"/>
<path fill="#2350c8" stroke="#2350c8" stroke-width=".6" d="M1194 337l4-3-5 9-4-3zM1233 345l4 6-5 5-4-2zM1249 363l4 2 4 6-5 1-4-2-4-7zM1276 374l4 7-4 3-4 0z"/>
<path d="M1043 221l4 8 4 5 4 4 4 4 4 1 4 0 4-1 4 3 4 6 3 4 4 0 4 1 4 4 4 7 4 6 4 4 4 0 4 2 4 5 4 4 4 2 4 0 4 1 4 4 4 6 4 7 4 4 3 4 4 4 4 2 4 2 4 0 4 0 4 3 4 6 4 6 4 1 4 3 4 2 4-2 4 1 4 1 4-1 4 1 4 6 3 4 4-1 4 2 4 3 4-1 4 5 4 7 4 2 4 0 4-2 4 2 4 9 4 3 4 0 4-1 4-1" fill="none" stroke="#000" stroke-width="2.5" stroke-linejoin="round"/>
<path fill="#3271e8" stroke="#3271e8" stroke-width=".6" d="M1043 222l4 8-5 2-4-3zM1055 239l4 4-5 8-4-8zM1075 246l4 6-5 3-4-6z"/>
<path fill="#2f6ce5" stroke="#2f6ce5" stroke-width=".6" d="M1047 230l4 5 4 4-5 4-4-8-4-3zM1082 256l4 1 4 0-4 11-4-5-4-2zM1098 268l4 7 4 3-5-3-3-4-4 3zM1256 373l4-2-5 2-4 3z"/>
<path fill="#3577eb" stroke="#3577eb" stroke-width=".6" d="M1059 243l4 2-5 7-4-1z"/>
<path fill="#3c82f0" stroke="#3c82f0" stroke-width=".6" d="M1063 245l4-1-5 3-4 5z"/>
<path fill="#448cf2" stroke="#448cf2" stroke-width=".6" d="M1067 244l4-1-5 3-4 1z"/>
<path fill="#397ced" stroke="#397ced" stroke-width=".6" d="M1071 243l4 3-5 3-4-3z"/>
<path fill="#2c65e0" stroke="#2c65e0" stroke-width=".6" d="M1079 252l3 4-4 5-4-6zM1090 257l4 5 4 6-4 6-4 0-4-6zM1106 278l4 1-5 1-4-5zM1122 290l4 1 4 1 4 0-5 11-4-4-4-5-4-5zM1201 344l4 1 4 1 4-1-5-1-4 0-4 1-4 0zM1252 373l4 0-5 3-4-2zM1260 371l4 3-5 1-4-2zM1280 384l4-1-5 8-4-1z"/>
<path fill="#295ed8" stroke="#295ed8" stroke-width=".6" d="M1110 279l4 2 4 4 4 5-5-1-4 0-4-3-4-6zM1134 292l4 4-5 9-4-2zM1197 346l4-2-5 1-4 2zM1213 345l4 1-5 4-4-6zM1248 372l4 1-5 1-4-3zM1276 385l4-1-5 6-4-1z"/>
<path fill="#2657d0" stroke="#2657d0" stroke-width=".6" d="M1138 296l4 6-5 4-4-1zM1165 325l4 0 4 0-4 8-4-1-4-2zM1193 344l4 2-5 1-4 2zM1217 346l4 6 3 4-4-2-4 0-4-4zM1228 356l4 1 4 3 4 0 4 4 4 8-5-1-3 1-4-3-4-4-4-3-4-4z"/>
<path fill="#2350c8" stroke="#2350c8" stroke-width=".6" d="M1142 302l4 7-5-1-4-2zM1157 321l4 2 4 2-4 5-4-3-4-6zM1173 325l4 3-5 9-3-4zM1189 342l4 2-5 5-4-2zM1224 356l4 0-4 2-4-4zM1264 374l4 8-5 1-4-8zM1272 385l4 0-5 4-4-2z"/>
<path fill="#1d42b8" stroke="#1d42b8" stroke-width=".6" d="M1146 309l4 4 3 5 4 3-4 0-4-5-4-3-4-5zM1177 328l4 6-5 6-4-3zM1185 340l4 2-5 5-4-4z"/>
<path fill="#1a3aac" stroke="#1a3aac" stroke-width=".6" d="M1181 334l4 6-5 3-4-3z"/>
<path fill="#2049c0" stroke="#2049c0" stroke-width=".6" d="M1268 382l4 3-5 2-4-4z"/>
<path d="M1038 229l4 3 4 3 4 8 4 8 4 1 4-5 4-1 4 3 4 6 4 6 4 2 4 5 4 6 4 0 4-3 3 4 4 5 4 6 4 3 4 0 4 5 4 5 4 4 4 2 4 1 4 2 4 5 4 3 4 5 4 6 4 3 4 2 4 1 3 4 4 3 4 3 4 4 4 2 4-2 4-2 4 0 4-1 4 0 4 6 4 4 4 0 4 4 4 4 4 3 4 4 4 3 3-1 4 3 4 2 4-3 4 2 4 8 4 4 4 2 4 1 4 1" fill="none" stroke="#000" stroke-width="2.5" stroke-linejoin="round"/>
<path fill="#2f6ce5" stroke="#2f6ce5" stroke-width=".6" d="M1038 230l4 3 4 3 4 8-4 4-4-2-4-7-4-4zM1070 250l4 7-5 4-4-4zM1098 273l3 3-4 8-4-4zM1113 290l4 0-4 5-4-1zM1247 375l4 2 4-3-4 3-4 0-4-2z"/>
<path fill="#397ced" stroke="#397ced" stroke-width=".6" d="M1050 244l4 8-5-9-3 5z"/>
<path fill="#3c82f0" stroke="#3c82f0" stroke-width=".6" d="M1054 252l4 1 4-4 4-2-5 6-4-3-4-6-4-1z"/>
<path fill="#3577eb" stroke="#3577eb" stroke-width=".6" d="M1066 247l4 3-5 7-4-4z"/>
<path fill="#2c65e0" stroke="#2c65e0" stroke-width=".6" d="M1074 257l4 6 4 1-5 4-4-5-4-2zM1090 276l4 0-5 2-4-1zM1117 290l4 5-4 2-4-2zM1196 346l4 0-5 4-4-1zM1243 373l4 2-4 0-4 1zM1255 374l4 3-4 0-4 0z"/>
<path fill="#295ed8" stroke="#295ed8" stroke-width=".6" d="M1082 264l4 5 4 7-5 1-4-3-4-6zM1101 276l4 6-4 6-4-4zM1109 287l4 3-4 4-4-2zM1121 295l4 5-5 0-3-3zM1133 307l4 0-5 1-4 1zM1157 328l4 3 4 2-5-3-4-1-4 0zM1192 349l4-3-5 3-3 4zM1200 346l4-1-5 12-4-7zM1216 355l4 1-5 4-4 0zM1240 374l3-1-4 3-4 0zM1275 391l4 1-5 5-4-2z"/>
<path fill="#3271e8" stroke="#3271e8" stroke-width=".6" d="M1094 276l4-3-5 7-4-2z"/>
<path fill="#2657d0" stroke="#2657d0" stroke-width=".6" d="M1105 282l4 5-4 5-4-4zM1125 300l4 4 4 3-5 2-4-4-4-5zM1137 307l4 2-5 1-4-2zM1165 333l4 1-5-1-4-3zM1188 350l4-1-4 4-4-2zM1212 352l4 3-5 5-4 1zM1220 356l4 4 4 3 4 3 4 5-5-2-4-2-4 2-4-5-4-4zM1271 390l4 1-5 4-4 0z"/>
<path fill="#1a3aac" stroke="#1a3aac" stroke-width=".6" d="M1141 309l4 5-5 9-4-13z"/>
<path fill="#17339d" stroke="#17339d" stroke-width=".6" d="M1145 314l4 3-5 15-4-9z"/>
<path fill="#1d42b8" stroke="#1d42b8" stroke-width=".6" d="M1149 317l4 5-5 10-4 0zM1263 384l4 5-5 3-3-8z"/>
<path fill="#2350c8" stroke="#2350c8" stroke-width=".6" d="M1153 322l4 6-5 1-4 3zM1169 334l3 4-4-1-4-4zM1184 348l4 2-4 1-4-6zM1204 345l4 0 4 7-5 9-4 2-4-6zM1236 371l4 3-5 2-4-7zM1259 377l4 7-4 0-4-7zM1267 389l4 1-5 5-4-3z"/>
<path fill="#2049c0" stroke="#2049c0" stroke-width=".6" d="M1172 338l4 4 4 2 4 4-4-3-4-2-4-2-4-4z"/>
<path d="M1034 235l4 4 4 7 4 2 3-5 4 1 4 6 4 3 4 4 4 4 4 2 4 5 4 6 4 3 4 1 4 2 4 4 4 4 4 4 4 2 4 1 4 2 3 3 4 5 4 4 4-1 4 2 4 13 4 9 4 0 4-3 4 0 4 1 4 3 4 4 4 4 4 2 4 2 4 6 4 2 3-4 4 1 4 7 4 6 4-2 4-1 4 0 4 4 4 5 4-2 4 2 4 7 4 0 4-1 4 2 4 0 4 0 4 7 3 8 4 3 4 0 4 2" fill="none" stroke="#000" stroke-width="2.7" stroke-linejoin="round"/>
<polyline points="464.7,829.6 665.4,664.4 906,803.5" fill="none" stroke="#d6d6d6" stroke-width="1.2"/>
<polyline points="464.7,798.1 665.4,632.9 906,772" fill="none" stroke="#d6d6d6" stroke-width="1.2"/>
<polyline points="464.7,766.6 665.4,601.4 906,740.5" fill="none" stroke="#d6d6d6" stroke-width="1.2"/>
<polyline points="464.7,735.1 665.4,569.9 906,709" fill="none" stroke="#d6d6d6" stroke-width="1.2"/>
<polyline points="464.7,703.6 665.4,538.4 906,677.5" fill="none" stroke="#d6d6d6" stroke-width="1.2"/>
<line x1="531.6" y1="774.5" x2="531.6" y2="646.5" stroke="#d6d6d6" stroke-width="1.2"/>
<line x1="531.6" y1="774.5" x2="772.2" y2="913.6" stroke="#d6d6d6" stroke-width="1.2"/>
<line x1="598.5" y1="719.5" x2="598.5" y2="591.5" stroke="#d6d6d6" stroke-width="1.2"/>
<line x1="598.5" y1="719.5" x2="839.1" y2="858.6" stroke="#d6d6d6" stroke-width="1.2"/>
<line x1="695.5" y1="681.8" x2="695.5" y2="553.8" stroke="#d6d6d6" stroke-width="1.2"/>
<line x1="695.5" y1="681.8" x2="494.8" y2="847" stroke="#d6d6d6" stroke-width="1.2"/>
<line x1="740.6" y1="707.9" x2="740.6" y2="579.9" stroke="#d6d6d6" stroke-width="1.2"/>
<line x1="740.6" y1="707.9" x2="539.9" y2="873.1" stroke="#d6d6d6" stroke-width="1.2"/>
<line x1="785.7" y1="733.9" x2="785.7" y2="605.9" stroke="#d6d6d6" stroke-width="1.2"/>
<line x1="785.7" y1="733.9" x2="585" y2="899.1" stroke="#d6d6d6" stroke-width="1.2"/>
<line x1="830.8" y1="760" x2="830.8" y2="632" stroke="#d6d6d6" stroke-width="1.2"/>
<line x1="830.8" y1="760" x2="630.1" y2="925.2" stroke="#d6d6d6" stroke-width="1.2"/>
<line x1="875.9" y1="786.1" x2="875.9" y2="658.1" stroke="#d6d6d6" stroke-width="1.2"/>
<line x1="875.9" y1="786.1" x2="675.2" y2="951.3" stroke="#d6d6d6" stroke-width="1.2"/>
<line x1="665.4" y1="664.4" x2="665.4" y2="536.4" stroke="#d6d6d6" stroke-width="1.2"/>
<polyline points="464.7,701.6 464.7,829.6 705.3,968.7 906,803.5" fill="none" stroke="#2a2a2a" stroke-width="1.6"/>
<line x1="494.8" y1="847" x2="485.7" y2="854.4" stroke="#2a2a2a" stroke-width="1.6"/>
<line x1="539.9" y1="873.1" x2="530.9" y2="880.5" stroke="#2a2a2a" stroke-width="1.6"/>
<line x1="585" y1="899.1" x2="576" y2="906.6" stroke="#2a2a2a" stroke-width="1.6"/>
<line x1="630.1" y1="925.2" x2="621.1" y2="932.7" stroke="#2a2a2a" stroke-width="1.6"/>
<line x1="675.2" y1="951.3" x2="666.2" y2="958.7" stroke="#2a2a2a" stroke-width="1.6"/>
<line x1="705.3" y1="968.7" x2="713.7" y2="973.6" stroke="#2a2a2a" stroke-width="1.6"/>
<line x1="772.2" y1="913.6" x2="780.6" y2="918.5" stroke="#2a2a2a" stroke-width="1.6"/>
<line x1="839.1" y1="858.6" x2="847.5" y2="863.4" stroke="#2a2a2a" stroke-width="1.6"/>
<line x1="906" y1="803.5" x2="914.4" y2="808.4" stroke="#2a2a2a" stroke-width="1.6"/>
<line x1="464.7" y1="829.6" x2="457.5" y2="825.4" stroke="#2a2a2a" stroke-width="1.6"/>
<line x1="464.7" y1="798.1" x2="457.5" y2="793.9" stroke="#2a2a2a" stroke-width="1.6"/>
<line x1="464.7" y1="766.6" x2="457.5" y2="762.4" stroke="#2a2a2a" stroke-width="1.6"/>
<line x1="464.7" y1="735.1" x2="457.5" y2="730.9" stroke="#2a2a2a" stroke-width="1.6"/>
<line x1="464.7" y1="703.6" x2="457.5" y2="699.4" stroke="#2a2a2a" stroke-width="1.6"/>
<path d="M665 604l5 3 4 2 5 7 4 2 4-5 5 7 4 4 4 3 5-3 4 11 5-3 4 0 4 7 5 2 4 8 4 2 5 4 4 4 5 3 4 4 4 1 5 7 4 4 4 3 5 3 4 6 5 4 4 1 4-1 5 3 4 1 4-4 5 5 4 5 5 3 4-1 4 7 5-2 4 4 4 1 5 7 4-1 5 8 4-1 4 0 5 4 4 7 4-3 5 3 4 3 5 3 4 2 4 4 5 2 4 5" fill="none" stroke="#000" stroke-width="2.5" stroke-linejoin="round"/>
<path fill="#3c82f0" stroke="#3c82f0" stroke-width=".6" d="M665 605l5 3-5 3-4-2zM696 625l4 3-4-2-5 3zM705 625l4 11 5-3-5 1-5-4-4 2z"/>
<path fill="#397ced" stroke="#397ced" stroke-width=".6" d="M670 608l4 2-5 0-4 1zM679 617l4 2-5 2-4-1zM692 621l4 4-5 4-4-8zM718 633l4 7-4 0-5-2z"/>
<path fill="#3577eb" stroke="#3577eb" stroke-width=".6" d="M674 610l5 7-5 3-5-10zM722 640l5 2-5 2-4-4z"/>
<path fill="#448cf2" stroke="#448cf2" stroke-width=".6" d="M683 619l4-5 5 7-5 0-4-1-5 1zM700 628l5-3-5 7-4-6zM714 633l4 0-5 5-4-4z"/>
<path fill="#2f6ce5" stroke="#2f6ce5" stroke-width=".6" d="M727 642l4 8 4 2 5 5-5 2-4-9-5 1-4-7zM797 698l4 2-5-2-4 5zM836 716l4 1 5 7-5-1-4-2-5 0zM858 731l4 0 5 3-5 2-4-3-5 2zM871 741l4-3-4 1-5-1zM880 741l4 3 5 3-5 2-5-5-4 0z"/>
<path fill="#2c65e0" stroke="#2c65e0" stroke-width=".6" d="M740 657l4 3 5 3-5 4-5-7-4-1zM788 696l4-1 5 3-5 5-4-7-5-1zM810 700l4 5-5 3-4-9zM819 709l4-2 4 7 5-2 4 4-5 5-4-3-4-1-5-6-4-2zM845 724l4-1 5 8 4 0-5 4-4-5-5-6-4-1zM867 734l4 7-5-3-4-2zM889 747l4 2 4 5-4-1-5-3-4-1z"/>
<path fill="#295ed8" stroke="#295ed8" stroke-width=".6" d="M749 663l4 4 4 2 5 6 4 4 4 3-4-3-5-1-4-2-4-1-5-2-4-6zM814 705l5 4-5 0-5-1zM897 754l5 1-5 3-4-5z"/>
<path fill="#2657d0" stroke="#2657d0" stroke-width=".6" d="M770 682l5 3-5 1-4-7zM784 695l4 1-5-1-4 0zM902 755l4 5-5 2-4-4z"/>
<path fill="#2350c8" stroke="#2350c8" stroke-width=".6" d="M775 685l4 6 5 4-5 0-5-5-4-4z"/>
<path fill="#3271e8" stroke="#3271e8" stroke-width=".6" d="M801 700l4-5 5 5-5-1-4 1-5-2zM875 738l5 3-5 3-4-5z"/>
<path d="M661 609l4 2 4-1 5 10 4 1 5-1 4 1 4 8 5-3 4 6 4-2 5 4 4 4 5 2 4 4 4 7 5-1 4 9 4 1 5 7 4 6 5 2 4 1 4 2 5 1 4 7 4 4 5 5 4 0 5 1 4 7 4-5 5 2 4-1 4 9 5 1 4 2 5 6 4 1 4 3 5 0 4 2 4 1 5 6 4 5 5-2 4 3 4 2 5 1 4 5 4 0 5 5 4 1 5 3 4 5 4 4" fill="none" stroke="#000" stroke-width="2.5" stroke-linejoin="round"/>
<path fill="#3c82f0" stroke="#3c82f0" stroke-width=".6" d="M661 610l4 3-5-1-4 2zM678 622l5-1 4 2 4 7 5-3-5 8-4-4-5-1-4-4-4 0zM700 633l4-2 5 4 4 4 5 2-5 5-4-6-5 4-4-6-5-5z"/>
<path fill="#397ced" stroke="#397ced" stroke-width=".6" d="M665 613l4-1-4 6-5-6zM674 621l4 1-4 4-5-5z"/>
<path fill="#3577eb" stroke="#3577eb" stroke-width=".6" d="M669 612l5 9-5 0-4-3zM718 641l4 5-5 5-4-5z"/>
<path fill="#448cf2" stroke="#448cf2" stroke-width=".6" d="M696 627l4 6-5 0-4 2z"/>
<path fill="#3271e8" stroke="#3271e8" stroke-width=".6" d="M722 646l4 7 5-2-5 7-4-9-5 2zM796 699l5 2-5 5-4-2zM871 740l4 6 4-1 5 6-5-6-4 4-5-3-4 0z"/>
<path fill="#2c65e0" stroke="#2c65e0" stroke-width=".6" d="M731 651l4 10 4 0 5 7 4 6 5 2 4 2 4 1 5 2-5 5-4-2-5-7-4-3-4-1-5-5-4-1-5-2-4-7zM783 696l5 1 4 7-5 0-4-6-4-3zM805 701l4 9 5 0 4 3 5 5 4 1 4 3 5 0-5 5-4 0-5-8-4 0-4-2-5-8-4 2-5-4zM844 725l5 6-5 3-4-1zM888 751l5 3-5 4-4-6z"/>
<path fill="#295ed8" stroke="#295ed8" stroke-width=".6" d="M766 681l4 6-5 1-4-2zM774 691l5 5 4 0-4-1-5 1-4-3zM893 754l4 6-5 1-4-3z"/>
<path fill="#2657d0" stroke="#2657d0" stroke-width=".6" d="M770 687l4 4-4 2-5-5zM897 760l4 3-4 2-5-4z"/>
<path fill="#2f6ce5" stroke="#2f6ce5" stroke-width=".6" d="M792 704l4-5-4 5-5 0zM801 701l4 0-5 6-4-1zM836 722l4 3 4 0-4 8-5-7-4 1zM849 731l4 5 5-1 4 2 4 2 5 1-5 6-4-4-5-2-4-3-4-4-5 1zM884 751l4 0-4 1-5-7z"/>
<path d="M656 614l4-2 5 6 4 3 5 5 4 0 4 4 5 1 4 4 4-2 5 5 4 6 5-4 4 6 4 5 5-2 4 9 4 7 5 2 4 1 5 5 4 1 4 3 5 7 4 2 4 2 5 5 4 3 5-1 4 3 4 6 5 0 4 2 4 1 5 4 4-2 5 8 4 2 4 0 5 8 4 0 4-1 5 7 4 1 5-1 4 4 4 3 5 2 4 4 4 0 5 3 4-4 5 7 4 6 4 3 5 4" fill="none" stroke="#000" stroke-width="2.5" stroke-linejoin="round"/>
<path fill="#3c82f0" stroke="#3c82f0" stroke-width=".6" d="M656 615l4-1-4 1-5-2zM674 628l4-1 4 4 5 1 4 4-5-2-4 1-4-2-5-6-4 0zM695 634l5 5-5 1-4-3zM704 645l5-4 4 6-5 1-4-3-4-1z"/>
<path fill="#397ced" stroke="#397ced" stroke-width=".6" d="M660 614l5 6-5 3-4-8zM669 622l5 6-5-1-4-4zM700 639l4 6-4-1-5-4z"/>
<path fill="#3577eb" stroke="#3577eb" stroke-width=".6" d="M665 620l4 2-4 1-5 0zM713 647l4 5-4-1-5-3zM870 747l5 3 4-3-5 5-4-1-4-3z"/>
<path fill="#448cf2" stroke="#448cf2" stroke-width=".6" d="M691 636l4-2-4 3-5-3z"/>
<path fill="#3271e8" stroke="#3271e8" stroke-width=".6" d="M717 652l5-2-5 8-4-7zM866 747l4 0-4 1-5 3zM879 747l5 6-5 0-5-1z"/>
<path fill="#2f6ce5" stroke="#2f6ce5" stroke-width=".6" d="M722 650l4 9-5 3-4-4zM735 668l4 2 5 4-5 2-4-5-5 0zM787 705l5 1 4 1 4 2 5 3 4-1 5 7-5-2-4-1-5-1-4-5-5 0-4-6-4 4zM818 721l4 0 5 7 4 0 4-1-4 7-5-10-4 2-4-5-5-1zM840 734l4 1 5-1 4 4 4 3 5 2 4 4-5 4-4-8-4 4-5-6-4-2-4-5-5 0z"/>
<path fill="#2c65e0" stroke="#2c65e0" stroke-width=".6" d="M726 659l4 7 5 2-5 3-4-6-5-3zM744 674l4 1 4 3-4 9-5-8-4-3zM757 685l4 2 4 2 5 5 4 3 5-1 4 3 4 6-4 2-5-6-4-4-4-2-5 1-4-3-5-3-4-2zM814 718l4 3-5-1-4-4zM835 727l5 7-5 0-4 0z"/>
<path fill="#295ed8" stroke="#295ed8" stroke-width=".6" d="M752 678l5 7-5 3-4-1zM884 753l4 6 4 3 5 4-5 3-4-3-5-5-4-8z"/>
<path d="M651 613l5 2 4 8 5 0 4 4 4 0 5 6 4 2 4-1 5 3 4 3 5 4 4 1 4 3 5 3 4 7 4 4 5 3 4 6 5 0 4 5 4 3 5 8 4 1 4 2 5 3 4 3 5-1 4 2 4 4 5 6 4-4 4 6 5 0 4 5 5 1 4 1 4 4 5 1 4 5 4-2 5 10 4 0 5 0 4 5 4 2 5 6 4-4 4 8 5-3 4 3 4 1 5 1 4 8 5 5 4 3" fill="none" stroke="#000" stroke-width="2.5" stroke-linejoin="round"/>
<path fill="#397ced" stroke="#397ced" stroke-width=".6" d="M651 614l5 2-5 6-4-1zM665 624l4 4 4 1 5 5-5 1-4 1-5-3-4-3zM704 646l4 3-4 7-5-7z"/>
<path fill="#3577eb" stroke="#3577eb" stroke-width=".6" d="M656 616l4 8 5 0-5 6-5-1-4-7zM708 649l5 4-5 2-4 1z"/>
<path fill="#3c82f0" stroke="#3c82f0" stroke-width=".6" d="M678 634l4 2 4-1 5 4 4 3 5 3 4 1-5 3-4-3-5-3-4 0-4-3-5-1-4-4z"/>
<path fill="#3271e8" stroke="#3271e8" stroke-width=".6" d="M713 653l4 6-5 1-4-5zM800 715l5 1 4 2-5 2-4-5-5 2zM853 748l4-4 4 8 5-2 4 2 4 1-4 4-5 0-4-6-4 1-5-9-4 5z"/>
<path fill="#2f6ce5" stroke="#2f6ce5" stroke-width=".6" d="M717 659l4 4-4 2-5-5zM726 666l4 6 5 0 4 5-5 4-4-5-5-4-4-3zM752 689l4 2 5 3 4 4 5-2 4 2-5-1-4-1-5-2-4-4-4 2-5-4zM783 708l4-4 4 6 5 0 4 5-5 2-4 1-4-9-5 0-4-2zM809 718l4 3 5 1 4 5 4-2 5 10 4 0 5 0 4 5 4 3 5 5-5 0-4-1-5-9-4 3-5-6-4-3-4-1-5-2-4-5-4-1-5-3zM874 753l5 1-5 7-4-4z"/>
<path fill="#2c65e0" stroke="#2c65e0" stroke-width=".6" d="M721 663l5 3-5 3-4-4zM739 677l4 4 5 7 4 1-5-1-4-4-4-2-5-1zM774 698l4 4-4 3-5-8zM879 754l4 9 5 4 4 3-5-3-4-1-4-2-5-3z"/>
<path fill="#295ed8" stroke="#295ed8" stroke-width=".6" d="M778 702l5 6-5-1-4-2z"/>
<path d="M647 621l4 1 4 7 5 1 4 3 5 3 4-1 4 4 5 1 4 3 4 0 5 3 4 3 5 7 4-1 4 5 5 5 4 4 4 3 5 4 4 5 5 1 4 2 4 4 5 4 4-2 4 4 5 2 4 1 5 8 4 2 4 2 5 0 4 9 4-1 5-2 4 5 5 3 4 1 4 5 5 2 4 1 4 3 5 6 4-3 5 9 4 1 4-5 5 9 4-1 4 6 5 0 4 4 5 3 4 2 4 1" fill="none" stroke="#000" stroke-width="2.5" stroke-linejoin="round"/>
<path fill="#3577eb" stroke="#3577eb" stroke-width=".6" d="M647 622l4 1-5 5-4-1zM660 631l4 4 5 3 4-2-5 8-4-2-4-5-5-1zM699 650l5 8 4-1 4 4-4 3-5-5-4 3-4-7zM756 691l4 5 5 1 4 1-4-8-5 1-4 5-5-1z"/>
<path fill="#3271e8" stroke="#3271e8" stroke-width=".6" d="M651 623l4 7 5 1-5 5-4-1-5-7zM752 693l4-2-5 4-4 3zM795 719l5-3 4 5-4 3-5-1-4-3zM848 749l4-5-4 9-5-4zM861 753l4 5-4 0-5-1z"/>
<path fill="#397ced" stroke="#397ced" stroke-width=".6" d="M673 636l4 4 5 1 4 4 4 0-4 3-5 2-4-3-4 0-5-3zM695 647l4 3-4 5-5-3z"/>
<path fill="#3c82f0" stroke="#3c82f0" stroke-width=".6" d="M690 645l5 2-5 5-4-4z"/>
<path fill="#2f6ce5" stroke="#2f6ce5" stroke-width=".6" d="M712 661l5 5-5 4-4-6zM725 674l5 3 4 6 5 1 4 1 4 4 5 4-5 5-4-8-5 1-4-4-4-6-5 2-4-5zM769 698l5 8-5-6-4-10zM804 721l5 3-5 5-4-5zM826 733l4 3 5 6 4-2 5 9 4 0-5 0-4-2-4-1-5-3-4-1-5-1zM852 744l5 9 4 0-5 4-4 1-4-5zM865 758l5 1-5 6-4-7z"/>
<path fill="#2c65e0" stroke="#2c65e0" stroke-width=".6" d="M717 666l4 4 4 4-4 4-5-3-4-5zM778 708l4 2 5 0-5 4-4-4-5-5zM791 719l4 0-4 1-5 0zM809 724l4 1 4 5 5 3 4 0-5 8-4-4-4-2-5-3-4-3zM870 759l4 3 5 3 4 2 4 2-4 8-5-3-4-4-4-3-5-2z"/>
<path fill="#295ed8" stroke="#295ed8" stroke-width=".6" d="M774 706l4 2-5-3-4-5zM787 710l4 9-5 1-4-6z"/>
<path d="M642 627l4 1 5 7 4 1 5 1 4 5 4 2 5 3 4 0 4 3 5-2 4 4 5 3 4 7 4-3 5 5 4 6 4 5 5 3 4 5 5-2 4 6 4 4 5-1 4 8 4-3 5 1 4-5 5-1 4 10 4 5 5 5 4 4 4 6 5 0 4 3 5 1 4 5 4 3 5 3 4 2 4 4 5 1 4 1 5 3 4 1 4 2 5 4 4 5 4-1 5 1 4 7 5 2 4 3 4 4 5 3" fill="none" stroke="#000" stroke-width="2.5" stroke-linejoin="round"/>
<path fill="#3577eb" stroke="#3577eb" stroke-width=".6" d="M642 628l4 1-4 3-5 1zM664 643l4 2 5 3 4 0 4 4 5-3-5 12-4-2-5-9-4 1-4-3-5-1zM690 653l5 4-5 7-4-5zM734 688l4 4-4-3-5 0zM751 696l5 1-5 0-4 3zM765 691l4 11-5-5-4-8z"/>
<path fill="#3271e8" stroke="#3271e8" stroke-width=".6" d="M646 629l5 7-5 2-4-6zM655 637l5 2 4 4-5 4-4-2-4-3zM695 657l4 6 4-3 5 6-5 5-4-2-5-5-4 0zM730 682l4 6-5 1-4 0zM738 692l5-1-5-1-4-1z"/>
<path fill="#2f6ce5" stroke="#2f6ce5" stroke-width=".6" d="M651 636l4 1-4 5-5-4zM708 666l4 5-5 4-4-4zM721 679l4 5 5-2-5 7-4-5-5-2zM743 691l4 8 4-3-4 4-5-5-4-5zM839 748l4 3 5 3-5 3-4-2-5 1zM856 758l5 1-5 7-4-5z"/>
<path fill="#397ced" stroke="#397ced" stroke-width=".6" d="M686 649l4 4-4 6-5 2z"/>
<path fill="#2c65e0" stroke="#2c65e0" stroke-width=".6" d="M712 671l4 5 5 3-5 3-4-5-5-2zM769 702l4 4-4-2-5-7zM791 721l4 3 5 1-5 6-4-2-5 2zM821 742l5 2 4 0 5 3 4 1-5 8-4-4-4-4-5-2-4 1zM848 754l4 6 4-2-4 3-5 0-4-4zM861 759l4 7 5 2 4 3 4 4-4-3-5 1-4-4-5-2-4-1z"/>
<path fill="#3c82f0" stroke="#3c82f0" stroke-width=".6" d="M756 697l4-5-4 3-5 2z"/>
<path fill="#448cf2" stroke="#448cf2" stroke-width=".6" d="M760 692l5-1-5-2-4 6z"/>
<path fill="#2657d0" stroke="#2657d0" stroke-width=".6" d="M773 706l5 5-5 3-4-10zM782 716l4 5-4 3-5-2z"/>
<path fill="#2350c8" stroke="#2350c8" stroke-width=".6" d="M778 711l4 5-5 6-4-8z"/>
<path fill="#295ed8" stroke="#295ed8" stroke-width=".6" d="M786 721l5 0-5 10-4-7zM800 725l4 5 4 3 5 3 4 2 4 4-4 5-5-6-4-2-4-4-5 3-4-7zM878 775l5 3-5 2-4-8z"/>
<path d="M637 633l5-1 4 6 5 4 4 3 4 2 5 1 4 3 4-1 5 9 4 2 5-2 4 5 4 0 5 5 4 2 4 4 5 2 4 5 5 2 4 5 4 0 5 0 4 1 4 5 5 5 4-3 5-2 4-6 4 8 5 7 4 10 4 8 5 2 4 7 5-2 4 2 4 7 5-3 4 4 4 2 5 6 4-1 5 2 4 4 4 4 5-1 4 2 4 4 5 0 4 5 4 1 5 2 4 4 5-1 4 8" fill="none" stroke="#000" stroke-width="2.5" stroke-linejoin="round"/>
<path fill="#3577eb" stroke="#3577eb" stroke-width=".6" d="M637 634l5 0-5 3-4-2zM655 647l4 1-4 2-5-2zM672 651l5 10 4 1-5-2-4-5-4 1zM690 665l4 0-4 1-5-4zM725 690l4 1-4 1-5 2zM738 691l4 6-4-7-5-8z"/>
<path fill="#3271e8" stroke="#3271e8" stroke-width=".6" d="M642 634l4 5-5 5-4-7zM651 644l4 3-5 1-4 1zM694 665l5 6-5 1-4-6zM742 697l5 4-5-7-4-4z"/>
<path fill="#2f6ce5" stroke="#2f6ce5" stroke-width=".6" d="M646 639l5 5-5 5-5-5zM699 671l4 1-5 3-4-3zM712 679l4 4 5 2 4 5-5 4-4-6-5-1-4-2zM764 699l5 6-5-2-4-12z"/>
<path fill="#397ced" stroke="#397ced" stroke-width=".6" d="M659 648l5 1 4 3 4-1-4 5-5-4-4-1-4-1zM681 662l5-2 4 5-5-3-4 0-5-2zM729 691l5-1-5-4-4 6zM747 701l4-3-5-3-4-1z"/>
<path fill="#2c65e0" stroke="#2c65e0" stroke-width=".6" d="M703 672l4 4 5 3-5 6-4-4-5-6zM786 732l5-2 4 2-5 3-4-4-5-1zM799 739l5-3-5 2-4-1zM817 748l4-1-5 4-4-3zM839 757l4 1 4 4 5 1 4 5 4 0 5 2-5 4-4-2-5 0-4-4-4 1-5-9-4 4z"/>
<path fill="#3c82f0" stroke="#3c82f0" stroke-width=".6" d="M734 690l4 1-5-9-4 4z"/>
<path fill="#4c96f4" stroke="#4c96f4" stroke-width=".6" d="M751 698l5-1-5-13-5 11z"/>
<path fill="#5baaf9" stroke="#5baaf9" stroke-width=".6" d="M756 697l4-7-5-9-4 3z"/>
<path fill="#448cf2" stroke="#448cf2" stroke-width=".6" d="M760 690l4 9-4-8-5-10z"/>
<path fill="#2350c8" stroke="#2350c8" stroke-width=".6" d="M769 705l4 10-5 1-4-13zM777 723l5 2-5 2-4-3z"/>
<path fill="#1d42b8" stroke="#1d42b8" stroke-width=".6" d="M773 715l4 8-4 1-5-8z"/>
<path fill="#295ed8" stroke="#295ed8" stroke-width=".6" d="M782 725l4 7-5-2-4-3zM795 732l4 7-4-2-5-2zM804 736l4 5 4 2 5 5-5 0-4-1-5-2-4-7zM821 747l5 2 4 4 4 5 5-1-5 7-4-5-5-4-4 1-5-5zM865 770l4 4 5-1-5 10-4-3-5-6z"/>
<path fill="#2657d0" stroke="#2657d0" stroke-width=".6" d="M874 773l4 9-5 5-4-4z"/>
<path d="M633 635l4 2 4 7 5 5 4-1 5 2 4 1 4 1 5 4 4-1 4 5 5 2 4 0 5 4 4 6 4 3 5 6 4 4 4 2 5 1 4 6 5-2 4-6 4-4 5 8 4 4 4 1 5-11 4-3 5 10 4 12 4 13 5 8 4 3 4 3 5 1 4 4 5 2 4 1 4 7 5 2 4 1 4 3 5 5 4-1 5 4 4 5 4-4 5 9 4-1 4 4 5 0 4 2 5 6 4 3 4 4" fill="none" stroke="#000" stroke-width="2.5" stroke-linejoin="round"/>
<path fill="#3577eb" stroke="#3577eb" stroke-width=".6" d="M633 636l4 2-5 3-4-1zM650 649l5 3-5 2-4-1zM663 654l5 3 4 0-5 3-4-1-4-4zM685 663l5 5-5 6-4-7zM720 695l5-2-5 6-4-3z"/>
<path fill="#3271e8" stroke="#3271e8" stroke-width=".6" d="M637 638l4 7 5 6 4-2-4 4-5-8-4-2-5-2zM690 668l4 5-5 0-4 1zM716 690l4 5-4 1-5-1z"/>
<path fill="#3c82f0" stroke="#3c82f0" stroke-width=".6" d="M655 652l4 1 4 1-4 1-5-8-4 7zM681 663l4 0-4 4-5-5zM725 693l4-6-5 4-4 8zM738 692l4 4-5-3-4-9z"/>
<path fill="#397ced" stroke="#397ced" stroke-width=".6" d="M672 657l4 4 5 2-5-1-4 7-5-9z"/>
<path fill="#2f6ce5" stroke="#2f6ce5" stroke-width=".6" d="M694 673l4 4-4 3-5-7zM707 686l4 2 5 2-5 5-4-5-5-4zM760 692l4 12-5-2-4-10z"/>
<path fill="#2c65e0" stroke="#2c65e0" stroke-width=".6" d="M698 677l5 5 4 4-5 0-4-1-4-5zM781 731l5 1 4 4-4 5-5-7-4 4zM847 770l4 3-4-1-5 1z"/>
<path fill="#53a0f7" stroke="#53a0f7" stroke-width=".6" d="M729 687l4-4-4-4-5 12zM755 682l5 10-5 0-4-12z"/>
<path fill="#4c96f4" stroke="#4c96f4" stroke-width=".6" d="M733 683l5 9-5-8-4-5z"/>
<path fill="#448cf2" stroke="#448cf2" stroke-width=".6" d="M742 696l4 1-4-3-5-1z"/>
<path fill="#66b5fb" stroke="#66b5fb" stroke-width=".6" d="M746 697l5-12-5-1-4 10z"/>
<path fill="#92d8fe" stroke="#92d8fe" stroke-width=".6" d="M751 685l4-3-4-2-5 4z"/>
<path fill="#2350c8" stroke="#2350c8" stroke-width=".6" d="M764 704l4 13-4 3-5-18zM865 782l4 2-5 2-4-2z"/>
<path fill="#1d42b8" stroke="#1d42b8" stroke-width=".6" d="M768 717l5 8-5 1-4-6z"/>
<path fill="#2049c0" stroke="#2049c0" stroke-width=".6" d="M773 725l4 3-5 4-4-6zM869 784l4 4-4 4-5-6z"/>
<path fill="#2657d0" stroke="#2657d0" stroke-width=".6" d="M777 728l4 3-4 7-5-6zM821 757l4-1-4 8-5-5zM860 775l5 7-5 2-4-6z"/>
<path fill="#295ed8" stroke="#295ed8" stroke-width=".6" d="M790 736l5 2 4 1 4 8 5 1 4 1 4 4 5 4-5 2-4-4-5 0-4-4-4-1-5-5-4-1-4-3zM825 756l5 5 4 4 4-3 5 8 4 0-5 3-4-2-4 0-5-5-4-4-4 2zM851 773l5 0 4 2-4 3-5 1-4-7z"/>
<path d="M628 640l4 1 5 2 4 2 5 8 4 1 4-7 5 8 4 4 4 1 5 9 4-7 5 5 4 7 4-1 5 7 4 5 4 1 5 4 4 5 5 1 4 3 4-8 5-12 4 5 4 9 5 1 4-10 5-4 4 12 4 10 5 18 4 6 4 6 5 6 4-4 5 7 4 3 4 1 5 5 4 1 4 4 5 0 4 4 5 5 4-2 4 4 5 5 4 0 4 2 5-1 4 7 5-1 4 6 4 2 5 6" fill="none" stroke="#000" stroke-width="2.5" stroke-linejoin="round"/>
<path fill="#3577eb" stroke="#3577eb" stroke-width=".6" d="M628 641l4 2 5 2 4 1 5 9-5-3-4 0-5-4-4-4-5-5zM659 657l4 4 4 1 5 8-5 0-4-3-5-5-4-5zM716 698l4 2-5-3-4 3z"/>
<path fill="#397ced" stroke="#397ced" stroke-width=".6" d="M646 655l4 0-5 3-4-6zM672 670l4-7 5 5-5 6-4-5-5 1z"/>
<path fill="#3c82f0" stroke="#3c82f0" stroke-width=".6" d="M650 655l4-6 5 8-5 0-4 1-5 0zM720 700l4-8-4-6-5 11z"/>
<path fill="#3271e8" stroke="#3271e8" stroke-width=".6" d="M681 668l4 7-5 3-4-4zM711 696l5 2-5 2-4-1z"/>
<path fill="#2f6ce5" stroke="#2f6ce5" stroke-width=".6" d="M685 675l4-1 5 8-5 3-4-4-5-3zM698 686l4 1 5 4 4 5-4 3-5-8-4 3-5-9zM755 693l4 10-4 7-5-18z"/>
<path fill="#2c65e0" stroke="#2c65e0" stroke-width=".6" d="M694 682l4 4-5-1-4 0z"/>
<path fill="#66b5fb" stroke="#66b5fb" stroke-width=".6" d="M724 692l5-11 4 4-5-1-4-9-4 11z"/>
<path fill="#448cf2" stroke="#448cf2" stroke-width=".6" d="M733 685l4 10-4 2-5-13z"/>
<path fill="#53a0f7" stroke="#53a0f7" stroke-width=".6" d="M737 695l5 1-5 0-4 1zM751 681l4 12-5-1-4-8z"/>
<path fill="#83ccfd" stroke="#83ccfd" stroke-width=".6" d="M742 696l4-11-4 3-5 8z"/>
<path fill="#aee9ff" stroke="#aee9ff" stroke-width=".6" d="M746 685l5-4-5 3-4 4z"/>
<path fill="#2049c0" stroke="#2049c0" stroke-width=".6" d="M759 703l5 18-5 4-4-15zM860 785l4 3-4 7-5-7z"/>
<path fill="#1a3aac" stroke="#1a3aac" stroke-width=".6" d="M764 721l4 7-5 7-4-10z"/>
<path fill="#1d42b8" stroke="#1d42b8" stroke-width=".6" d="M768 728l4 5-4 5-5-3zM864 788l5 5-5 5-4-3z"/>
<path fill="#2350c8" stroke="#2350c8" stroke-width=".6" d="M772 733l5 6-5 2-4-3zM812 756l4 4 5 6-5 1-5-2-4-3zM829 768l5 5-5 2-4-4zM851 781l5-1 4 5-5 3-4 1-5-6z"/>
<path fill="#2657d0" stroke="#2657d0" stroke-width=".6" d="M777 739l4-4 5 7 4 4 4 0 5 5 4 1 4 5 5-1-5 6-4-4-5-3-4 0-4-4-5 0-4-6-4 2-5-6zM821 766l4-3 4 5-4 3-5-3-4-1zM834 773l4-1 4 2 5-1 4 8-5 2-4 2-4-8-5 0-4-2z"/>
<path d="M623 639l5 5 4 4 5 4 4 0 4 6 5 0 4-1 4 5 5 5 4 3 5-1 4 5 4 4 5 3 4 4 4 0 5 9 4-3 5 8 4 1 4-3 5-11 4-11 4 9 5 13 4-1 5-8 4-4 4 8 5 18 4 15 4 10 5 3 4 3 5 6 4-2 4 6 5 0 4 4 4 0 5 3 4 4 4 3 5 2 4 1 5 3 4 4 4 2 5 0 4 8 4-2 5 6 4-1 5 7 4 3" fill="none" stroke="#000" stroke-width="2.5" stroke-linejoin="round"/>
<path fill="#3577eb" stroke="#3577eb" stroke-width=".6" d="M623 640l5 6 4 4-5-2-4 1-4-4zM637 654l4 0-5 4-4 1zM654 658l4 5-4 7-5-9zM672 670l4 5-5 1-4-3zM711 701l4-3-4 5-5 3z"/>
<path fill="#3271e8" stroke="#3271e8" stroke-width=".6" d="M632 650l5 4-5 5-5-11zM658 663l5 5-5 2-4 0zM676 675l4 5 5 2-5-1-4 0-5-5zM707 700l4 1-5 5-4-6z"/>
<path fill="#397ced" stroke="#397ced" stroke-width=".6" d="M641 654l4 5-4 0-5-1zM663 668l4 3 5-1-5 3-5-2-4-1z"/>
<path fill="#3c82f0" stroke="#3c82f0" stroke-width=".6" d="M645 659l5 0 4-1-5 3-4 0-4-2zM746 685l4 8-4 13-5-12z"/>
<path fill="#2f6ce5" stroke="#2f6ce5" stroke-width=".6" d="M685 682l4 5-5 3-4-9zM693 687l5 8 4-3 5 8-5 0-5-5-4-2-4 0z"/>
<path fill="#2c65e0" stroke="#2c65e0" stroke-width=".6" d="M689 687l4 0-4 6-5-3zM750 693l5 18-5 5-4-10z"/>
<path fill="#448cf2" stroke="#448cf2" stroke-width=".6" d="M715 698l5-11-5 0-4 16z"/>
<path fill="#83ccfd" stroke="#83ccfd" stroke-width=".6" d="M720 687l4-11 4 9-4-5-5-5-4 12zM737 697l5-8 4-4-5 9-4 0-5 4z"/>
<path fill="#4c96f4" stroke="#4c96f4" stroke-width=".6" d="M728 685l5 13-5-9-4-9z"/>
<path fill="#53a0f7" stroke="#53a0f7" stroke-width=".6" d="M733 698l4-1-5 1-4-9z"/>
<path fill="#1d42b8" stroke="#1d42b8" stroke-width=".6" d="M755 711l4 15-5 9-4-19zM768 739l4 3-5 8-4-3zM851 790l4-1-4 8-5-1z"/>
<path fill="#142c8d" stroke="#142c8d" stroke-width=".6" d="M759 726l4 10-4 3-5-4z"/>
<path fill="#1a3aac" stroke="#1a3aac" stroke-width=".6" d="M763 736l5 3-5 8-4-8zM855 789l5 8-5 7-4-7z"/>
<path fill="#2350c8" stroke="#2350c8" stroke-width=".6" d="M772 742l5 6-5 5-5-3zM790 752l4 4 4 0 5 3 4 4-5 5-4-3-4 1-5-3-4-11zM816 768l4 1 5 3-5 8-4-5-5 4zM833 778l5 0-5 9-4 0z"/>
<path fill="#2657d0" stroke="#2657d0" stroke-width=".6" d="M777 748l4-1 4 5 5 0-5 0-4 3-5-4-4 2z"/>
<path fill="#2049c0" stroke="#2049c0" stroke-width=".6" d="M807 763l4 3 5 2-5 11-4-6-5-5zM825 772l4 4 4 2-4 9-5-4-4-3zM838 778l4 9 4-3 5 6-5 6-4-3-5-1-4-5z"/>
<path fill="#17339d" stroke="#17339d" stroke-width=".6" d="M860 797l4 3-5 8-4-4z"/>
<path d="M619 645l4 4 4-1 5 11 4-1 5 1 4 2 4 0 5 9 4 0 4 1 5 2 4 3 5 5 4 0 4 9 5 3 4 0 4 2 5 5 4 6 5-3 4-16 4-12 5 5 4 9 4 9 5-4 4 0 5 12 4 10 4 19 5 4 4 8 4 3 5 3 4-2 5 4 4-3 4 11 5 3 4-1 4 3 5 5 4 6 5-4 4 5 4 3 5 4 4 0 4 5 5 1 4 3 5 1 4 7 4 4" fill="none" stroke="#000" stroke-width="2.5" stroke-linejoin="round"/>
<path fill="#3577eb" stroke="#3577eb" stroke-width=".6" d="M619 646l4 5-5 0-4-5zM654 671l4 1-5 3-4-2zM671 678l5 4-5 2-4-6zM706 707l5-3-5 0-4 4z"/>
<path fill="#3271e8" stroke="#3271e8" stroke-width=".6" d="M623 651l4-2 5 11 4-1-4 5-5-5-4-1-5-7zM649 662l5 9-5 2-4-7zM676 682l4 1-5 4-4-3zM702 702l4 5-4 1-5-1zM741 695l5 12-5 5-4-8z"/>
<path fill="#397ced" stroke="#397ced" stroke-width=".6" d="M636 659l5 1-5 6-4-2zM658 672l4 0-4 2-5 1zM667 674l4 4-4 0-5 0z"/>
<path fill="#3c82f0" stroke="#3c82f0" stroke-width=".6" d="M641 660l4 3 4-1-4 4-5-5-4 5zM662 672l5 2-5 4-4-4z"/>
<path fill="#2f6ce5" stroke="#2f6ce5" stroke-width=".6" d="M680 683l4 8-4 0-5-4zM693 694l4 3 5 5-5 5-4-2-5-2z"/>
<path fill="#2c65e0" stroke="#2c65e0" stroke-width=".6" d="M684 691l5 3 4 0-5 9-4-6-4-6z"/>
<path fill="#4c96f4" stroke="#4c96f4" stroke-width=".6" d="M711 704l4-15-5-4-4 19zM728 690l4 9-4-2-5-9zM737 695l4 0-4 9-5-4z"/>
<path fill="#a0e4ff" stroke="#a0e4ff" stroke-width=".6" d="M715 689l4-13-4-8-5 17z"/>
<path fill="#aee9ff" stroke="#aee9ff" stroke-width=".6" d="M719 676l5 5-5-3-4-10z"/>
<path fill="#5baaf9" stroke="#5baaf9" stroke-width=".6" d="M724 681l4 9-5-2-4-10zM732 699l5-4-5 5-4-3z"/>
<path fill="#2657d0" stroke="#2657d0" stroke-width=".6" d="M746 707l4 10-5 9-4-14zM772 754l4-2 5 5 4-3-5 9-4-1-4-7-5-1z"/>
<path fill="#1a3aac" stroke="#1a3aac" stroke-width=".6" d="M750 717l4 19-4 1-5-11zM759 740l4 8-5 3-4-6zM846 797l5 1-5 8-4-4z"/>
<path fill="#142c8d" stroke="#142c8d" stroke-width=".6" d="M754 736l5 4-5 5-4-8z"/>
<path fill="#1d42b8" stroke="#1d42b8" stroke-width=".6" d="M763 748l4 3-4 4-5-4zM802 770l5 4-5 8-4-6z"/>
<path fill="#2350c8" stroke="#2350c8" stroke-width=".6" d="M767 751l5 3-5 0-4 1zM785 754l4 10-4 2-5-3zM811 781l5-4 4 4-5 2-4 2-4-4zM833 788l4 5 5 1-5 2-4-3-5 1z"/>
<path fill="#2049c0" stroke="#2049c0" stroke-width=".6" d="M789 764l5 3 4 0 4 3-4 6-5-2-4-4-4-4zM807 774l4 7-4 0-5 1zM820 781l4 3 5 4 4 0-5 6-4-1-4-5-5-5zM842 794l4 3-4 5-5-6z"/>
<path fill="#17339d" stroke="#17339d" stroke-width=".6" d="M851 798l4 8 4 3-4 5-5-1-4-7z"/>
<path d="M614 646l4 5 5 7 4 1 5 5 4 2 4-5 5 5 4 7 4 2 5-1 4 4 5 0 4 6 4 3 5 4 4 6 4 6 5 2 4 2 5 1 4-4 4-19 5-17 4 10 4 10 5 9 4 3 5 4 4 8 4 14 5 11 4 8 4 6 5 4 4-1 5 1 4 7 4 1 5 3 4 4 4 4 5 2 4 6 5-1 4 4 4-2 5 5 4 5 4 1 5-1 4 3 5 6 4 4 4 7 5 1" fill="none" stroke="#000" stroke-width="2.5" stroke-linejoin="round"/>
<path fill="#397ced" stroke="#397ced" stroke-width=".6" d="M614 647l4 5-4 1-5-3zM632 665l4 2-5-1-4-4zM662 679l5 0-5 5-4-7zM732 702l5 3-5 8-4-8z"/>
<path fill="#3577eb" stroke="#3577eb" stroke-width=".6" d="M618 652l5 7 4 1 5 5-5-3-4-2-5-7-4 0zM645 668l4 6 4 3-4 0-5-3-4-4zM667 679l4 7 4 3-4-2-5-1-4-2zM697 708l5 1 4-4-5-1-4 5-4-2z"/>
<path fill="#3c82f0" stroke="#3c82f0" stroke-width=".6" d="M636 667l4-5 5 6-5 2-4-5-5 1zM653 677l5-2 4 4-4-2-5-1-4 1zM723 689l5 9 4 4-4 3-5-3-4-11z"/>
<path fill="#3271e8" stroke="#3271e8" stroke-width=".6" d="M675 689l5 3-5-2-4-3zM693 706l4 2-4-1-5-5z"/>
<path fill="#2c65e0" stroke="#2c65e0" stroke-width=".6" d="M680 692l4 6 4 6-4-3-5-2-4-9z"/>
<path fill="#2f6ce5" stroke="#2f6ce5" stroke-width=".6" d="M688 704l5 2-5-4-4-1zM737 705l4 8-5 7-4-7z"/>
<path fill="#53a0f7" stroke="#53a0f7" stroke-width=".6" d="M706 705l4-19-4 0-5 18z"/>
<path fill="#bceeff" stroke="#bceeff" stroke-width=".6" d="M710 686l5-17-5-3-4 20z"/>
<path fill="#d7f7ff" stroke="#d7f7ff" stroke-width=".6" d="M715 669l4 10-5-6-4-7z"/>
<path fill="#5baaf9" stroke="#5baaf9" stroke-width=".6" d="M719 679l4 10-4 2-5-18z"/>
<path fill="#2350c8" stroke="#2350c8" stroke-width=".6" d="M741 713l4 14-4 6-5-13zM758 752l5 4-5-2-4-8zM780 764l5 3 4 4 4 4 5 2-5-4-4-3-5-1-4-2-4-3zM802 783l5 0 4 3 4-2 5 5 4 5 4 2 5-1-5 4-4-2-5-7-4 1-4-3-5-2-4-8-5 0zM837 797l5 6-5-5-5-2z"/>
<path fill="#1a3aac" stroke="#1a3aac" stroke-width=".6" d="M745 727l5 11 4 8-5 2-4-11-4-4zM846 807l4 7 5 1-5-3-4 0-5-10z"/>
<path fill="#1d42b8" stroke="#1d42b8" stroke-width=".6" d="M754 746l4 6-4-6-5 2zM842 803l4 4-5-5-4-4z"/>
<path fill="#2657d0" stroke="#2657d0" stroke-width=".6" d="M763 756l4-1 5 2 4 7 4 0-4 0-5-3-4-1-5-3-4-3zM833 795l4 2-5-1-4 3z"/>
<path fill="#2049c0" stroke="#2049c0" stroke-width=".6" d="M798 777l4 6-5-5-4-5z"/>
<path d="M609 650l5 3 4 0 5 7 4 2 4 4 5-1 4 5 4 4 5 3 4-1 5 1 4 7 4 2 5 1 4 3 4 9 5 2 4 1 5 5 4 2 4-5 5-18 4-20 4 7 5 18 4 11 5 3 4 8 4 7 5 13 4 4 4 11 5-2 4 8 4 3 5 3 4 1 5 3 4 3 4 2 5 1 4 3 4 5 5 0 4 8 5 2 4 3 4-1 5 7 4 2 4-3 5 2 4 4 5 10 4 0" fill="none" stroke="#000" stroke-width="2.5" stroke-linejoin="round"/>
<path fill="#397ced" stroke="#397ced" stroke-width=".6" d="M609 652l5 3 4-1 5 7-5 4-5-9-4 3-4-7zM627 664l4 3-4 7-5-7zM666 687l5 2-5-3-4-4zM688 703l5 5 4 2-5-3-4-1-5-4zM719 692l4 11-5 0-4-13z"/>
<path fill="#3577eb" stroke="#3577eb" stroke-width=".6" d="M623 661l4 3-5 3-4-2zM671 689l4 3-5-1-4-5zM684 702l4 1-5-1-4-2zM723 703l5 3-5 5-5-8z"/>
<path fill="#448cf2" stroke="#448cf2" stroke-width=".6" d="M631 667l5-1 4 5-5 1-4-5-4 7zM653 677l5 2-5 2-5-3z"/>
<path fill="#3c82f0" stroke="#3c82f0" stroke-width=".6" d="M640 671l4 4 5 3 4-1-5 1-4 1-4-8-5 1zM658 679l4 6 4 2-4-5-5 1-4-2zM697 710l4-4-4-3-5 4z"/>
<path fill="#2f6ce5" stroke="#2f6ce5" stroke-width=".6" d="M675 692l4 8-4-1-5-8zM728 706l4 8-5 9-4-12z"/>
<path fill="#3271e8" stroke="#3271e8" stroke-width=".6" d="M679 700l5 2-5-2-4-1z"/>
<path fill="#5baaf9" stroke="#5baaf9" stroke-width=".6" d="M701 706l5-19-5-1-4 17z"/>
<path fill="#d7f7ff" stroke="#d7f7ff" stroke-width=".6" d="M706 687l4-20-5 0-4 19z"/>
<path fill="#f0fdff" stroke="#f0fdff" stroke-width=".6" d="M710 667l4 7-4-3-5-4z"/>
<path fill="#66b5fb" stroke="#66b5fb" stroke-width=".6" d="M714 674l5 18-5-2-4-19z"/>
<path fill="#295ed8" stroke="#295ed8" stroke-width=".6" d="M732 714l4 7-4 7-5-5zM754 747l4 8 4 3 5 3 4 1 5 3 4 3-5-2-4-6-4 5-5-6-4-2-5-2-4-3zM789 772l4 2-5 0-4-1zM828 800l4-3 5 2-5 1-4-5-5 1z"/>
<path fill="#2049c0" stroke="#2049c0" stroke-width=".6" d="M736 721l5 13-5 5-4-11zM745 739l4 10-4 1-5-6zM841 803l5 10 4 1-5-3-4-4-4-1z"/>
<path fill="#1d42b8" stroke="#1d42b8" stroke-width=".6" d="M741 734l4 5-5 5-4-5z"/>
<path fill="#2657d0" stroke="#2657d0" stroke-width=".6" d="M749 749l5-2-5 5-4-2zM780 768l4 3 5 1-5 1-4-2-5-5zM793 774l4 6 5 0 4 7 5 3 4 3 4-2 5 7 4 2-5-4-4-4-4-2-5 0-4-5-4-1-5-3-4-2-5-5z"/>
<path fill="#2350c8" stroke="#2350c8" stroke-width=".6" d="M837 799l4 4-4 3-5-6z"/>
<path d="M605 652l4 7 4-3 5 9 4 2 5 7 4-7 4 5 5-1 4 8 4-1 5 3 4 2 5-1 4 4 4 5 5 8 4 1 4 2 5 4 4 1 5-4 4-17 4-19 5 4 4 19 4 13 5 8 4 12 5 5 4 11 4 5 5 6 4 2 4 3 5 2 4 2 5 6 4-5 4 6 5 5 4 2 4 1 5 5 4 2 5 3 4 1 4 5 5 0 4 2 4 4 5-1 4 5 5 6 4 1 4 4" fill="none" stroke="#000" stroke-width="2.5" stroke-linejoin="round"/>
<path fill="#3c82f0" stroke="#3c82f0" stroke-width=".6" d="M605 653l4 7-5-1-4-7zM622 669l5 6-5-7-4 1zM662 684l4 3-5 5-4-3zM683 703l5 4-5 3-4-2z"/>
<path fill="#397ced" stroke="#397ced" stroke-width=".6" d="M609 660l4-2 5 9-5 0-4-6-5-2zM679 701l4 2-4 5-5-2zM714 692l4 13-4 1-5-10z"/>
<path fill="#3577eb" stroke="#3577eb" stroke-width=".6" d="M618 667l4 2-4 0-5-2zM666 687l4 6 5 7 4 1-5 5-4-7-4-2-5-5z"/>
<path fill="#448cf2" stroke="#448cf2" stroke-width=".6" d="M627 675l4-7-5 4-4-4zM635 673l5-1-5 4-4-3zM648 679l5 3 4 2 5 0-5 5-4-7-5 3-4-8zM688 707l4 1 5-4-5 0-4 6-5 0z"/>
<path fill="#4c96f4" stroke="#4c96f4" stroke-width=".6" d="M631 668l4 5-4 0-5-1zM640 672l4 8 4-1-4-2-5-2-4 1z"/>
<path fill="#75c1fc" stroke="#75c1fc" stroke-width=".6" d="M697 704l4-17-5 0-4 17z"/>
<path fill="#d7f7ff" stroke="#d7f7ff" stroke-width=".6" d="M701 687l4-19-4 5-5 14z"/>
<path fill="#f0fdff" stroke="#f0fdff" stroke-width=".6" d="M705 668l5 4-5 8-4-7z"/>
<path fill="#66b5fb" stroke="#66b5fb" stroke-width=".6" d="M710 672l4 20-5 4-4-16z"/>
<path fill="#3271e8" stroke="#3271e8" stroke-width=".6" d="M718 705l5 7-5 6-4-12z"/>
<path fill="#2c65e0" stroke="#2c65e0" stroke-width=".6" d="M723 712l4 12-4 2-5-8zM749 754l4 2 5 2 4 2 5 6-5-1-4-5-5 0-4-4-5-4zM775 768l5 4 4 2 4 1-4 0-5-3-4-3-4-5zM797 782l5 3 4 1-5 2-4-7-4 1zM815 791l4 3 4 3 5-1-5 7-4-1-5-6-4-3z"/>
<path fill="#295ed8" stroke="#295ed8" stroke-width=".6" d="M727 724l5 6-5 1-4-5zM745 751l4 3-5-2-4 3zM788 775l5 6 4 1-4 0-5-4-4-3zM806 786l4 5 5 0-5 2-4-4-5-1zM832 801l5 6-5-4-4-4z"/>
<path fill="#2350c8" stroke="#2350c8" stroke-width=".6" d="M732 730l4 10-5 0-4-9zM740 745l5 6-5 4-4-9z"/>
<path fill="#2049c0" stroke="#2049c0" stroke-width=".6" d="M736 740l4 5-4 1-5-6z"/>
<path fill="#2f6ce5" stroke="#2f6ce5" stroke-width=".6" d="M767 766l4-5 4 7-4-4-5 2-4-1zM828 796l4 5-4-2-5 4z"/>
<path fill="#2657d0" stroke="#2657d0" stroke-width=".6" d="M837 807l4 1 4 4-4 1-5-3-4-7z"/>
<path d="M600 652l4 7 5 2 4 6 5 2 4-1 4 4 5 1 4 3 4-1 5 2 4 8 5-3 4 7 4 3 5 5 4 2 4 7 5 2 4 2 5 0 4-6 4-17 5-14 4 7 4 16 5 10 4 12 5 8 4 5 4 9 5 6 4 9 4-3 5 4 4 4 5 0 4 5 4 1 5-2 4 5 4 3 5 3 4 3 5 4 4-1 4 7 5 1 4 4 4 3 5 6 4 1 5-4 4 4 4 7 5 3" fill="none" stroke="#000" stroke-width="2.5" stroke-linejoin="round"/>
<path fill="#3c82f0" stroke="#3c82f0" stroke-width=".6" d="M600 654l4 6 5 2-5 2-4-3-5-3zM618 670l4-1-5 7-4-3zM653 684l4 6-5 5-4-7zM679 709l4 3-4 0-5-3z"/>
<path fill="#397ced" stroke="#397ced" stroke-width=".6" d="M609 662l4 6 5 2-5 3-4-6-5-3zM657 690l4 3-4 4-5-2zM674 707l5 2-5 0-4-2zM709 697l5 11-5 4-4-11z"/>
<path fill="#448cf2" stroke="#448cf2" stroke-width=".6" d="M622 669l4 4 5 1 4 3-5 5-4-1-4-3-5-2zM644 678l4 9 5-3-5 4-4 0-5-6zM683 712l5-1-5 3-4-2z"/>
<path fill="#4c96f4" stroke="#4c96f4" stroke-width=".6" d="M635 677l4 0-4 4-5 1zM688 711l4-6-5 6-4 3z"/>
<path fill="#53a0f7" stroke="#53a0f7" stroke-width=".6" d="M639 677l5 1-5 4-4-1z"/>
<path fill="#3577eb" stroke="#3577eb" stroke-width=".6" d="M661 693l5 5 4 2 4 7-4 0-5 0-4-5-4-5z"/>
<path fill="#75c1fc" stroke="#75c1fc" stroke-width=".6" d="M692 705l4-17-4 7-5 16z"/>
<path fill="#caf3ff" stroke="#caf3ff" stroke-width=".6" d="M696 688l5-14-5 10-4 11z"/>
<path fill="#d7f7ff" stroke="#d7f7ff" stroke-width=".6" d="M701 674l4 8-5 5-4-3z"/>
<path fill="#5baaf9" stroke="#5baaf9" stroke-width=".6" d="M705 682l4 15-4 4-5-14z"/>
<path fill="#3271e8" stroke="#3271e8" stroke-width=".6" d="M714 708l4 11-4 3-5-10zM766 767l5-2-5 8-4-4z"/>
<path fill="#2c65e0" stroke="#2c65e0" stroke-width=".6" d="M718 719l5 8-5 2-4-7zM740 756l4-2-4 3-5 1zM753 761l5 0-5 8-5-10zM779 773l5 3 4 3 5 4 4-1 4 7 5 1 4 4 4 3 5 7 4 1-5-2-4-4-4 0-5 0-4-7-4 1-5-3-4-1-5-6-4-2-4-4zM828 800l4 4-5 6-4-6z"/>
<path fill="#295ed8" stroke="#295ed8" stroke-width=".6" d="M723 727l4 5-5 4-4-7zM832 804l4 7 5 3-5 0-4-2-5-2z"/>
<path fill="#2657d0" stroke="#2657d0" stroke-width=".6" d="M727 732l4 10-4 2-5-8z"/>
<path fill="#2350c8" stroke="#2350c8" stroke-width=".6" d="M731 742l5 5 4 9-5 2-4-7-4-7z"/>
<path fill="#2f6ce5" stroke="#2f6ce5" stroke-width=".6" d="M744 754l5 4 4 3-5-2-4-2-4 0zM758 761l4 5 4 1-4 2-5-2-4 2zM771 765l4 5 4 3-4 4-5-3-4-1zM823 805l5-5-5 4-5-1z"/>
<path d="M595 658l5 3 4 3 5 3 4 6 4 3 5 2 4 3 4 1 5-1 4 1 5 6 4 0 4 7 5 2 4 5 4 5 5 0 4 2 5 3 4 2 4-3 5-16 4-11 4 3 5 14 4 11 5 10 4 7 4 7 5 8 4 7 4 7 5-1 4 0 4 2 5 10 4-2 5 2 4 4 4 1 5 3 4 4 4 2 5 6 4 1 5 3 4-1 4 7 5 0 4 0 4 4 5 1 4 6 5 2 4 2" fill="none" stroke="#000" stroke-width="2.5" stroke-linejoin="round"/>
<path fill="#397ced" stroke="#397ced" stroke-width=".6" d="M595 659l5 3 4 3 5 4-5 4-5-2-4-2-4-8zM665 708l5 0-5 1-4-2zM705 702l4 11-5 7-4-12z"/>
<path fill="#3c82f0" stroke="#3c82f0" stroke-width=".6" d="M609 669l4 6 4 2-4-1-5 0-4-3zM622 679l4 3-5 0-4-4zM648 689l4 8-4-3-5-2zM670 708l4 2-5 3-4-4z"/>
<path fill="#448cf2" stroke="#448cf2" stroke-width=".6" d="M617 677l5 2-5-1-4-2zM626 682l4 2 5-2-5 6-4-7-5 1zM644 690l4-1-5 3-4-5zM674 710l5 4-5 0-5-1z"/>
<path fill="#4c96f4" stroke="#4c96f4" stroke-width=".6" d="M635 682l4 1 5 7-5-3-5 2-4-1zM679 714l4 1 4-3-4-2-5 4-4 0z"/>
<path fill="#3577eb" stroke="#3577eb" stroke-width=".6" d="M652 697l5 1 4 5 4 5-4-1-5-3-4-4-4-6z"/>
<path fill="#66b5fb" stroke="#66b5fb" stroke-width=".6" d="M687 712l5-16-5 5-4 9z"/>
<path fill="#aee9ff" stroke="#aee9ff" stroke-width=".6" d="M692 696l4-11 4 3-4 6-5-3-4 10z"/>
<path fill="#53a0f7" stroke="#53a0f7" stroke-width=".6" d="M700 688l5 14-5 6-4-14z"/>
<path fill="#3271e8" stroke="#3271e8" stroke-width=".6" d="M709 713l5 10-5 1-5-4zM757 769l5 1 4 4-5-4-4-2-4 0z"/>
<path fill="#2f6ce5" stroke="#2f6ce5" stroke-width=".6" d="M714 723l4 7-5 2-4-8zM740 758l4 0 4 2 5 10 4-1-4-1-5 0-4-4-5 2-4-6zM766 774l4 1-4 3-5-8zM810 800l4 0 4 4 5 1-5 4-4-6-5 1-4 0z"/>
<path fill="#295ed8" stroke="#295ed8" stroke-width=".6" d="M718 730l4 7-4 4-5-9zM779 782l4 2-4 3-5-2zM827 812l5 1-5 1-4-3z"/>
<path fill="#2657d0" stroke="#2657d0" stroke-width=".6" d="M722 737l5 8-5 2-4-6zM832 813l4 2-5 6-4-7z"/>
<path fill="#2350c8" stroke="#2350c8" stroke-width=".6" d="M727 745l4 7 4 7-4 1-5-5-4-8z"/>
<path fill="#2c65e0" stroke="#2c65e0" stroke-width=".6" d="M735 759l5-1-5 2-4 0zM770 775l5 3 4 4-5 3-4-7-4 0zM783 784l5 6 4 2 5 2 4-1 4 8 5-1-5 4-4-5-5-3-4 0-4-7-5-1-4-1zM823 805l4 7-4-1-5-2z"/>
<path d="M591 661l4 8 4 2 5 2 4 3 5 0 4 2 4 4 5-1 4 7 4 1 5-2 4 5 5 2 4 6 4 4 5 3 4 2 4 4 5 1 4 0 5-4 4-9 4-10 5 3 4 14 4 12 5 4 4 8 5 9 4 6 4 8 5 5 4 0 4 6 5-2 4 4 5 0 4 0 4 2 5 8 4 0 4 7 5 2 4 1 5 1 4 7 4 0 5 3 4 5 4 0 5-1 4 6 5 2 4 3 4 7" fill="none" stroke="#000" stroke-width="2.5" stroke-linejoin="round"/>
<path fill="#3577eb" stroke="#3577eb" stroke-width=".6" d="M591 662l4 8 4 2-4 6-5-6-4-4zM648 695l4 7 4 3-4 2-5 0-4-6zM661 708l4 3-5 7-4-6zM700 709l4 12-4 4-5-14z"/>
<path fill="#397ced" stroke="#397ced" stroke-width=".6" d="M599 672l5 2-5 4-4 0zM643 694l5 1-5 6-4-4zM656 705l5 3-5 4-4-5zM665 711l4 3-4 6-5-2z"/>
<path fill="#3c82f0" stroke="#3c82f0" stroke-width=".6" d="M604 674l4 3 5 1 4 1 4 4 5 0 4 6-5 5-4-3-4-2-5-5-4-2-4-3-5-1zM669 714l5 1-5 4-4 1z"/>
<path fill="#448cf2" stroke="#448cf2" stroke-width=".6" d="M630 689l4 1-4 3-5 1zM639 688l4 6-4 3-5-4zM674 715l4 0-4 6-5-2z"/>
<path fill="#4c96f4" stroke="#4c96f4" stroke-width=".6" d="M634 690l5-2-5 5-4 0zM696 696l4 13-5 2-4-3z"/>
<path fill="#53a0f7" stroke="#53a0f7" stroke-width=".6" d="M678 715l5-4-5 3-4 7z"/>
<path fill="#66b5fb" stroke="#66b5fb" stroke-width=".6" d="M683 711l4-8-5 7-4 4z"/>
<path fill="#83ccfd" stroke="#83ccfd" stroke-width=".6" d="M687 703l4-11 5 4-5 12-4-2-5 4z"/>
<path fill="#2f6ce5" stroke="#2f6ce5" stroke-width=".6" d="M704 721l5 4-5 6-4-6zM744 765l4 5 5 0 4-1-5 7-4-1-4-6-5 2z"/>
<path fill="#2c65e0" stroke="#2c65e0" stroke-width=".6" d="M709 725l4 9-4 5-5-8zM735 761l4 7 5-3-5 6-4-4-5-1zM757 769l4 3-4 9-5-5zM805 805l4 1-4 3-5-4z"/>
<path fill="#295ed8" stroke="#295ed8" stroke-width=".6" d="M713 734l5 9-5 1-4-5zM731 761l4 0-5 5-4-4zM761 772l5 7 4 0 4 7 5 2 4 1 5 1 4 7 4 0 5 3 4 5-5 0-4 2-4-4-5-5-4 1-4-3-5-6-4-2-5-2-4-4-4-1zM809 806l5-1-5 13-4-9z"/>
<path fill="#2657d0" stroke="#2657d0" stroke-width=".6" d="M718 743l4 5-5 4-4-8zM814 805l4 5 5 2 4 3-5 5-4-3-4-1-5 2z"/>
<path fill="#2350c8" stroke="#2350c8" stroke-width=".6" d="M722 748l4 8 5 5-5 1-4-3-5-7zM827 815l4 7-4 4-5-6z"/>
<path d="M586 668l4 4 5 6 4 0 5 1 4 3 4 2 5 5 4 2 4 3 5-1 4 0 5 4 4 4 4 6 5 0 4 5 4 6 5 2 4-1 5 2 4-7 4-4 5-4 4 2 4 3 5 14 4 6 5 8 4 5 4 8 5 7 4 3 4 4 5 1 4 4 5-2 4 6 4 1 5 5 4 1 4 4 5 2 4 2 5 6 4 3 4-1 5 5 4 4 4-2 5 4 4 9 5-2 4 1 4 3 5 6" fill="none" stroke="#000" stroke-width="2.5" stroke-linejoin="round"/>
<path fill="#3577eb" stroke="#3577eb" stroke-width=".6" d="M586 670l4 3 5 6 4 0 5 1 4 3 4 2 5 5 4 2-5 5-4-1-4-4-5-1-4-5-4 1-5-6-4-4-5 0zM639 698l4 4-5 5-4-5zM647 708l5 0 4 5-5 1-4 1-4-3zM660 720l5 2-5 0-4-2zM695 712l5 15-5 3-4-5z"/>
<path fill="#397ced" stroke="#397ced" stroke-width=".6" d="M621 692l4 3-4 2-5 0zM634 694l5 4-5 4-4-1zM665 722l4-1-4 4-5-3z"/>
<path fill="#3c82f0" stroke="#3c82f0" stroke-width=".6" d="M625 695l5-1 4 0-4 7-5-2-4-2zM669 721l5 2-5 2-4 0z"/>
<path fill="#3271e8" stroke="#3271e8" stroke-width=".6" d="M643 702l4 6-4 4-5-5zM656 713l4 7-4 0-5-6z"/>
<path fill="#448cf2" stroke="#448cf2" stroke-width=".6" d="M674 723l4-7-5 7-4 2zM691 709l4 3-4 13-5-5z"/>
<path fill="#53a0f7" stroke="#53a0f7" stroke-width=".6" d="M678 716l4-5-4 8-5 4zM687 707l4 2-5 11-4-4z"/>
<path fill="#5baaf9" stroke="#5baaf9" stroke-width=".6" d="M682 711l5-4-5 9-4 3z"/>
<path fill="#2f6ce5" stroke="#2f6ce5" stroke-width=".6" d="M700 727l4 5-5 5-4-7z"/>
<path fill="#295ed8" stroke="#295ed8" stroke-width=".6" d="M704 732l5 9-5 3-5-7zM739 773l5-3 4 6-5 8-4-8-5 1z"/>
<path fill="#2657d0" stroke="#2657d0" stroke-width=".6" d="M709 741l4 4-5 8-4-9zM735 769l4 4-5 4-4-2z"/>
<path fill="#2350c8" stroke="#2350c8" stroke-width=".6" d="M713 745l4 8-4 8-5-8zM730 768l5 1-5 6-4 2zM748 776l4 1 5 5 4 2-5 9-4-8-4 1-5-2zM783 800l4-1 5 6-5 4-4-4-5 0zM796 808l4-1 5 3-5 5-4 1-5-4z"/>
<path fill="#2049c0" stroke="#2049c0" stroke-width=".6" d="M717 753l5 7 4 3 4 5-4 9-5-8-4-5-4-3zM761 784l4 3 5 3 4 1 5 6 4 3-5 5-4 1-5-5-4-3-4-4-5-1zM792 805l4 3-5 4-4-3zM805 810l4 9 5-2-5 3-5-1-4-4z"/>
<path fill="#1d42b8" stroke="#1d42b8" stroke-width=".6" d="M814 817l4 1 4 3-4 7-5 1-4-9z"/>
<path fill="#1a3aac" stroke="#1a3aac" stroke-width=".6" d="M822 821l5 6-5 8-4-7z"/>
<path d="M581 677l5 0 4 4 5 6 4-1 4 5 5 1 4 4 4 1 5 0 4 2 5 2 4 1 4 5 5 5 4 3 4-1 5 6 4 2 5 3 4 0 4-2 5-4 4-3 4 4 5 5 4 5 4 7 5 7 4 9 5 8 4 3 4 5 5 8 4-2 4 2 5-1 4 8 5 2 4-1 4 8 5 1 4 4 4 3 5 5 4-1 5 0 4 4 4 3 5 4 4-1 4 4 5 1 4 9 5-1 4 7" fill="none" stroke="#000" stroke-width="2.5" stroke-linejoin="round"/>
<path fill="#3577eb" stroke="#3577eb" stroke-width=".6" d="M581 678l5 0 4 4 5 6-5 0-5-2-4-2-4-1zM608 694l4 3 4 1-4 4-5-1-4-4zM625 700l5 2 4 1-5 9-4-1-5-5zM660 723l5 3-5 6-5-1z"/>
<path fill="#3271e8" stroke="#3271e8" stroke-width=".6" d="M595 688l4 0 4 4 5 2-5 3-4-1-5-3-4-5zM634 703l4 5 5 5 4 3 4-1-4 10-5-2-4-6-4 2-5-7zM656 722l4 1-5 8-4-1z"/>
<path fill="#397ced" stroke="#397ced" stroke-width=".6" d="M616 698l5 0 4 2-5 6-4-3-4-1zM665 726l4 0-5 6-4 0zM686 721l5 6-5 7-4-2z"/>
<path fill="#2f6ce5" stroke="#2f6ce5" stroke-width=".6" d="M651 715l5 7-5 8-4-5zM691 727l4 5-5 10-4-8z"/>
<path fill="#3c82f0" stroke="#3c82f0" stroke-width=".6" d="M669 726l4-1-4 11-5-4z"/>
<path fill="#448cf2" stroke="#448cf2" stroke-width=".6" d="M673 725l5-4-5 8-4 7zM682 717l4 4-4 11-5-3z"/>
<path fill="#4c96f4" stroke="#4c96f4" stroke-width=".6" d="M678 721l4-4-5 12-4 0z"/>
<path fill="#295ed8" stroke="#295ed8" stroke-width=".6" d="M695 732l4 7-4 10-5-7z"/>
<path fill="#2657d0" stroke="#2657d0" stroke-width=".6" d="M699 739l5 7-5 11-4-8z"/>
<path fill="#2049c0" stroke="#2049c0" stroke-width=".6" d="M704 746l4 8-4 8-5-5zM730 776l4 2-4 9-5 0zM739 778l4 7-4 5-5 1z"/>
<path fill="#1d42b8" stroke="#1d42b8" stroke-width=".6" d="M708 754l5 8-5 7-4-7zM726 778l4-2-5 11-4-1zM743 785l5 3 4-2 4 8 5 1-5 11-4-6-5 0-4-5-4-5zM778 806l5 1 4 3-5 13-4-8-4 2z"/>
<path fill="#1a3aac" stroke="#1a3aac" stroke-width=".6" d="M713 762l4 3 4 5 5 8-5 8-4-3-5-7-4-7zM761 795l4 4 4 3 5 5 4-1-4 11-5-2-4-6-5-2-4-1zM787 810l4 3 5 4 4-1 4 4 5 1-5 14-4-1-5-3-4-4-4-2-5-2z"/>
<path fill="#2350c8" stroke="#2350c8" stroke-width=".6" d="M734 778l5 0-5 13-4-4z"/>
<path fill="#142c8d" stroke="#142c8d" stroke-width=".6" d="M809 821l4 9 5 0 4 6-5 13-4-9-4 4-5-9z"/>
<path d="M577 683l4 1 4 2 5 2 4 5 5 3 4 1 4 4 5 1 4 1 4 3 5 5 4 1 5 7 4-2 4 6 5 2 4 5 4 1 5 1 4 0 5 4 4-7 4 0 5 3 4 2 4 8 5 7 4 8 5 5 4 7 4 7 5 7 4 3 4 1 5 0 4 4 5-1 4 5 4 5 5 0 4 6 4 1 5 2 4 6 5 2 4-2 4 8 5 2 4 2 4 4 5 3 4 1 5 9 4-4 4 9" fill="none" stroke="#000" stroke-width="2.5" stroke-linejoin="round"/>
<path fill="#3577eb" stroke="#3577eb" stroke-width=".6" d="M577 684l4 1 4 2 5 3 4 4-4 1-5 0-4-3-5-6-4 2zM599 697l4 1-5 5-4-3zM616 705l4 2 5 5 4 1 5 7 4-2-5 2-4-6-4 1-5-1-4-1-5-6zM655 732l5 1-5 2-4-2z"/>
<path fill="#3271e8" stroke="#3271e8" stroke-width=".6" d="M594 694l5 3-5 3-4-5zM638 718l4 6-4 0-5-4zM651 732l4 0-4 1-5-1z"/>
<path fill="#397ced" stroke="#397ced" stroke-width=".6" d="M603 698l4 4 5 2 4 1-5 2-4-4-4 0-5 0zM660 733l4 0 5 4-5 0-4 2-5-4zM682 734l4 2-5 3-4-4z"/>
<path fill="#2f6ce5" stroke="#2f6ce5" stroke-width=".6" d="M642 724l5 2 4 6-5 0-4-6-4-2zM686 736l4 7-4 1-5-5z"/>
<path fill="#3c82f0" stroke="#3c82f0" stroke-width=".6" d="M669 737l4-7-5 5-4 2z"/>
<path fill="#448cf2" stroke="#448cf2" stroke-width=".6" d="M673 730l4 0 5 4-5 1-4 2-5-2z"/>
<path fill="#295ed8" stroke="#295ed8" stroke-width=".6" d="M690 743l5 8-5 3-4-10z"/>
<path fill="#2350c8" stroke="#2350c8" stroke-width=".6" d="M695 751l4 7-4 1-5-5zM730 788l4 4 5-1-5 5-4-7-5 4z"/>
<path fill="#2049c0" stroke="#2049c0" stroke-width=".6" d="M699 758l5 5-5 0-4-4zM725 788l5 0-5 5-4-1zM739 791l4 5-5 3-4-3zM752 801l4 7-5-3-4 1z"/>
<path fill="#1d42b8" stroke="#1d42b8" stroke-width=".6" d="M704 763l4 7-5 1-4-8zM721 787l4 1-4 4-5-6zM743 796l4 5 5 0-5 5-4-2-5-5zM756 808l4 0-4 4-5-7zM774 819l4-3-5 6-4-1z"/>
<path fill="#17339d" stroke="#17339d" stroke-width=".6" d="M708 770l4 7-4 4-5-10zM782 824l5 2-5 2-4 0zM800 835l4 2-4 2-5-3z"/>
<path fill="#142c8d" stroke="#142c8d" stroke-width=".6" d="M712 777l5 7-5 0-4-3zM804 837l5 9 4-5 4 9-4-1-5-2-4-3-4-5z"/>
<path fill="#1a3aac" stroke="#1a3aac" stroke-width=".6" d="M717 784l4 3-5-1-4-2zM760 808l5 2 4 6 5 3-5 2-4-1-5-3-4-5zM778 816l4 8-4 4-5-6zM787 826l4 2 4 4 5 3-5 1-4-2-5-1-4-5z"/>
<path d="M572 688l4-2 5 6 4 3 5 0 4 5 4 3 5 0 4 0 4 4 5 6 4 1 5 1 4-1 4 6 5 4 4 2 4 6 5 1 4 2 5 4 4-2 4-2 5 2 4-2 4 4 5 5 4 10 5 5 4 4 4 8 5 10 4 3 4 2 5 6 4 1 5-4 4 7 4 3 5 5 4 2 4-1 5 7 4 5 5 3 4 1 4 1 5 6 4 0 4 5 5 1 4 2 5 3 4 5 4 3 5 2" fill="none" stroke="#000" stroke-width="2.5" stroke-linejoin="round"/>
<path fill="#3577eb" stroke="#3577eb" stroke-width=".6" d="M572 689l4-1 5 6 4 2 5 0 4 6 4 2-4 2-5-2-4-2-4-5-5-4-4 2-5-6zM633 721l5 4-5-2-4 1zM651 735l4 1-4 4-5-2z"/>
<path fill="#397ced" stroke="#397ced" stroke-width=".6" d="M598 704l5 0-5 2-4 0zM607 705l4 3 5 7 4 0 5 1 4 0 4 5-4 3-5-4-4-2-4-3-5-6-4 5-5-7zM655 736l5 4-5 1-4-1z"/>
<path fill="#3c82f0" stroke="#3c82f0" stroke-width=".6" d="M603 704l4 1-5 2-4-1zM660 740l4-2-5 1-4 2zM677 737l4 4-4 4-5-3z"/>
<path fill="#3271e8" stroke="#3271e8" stroke-width=".6" d="M638 725l4 2-5 2-4-6zM646 734l5 1-5 3-4-3zM681 741l5 4-5 3-4-3z"/>
<path fill="#2f6ce5" stroke="#2f6ce5" stroke-width=".6" d="M642 727l4 7-4 1-5-6z"/>
<path fill="#448cf2" stroke="#448cf2" stroke-width=".6" d="M664 738l4-2-4 5-5-2z"/>
<path fill="#4c96f4" stroke="#4c96f4" stroke-width=".6" d="M668 736l5 3 4-2-5 5-4-5-4 4z"/>
<path fill="#295ed8" stroke="#295ed8" stroke-width=".6" d="M686 745l4 11-5 4-4-12z"/>
<path fill="#2350c8" stroke="#2350c8" stroke-width=".6" d="M690 756l5 4 4 4-5 4-4-4-5-4zM725 794l5-3-5 10-5-2zM734 798l4 2-4 3-5-7zM743 805l4 2 4-1-4 3-5-4-4 1z"/>
<path fill="#1d42b8" stroke="#1d42b8" stroke-width=".6" d="M699 764l4 8-4 4-5-8zM712 786l4 1 5 6-5 2-4-2-5-6zM751 806l5 7-5 2-4-6zM765 821l4 1 4 2 5 5 4 0-5 3-4-3-4-4-5 1-4-5zM795 837l5 3-5 0-5-4z"/>
<path fill="#17339d" stroke="#17339d" stroke-width=".6" d="M703 772l5 10 4 4-5 1-4-5-4-6zM800 840l4 5 4 3-4 0-5 1-4-9z"/>
<path fill="#2049c0" stroke="#2049c0" stroke-width=".6" d="M721 793l4 1-5 5-4-4zM738 800l5 5-5 1-4-3zM782 829l4 5 5 1 4 2-5-1-4 0-4-3-5-1z"/>
<path fill="#2657d0" stroke="#2657d0" stroke-width=".6" d="M730 791l4 7-5-2-4 5z"/>
<path fill="#1a3aac" stroke="#1a3aac" stroke-width=".6" d="M756 813l4 5 5 3-5 0-5-3-4-3zM808 848l5 2-5 5-4-7z"/>
<path d="M567 689l5 6 4-2 5 4 4 5 4 2 5 2 4 0 4 1 5 7 4-5 5 6 4 3 4 2 5 4 4-1 4 6 5 6 4 3 5 2 4 1 4-2 5 2 4-4 4 5 5 3 4 3 4 12 5 4 4 4 5 8 4 6 4 5 5 6 4 2 4 4 5 2 4-5 5 7 4 3 4-1 5 4 4 6 4 3 5 3 4 5 5-1 4 4 4 3 5 1 4 3 4 0 5 4 4 9 5-1 4 7" fill="none" stroke="#000" stroke-width="2.5" stroke-linejoin="round"/>
<path fill="#397ced" stroke="#397ced" stroke-width=".6" d="M567 690l5 6 4-2 5 4-5 3-5-5-4-2-4-4zM589 705l5 2 4 0 4 2 5 6-5-1-4-1-5-1-4-7-4 0zM616 717l4 3 4 1-4 4-5-4-4-4zM651 741l4 1-5 1-4-1z"/>
<path fill="#3577eb" stroke="#3577eb" stroke-width=".6" d="M581 698l4 5 4 2-4 0-5-3-4-1zM624 721l5 5 4-1-5 7-4-5-4-2zM646 739l5 2-5 1-5-1zM677 747l4 2-5 2-4-1z"/>
<path fill="#3c82f0" stroke="#3c82f0" stroke-width=".6" d="M607 715l4-5 5 7-5 0-5 0-4-3zM672 743l5 4-5 3-4-6z"/>
<path fill="#3271e8" stroke="#3271e8" stroke-width=".6" d="M633 725l4 5 5 6 4 3-5 2-4-2-4-2-5-5z"/>
<path fill="#448cf2" stroke="#448cf2" stroke-width=".6" d="M655 742l4-2-4 2-5 1z"/>
<path fill="#4c96f4" stroke="#4c96f4" stroke-width=".6" d="M659 740l5 2-5 1-4-1z"/>
<path fill="#53a0f7" stroke="#53a0f7" stroke-width=".6" d="M664 742l4-4 4 5-4 1-5-3-4 2z"/>
<path fill="#2c65e0" stroke="#2c65e0" stroke-width=".6" d="M681 749l4 12-4-4-5-6z"/>
<path fill="#2657d0" stroke="#2657d0" stroke-width=".6" d="M685 761l5 5-5 1-4-10zM725 802l4-4 5 6-5-1-4-1-5-3zM738 807l4-1 5 4-5 1-4-2-5 1z"/>
<path fill="#2350c8" stroke="#2350c8" stroke-width=".6" d="M690 766l4 3-4 2-5-4zM716 796l4 4 5 2-5-3-4 1-5-4zM734 804l4 3-5 3-4-7z"/>
<path fill="#2049c0" stroke="#2049c0" stroke-width=".6" d="M694 769l5 8-5-1-4-5zM712 794l4 2-5 0-4-2zM747 810l4 6-5-1-4-4zM769 827l4 3 4 3 5 2 4 2 4 1-4 3-5 1-4-6-4-1-5-2-4-2z"/>
<path fill="#1a3aac" stroke="#1a3aac" stroke-width=".6" d="M699 777l4 7 4 4 5 6-5 0-4-5-5-4-4-9zM799 851l5-2-5 3-4-2z"/>
<path fill="#1d42b8" stroke="#1d42b8" stroke-width=".6" d="M751 816l4 4 5 2 4 5 5 0-5 4-4-3-5-6-4-2-5-5zM790 838l5 3-5 7-4-7zM804 849l4 7-5-3-4-1z"/>
<path fill="#17339d" stroke="#17339d" stroke-width=".6" d="M795 841l4 10-4-1-5-2z"/>
<path d="M563 690l4 4 4 2 5 5 4 1 5 3 4 0 4 7 5 1 4 1 4 3 5 0 4 4 5 4 4 2 4 5 5 5 4 2 4 2 5 1 4 1 5-1 4 1 4-2 5 3 4 6 4 1 5 6 4 10 5 4 4 5 4 9 5 4 4 5 4 2 5 4 4-1 5 3 4 1 4 7 5-1 4 2 4 4 5 5 4 2 5 6 4 3 4 2 5 2 4 1 4 6 5-1 4 7 5 2 4 2 4 1" fill="none" stroke="#000" stroke-width="2.5" stroke-linejoin="round"/>
<path fill="#3c82f0" stroke="#3c82f0" stroke-width=".6" d="M563 691l4 4 4 3-4 0-5-3-4 1zM598 714l4 1 4 3-4 1-5-3-4-2zM646 744l4 0 5-1-5 9-4-4-5-6zM668 745l4 6-5 3-4-6z"/>
<path fill="#397ced" stroke="#397ced" stroke-width=".6" d="M571 698l5 4 4 1 5 4 4 0 4 6 5 1-5 0-4 1-5-4-4-5-4-2-5-3-4-3zM606 718l5 0 4 4 5 4-5 4-4-6-5 0-4-5zM641 742l5 2-5-2-4 0z"/>
<path fill="#3577eb" stroke="#3577eb" stroke-width=".6" d="M620 726l4 2 4 5-4 3-5-6-4 0zM633 738l4 2 4 2-4 0-5-3-4-2zM672 751l4 1-4 5-5-3z"/>
<path fill="#3271e8" stroke="#3271e8" stroke-width=".6" d="M628 733l5 5-5-1-4-1z"/>
<path fill="#448cf2" stroke="#448cf2" stroke-width=".6" d="M655 743l4 1-5 2-4 6z"/>
<path fill="#53a0f7" stroke="#53a0f7" stroke-width=".6" d="M659 744l4-2-4 4-5 0z"/>
<path fill="#4c96f4" stroke="#4c96f4" stroke-width=".6" d="M663 742l5 3-5 3-4-2z"/>
<path fill="#2f6ce5" stroke="#2f6ce5" stroke-width=".6" d="M676 752l5 7-5 5-4-7z"/>
<path fill="#2657d0" stroke="#2657d0" stroke-width=".6" d="M681 759l4 9-4 4-5-8zM711 798l5 3 4 0 5 3 4 0 4 7 5 0 4 1-5 4-4-6-4 1-5-1-4-3-4-3-5-4-4 2z"/>
<path fill="#2350c8" stroke="#2350c8" stroke-width=".6" d="M685 768l5 5-5 4-4-5zM742 812l4 5-4 2-5-3zM773 836l4 1-5 2-4-1z"/>
<path fill="#2049c0" stroke="#2049c0" stroke-width=".6" d="M690 773l4 5-5 3-4-4zM707 795l4 3-4 4-5-1zM746 817l5 4 4 3-4 1-5-1-4-5zM764 832l4 2 5 2-5 2-4-2-5-2zM777 837l4 6 5-1-5 3-4-1-5-5z"/>
<path fill="#1d42b8" stroke="#1d42b8" stroke-width=".6" d="M694 778l4 8-4 4-5-9zM703 790l4 5-5 6-4-10zM755 824l5 5 4 3-5 2-4-5-4-4zM786 842l4 8-4-5-5 0zM799 853l4 1-4 3-5 1z"/>
<path fill="#1a3aac" stroke="#1a3aac" stroke-width=".6" d="M698 786l5 4-5 1-4-1zM790 850l5 1 4 2-5 5-4-4-4-9z"/>
<path d="M558 696l4-1 5 3 4 3 5 3 4 2 4 5 5 4 4-1 4 2 5 3 4 5 5 0 4 6 4 0 5 6 4 1 4 2 5 3 4 0 5 6 4 4 4-6 5 0 4 2 4 6 5 3 4 7 5 8 4 5 4 4 5 9 4 1 4 10 5 1 4-2 5 4 4 3 4 3 5 1 4-1 4 6 5 3 4 5 5 1 4 4 4 5 5 2 4 2 4 1 5 5 4 1 5 0 4 9 4 4 5-1" fill="none" stroke="#000" stroke-width="2.5" stroke-linejoin="round"/>
<path fill="#3c82f0" stroke="#3c82f0" stroke-width=".6" d="M558 697l4 0 5 2-5 2-4 0-5-4zM576 705l4 2 4 5 5 4 4-1 4 2 5 3 4 5-4 0-5-2-4 0-5-8-4-3-4-1-5-2-4 3zM637 743l4 0 5 7 4 3-5-4-4-2-5 1-4-5z"/>
<path fill="#397ced" stroke="#397ced" stroke-width=".6" d="M567 699l4 3 5 3-5 7-4-4-5-7zM606 725l5 1 4 5 4 0 5 6-5-1-4-3-5 1-4-8-4-1zM628 738l4 2 5 3-5 0-4-1-5-1zM663 749l4 6-4 2-5 0z"/>
<path fill="#3577eb" stroke="#3577eb" stroke-width=".6" d="M624 737l4 1-5 3-4-5z"/>
<path fill="#448cf2" stroke="#448cf2" stroke-width=".6" d="M650 753l4-6 5 1 4 1-5 8-4-4-4-1-5-3z"/>
<path fill="#3271e8" stroke="#3271e8" stroke-width=".6" d="M667 755l5 4-5 5-4-7z"/>
<path fill="#2c65e0" stroke="#2c65e0" stroke-width=".6" d="M672 759l4 6-5 5-4-6z"/>
<path fill="#295ed8" stroke="#295ed8" stroke-width=".6" d="M676 765l5 8-5-1-5-2z"/>
<path fill="#2350c8" stroke="#2350c8" stroke-width=".6" d="M681 773l4 5-5 3-4-9zM729 813l4-2 4 6 5 3-5 3-4 0-5-2-4-9zM768 839l4 1-4 1-5-1z"/>
<path fill="#2049c0" stroke="#2049c0" stroke-width=".6" d="M685 778l4 4-4 3-5-4zM702 803l5 0-5 0-4-1zM742 820l4 5 5 1 4 5 4 5 5 2 4 1-5 1-4 1-4-6-5-2-4-4-5 0-4-6zM772 840l5 5 4 1 5 0-5 4-5-3-4 2-4-8z"/>
<path fill="#1d42b8" stroke="#1d42b8" stroke-width=".6" d="M689 782l5 9-5-1-4-5zM698 792l4 11-4-1-5-4zM786 846l4 9-5-1-4-4z"/>
<path fill="#1a3aac" stroke="#1a3aac" stroke-width=".6" d="M694 791l4 1-5 6-4-8zM790 855l4 4 5-1-5 7-4-6-5-5z"/>
<path fill="#2657d0" stroke="#2657d0" stroke-width=".6" d="M707 803l4-2 5 5 4 2 4 3 5 2-5-1-4-4-5 3-4-1-5-6-4-1z"/>
<path d="M553 697l5 4 4 0 5 7 4 4 4-3 5 2 4 1 4 3 5 8 4 0 5 2 4 1 4 8 5-1 4 3 4 5 5 1 4 1 4 5 5-1 4 2 5 3 4 1 4 4 5 0 4 7 4 6 5 2 4 9 5 4 4 5 4 8 5 4 4 1 4 1 5 6 4 1 5-3 4 4 4 9 5 2 4 0 4 6 5 0 4 4 5 2 4 6 4-1 5 1 4 8 4-2 5 3 4 4 5 5 4 6" fill="none" stroke="#000" stroke-width="2.5" stroke-linejoin="round"/>
<path fill="#397ced" stroke="#397ced" stroke-width=".6" d="M553 699l5 4 4 0 5 6 4 4-5-2-4-2-5-1-4-5-4-3zM610 735l5-1 4 3 4 5 5 2-5 0-4 0-5-7-4-2-4-2zM632 744l4 5-4 2-5-4zM658 758l5 0-5 4-4 1z"/>
<path fill="#448cf2" stroke="#448cf2" stroke-width=".6" d="M571 713l4-2 5 1 4 1-5 5-4-5-4-1-5-1z"/>
<path fill="#3c82f0" stroke="#3c82f0" stroke-width=".6" d="M584 713l4 3 5 8 4 0 5 2 4 2 4 7-4-2-5-6-4 2-5-3-4-5-4 0-5-3zM628 744l4 0-5 3-4-3zM636 749l5 0 4 1 5 3 4 1 4 4-4 5-5-4-4 2-4-5-5-4-4-1z"/>
<path fill="#3271e8" stroke="#3271e8" stroke-width=".6" d="M663 758l4 7-5 3-4-6z"/>
<path fill="#2c65e0" stroke="#2c65e0" stroke-width=".6" d="M667 765l4 6-4 3-5-6z"/>
<path fill="#295ed8" stroke="#295ed8" stroke-width=".6" d="M671 771l5 3-5 4-4-4zM711 811l4 1 5-3-5 7-4-5-5-1z"/>
<path fill="#2657d0" stroke="#2657d0" stroke-width=".6" d="M676 774l4 8-4-1-5-3zM702 804l4 1 5 6-5-1-4-2-5 0zM720 809l4 5-5 6-4-4z"/>
<path fill="#2350c8" stroke="#2350c8" stroke-width=".6" d="M680 782l5 4-5 1-4-6zM698 803l4 1-5 4-4-2zM724 814l4 8 5 2 4 0 4 6-4-2-5-4-4 0-4-1-5-3zM763 842l5 0-5 4-4 2z"/>
<path fill="#2049c0" stroke="#2049c0" stroke-width=".6" d="M685 786l4 5-5 4-4-8zM741 830l5 0-5 6-4-8zM750 834l5 2 4 7 4-1-4 6-5-6-4-4-4 2zM768 842l4 8 4-2 5 4-5 3-4-4-5 0-4-5z"/>
<path fill="#1d42b8" stroke="#1d42b8" stroke-width=".6" d="M689 791l4 8 5 4-5 3-4-6-5-5zM746 830l4 4-4 6-5-4zM781 852l4 4-4 2-5-3z"/>
<path fill="#1a3aac" stroke="#1a3aac" stroke-width=".6" d="M785 856l5 4-5 2-4-4z"/>
<path fill="#17339d" stroke="#17339d" stroke-width=".6" d="M790 860l4 6-5 2-4-6z"/>
<path d="M549 700l4 3 4 5 5 1 4 2 5 1 4 1 4 5 5 3 4 0 4 5 5 3 4-2 5 6 4 2 4 2 5 7 4 0 4 3 5 4 4 1 5 4 4 5 4-2 5 4 4-1 4 6 5 6 4 4 5 3 4 6 4 8 5 5 4 6 4 2 5 0 4 2 5 1 4 5 4 4 5 3 4 1 4 0 5 4 4 8 5 4 4-2 4 4 5 6 4-2 4 5 5 0 4 4 5 3 4 4 4 6" fill="none" stroke="#000" stroke-width="2.5" stroke-linejoin="round"/>
<path fill="#3c82f0" stroke="#3c82f0" stroke-width=".6" d="M549 702l4 2-5 3-4-5zM562 711l4 1-4 4-5-4zM579 719l5 3-5 0-4-1zM606 734l4 2 4 2-4-2-5 2-4-5zM623 745l4 3 5 4 4 1 5 4-5 0-4-3-5-2-4-5-5 1zM645 762l4-2 5 4-5 0-4-1-5-2z"/>
<path fill="#397ced" stroke="#397ced" stroke-width=".6" d="M553 704l4 5 5 2-5 1-4-2-5-3zM614 738l5 7 4 0-5 3-4-7-4-5zM641 757l4 5-5-1-4-4zM654 764l4 0-5 5-4-5z"/>
<path fill="#448cf2" stroke="#448cf2" stroke-width=".6" d="M566 712l5 2 4 1 4 4-4 2-5-6-4 4-4-3zM584 722l4 1 4 4-4-3-5 2-4-4zM597 730l4-2 5 6-5-1-4-2-5-6z"/>
<path fill="#4c96f4" stroke="#4c96f4" stroke-width=".6" d="M592 727l5 3-5-5-4-1z"/>
<path fill="#3271e8" stroke="#3271e8" stroke-width=".6" d="M658 764l4 5-4 5-5-5z"/>
<path fill="#2f6ce5" stroke="#2f6ce5" stroke-width=".6" d="M662 769l5 6-5-2-4 1z"/>
<path fill="#2c65e0" stroke="#2c65e0" stroke-width=".6" d="M667 775l4 4-4 3-5-9z"/>
<path fill="#295ed8" stroke="#295ed8" stroke-width=".6" d="M671 779l5 3-5 6-4-6zM702 809l4 2 5 1 4 5-5-1-4-1-4-2-5 2z"/>
<path fill="#2350c8" stroke="#2350c8" stroke-width=".6" d="M676 782l4 6-5 6-4-6zM693 807l4 2-4 0-5-2zM719 821l5 3-5 3-4-9zM732 825l5 4-5 3-4-1zM759 849l4-2-5 3-4 1z"/>
<path fill="#2049c0" stroke="#2049c0" stroke-width=".6" d="M680 788l4 8-4 1-5-3zM689 802l4 5-5 0-4-5zM737 829l4 8 5 4 4-2-5 3-4-4-4-3-5-3zM763 847l4 5 5 0 4 5 5 2-5 1-4 4-5-5-4-3-5-6z"/>
<path fill="#1d42b8" stroke="#1d42b8" stroke-width=".6" d="M684 796l5 6-5 0-4-5zM750 839l4 4 5 6-5 2-4 0-5-9zM781 859l4 4-5 2-4-5z"/>
<path fill="#2657d0" stroke="#2657d0" stroke-width=".6" d="M697 809l5 0-5 6-4-6zM715 817l4 4-4-3-5-2zM724 824l4 1 4 0-4 6-5-11-4 7z"/>
<path fill="#1a3aac" stroke="#1a3aac" stroke-width=".6" d="M785 863l4 6-4 2-5-6z"/>
<path d="M544 702l4 5 5 3 4 2 5 4 4 3 4-4 5 6 4 1 4 4 5-2 4 1 5 6 4 2 4 5 5-2 4 5 4 7 5-1 4 5 5 2 4 3 4 4 5 2 4 1 4 5 5 5 4-1 5 9 4 6 4 6 5 3 4 5 4 5 5 2 4 6 5-2 4 2 4 1 5 2 4 9 4-7 5 11 4 1 5 3 4 3 4 4 5 9 4 0 4-1 5 6 4 3 5 5 4-4 4 5 5 6" fill="none" stroke="#000" stroke-width="2.5" stroke-linejoin="round"/>
<path fill="#3c82f0" stroke="#3c82f0" stroke-width=".6" d="M544 703l4 5 5 3-5 1-4-5-5-2zM610 738l4 4 4 7 5-1 4 5 5 3 4 2 4 4 5 3 4 0-5 4-4-4-4-5-5-5-4 0-5-1-4-6-4-2-5-1-4-5z"/>
<path fill="#448cf2" stroke="#448cf2" stroke-width=".6" d="M553 711l4 2 5 5 4 2 4-3 5 6 4 1 4 3-4 2-5-2-4-6-4 2-5-7-4 1-4-5-5 0zM601 734l4 5 5-1-5 2-4-7-5 3z"/>
<path fill="#4c96f4" stroke="#4c96f4" stroke-width=".6" d="M583 727l5-2-5 2-4 2zM592 726l5 6 4 2-5 2-4-6-5 1z"/>
<path fill="#53a0f7" stroke="#53a0f7" stroke-width=".6" d="M588 725l4 1-5 5-4-4z"/>
<path fill="#3577eb" stroke="#3577eb" stroke-width=".6" d="M649 765l4 5-4 1-5-2z"/>
<path fill="#2f6ce5" stroke="#2f6ce5" stroke-width=".6" d="M653 770l5 6-5 3-4-8z"/>
<path fill="#2c65e0" stroke="#2c65e0" stroke-width=".6" d="M658 776l4-2 5 9-5 3-5 0-4-7zM702 815l4 1 4 2-4 0-5-2-4 0z"/>
<path fill="#295ed8" stroke="#295ed8" stroke-width=".6" d="M667 783l4 6-5 3-4-6zM693 810l4 6 5-1-5 1-5-1-4-4zM710 818l5 2-5 1-4-3zM719 828l4-7-4 4-5-1z"/>
<path fill="#2657d0" stroke="#2657d0" stroke-width=".6" d="M671 789l4 6-4-4-5 1zM688 809l5 1-5 1-4 1zM715 820l4 8-5-4-4-3zM723 821l5 12-5-5-4-3z"/>
<path fill="#2350c8" stroke="#2350c8" stroke-width=".6" d="M675 795l5 3-5 2-4-9zM728 833l4 1 5 2 4 3-5 2-4-8-5 5-4-10zM754 852l4-1 5 6-5-1-4-3-5-3z"/>
<path fill="#1d42b8" stroke="#1d42b8" stroke-width=".6" d="M680 798l4 5-5 5-4-8zM745 843l5 10-5-4-4-7zM780 866l5 6-5-3-4-2z"/>
<path fill="#2049c0" stroke="#2049c0" stroke-width=".6" d="M684 803l4 6-4 3-5-4zM741 839l4 4-4-1-5-1zM750 853l4-1-5-2-4-1zM763 857l4 3 5 5 4-4 4 5-4 1-5-1-4-6-5-3-4-1z"/>
<path d="M539 705l5 2 4 5 5 0 4 5 4-1 5 7 4-2 4 6 5 2 4-2 4 4 5-1 4 6 5-3 4 7 4 5 5 1 4 2 4 6 5 1 4 0 5 5 4 5 4 4 5 2 4 8 4 7 5 0 4 6 5-1 4 9 4 8 5 4 4-1 4 4 5 1 4 0 5 2 4 3 4 3 5 1 4 3 4 10 5-5 4 8 5 1 4 7 4 1 5 3 4 3 4 1 5 3 4 6 5 1 4 2" fill="none" stroke="#000" stroke-width="2.5" stroke-linejoin="round"/>
<path fill="#3c82f0" stroke="#3c82f0" stroke-width=".6" d="M539 706l5 3 4 4-5 4-4-4-4-3zM636 761l4 5 4 5-4-3-5 0-4-5z"/>
<path fill="#448cf2" stroke="#448cf2" stroke-width=".6" d="M548 713l5 0-5 6-5-2zM609 746l5 1 4 2 4 7 5 0 4 0 5 5-5 2-4-2-5-5-4-4-5-2-4-2-4-8z"/>
<path fill="#4c96f4" stroke="#4c96f4" stroke-width=".6" d="M553 713l4 5-5 1-4 0zM566 724l4-2 4 6 5 2-5-2-4-4-5 0-4-4zM605 741l4 5-4-6-5-2z"/>
<path fill="#53a0f7" stroke="#53a0f7" stroke-width=".6" d="M557 718l4-1 5 7-5-4-4-2-5 1zM579 730l4-2-5-1-4 1zM592 731l4 6 5-2 4 6-5-3-4-1-4-2-5-6z"/>
<path fill="#5baaf9" stroke="#5baaf9" stroke-width=".6" d="M583 728l4 4 5-1-5-2-4 2-5-4z"/>
<path fill="#3577eb" stroke="#3577eb" stroke-width=".6" d="M644 771l5 1-5 1-4-5z"/>
<path fill="#2f6ce5" stroke="#2f6ce5" stroke-width=".6" d="M649 772l4 8-5 1-4-8zM657 787l5 0 4 6-4-4-5-2-4 0z"/>
<path fill="#2c65e0" stroke="#2c65e0" stroke-width=".6" d="M653 780l4 7-4 0-5-6zM688 813l4 4 5 0 4 0 5 2 4 3-5 3-4-5-4 1-5-6-4 0-5-2z"/>
<path fill="#295ed8" stroke="#295ed8" stroke-width=".6" d="M666 793l5 0-5 4-4-8zM684 813l4 0-5 0-4 1zM710 822l4 4 5 1-5 4-4-6-5 0z"/>
<path fill="#2350c8" stroke="#2350c8" stroke-width=".6" d="M671 793l4 9-5-1-4-4zM745 850l4 1-4 3-5-3zM754 854l4 3 4 1 5 3 4 6 5 2 4 1-5 0-4-1-4-5-5-2-4 0-5-1-4-9z"/>
<path fill="#2049c0" stroke="#2049c0" stroke-width=".6" d="M675 802l4 7 5 4-5 1-4-5-5-8zM736 842l5 1 4 7-5 1-4-3-4-5z"/>
<path fill="#2657d0" stroke="#2657d0" stroke-width=".6" d="M719 827l4 2 4 11 5-5 4 7-4 1-5-5-4 0-5-3-4-4zM749 851l5 3-5-2-4 2z"/>
<path d="M535 710l4 3 4 4 5 2 4 0 5-1 4 2 4 4 5 0 4 4 4-1 5 4 4-2 5 6 4 2 4 1 5 2 4 8 4 2 5 2 4 4 5 5 4 2 4 5 5 0 4 5 4 8 5 6 4 0 5 2 4 8 4 4 5 8 4 5 4-1 5 2 4 0 5 6 4-1 4 5 5 0 4 6 4 4 5 3 4 0 5 5 4 5 4 3 5 3 4-2 4 9 5 1 4 0 5 2 4 5 4 1" fill="none" stroke="#000" stroke-width="2.5" stroke-linejoin="round"/>
<path fill="#3c82f0" stroke="#3c82f0" stroke-width=".6" d="M535 711l4 3 4 4-4 5-5-8-4-3zM635 769l5 0-5 4-4-5z"/>
<path fill="#448cf2" stroke="#448cf2" stroke-width=".6" d="M543 718l5 2-5 1-4 2zM622 757l5 6 4 1 4 5-4-1-5-4-4-1-4-8z"/>
<path fill="#4c96f4" stroke="#4c96f4" stroke-width=".6" d="M548 720l4 0-4 4-5-3zM609 749l4 2 5 2 4 4-4-2-5-2-4-4-5-5z"/>
<path fill="#53a0f7" stroke="#53a0f7" stroke-width=".6" d="M552 720l5 0 4 1 4 5-4 2-5-2-4-2-4 0zM605 741l4 8-5-5-4-4z"/>
<path fill="#5baaf9" stroke="#5baaf9" stroke-width=".6" d="M565 726l5-1 4 5-5-1-4-1-4 0zM583 732l4-2-4 7-5-3zM600 739l5 2-5-1-4-3z"/>
<path fill="#66b5fb" stroke="#66b5fb" stroke-width=".6" d="M574 730l4-2 5 4-5 2-4-4-5-1zM587 730l5 7 4 2 4 0-4-2-5 2-4-4-4 2z"/>
<path fill="#397ced" stroke="#397ced" stroke-width=".6" d="M640 769l4 6-5 0-4-2z"/>
<path fill="#3271e8" stroke="#3271e8" stroke-width=".6" d="M644 775l4 8-4 0-5-8zM688 817l4-1-4-1-5 1z"/>
<path fill="#2f6ce5" stroke="#2f6ce5" stroke-width=".6" d="M648 783l5 6 4-1 5 3-5 5-4-4-5-8-4-1zM683 814l5 3-5-1-4 3zM692 816l5 6 4-1 4 5-4-1-5-6-4 1-4-5z"/>
<path fill="#295ed8" stroke="#295ed8" stroke-width=".6" d="M662 791l4 7-5 4-4-6zM710 826l4 6-5 0-4-7zM718 836l5 3 4 0-4 4-5-7-4 3z"/>
<path fill="#2657d0" stroke="#2657d0" stroke-width=".6" d="M666 798l4 4-4 2-5-2zM714 832l4 4-4 3-5-7zM740 853l5 3 4-3 4 10 5 0 4 0-4 5-5-7-4-4-5 2-4-4-4 0z"/>
<path fill="#2350c8" stroke="#2350c8" stroke-width=".6" d="M670 802l5 8 4 6-5-2-4-2-4-8zM727 839l5 6 4 4 4 4-4 2-5-5-4-2-4-5zM762 863l5 2 4 5 4 2-4 5-5-5-4-1-4-3z"/>
<path fill="#2c65e0" stroke="#2c65e0" stroke-width=".6" d="M679 816l4-2-4 5-5-5zM705 826l5 0-5-1-4 0z"/>
<path d="M530 712l4 3 5 8 4-2 5 3 4 0 4 2 5 2 4 0 4 1 5 1 4 4 5 3 4-2 4 4 5-2 4 3 4 4 5 5 4 4 5 2 4 8 4 1 5 4 4 5 4 2 5 8 4 1 5 8 4 4 4 6 5 2 4 8 4 2 5 5 4-3 5-1 4 5 4-1 5 6 4 0 4 7 5 7 4-3 5 7 4 5 4 2 5 5 4 0 4 4 5-2 4 4 5 7 4 3 4 1 5 5" fill="none" stroke="#000" stroke-width="2.5" stroke-linejoin="round"/>
<path fill="#3c82f0" stroke="#3c82f0" stroke-width=".6" d="M530 713l4 3 5 8-5 0-4-1-5-1zM622 764l4 1 5 4-5 7-4-7-5-2z"/>
<path fill="#448cf2" stroke="#448cf2" stroke-width=".6" d="M539 724l4-1-4 4-5-3zM618 756l4 8-5 3-4-8z"/>
<path fill="#4c96f4" stroke="#4c96f4" stroke-width=".6" d="M543 723l5 2 4 0-5 2-4 0-4 0zM613 754l5 2-5 3-5-2z"/>
<path fill="#53a0f7" stroke="#53a0f7" stroke-width=".6" d="M552 725l4 2 5 3-5 2-4-1-5-4zM609 751l4 3-5 3-4-9z"/>
<path fill="#5baaf9" stroke="#5baaf9" stroke-width=".6" d="M561 730l4-1-5 4-4-1zM604 745l5 6-5-3-4-2z"/>
<path fill="#66b5fb" stroke="#66b5fb" stroke-width=".6" d="M565 729l4 1-4 3-5 0zM600 741l4 4-4 1-5-1z"/>
<path fill="#75c1fc" stroke="#75c1fc" stroke-width=".6" d="M569 730l5 1 4 4 5 4 4-3 4 4-4-1-5-3-4-3-5 0-4-2-4 2zM596 739l4 2-5 4-4-7z"/>
<path fill="#83ccfd" stroke="#83ccfd" stroke-width=".6" d="M591 740l5-1-5-1-4 1z"/>
<path fill="#397ced" stroke="#397ced" stroke-width=".6" d="M631 769l4 5 4 2-4 6-5-4-4-2z"/>
<path fill="#3577eb" stroke="#3577eb" stroke-width=".6" d="M639 776l5 9 4 1-5 0-4-1-4-3zM683 817l5-1-5 4-5-3z"/>
<path fill="#3271e8" stroke="#3271e8" stroke-width=".6" d="M648 786l5 8-5-1-5-7zM679 820l4-3-5 0-4 1zM688 816l4 5 4 0 5 5-5 3-4-7-5 2-4-4z"/>
<path fill="#2f6ce5" stroke="#2f6ce5" stroke-width=".6" d="M653 794l4 4-5-2-4-3z"/>
<path fill="#295ed8" stroke="#295ed8" stroke-width=".6" d="M657 798l4 5-4 0-5-7zM705 826l4 7-4 4-5-5zM714 840l4-3-5 5-4-2zM740 856l4 4 5-2 4 4-5 1-4-2-4 1-5-5z"/>
<path fill="#2657d0" stroke="#2657d0" stroke-width=".6" d="M661 803l5 3-5 2-4-5zM670 813l4 2-4 5-5-6zM709 833l5 7-5 0-4-3zM723 844l4 5 4 2 5 5 4 0-5 1-4-2-4-2-5-5-4-7zM753 862l5 7-5-3-5-3z"/>
<path fill="#2350c8" stroke="#2350c8" stroke-width=".6" d="M666 806l4 7-5 1-4-6zM758 869l4 3 4 1 5 6-5-1-4-3-5-7-4-2z"/>
<path fill="#2c65e0" stroke="#2c65e0" stroke-width=".6" d="M674 815l5 5-5-2-4 2zM701 826l4 0-5 6-4-3zM718 837l5 7-5-3-5 1z"/>
<path d="M525 722l5 1 4 1 5 3 4 0 4 0 5 4 4 1 4 1 5 0 4-2 4 2 5 0 4 3 5 3 4-1 4 7 5 1 4 2 4 9 5 2 4 8 5 2 4 7 4 2 5 4 4 3 4 1 5 7 4 3 5 7 4 5 4 6 5 6 4-2 4-1 5 3 4 4 5-2 4 7 4 3 5 5 4 3 4 2 5-1 4 7 5 5 4 2 4 2 5 5 4-1 4 2 5 3 4 2 5 7 4 3" fill="none" stroke="#000" stroke-width="2.5" stroke-linejoin="round"/>
<path fill="#3c82f0" stroke="#3c82f0" stroke-width=".6" d="M525 723l5 1-5 3-4-4zM613 761l4 7 5 3 4 6 4 2-4 2-5-8-4 2-4-7-5-6z"/>
<path fill="#448cf2" stroke="#448cf2" stroke-width=".6" d="M530 724l4 1-5 2-4 0zM608 758l5 3-5 1-4-4z"/>
<path fill="#4c96f4" stroke="#4c96f4" stroke-width=".6" d="M534 725l5 3 4 0-5 3-4-5-5 1zM547 729l5 3-5 2-4-5z"/>
<path fill="#53a0f7" stroke="#53a0f7" stroke-width=".6" d="M543 728l4 1-4 0-5 2zM552 732l4 1-5 3-4-2zM604 749l4 9-4 0-5-4z"/>
<path fill="#5baaf9" stroke="#5baaf9" stroke-width=".6" d="M556 733l4 1-4 0-5 2zM600 748l4 1-5 5-4 0z"/>
<path fill="#66b5fb" stroke="#66b5fb" stroke-width=".6" d="M560 734l5 0-5-1-4 1zM595 746l5 2-5 6-4-5z"/>
<path fill="#75c1fc" stroke="#75c1fc" stroke-width=".6" d="M565 734l4-2 4 3-4 3-5 1-4-6zM591 739l4 7-4 3-5-4z"/>
<path fill="#83ccfd" stroke="#83ccfd" stroke-width=".6" d="M573 735l5-1 4 3 5 3 4-1-5 6-4-5-4 1-5 1-4-4z"/>
<path fill="#397ced" stroke="#397ced" stroke-width=".6" d="M630 779l5 5-5 2-4-5z"/>
<path fill="#3577eb" stroke="#3577eb" stroke-width=".6" d="M635 784l4 2 4 2 5 6-5 3-4 0-5-9-4-2zM678 818l5 3-5 2-4-1z"/>
<path fill="#3271e8" stroke="#3271e8" stroke-width=".6" d="M648 794l4 4-4 3-5-4zM674 820l4-2-4 4-5-1zM683 821l4 4 5-2 4 7-5-1-4 2-4-4-5-4z"/>
<path fill="#2f6ce5" stroke="#2f6ce5" stroke-width=".6" d="M652 798l5 6-5 0-4-3zM696 830l4 4-4-1-5-4z"/>
<path fill="#295ed8" stroke="#295ed8" stroke-width=".6" d="M657 804l4 5-5-2-4-3zM705 838l4 3-5 3-4-7zM718 842l4 7 5 5 4 2 4 2 5 6-5-1-4-5-5-2-4-7-4 2-5 2zM748 864l5 3 4 2-4 2-5-3-4 1z"/>
<path fill="#2657d0" stroke="#2657d0" stroke-width=".6" d="M661 809l4 6 5 6-5 1-4-8-5-7zM757 869l5 7 4 4-5-5-4 1-4-5z"/>
<path fill="#2c65e0" stroke="#2c65e0" stroke-width=".6" d="M670 821l4-1-5 1-4 1zM700 834l5 4-5-1-4-4zM709 841l4 2 5-1-5 11-4-13-5 4zM740 864l4-1 4 1-4 5-5-8-4 2z"/>
<path d="M521 723l4 4 4 0 5-1 4 5 5-2 4 5 4 2 5-2 4-1 4 6 5-1 4 4 5-1 4-1 4 5 5 4 4 5 4 0 5 4 4 4 5 6 4 7 4-2 5 8 4 5 4 2 5 9 4 0 5 4 4 3 4 3 5 7 4 8 4-1 5 1 4 1 5 4 4 4 4-2 5 4 4 4 4 7 5-4 4 13 5-2 4-2 4 7 5 2 4 5 4-2 5 8 4-1 5 3 4 5 4-1" fill="none" stroke="#000" stroke-width="2.5" stroke-linejoin="round"/>
<path fill="#448cf2" stroke="#448cf2" stroke-width=".6" d="M521 724l4 4 4 0 5-1 4 5-4 4-5 0-4-7-5-4-4 1zM604 759l4 5 5 5 4 7 4-1-4 4-5-1-4-9-4 0-5-5z"/>
<path fill="#4c96f4" stroke="#4c96f4" stroke-width=".6" d="M538 732l5-2 4 6 4 2-4 6-5-5-4-2-4-1z"/>
<path fill="#5baaf9" stroke="#5baaf9" stroke-width=".6" d="M551 738l5-3-5 4-4 5zM591 750l4 5 4 1-4 2-5-1-4-7z"/>
<path fill="#66b5fb" stroke="#66b5fb" stroke-width=".6" d="M556 735l4 0 4 5 5-1-5 4-4-1-5 1-4-4zM582 742l4 4 5 4-5 0-4-1-5 1z"/>
<path fill="#75c1fc" stroke="#75c1fc" stroke-width=".6" d="M569 739l4 4 5-1 4 0-5 8-4-3-4-5-5 1z"/>
<path fill="#53a0f7" stroke="#53a0f7" stroke-width=".6" d="M599 756l5 3-5 5-4-6z"/>
<path fill="#3c82f0" stroke="#3c82f0" stroke-width=".6" d="M621 775l5 7-5 4-4-7z"/>
<path fill="#397ced" stroke="#397ced" stroke-width=".6" d="M626 782l4 5-5 1-4-2z"/>
<path fill="#3577eb" stroke="#3577eb" stroke-width=".6" d="M630 787l4 2 5 10 4-1 5 4-5 0-4-5-5 0-4-3-5-6zM674 823l4 1-4 2-5-2z"/>
<path fill="#3271e8" stroke="#3271e8" stroke-width=".6" d="M648 802l4 4-5 1-4-5zM669 822l5 1-5 1-4 0zM678 824l5 5 4 3 4-2 5 4-5 2-4-4-5-3-4-1-4-2z"/>
<path fill="#2f6ce5" stroke="#2f6ce5" stroke-width=".6" d="M652 806l4 3-4 3-5-5zM696 834l4 4 4 7 5-4-5 2-4-3-5-5-4 1zM735 865l4-3 5 8-5-5-4-1-5 0z"/>
<path fill="#2c65e0" stroke="#2c65e0" stroke-width=".6" d="M656 809l5 6-5 0-4-3zM665 823l4-1-4 2-5-2zM709 841l4 13-4-5-5-6zM718 852l4-2 4 7-4 1-5-1-4-4zM731 859l4 6-5-1-4 0zM744 870l4-1 5 3-5 2-4-6-5-3zM757 877l4-1-4 4-5-6z"/>
<path fill="#295ed8" stroke="#295ed8" stroke-width=".6" d="M661 815l4 8-5-1-4-7zM713 854l5-2-5 1-4-4zM726 857l5 2-5 5-4-6zM753 872l4 5-5-3-4 0z"/>
<path d="M516 726l4-1 5 4 4 7 5 0 4 1 4 2 5 5 4-5 4 4 5-1 4 1 5-1 4 5 4 3 5-1 4 1 4 7 5 1 4 6 5 5 4 0 4 9 5 1 4 7 4 2 5 6 4 3 5 0 4 5 4 5 5 5 4 3 4 7 5 2 4 0 5 2 4 2 4 1 5 3 4 4 4-1 5 5 4 3 5 6 4 4 4 4 5 1 4 6 4 0 5 0 4 1 5 3 4 6 4 0 5 6" fill="none" stroke="#000" stroke-width="2.5" stroke-linejoin="round"/>
<path fill="#448cf2" stroke="#448cf2" stroke-width=".6" d="M516 727l4-1-4 5-5-4zM595 759l4 6-5 6-4-10zM604 771l4 0-5 7-4 0zM612 779l5 1-5 2-4-2z"/>
<path fill="#3c82f0" stroke="#3c82f0" stroke-width=".6" d="M520 726l5 4-5 9-4-8zM529 737l5 0-5 4-5 3zM599 765l5 6-5 7-5-7zM617 780l4 7-5-1-4-4zM634 798l5 0-5 5-5-8z"/>
<path fill="#397ced" stroke="#397ced" stroke-width=".6" d="M525 730l4 7-5 7-4-5zM621 787l4 2 5 7 4 2-5-3-4 1-4-3-5-7zM639 798l4 6-5-2-4 1zM678 829l4 1-4 0-5-2z"/>
<path fill="#4c96f4" stroke="#4c96f4" stroke-width=".6" d="M534 737l4 2 4 1 5 5-5-1-4-1-5-5-4 3zM608 771l4 8-4 1-5-2z"/>
<path fill="#53a0f7" stroke="#53a0f7" stroke-width=".6" d="M547 745l4-5-5 3-4 1zM590 759l5 0-5 2-4-1z"/>
<path fill="#5baaf9" stroke="#5baaf9" stroke-width=".6" d="M551 740l4 4 5-1-5 4-4 1-5-5zM573 748l4 3 5 0 4 1 4 7-4 1-5 0-4-4-4 0-5-5z"/>
<path fill="#66b5fb" stroke="#66b5fb" stroke-width=".6" d="M560 743l4 2 5-1 4 4-5 3-4-2-5-2-4 0z"/>
<path fill="#3577eb" stroke="#3577eb" stroke-width=".6" d="M643 804l4 4-4 1-5-7zM665 825l4 0 5 3 4 1-5-1-4-2-5 1-4-6zM682 830l5 4 4 3-5 1-4-7-4-1z"/>
<path fill="#3271e8" stroke="#3271e8" stroke-width=".6" d="M647 808l5 6-5-3-4-2zM691 837l4 0 5 4-5 4-4-3-5-4zM730 865l5 0 4 1-5 2-4-1-4 0z"/>
<path fill="#2f6ce5" stroke="#2f6ce5" stroke-width=".6" d="M652 814l4 2 4 7 5 2-5-4-4-2-5-3-4-5zM700 841l4 3 5 6 4 4 4 5 5 0-5 0-4-5-5 1-4-6-5-1-4-3zM726 865l4 0-4 2-5-5zM739 866l5 3 4 7 4 0 5 5-5-2-4-5-5-2-4 3-5-7z"/>
<path fill="#2c65e0" stroke="#2c65e0" stroke-width=".6" d="M722 859l4 6-5-3-4-3z"/>
<path d="M511 727l5 4 4 8 4 5 5-3 4-3 5 5 4 1 4-1 5 5 4-1 4 0 5 2 4 2 5 5 4 0 4 4 5 0 4 1 4 10 5 7 4 0 5 2 4 2 4 4 5 7 4 3 4-1 5 8 4-1 5 7 4 2 4 5 5 3 4 2 4 6 5-1 4 2 5 2 4 1 4 7 5 4 4 3 4 3 5 1 4 6 5-1 4 5 4 3 5 5 4 0 4 1 5 7 4-3 5 2 4 5" fill="none" stroke="#000" stroke-width="2.5" stroke-linejoin="round"/>
<path fill="#448cf2" stroke="#448cf2" stroke-width=".6" d="M511 728l5 4-5 0-4 1zM524 745l5-3-5-1-4 0zM590 762l4 11-4 3-5-4zM599 779l4 0-4 2-5-1zM608 781l4 3-5 4-4-6z"/>
<path fill="#3c82f0" stroke="#3c82f0" stroke-width=".6" d="M516 732l4 8-5-3-4-5zM594 773l5 6-5 1-4-4zM612 784l4 3 5 7-5 0-4-3-5-3zM625 798l4-1 5 8-5 0-4-3-5-2zM669 827l4 2-4 0-5-1z"/>
<path fill="#397ced" stroke="#397ced" stroke-width=".6" d="M520 740l4 5-4-4-5-4zM621 794l4 4-5 2-4-6zM634 805l4-1 5 6-5 1-4-4-5-2zM664 828l5-1-5 1-4-2zM673 829l5 2 4 2-5 1-4 3-4-8z"/>
<path fill="#4c96f4" stroke="#4c96f4" stroke-width=".6" d="M529 742l4-3-4 6-5-4zM603 779l5 2-5 1-4-1z"/>
<path fill="#53a0f7" stroke="#53a0f7" stroke-width=".6" d="M533 739l5 5 4 1-5 2-4-2-4 0zM568 753l5 4 4 0 4 5 5-1 4 1-5 10-4-5-4-2-5-1-4-1-4-7z"/>
<path fill="#5baaf9" stroke="#5baaf9" stroke-width=".6" d="M542 745l4 0 5 4 4-1 4 0 5 2 4 3-4 3-5 0-4-2-5-1-4-6-4 1-5-1z"/>
<path fill="#3577eb" stroke="#3577eb" stroke-width=".6" d="M643 810l4 3 4 4 5 3 4 3 4 5-4-2-5 0-4-7-4-2-5 1-4-7zM682 833l4 6-4 2-5-7zM730 868l4 1-4 3-5-4z"/>
<path fill="#3271e8" stroke="#3271e8" stroke-width=".6" d="M686 839l5 4 4 4-5 0-4-6-4 0zM699 849l5 1 4 6-4-1-5-1-4-3zM726 868l4 0-5 0-4 3zM734 869l5 8 4-4 5 2 4 5-5 3-4-1-4-7-5 0-4-3z"/>
<path fill="#2f6ce5" stroke="#2f6ce5" stroke-width=".6" d="M695 847l4 2-4 2-5-4zM708 856l5-1 4 5 4 3 5 5-5 3-4-5-5-3-4-2-4-6z"/>
<path d="M507 733l4-1 4 5 5 4 4 0 5 4 4 0 4 2 5 1 4-1 4 6 5 1 4 2 5 0 4 7 4 1 5 1 4 2 4 5 5 4 4 4 5 1 4 1 4 6 5 3 4 3 4 6 5 2 4 3 5 2 4 4 4 7 5-1 4 2 4 7 5 0 4 2 5 1 4 8 4-3 5 7 4 0 4 6 5 4 4 3 5 1 4 6 4 2 5 3 4 5 4-3 5 4 4 3 5 0 4 7 4 1" fill="none" stroke="#000" stroke-width="2.5" stroke-linejoin="round"/>
<path fill="#448cf2" stroke="#448cf2" stroke-width=".6" d="M507 734l4-1 4 6 5 3-5-1-4 0-5-2-4-3zM599 782l4 1-5 7-4-3z"/>
<path fill="#4c96f4" stroke="#4c96f4" stroke-width=".6" d="M520 742l4 1 5 3 4 0-5 4-4-2-4-1-5-6zM581 769l4 4 5 4 4 4 5 1-5 5-4-9-5-1-4 0-5-3z"/>
<path fill="#53a0f7" stroke="#53a0f7" stroke-width=".6" d="M533 746l4 2-4 1-5 1zM550 754l5 1-5 4-4-2zM564 758l4 6 4 1 5 2 4 2-5 5-4-2-4-5-5-3-4 0z"/>
<path fill="#5baaf9" stroke="#5baaf9" stroke-width=".6" d="M537 748l5 2 4-2 4 6-4 3-5-5-4-1-4-2zM555 755l4 2 5 1-5 6-4-5-5 0z"/>
<path fill="#3c82f0" stroke="#3c82f0" stroke-width=".6" d="M603 783l4 6 5 4 4 2 4 6 5 2 4 3-4 5-5-7-4 0-5-5-4-3-4 1-5-7zM664 830l5 1-5 4-4-3z"/>
<path fill="#397ced" stroke="#397ced" stroke-width=".6" d="M629 806l5 2 4 4-5 3-4-3-4-1zM642 819l5-1 4 2-5 4-4-3-4 0zM660 828l4 2-4 2-5 2z"/>
<path fill="#3577eb" stroke="#3577eb" stroke-width=".6" d="M638 812l4 7-4 2-5-6zM651 820l4 7 5 1-5 6-4-3-5-7zM669 831l4 7 4-3 5 7-5 3-4-3-5-2-4-5z"/>
<path fill="#3271e8" stroke="#3271e8" stroke-width=".6" d="M682 842l4 0 4 6 5 4 4 3 5 1-5 3-4-4-5-1-4-4-5-2-4-3zM725 869l5 4 4 3 5 1-5 3-4 0-5-4-4 2z"/>
<path fill="#2f6ce5" stroke="#2f6ce5" stroke-width=".6" d="M704 856l4 6 4 2 5 3 4 5 4-3-4 9-5-7-4-4-4-2-5-2-4-4zM739 877l4 6 4 1-4 3-5-2-4-5z"/>
<path d="M502 736l4 3 5 2 4 0 5 6 4 1 4 2 5-1 4 2 4 1 5 5 4 2 5 0 4 5 4 0 5 3 4 5 4 2 5 3 4 0 5 1 4 9 4 3 5 7 4-1 4 3 5 5 4 0 5 7 4 1 4 3 5 6 4 0 4 3 5 7 4 3 5-2 4 3 4 5 5 2 4 3 4 3 5 2 4 4 5 1 4 4 4 4 5 2 4 2 4 4 5 7 4-2 5 4 4 0 4 5 5 2" fill="none" stroke="#000" stroke-width="2.5" stroke-linejoin="round"/>
<path fill="#448cf2" stroke="#448cf2" stroke-width=".6" d="M502 737l4 3 5 3-5 3-4-5-5-1zM590 779l4 9 4 3-4 2-5-5-4 1z"/>
<path fill="#4c96f4" stroke="#4c96f4" stroke-width=".6" d="M511 743l4 0 5 5 4 2-5-2-4 3-5-3-4-2zM576 775l5 3 4 0 5 1-5 10-5-6-4-3-4-4z"/>
<path fill="#53a0f7" stroke="#53a0f7" stroke-width=".6" d="M524 750l4 2 5-2 4 2 4 1-4 6-5 1-4-4-4-3-5-5zM546 758l4 2 5 0-5 6-5-4-4-4zM568 768l4 5 4 2-4 1-5-2-4-3z"/>
<path fill="#5baaf9" stroke="#5baaf9" stroke-width=".6" d="M541 753l5 5-5 0-4 1zM555 760l4 5 4 0 5 3-5 3-4-4-5-2-4 1z"/>
<path fill="#3c82f0" stroke="#3c82f0" stroke-width=".6" d="M598 791l5 8 4-2 4 4 5 5 4-1 5 7 4 1-5 1-4-3-5-1-4-6-4-2-5 2-4-11-4 0z"/>
<path fill="#397ced" stroke="#397ced" stroke-width=".6" d="M629 813l4 3-4 2-5-4zM642 822l4 3-4 2-5 0zM655 835l5-2 4 3-5 3-4-2-5-3z"/>
<path fill="#3577eb" stroke="#3577eb" stroke-width=".6" d="M633 816l5 7 4-1-5 5-4-3-4-6zM646 825l5 8 4 2-5-1-4-4-4-3zM664 836l4 6-4-2-5-1z"/>
<path fill="#3271e8" stroke="#3271e8" stroke-width=".6" d="M668 842l5 1-5 5-4-8zM677 846l4 4-4 2-5 0z"/>
<path fill="#2f6ce5" stroke="#2f6ce5" stroke-width=".6" d="M673 843l4 3-5 6-4-4zM681 850l5 1 4 5 5 0 4 4-5 5-4-2-5-2-4-2-4-7zM725 878l5 3 4 0-5 8-4-5-5 2z"/>
<path fill="#2c65e0" stroke="#2c65e0" stroke-width=".6" d="M699 860l4 4 5 2 4 3 4 4 5 6 4-1-5 8-4-2-4-7-5 2-4-8-4 0-5-6zM734 881l4 5 5 2-5 6-4-2-5-3z"/>
<path d="M497 740l5 1 4 5 4 2 5 3 4-3 5 5 4 3 4 4 5-1 4-1 4 4 5 4 4-1 5 2 4 4 4 3 5 2 4 4 4 3 5 6 4-1 5 5 4 0 4 11 5-2 4 2 4 6 5 1 4 3 5 4 4 6 4 3 5 0 4 3 4 4 5 3 4 2 5 1 4 8 4 4 5 0 4 7 4 2 5 2 4 2 5 6 4 0 4 8 5-2 4 7 4 2 5-2 4 5 5 3 4 2" fill="none" stroke="#000" stroke-width="2.5" stroke-linejoin="round"/>
<path fill="#3c82f0" stroke="#3c82f0" stroke-width=".6" d="M497 741l5 2-5 9-4-7zM580 784l5 6-5 3-4-4zM598 794l4 12 5-3-5 2-4-1-5-4zM611 806l4 5-4 2-5-1zM620 812l4 3 5 4-5 0-4 2-5 0z"/>
<path fill="#448cf2" stroke="#448cf2" stroke-width=".6" d="M502 743l4 4-5 0-4 5zM585 790l4-1 5 6 4-1-5 6-4-1-4-6-5 0zM607 803l4 3-5 6-4-7z"/>
<path fill="#4c96f4" stroke="#4c96f4" stroke-width=".6" d="M506 747l4 2 5 3 4-2 5 4 4 3 4 4-4 2-5-7-4 3-4-3-5-6-4 2-5-5zM576 781l4 3-4 5-5-8z"/>
<path fill="#53a0f7" stroke="#53a0f7" stroke-width=".6" d="M532 761l5-1-5 2-4 1zM545 763l5 5-5 1-4-3zM559 768l4 4 4 3 5 2 4 4-5 0-4 0-4-3-5 0-4-6z"/>
<path fill="#5baaf9" stroke="#5baaf9" stroke-width=".6" d="M537 760l4-1 4 4-4 3-5-4-4 0zM550 768l4-2 5 2-5 4-4-1-5-2z"/>
<path fill="#397ced" stroke="#397ced" stroke-width=".6" d="M615 811l5 1-5 9-4-8zM642 828l4 3 4 5 5 2-5 5-4-5-5-3-4 0z"/>
<path fill="#3577eb" stroke="#3577eb" stroke-width=".6" d="M629 819l4 6-5 3-4-9zM637 828l5 0-5 7-4-4zM655 838l4 2 5 2-5 4-4-4-5 1z"/>
<path fill="#3271e8" stroke="#3271e8" stroke-width=".6" d="M633 825l4 3-4 3-5-3zM664 842l4 7-5 0-4-3z"/>
<path fill="#2f6ce5" stroke="#2f6ce5" stroke-width=".6" d="M668 849l4 4 5 1 4 6-5 0-4-6-4 1-5-6zM734 893l4 2-5 2-4-2z"/>
<path fill="#2c65e0" stroke="#2c65e0" stroke-width=".6" d="M681 860l4 2 5 2 4 3 5 6 4-1 4 8 5-2 4 7 4 2 5-2-5 6-4-4-5-4-4-1-4-4-5 0-4-6-4 0-5-3-4-4-5-5z"/>
<path fill="#295ed8" stroke="#295ed8" stroke-width=".6" d="M725 885l4 5 5 3-5 2-4 2-5-6z"/>
<path d="M493 745l4 7 4-5 5 5 4-2 5 6 4 3 4-3 5 7 4-1 4 0 5 4 4 3 5 2 4 1 4 6 5 0 4 3 4 0 5 8 4 4 5 0 4 6 4 1 5 4 4 1 4 7 5 1 4 8 5 0 4-2 4 9 5 3 4 4 4 0 5 3 4 5 5-1 4 4 4 3 5 6 4-1 4 6 5 5 4 4 5 3 4 0 4 6 5 0 4 4 4 1 5 4 4 4 5 6 4-2 4 2" fill="none" stroke="#000" stroke-width="2.5" stroke-linejoin="round"/>
<path fill="#448cf2" stroke="#448cf2" stroke-width=".6" d="M493 747l4 7 4-6-4 8-5-9-4 1zM571 782l5 8-5 3-4 0zM580 795l5-1 4 6 4 2-4 2-5 0-4-3-4-6z"/>
<path fill="#4c96f4" stroke="#4c96f4" stroke-width=".6" d="M501 748l5 5-5 1-4 2zM510 751l5 6 4 3-5-3-4 3-4-6zM567 782l4 0-4 11-5-7z"/>
<path fill="#53a0f7" stroke="#53a0f7" stroke-width=".6" d="M506 753l4-2-4 3-5 0zM519 760l4-3 5 7 4 0 4-1 5 5-5 4-4 0-5-6-4 0-4-5-5-4zM550 772l4 2 4 5 5 0 4 3-5 4-4-5-4-1-5-6-4 3z"/>
<path fill="#5baaf9" stroke="#5baaf9" stroke-width=".6" d="M541 768l4 2 5 2-5 5-4-8-5 3z"/>
<path fill="#3c82f0" stroke="#3c82f0" stroke-width=".6" d="M576 790l4 5-4 0-5-2zM593 802l5 3 4 1 4 7 5 2 4 7 5 0 4-1-5 2-4-2-4 0-5-6-4 1-5-1-4-6-4-5z"/>
<path fill="#3577eb" stroke="#3577eb" stroke-width=".6" d="M624 821l4 8-4 1-5-7zM633 832l4 4-5 3-4-3zM646 839l4 6 5-1 4 4-5 4-4-5-4-2-5-4z"/>
<path fill="#3271e8" stroke="#3271e8" stroke-width=".6" d="M628 829l5 3-5 4-4-6zM659 848l4 2-4 4-5-2z"/>
<path fill="#397ced" stroke="#397ced" stroke-width=".6" d="M637 836l4 0 5 3-5 2-4-1-5-1z"/>
<path fill="#2f6ce5" stroke="#2f6ce5" stroke-width=".6" d="M663 850l5 6 4-1-5 8-4-4-4-5zM703 879l4 4-5-1-4 3zM729 896l4 2-4 3-5 1z"/>
<path fill="#2c65e0" stroke="#2c65e0" stroke-width=".6" d="M672 855l4 6-4 7-5-5zM690 873l4 1 4 5 5 0-5 6-4-4-5 0-4-3zM707 883l4 1-4 5-5-7z"/>
<path fill="#295ed8" stroke="#295ed8" stroke-width=".6" d="M676 861l5 5 4 5 5 2-5 5-4-4-5-1-4-5zM711 884l5 4 4 4 5 6 4-2-5 6-4-4-4-4-5 1-4-6z"/>
<path d="M488 748l4-1 5 9 4-2 5 0 4 6 4-3 5 4 4 5 4 0 5 6 4 0 5-3 4 8 4-3 5 6 4 1 4 5 5 7 4 0 5 2 4 6 4 3 5 0 4 5 4 6 5 1 4-1 5 6 4 0 4 2 5 7 4 6 4 3 5 1 4 1 5 4 4 2 4 5 5 2 4 5 4 4 5 5 4 5 5 1 4 4 4 3 5 0 4 4 4-3 5 7 4 6 5-1 4 4 4 4 5-1" fill="none" stroke="#000" stroke-width="2.5" stroke-linejoin="round"/>
<path fill="#448cf2" stroke="#448cf2" stroke-width=".6" d="M488 749l4 0 5 8-5-2-4 2-5-8zM567 795l4 0 5 1 4 6 4 4 5-1-5-1-4 2-5-2-4-3-5-5-4-7zM602 817l4 0 5 5 4 0-5 6-4-9-5 2-4-4z"/>
<path fill="#4c96f4" stroke="#4c96f4" stroke-width=".6" d="M497 757l4-2 5 0 4 6 4-2 5 4 4 4-5 2-4 1-4-5-5-4-4 1-5-4-4-3zM562 787l5 8-5-6-4 2z"/>
<path fill="#53a0f7" stroke="#53a0f7" stroke-width=".6" d="M523 767l4 0 5 6 4 0-5 4-4-5-4-1-5-2zM545 778l4-3 5 7 4 0 4 5-4 4-5-4-4-2-4-1-5-6z"/>
<path fill="#5baaf9" stroke="#5baaf9" stroke-width=".6" d="M536 773l5-3 4 8-5 0-4-3-5 2z"/>
<path fill="#3c82f0" stroke="#3c82f0" stroke-width=".6" d="M589 805l4 6-5 1-4-8zM597 816l5 1-5 0-4-2zM615 822l4 2-4 5-5-1z"/>
<path fill="#397ced" stroke="#397ced" stroke-width=".6" d="M593 811l4 5-4-1-5-3zM619 824l5 7-5 2-4-4zM632 840l5 1 4 1-5 5-4-7-4 2z"/>
<path fill="#3577eb" stroke="#3577eb" stroke-width=".6" d="M624 831l4 6 4 3-4 2-5-6-4-3zM641 842l5 4-5 3-5-2z"/>
<path fill="#3271e8" stroke="#3271e8" stroke-width=".6" d="M646 846l4 2 4 5 5 2 4 6-5 0-4-3-4-1-5-3-4-5z"/>
<path fill="#2c65e0" stroke="#2c65e0" stroke-width=".6" d="M663 861l4 3-4 1-5-4zM689 882l5 0 4 4 4-3-4 7-5-1-4-2-4-4zM716 896l4 3-5 1-4 0z"/>
<path fill="#295ed8" stroke="#295ed8" stroke-width=".6" d="M667 864l5 6 4 4 5 1 4 5 4 2-4 1-5-4-4-1-5-5-4-5-4-3zM702 883l5 7-5 6-4-6zM711 896l5 0-5 4-5-1zM720 899l4 4 5-1-5 7-4-3-5-6z"/>
<path fill="#2657d0" stroke="#2657d0" stroke-width=".6" d="M707 890l4 6-5 3-4-3z"/>
<path d="M483 749l5 8 4-2 4 3 5 4 4-1 5 4 4 5 4-1 5 2 4 1 4 5 5-2 4 3 5 6 4 1 4 2 5 4 4-2 4 7 5 5 4 3 5 2 4-2 4 8 5 3 4 2 4 4 5-2 4 9 5 1 4 4 4 3 5 6 4-2 4 7 5 2 4 5 5 3 4 1 4 3 5 4 4 3 4 5 5 5 4 1 5 4 4 4 4 2 5 1 4 6 4 3 5 1 4 0 5 6 4 3" fill="none" stroke="#000" stroke-width="2.5" stroke-linejoin="round"/>
<path fill="#448cf2" stroke="#448cf2" stroke-width=".6" d="M483 750l5 9-5-2-4-1zM566 797l5 5 4 3 5 2 4-2-5 6-4 0-4-8-5 0-4-4zM601 822l5-1 4 8-4 0-5-1-4-1z"/>
<path fill="#4c96f4" stroke="#4c96f4" stroke-width=".6" d="M488 759l4-2 4 2 5 4 4-1-4 4-5-4-4-2-5-2-4-1zM510 766l4 5 4-1-4 3-5-2-4-6zM540 779l5 6 4 2-5 2-4-3-4-7zM558 792l4-1 4 6-4 2-5-1-4-6z"/>
<path fill="#53a0f7" stroke="#53a0f7" stroke-width=".6" d="M505 762l5 4-5-1-4 1zM518 770l5 2 4 1-5 5-4-5-4 0zM549 787l4 1 5 4-5 0-4-2-5-1z"/>
<path fill="#5baaf9" stroke="#5baaf9" stroke-width=".6" d="M527 773l4 5 5-1 4 2-4 0-5 0-4-5-5 4z"/>
<path fill="#3c82f0" stroke="#3c82f0" stroke-width=".6" d="M584 805l4 9-4 3-5-6zM593 816l4 2 4 4-4 5-5-3-4-3zM610 829l5 1-5 4-4-5z"/>
<path fill="#397ced" stroke="#397ced" stroke-width=".6" d="M588 814l5 2-5 5-4-4zM615 830l4 5-5 1-4-2z"/>
<path fill="#3577eb" stroke="#3577eb" stroke-width=".6" d="M619 835l4 2 5 7 4-3 4 7-4 3-5-4-4-4-4-5-5-2z"/>
<path fill="#3271e8" stroke="#3271e8" stroke-width=".6" d="M636 848l5 2 4 5-4 0-5 2-4-6z"/>
<path fill="#2f6ce5" stroke="#2f6ce5" stroke-width=".6" d="M645 855l5 3 4 1 4 3-4 6-5-5-4 1-4-9z"/>
<path fill="#2c65e0" stroke="#2c65e0" stroke-width=".6" d="M658 862l5 4-5 3-4-1z"/>
<path fill="#295ed8" stroke="#295ed8" stroke-width=".6" d="M663 866l4 3 4 5 5 5 4 2 5 3 4 4 4 2-4 5-5-3-4-3-4-2-5-5-4-1-5-6-4-6zM711 901l4 0 5 7 4 2-5 1-4 2-4-4-5 1z"/>
<path fill="#2657d0" stroke="#2657d0" stroke-width=".6" d="M693 890l5 2-5 6-4-3zM706 901l5 0-5 9-4-6z"/>
<path fill="#2350c8" stroke="#2350c8" stroke-width=".6" d="M698 892l4 5 4 4-4 3-5-1-4-5z"/>
<path d="M479 756l4 1 4 1 5 2 4 2 5 4 4-1 4 6 5 2 4 0 4 5 5-4 4 5 5 0 4 7 4 3 5 1 4 2 4 6 5 1 4 4 5 0 4 8 4 0 5 6 4 4 4 3 5 3 4 1 5 1 4 5 4 2 5 2 4 5 4 4 5 4 4 6 5-2 4 9 4-1 5 5 4 1 4 6 5 6 4 1 5 5 4 2 4 3 5 3 4 3 4 5 5 1 4 6 5-1 4 4 4-2" fill="none" stroke="#000" stroke-width="2.5" stroke-linejoin="round"/>
<path fill="#448cf2" stroke="#448cf2" stroke-width=".6" d="M479 758l4 1-5 3-4 2zM557 799l5 1 4 4 5 0 4 8 4 0-4 4-5-5-4 1-4-4-5-2-4-8z"/>
<path fill="#4c96f4" stroke="#4c96f4" stroke-width=".6" d="M483 759l4 0 5 2 4 2 5 4-5 1-4 5-5-8-4 0-5-3zM505 766l4 6 5 2-5 4-4-1-5-7zM553 793l4 6-4-1-5-2z"/>
<path fill="#53a0f7" stroke="#53a0f7" stroke-width=".6" d="M501 767l4-1-5 4-4-2zM514 774l4 0 4 5-4 1-5 0-4-2zM531 780l5 0 4 7 4 3 5 2 4 1-5 3-4-5-4 1-5-4-4 0-4-7z"/>
<path fill="#5baaf9" stroke="#5baaf9" stroke-width=".6" d="M522 779l5-4 4 5-4 1-5 0-4-1z"/>
<path fill="#3c82f0" stroke="#3c82f0" stroke-width=".6" d="M579 812l5 7-5 2-4-5zM588 822l4 3 5 4 4 0 5 1 4 5-5-2-4 1-4 0-5-3-4-6-5-1z"/>
<path fill="#397ced" stroke="#397ced" stroke-width=".6" d="M584 819l4 3-5 2-4-3zM610 835l4 3-4 4-5-9z"/>
<path fill="#3577eb" stroke="#3577eb" stroke-width=".6" d="M614 838l5 1-5 7-4-4z"/>
<path fill="#3271e8" stroke="#3271e8" stroke-width=".6" d="M619 839l4 5 4 4 5 4 4 6 5-1-5 4-4-5-5-2-4 0-5-4-4-4z"/>
<path fill="#2f6ce5" stroke="#2f6ce5" stroke-width=".6" d="M641 857l4 8 4-1-4 4-5-4-4-3z"/>
<path fill="#2c65e0" stroke="#2c65e0" stroke-width=".6" d="M649 864l5 5-5 3-4-4z"/>
<path fill="#295ed8" stroke="#295ed8" stroke-width=".6" d="M654 869l4 1-5 9-4-7zM706 912l5-2-5 0-4 0zM715 915l4-3-4 5-5 3z"/>
<path fill="#2657d0" stroke="#2657d0" stroke-width=".6" d="M658 870l4 7 5 5 4 1 5 5 4 3 4 2 5 4-5 1-4 0-5-2-4-4-4-3-5-5-4-3-5-2zM697 904l5 1 4 7-4-2-5-3-4 0zM711 910l4 5-5 5-4-10z"/>
<path fill="#2350c8" stroke="#2350c8" stroke-width=".6" d="M689 897l4 3 4 4-4 3-5-3-4-6z"/>
<path d="M474 764l4-2 5 3 4 0 5 8 4-5 4 2 5 7 4 1 4 2 5 0 4 1 5 0 4 7 4 0 5 4 4-1 4 5 5 2 4 8 5 2 4 4 4-1 5 5 4 5 4 3 5 1 4 6 5 3 4 0 4-1 5 9 4 4 4 4 5 4 4 0 5 2 4 5 4 3 5 4 4 4 4 7 5 2 4 3 5 5 4 3 4 4 5 2 4 0 4 6 5 3 4 0 5 3 4 0 4 10 5-3" fill="none" stroke="#000" stroke-width="2.5" stroke-linejoin="round"/>
<path fill="#3c82f0" stroke="#3c82f0" stroke-width=".6" d="M474 765l4-1-4 7-5-8zM570 812l5 5 4 5-5-1-4 3-4-6zM583 826l5 1 4 5 5 3-5 0-5-4-4-2-4-3z"/>
<path fill="#448cf2" stroke="#448cf2" stroke-width=".6" d="M478 764l5 2-5 0-4 5zM487 766l5 8 4-5-5 5-4 1-5-6zM500 771l5 7-5-1-4 1zM548 797l5 2 4 8 5 2 4 4 4-1-4 6-5-3-4-7-5 2-4-6-4 0zM579 822l4 4-4 0-5-5z"/>
<path fill="#4c96f4" stroke="#4c96f4" stroke-width=".6" d="M483 766l4 0-5 3-4-3zM496 769l4 2-4 7-5-4zM505 778l4 2 4 1-4 3-5 0-4-7zM527 782l4 7 4 1-4 3-5-1-4 1z"/>
<path fill="#53a0f7" stroke="#53a0f7" stroke-width=".6" d="M513 781l5 1-5 1-4 1zM522 783l5-1-5 11-5-9zM535 790l5 3-5 5-4-5zM544 792l4 5-4 7-5-8z"/>
<path fill="#5baaf9" stroke="#5baaf9" stroke-width=".6" d="M518 782l4 1-5 1-4-1zM540 793l4-1-5 4-4 2z"/>
<path fill="#397ced" stroke="#397ced" stroke-width=".6" d="M597 835l4 0 4-1-4 10-5-4-4-5z"/>
<path fill="#3577eb" stroke="#3577eb" stroke-width=".6" d="M605 834l5 9 4 4-5-1-4 1-4-3z"/>
<path fill="#3271e8" stroke="#3271e8" stroke-width=".6" d="M614 847l4 4 5 4 4 0 5 2 4 6-5 2-4-3-5-3-4-2-4-2-5-9z"/>
<path fill="#2c65e0" stroke="#2c65e0" stroke-width=".6" d="M636 863l4 2-4 7-5-7zM645 870l4 3-5 4-4 0z"/>
<path fill="#295ed8" stroke="#295ed8" stroke-width=".6" d="M640 865l5 5-5 7-4-5zM649 873l4 8-4-2-5-2zM697 909l5 2 4 1 4 10-4-4-5-4-4 2-5-3z"/>
<path fill="#2657d0" stroke="#2657d0" stroke-width=".6" d="M653 881l5 1 4 3-5 3-4-5-4-4zM667 891l4 2 4 4 5 2 4 1-5 7-4-7-4-1-5-4-4-2zM693 908l4 1-5 4-4-1zM710 922l5-4-5 3-4-3z"/>
<path fill="#2350c8" stroke="#2350c8" stroke-width=".6" d="M662 885l5 6-5 2-5-5zM684 900l4 5 5 3-5 4-4-4-5-1z"/>
<path d="M469 763l5 8 4-5 4 3 5 6 4-1 5 4 4-1 4 7 5 0 4-1 4 1 5 9 4-1 5 1 4 5 4-2 5 8 4 0 4 6 5-2 4 7 5 3 4 6 4-3 5 5 4 3 4 2 5 4 4 5 5 4 4 3 4-1 5 9 4 2 4 2 5 3 4 3 5 7 4 5 4 0 5 2 4 4 4 5 5 5 4 2 5 4 4 1 4 7 5 1 4 4 4 1 5 3 4-2 5 4 4 3" fill="none" stroke="#000" stroke-width="2.5" stroke-linejoin="round"/>
<path fill="#3c82f0" stroke="#3c82f0" stroke-width=".6" d="M469 764l5 8-5 3-4-11zM561 816l5 4-5 1-4-6zM570 826l4-4-4 7-5-3zM583 830l4 2-4 6-5-7z"/>
<path fill="#448cf2" stroke="#448cf2" stroke-width=".6" d="M474 772l4-4-5 3-4 4zM482 770l5 7 4-2 5 4-5 5-4-5-5-2-4-2zM517 786l5 9 4-1-4 3-5-3-4-2zM544 805l4 0 4 6-4 1-5-5-4-1zM574 822l5 5 4 3-5 1-4-1-4-1z"/>
<path fill="#4c96f4" stroke="#4c96f4" stroke-width=".6" d="M478 768l4 2-4 5-5-4zM496 779l4-1-5 5-4 1zM526 794l5 0-5 6-4-3zM539 797l5 8-5 1-4-4zM552 811l5-1 4 6-4-1-5 0-4-3z"/>
<path fill="#53a0f7" stroke="#53a0f7" stroke-width=".6" d="M500 778l4 8 5 0-5-6-4 6-5-3zM513 784l4 2-4 6-5-4zM531 794l4 5 4-2-4 5-5-1-4-1z"/>
<path fill="#5baaf9" stroke="#5baaf9" stroke-width=".6" d="M509 786l4-2-5 4-4-8z"/>
<path fill="#397ced" stroke="#397ced" stroke-width=".6" d="M566 820l4 6-5 0-4-5zM587 832l5 5 4 5-4-1-5 0-4-3zM605 848l4-1-4 4-5-1z"/>
<path fill="#3577eb" stroke="#3577eb" stroke-width=".6" d="M596 842l5 3 4 3-5 2-4-2-4-7zM609 847l5 9-5-2-4-3z"/>
<path fill="#3271e8" stroke="#3271e8" stroke-width=".6" d="M614 856l4 2 4 3-4 1-5-3-4-5z"/>
<path fill="#2f6ce5" stroke="#2f6ce5" stroke-width=".6" d="M622 861l5 2-5 9-4-10z"/>
<path fill="#2c65e0" stroke="#2c65e0" stroke-width=".6" d="M627 863l4 3 5 7-5 3-4-8-5 4zM640 878l4 0 5 2-5 4-4-3-5 0z"/>
<path fill="#2657d0" stroke="#2657d0" stroke-width=".6" d="M636 873l4 5-5 3-4-5zM649 880l4 5-5 6-4-7zM662 894l4 2-4 5-5-4zM671 901l4 1-5 3-4-4zM692 914l5 3 4-2 5 4-5 8-4-4-5-2-4 0z"/>
<path fill="#2350c8" stroke="#2350c8" stroke-width=".6" d="M653 885l4 5 5 4-5 3-4-1-5-5zM675 902l4 6 5 1 4 4 4 1-4 7-5-4-4-6-4-1-5-5zM706 919l4 3-5 8-4-3z"/>
<path fill="#295ed8" stroke="#295ed8" stroke-width=".6" d="M666 896l5 5-5 0-4 0z"/>
<path d="M465 764l4 11 4-4 5 4 4 2 5 2 4 5 4-1 5 3 4-6 4 8 5 4 4 2 5 3 4 3 4 1 5 1 4 4 4 1 5 5 4 3 5 0 4 6 4 5 5 3 4 1 4 1 5 7 4 3 5 0 4 7 4 2 5 1 4 3 4 5 5 3 4 10 5-4 4 8 4 5 5 0 4 3 4 7 5 5 4 1 5 4 4 0 4 4 5 5 4 1 4 6 5 4 4 0 5 2 4 4 4 3" fill="none" stroke="#000" stroke-width="2.7" stroke-linejoin="round"/>
<polyline points="1033.7,823.3 1231.3,657.8 1474,796.3" fill="none" stroke="#d6d6d6" stroke-width="1.2"/>
<polyline points="1033.7,805.2 1231.3,639.7 1474,778.2" fill="none" stroke="#d6d6d6" stroke-width="1.2"/>
<polyline points="1033.7,787 1231.3,621.5 1474,760" fill="none" stroke="#d6d6d6" stroke-width="1.2"/>
<polyline points="1033.7,768.9 1231.3,603.4 1474,741.9" fill="none" stroke="#d6d6d6" stroke-width="1.2"/>
<polyline points="1033.7,750.8 1231.3,585.3 1474,723.8" fill="none" stroke="#d6d6d6" stroke-width="1.2"/>
<polyline points="1033.7,732.6 1231.3,567.1 1474,705.6" fill="none" stroke="#d6d6d6" stroke-width="1.2"/>
<polyline points="1033.7,714.5 1231.3,549 1474,687.5" fill="none" stroke="#d6d6d6" stroke-width="1.2"/>
<line x1="1217.5" y1="677" x2="1217.5" y2="550.6" stroke="#d6d6d6" stroke-width="1.2"/>
<line x1="1217.5" y1="677" x2="1460.2" y2="815.5" stroke="#d6d6d6" stroke-width="1.2"/>
<line x1="1349.5" y1="732.9" x2="1349.5" y2="606.5" stroke="#d6d6d6" stroke-width="1.2"/>
<line x1="1349.5" y1="732.9" x2="1151.9" y2="898.4" stroke="#d6d6d6" stroke-width="1.2"/>
<polyline points="1033.7,704.6 1033.7,831 1276.4,969.5 1474,804" fill="none" stroke="#2a2a2a" stroke-width="1.6"/>
<line x1="1151.9" y1="898.4" x2="1143" y2="905.9" stroke="#2a2a2a" stroke-width="1.6"/>
<line x1="1276.4" y1="969.5" x2="1284.9" y2="974.3" stroke="#2a2a2a" stroke-width="1.6"/>
<line x1="1460.2" y1="815.5" x2="1468.7" y2="820.4" stroke="#2a2a2a" stroke-width="1.6"/>
<line x1="1033.7" y1="823.3" x2="1026.4" y2="819.1" stroke="#2a2a2a" stroke-width="1.6"/>
<line x1="1033.7" y1="805.2" x2="1026.4" y2="801" stroke="#2a2a2a" stroke-width="1.6"/>
<line x1="1033.7" y1="787" x2="1026.4" y2="782.9" stroke="#2a2a2a" stroke-width="1.6"/>
<line x1="1033.7" y1="768.9" x2="1026.4" y2="764.8" stroke="#2a2a2a" stroke-width="1.6"/>
<line x1="1033.7" y1="750.8" x2="1026.4" y2="746.6" stroke="#2a2a2a" stroke-width="1.6"/>
<line x1="1033.7" y1="732.6" x2="1026.4" y2="728.5" stroke="#2a2a2a" stroke-width="1.6"/>
<line x1="1033.7" y1="714.5" x2="1026.4" y2="710.4" stroke="#2a2a2a" stroke-width="1.6"/>
<path d="M1231 636l3-1 3 0 2 2 3 0 3 2 3 0 2 2 3 0 3 2 3 0 2 2 3 0 3 2 2 0 3 2 3 0 3 2 2 0 3-1 3 3 3-1 2 1 3-3 3-1 2-4 3-1 3-3 3-2 2-3 3-2 3-2 3-2 2-3 3-2 3-2 2-3 3-2 3-2 3-3 2-2 3-2 3 2 3 9 2 12 3 12 3 11 2 12 3 12 3 11 3 8 2 6 3 5 3 3 3-1 2-1 3-2 3 4 2 5 3 7 3 3 3 1 2 7 3 1 3 2 3 1 2 7 3 1 3 2 2 7 3 1 3 2 3 6 2 2 3 1 3 1 3 5 2 1 3 0 3 6 2 1 3 0 3 1 3 5 2 1 3 1 3 5 3 1 2 0 3 6" fill="none" stroke="#000" stroke-width="2.5" stroke-linejoin="round"/>
<path fill="#295ed8" stroke="#295ed8" stroke-width=".6" d="M1231 637l3 0 3-1-6 4-3 1-2-3zM1291 654l3-3-6 4-2 3zM1376 714l3-1-6 2-3 1zM1419 757l3 1-6 4-2-2z"/>
<path fill="#2c65e0" stroke="#2c65e0" stroke-width=".6" d="M1237 636l2 3 3-1 3 3 3-1 2 3 3-1 3 3 3-1-6 4-3 1-3-3-2 1-3-3-3 1-2-3-3 1-3-3zM1289 653l2 1-5 4-3 0zM1294 651l3-1 2-3-5 4-3 3-3 1zM1411 747l3 2 3 1 2 7-5 3-3-6-3-2-2-1z"/>
<path fill="#2f6ce5" stroke="#2f6ce5" stroke-width=".6" d="M1259 644l2 3 3-1 3 3 2-1 3 3-5 1-3 0-3-2-3 0-2-2-3 0zM1278 653l2-1-5 4-3-2zM1286 654l3-1-6 5-3 0zM1299 647l3-2-5 5-3 1zM1381 711l3-2-6 4-2 1zM1400 736l3 2 3 1 3 2 2 6-5 4-3-7-3-1-3-2-2-1z"/>
<path fill="#3271e8" stroke="#3271e8" stroke-width=".6" d="M1272 651l3-1 3 3-6 1-3 0-2-2zM1280 652l3 0 3 2-6 4-3-2-2 0zM1302 645l3-3-6 5-2 3zM1398 730l2 6-5 4-3-7z"/>
<path fill="#3577eb" stroke="#3577eb" stroke-width=".6" d="M1305 642l3-2-6 5-3 2zM1373 711l3 3-6 2-3-2zM1392 726l3 2 3 2-6 3-3-1-2-3z"/>
<path fill="#397ced" stroke="#397ced" stroke-width=".6" d="M1308 640l2-2-5 4-3 3zM1389 718l3 8-5 3-3-7z"/>
<path fill="#3c82f0" stroke="#3c82f0" stroke-width=".6" d="M1310 638l3-2-6 4-2 2zM1368 700l2 5 3 6-6 3-2-5-3-5zM1384 709l3 4 2 5-5 4-3-5-3-4z"/>
<path fill="#448cf2" stroke="#448cf2" stroke-width=".6" d="M1313 636l3-3-6 5-3 2zM1365 691l3 9-6 4-3-7z"/>
<path fill="#4c96f4" stroke="#4c96f4" stroke-width=".6" d="M1316 633l3-2-6 4-3 3z"/>
<path fill="#53a0f7" stroke="#53a0f7" stroke-width=".6" d="M1319 631l2-3-5 5-3 2zM1362 680l3 11-6 6-2-10z"/>
<path fill="#5baaf9" stroke="#5baaf9" stroke-width=".6" d="M1321 628l3-2-6 5-2 2z"/>
<path fill="#66b5fb" stroke="#66b5fb" stroke-width=".6" d="M1324 626l3-2-6 5-3 2zM1359 668l3 12-5 7-3-11z"/>
<path fill="#75c1fc" stroke="#75c1fc" stroke-width=".6" d="M1327 624l2-3-5 5-3 3z"/>
<path fill="#83ccfd" stroke="#83ccfd" stroke-width=".6" d="M1329 621l3-2-5 5-3 2z"/>
<path fill="#92d8fe" stroke="#92d8fe" stroke-width=".6" d="M1332 619l3-2-6 5-2 2zM1357 656l2 12-5 8-3-12z"/>
<path fill="#a0e4ff" stroke="#a0e4ff" stroke-width=".6" d="M1335 617l3-3-6 6-3 2z"/>
<path fill="#bceeff" stroke="#bceeff" stroke-width=".6" d="M1338 614l2-2-5 5-3 3z"/>
<path fill="#f0fdff" stroke="#f0fdff" stroke-width=".6" d="M1340 612l3-2 3 3 3 9 2 11-5 8-3-11-3-10-3-4-2 1z"/>
<path fill="#d7f7ff" stroke="#d7f7ff" stroke-width=".6" d="M1351 633l3 12-6 8-2-12z"/>
<path fill="#aee9ff" stroke="#aee9ff" stroke-width=".6" d="M1354 645l3 11-6 8-3-11z"/>
<path fill="#2657d0" stroke="#2657d0" stroke-width=".6" d="M1379 713l2-2-5 3-3 1zM1422 758l3 2 3 6 2 2-5 3-3-6-3-2-3-1z"/>
<path fill="#2350c8" stroke="#2350c8" stroke-width=".6" d="M1430 768l3 1 3 1 3 6-6 3-3-6-3-1-2-1z"/>
<path fill="#2049c0" stroke="#2049c0" stroke-width=".6" d="M1439 776l2 0 3 1 3 5-6 4-3-6-2 0-3-1zM1452 784l3 0 3 6-6 3-3-5-3-1zM1460 790l3 1-6 4-2-1z"/>
<path fill="#1d42b8" stroke="#1d42b8" stroke-width=".6" d="M1447 782l2 1 3 1-6 3-2 0-3-1zM1458 790l2 0-5 4-3-1zM1463 791l3 5 3 1-6 4-3-1-3-5z"/>
<path fill="#1a3aac" stroke="#1a3aac" stroke-width=".6" d="M1469 797l2 1 3 5-6-1-2-1-3 0z"/>
<path fill="#2c65e0" stroke="#2c65e0" stroke-width=".6" d="M1226 638l2 3 3-1-6 5-2 1-3-3zM1237 642l2 3 3-1 3 3 2-1 3 3 3-1-6 5-3-2-2 0-3-2-3 0-2-2-3 0zM1283 658l3 0-6 4-3 1zM1288 655l3-1 3-3-6 6-3 1-2 3zM1406 751l2 1 3 2-6 4-2-1-3-1z"/>
<path fill="#295ed8" stroke="#295ed8" stroke-width=".6" d="M1231 640l3 3 3-1-6 5-3 1-3-3zM1286 658l2-3-5 6-3 1zM1370 716l3-1-6 5-3 1zM1411 754l3 6 2 2-5 4-3-1-3-7zM1419 763l3 2-6 4-2-1z"/>
<path fill="#2f6ce5" stroke="#2f6ce5" stroke-width=".6" d="M1253 648l3 0 2 2 3 0 3 2 3 0-6 5-3 0-3-2-2 0-3-2-3 0zM1280 658l3 0-6 5-3 1zM1294 651l3-1-6 4-3 3zM1395 740l2 1 3 2 3 1 3 7-6 5-3-7-3-1-2-2-3-6z"/>
<path fill="#3271e8" stroke="#3271e8" stroke-width=".6" d="M1267 652l2 2 3 0 3 2 2 0 3 2-6 6-2-3-3 1-3-3-2 1-3-3zM1297 650l2-3-5 6-3 1zM1367 714l3 2-6 5-2-2zM1376 714l2-1-5 5-3-2zM1389 732l3 1 3 7-6 0-3-2-2-1z"/>
<path fill="#3577eb" stroke="#3577eb" stroke-width=".6" d="M1299 647l3-2-6 5-2 3zM1387 729l2 3-5 5-3-3z"/>
<path fill="#397ced" stroke="#397ced" stroke-width=".6" d="M1302 645l3-3-6 6-3 2zM1365 709l2 5-5 5-3-5zM1384 722l3 7-6 5-3-7z"/>
<path fill="#3c82f0" stroke="#3c82f0" stroke-width=".6" d="M1305 642l2-2-5 6-3 2zM1362 704l3 5-6 5-3-4zM1378 713l3 4 3 5-6 5-3-6-2-3z"/>
<path fill="#448cf2" stroke="#448cf2" stroke-width=".6" d="M1307 640l3-2-6 6-2 2zM1359 697l3 7-6 6-2-6z"/>
<path fill="#4c96f4" stroke="#4c96f4" stroke-width=".6" d="M1310 638l3-3-6 6-3 3zM1357 687l2 10-5 7-3-9z"/>
<path fill="#53a0f7" stroke="#53a0f7" stroke-width=".6" d="M1313 635l3-2-6 6-3 2z"/>
<path fill="#5baaf9" stroke="#5baaf9" stroke-width=".6" d="M1316 633l2-2-5 6-3 2zM1354 676l3 11-6 8-3-11z"/>
<path fill="#66b5fb" stroke="#66b5fb" stroke-width=".6" d="M1318 631l3-2-6 6-2 2z"/>
<path fill="#75c1fc" stroke="#75c1fc" stroke-width=".6" d="M1321 629l3-3-6 6-3 3z"/>
<path fill="#83ccfd" stroke="#83ccfd" stroke-width=".6" d="M1324 626l3-2-6 6-3 2zM1351 664l3 12-6 8-3-11z"/>
<path fill="#92d8fe" stroke="#92d8fe" stroke-width=".6" d="M1327 624l2-2-5 6-3 2z"/>
<path fill="#a0e4ff" stroke="#a0e4ff" stroke-width=".6" d="M1329 622l3-2-6 6-2 2zM1348 653l3 11-6 9-2-11z"/>
<path fill="#bceeff" stroke="#bceeff" stroke-width=".6" d="M1332 620l3-3-6 7-3 2z"/>
<path fill="#f0fdff" stroke="#f0fdff" stroke-width=".6" d="M1335 617l2-1 3 4 3 10-6 10-3-11-2-5-3 0z"/>
<path fill="#e4faff" stroke="#e4faff" stroke-width=".6" d="M1343 630l3 11-6 10-3-11z"/>
<path fill="#caf3ff" stroke="#caf3ff" stroke-width=".6" d="M1346 641l2 12-5 9-3-11z"/>
<path fill="#2657d0" stroke="#2657d0" stroke-width=".6" d="M1373 715l3-1-6 2-3 4zM1416 762l3 1-5 5-3-2zM1422 765l3 6-6 5-3-7z"/>
<path fill="#2350c8" stroke="#2350c8" stroke-width=".6" d="M1425 771l2 1 3 1 3 6-6 5-3-6-2-1-3-1z"/>
<path fill="#2049c0" stroke="#2049c0" stroke-width=".6" d="M1433 779l3 1 2 0 3 6 3 1-6 4-3-5-2-1-3-1-3 0zM1446 787l3 1 3 5-6 5-2-5-3-1z"/>
<path fill="#1d42b8" stroke="#1d42b8" stroke-width=".6" d="M1444 787l2 0-5 5-3-1zM1452 793l3 1 2 1 3 5-6 5-2-5-3-1-3-1z"/>
<path fill="#1a3aac" stroke="#1a3aac" stroke-width=".6" d="M1460 800l3 1-6 5-3-1z"/>
<path fill="#17339d" stroke="#17339d" stroke-width=".6" d="M1463 801l3 0 2 1-5 5-3 0-3-1z"/>
<path fill="#2c65e0" stroke="#2c65e0" stroke-width=".6" d="M1220 643l3 3 2-1 3 3-6 2-2 0-3-2-3 0zM1231 647l3 0 2 2 3 0 3 2-6 6-3-3-2 0-3-2-3 0zM1277 663l3-1-6 5-2 1zM1283 661l2-3 3-1-6 6-2 1-3 3zM1400 756l3 1 2 1 3 7-6 0-2-2-3-1-3-2z"/>
<path fill="#295ed8" stroke="#295ed8" stroke-width=".6" d="M1228 648l3-1-6 5-3-2zM1280 662l3-1-6 6-3 0zM1367 720l3-4-6 5-3 3zM1408 765l3 1-6 5-3-6zM1414 768l2 1-5 5-3-2z"/>
<path fill="#2f6ce5" stroke="#2f6ce5" stroke-width=".6" d="M1242 651l2 0 3 2 3 0 3 2 2 0 3 2 3 0 3 3-6 2-3 0-3 1-2-3-3 1-3-3-2 1-3-3-3 1zM1274 664l3-1-5 5-3-2zM1288 657l3-3-6 6-3 3zM1392 746l2 2 3 1 3 7-6 4-3-6-2-1-3-2z"/>
<path fill="#3271e8" stroke="#3271e8" stroke-width=".6" d="M1264 660l2-1 3 3 3-1 2 3-5 2-3 0-3-2-2 0-3-2zM1291 654l3-1-6 5-3 2zM1362 719l2 2-5 4-3-1zM1370 716l3 2-6 4-3-1zM1384 737l2 1 3 2 3 6-6 5-3-6-2-2-3-1z"/>
<path fill="#3577eb" stroke="#3577eb" stroke-width=".6" d="M1294 653l2-3-5 6-3 2zM1381 734l3 3-6 5-3-2z"/>
<path fill="#397ced" stroke="#397ced" stroke-width=".6" d="M1296 650l3-2-6 6-2 2zM1359 714l3 5-6 5-3-4zM1378 727l3 7-6 6-3-8z"/>
<path fill="#3c82f0" stroke="#3c82f0" stroke-width=".6" d="M1299 648l3-2-6 5-3 3zM1356 710l3 4-6 6-2-5zM1373 718l2 3 3 6-6 5-2-6-3-4z"/>
<path fill="#448cf2" stroke="#448cf2" stroke-width=".6" d="M1302 646l2-2-5 6-3 1zM1354 704l2 6-5 5-3-5z"/>
<path fill="#4c96f4" stroke="#4c96f4" stroke-width=".6" d="M1304 644l3-3-6 6-2 3zM1351 695l3 9-6 6-3-8z"/>
<path fill="#53a0f7" stroke="#53a0f7" stroke-width=".6" d="M1307 641l3-2-6 6-3 2z"/>
<path fill="#5baaf9" stroke="#5baaf9" stroke-width=".6" d="M1310 639l3-2-6 6-3 2zM1348 684l3 11-6 7-3-10z"/>
<path fill="#66b5fb" stroke="#66b5fb" stroke-width=".6" d="M1313 637l2-2 3-3-6 7-2 2-3 2z"/>
<path fill="#75c1fc" stroke="#75c1fc" stroke-width=".6" d="M1318 632l3-2-6 7-3 2zM1345 673l3 11-6 8-2-10z"/>
<path fill="#83ccfd" stroke="#83ccfd" stroke-width=".6" d="M1321 630l3-2-6 6-3 3z"/>
<path fill="#a0e4ff" stroke="#a0e4ff" stroke-width=".6" d="M1324 628l2-2-5 6-3 2z"/>
<path fill="#bceeff" stroke="#bceeff" stroke-width=".6" d="M1326 626l3-2-6 6-2 2z"/>
<path fill="#f0fdff" stroke="#f0fdff" stroke-width=".6" d="M1329 624l3 0 2 5 3 11-6 9-2-11-3-7-3-1z"/>
<path fill="#d7f7ff" stroke="#d7f7ff" stroke-width=".6" d="M1337 640l3 11-6 9-3-11z"/>
<path fill="#aee9ff" stroke="#aee9ff" stroke-width=".6" d="M1340 651l3 11-6 9-3-11z"/>
<path fill="#92d8fe" stroke="#92d8fe" stroke-width=".6" d="M1343 662l2 11-5 9-3-11z"/>
<path fill="#2657d0" stroke="#2657d0" stroke-width=".6" d="M1364 721l3-1-6 4-2 1zM1411 766l3 2-6 4-3-1zM1416 769l3 7-6 4-2-6z"/>
<path fill="#2350c8" stroke="#2350c8" stroke-width=".6" d="M1419 776l3 1 2 1 3 6-6 4-2-5-3-2-3-1z"/>
<path fill="#2049c0" stroke="#2049c0" stroke-width=".6" d="M1427 784l3 0-6 5-3-1zM1433 785l2 1 3 5 3 1 3 1 2 5-5 5-3-5-3-1-3-1-2-6-3 0z"/>
<path fill="#1d42b8" stroke="#1d42b8" stroke-width=".6" d="M1430 784l3 1-6 5-3-1zM1446 798l3 1 3 1 2 5 3 1-6 5-2-6-3 0-3-1-2-1z"/>
<path fill="#1a3aac" stroke="#1a3aac" stroke-width=".6" d="M1457 806l3 1-6 5-3-1z"/>
<path fill="#17339d" stroke="#17339d" stroke-width=".6" d="M1460 807l3 0-6 5-3 0z"/>
<path d="M1214 648l3 0 3 2 2 0 3 2 3 0 3 2 2 0 3 3 3-1 3 3 2-1 3 3 3-1 2 3 3-1 3 0 3 2 2 0 3 2 3 0 3 2 2-1 3 0 3-3 2-1 3-3 3-2 3-2 2-2 3-3 3-1 2-3 3-2 3-2 3-2 2-2 3-2 3-3 3-2 2-2 3 1 3 7 2 11 3 11 3 11 3 11 2 10 3 10 3 8 3 5 2 5 3 4 3 1 2-1 3-3 3 1 3 4 2 6 3 8 3 2 3 1 2 2 3 6 3 2 2 1 3 6 3 2 3 1 2 2 3 6 3 1 3 2 2 6 3 1 3 2 2 5 3 1 3 1 3 0 2 6 3 1 3 1 3 5 2 1 3 1 3 0 2 6 3 1 3 0" fill="none" stroke="#000" stroke-width="2.5" stroke-linejoin="round"/>
<path fill="#2c65e0" stroke="#2c65e0" stroke-width=".6" d="M1214 649l3 0 3 3 2-1 3 3 3-1 3 3 2-1 3 3-6 1-2 0-3 1-3-3-3 1-2-3-3 0-3-2-2 0zM1272 670l2-2-5 5-3 1zM1280 665l2-1-5 2-3 3zM1394 762l3 1-6 4-2-2zM1400 764l2 2-5 3-3-1z"/>
<path fill="#2f6ce5" stroke="#2f6ce5" stroke-width=".6" d="M1236 658l3-1 3 3 2-1 3 3 3 0 2 2 3 0-6 4-2-3-3 1-3-3-2 0-3-2-3 0-3-2zM1269 667l3 3-6 4-3-3zM1282 664l3-3-6 4-2 1zM1356 725l3 1-6 3-3-2zM1386 752l3 2 2 1 3 7-5 3-3-6-3-1-3-2z"/>
<path fill="#3271e8" stroke="#3271e8" stroke-width=".6" d="M1255 664l3-1 3 3 2-1 3 3 3-1-6 4-3 1-2-3-3 1-3-3-3 1zM1285 661l3-1-6 3-3 2zM1378 743l3 2 2 1 3 6-6 4-2-6-3-1-3-2z"/>
<path fill="#295ed8" stroke="#295ed8" stroke-width=".6" d="M1274 668l3 0 3-3-6 4-3 4-2 0zM1361 725l3-3-5 3-3 3zM1397 763l3 1-6 4-3-1zM1402 766l3 6 3 2 3 1-6 3-3-1-3-1-2-7z"/>
<path fill="#3577eb" stroke="#3577eb" stroke-width=".6" d="M1288 660l3-3-6 4-3 2zM1364 722l3 2-6 3-2-2zM1372 733l3 8 3 2-6 4-3-2-2-8z"/>
<path fill="#397ced" stroke="#397ced" stroke-width=".6" d="M1291 657l2-2-5 4-3 2zM1353 721l3 4-6 2-2-2z"/>
<path fill="#3c82f0" stroke="#3c82f0" stroke-width=".6" d="M1293 655l3-2-6 4-2 2zM1351 716l2 5-5 4-3-5zM1370 728l2 5-5 4-3-6z"/>
<path fill="#448cf2" stroke="#448cf2" stroke-width=".6" d="M1296 653l3-2 2-3-5 5-3 2-3 2zM1348 711l3 5-6 4-3-5zM1367 724l3 4-6 3-3-4z"/>
<path fill="#4c96f4" stroke="#4c96f4" stroke-width=".6" d="M1301 648l3-2-5 5-3 2zM1345 703l3 8-6 4-3-6z"/>
<path fill="#53a0f7" stroke="#53a0f7" stroke-width=".6" d="M1304 646l3-2-6 5-2 2zM1342 694l3 9-6 6-2-9z"/>
<path fill="#5baaf9" stroke="#5baaf9" stroke-width=".6" d="M1307 644l3-2-6 5-3 2z"/>
<path fill="#66b5fb" stroke="#66b5fb" stroke-width=".6" d="M1310 642l2-2-5 5-3 2zM1340 683l2 11-5 6-3-10z"/>
<path fill="#75c1fc" stroke="#75c1fc" stroke-width=".6" d="M1312 640l3-2-6 5-2 2z"/>
<path fill="#83ccfd" stroke="#83ccfd" stroke-width=".6" d="M1315 638l3-2-6 5-3 2zM1337 672l3 11-6 7-3-11z"/>
<path fill="#92d8fe" stroke="#92d8fe" stroke-width=".6" d="M1318 636l3-2-6 5-3 2z"/>
<path fill="#bceeff" stroke="#bceeff" stroke-width=".6" d="M1321 634l2-2-5 5-3 2z"/>
<path fill="#f0fdff" stroke="#f0fdff" stroke-width=".6" d="M1323 632l3 0 3 8-6 8-3-9-2-2z"/>
<path fill="#e4faff" stroke="#e4faff" stroke-width=".6" d="M1329 640l2 10-5 8-3-10z"/>
<path fill="#caf3ff" stroke="#caf3ff" stroke-width=".6" d="M1331 650l3 11-5 8-3-11z"/>
<path fill="#a0e4ff" stroke="#a0e4ff" stroke-width=".6" d="M1334 661l3 11-6 7-2-10z"/>
<path fill="#2657d0" stroke="#2657d0" stroke-width=".6" d="M1359 726l2-1-5 3-3 1zM1411 775l2 6-5 4-3-7z"/>
<path fill="#2350c8" stroke="#2350c8" stroke-width=".6" d="M1413 781l3 2 3 1 2 6-5-2-3-1-3-1-2-1zM1430 792l2 5-5 4-3-6z"/>
<path fill="#2049c0" stroke="#2049c0" stroke-width=".6" d="M1421 790l3 0 3 1 3 1-6 3-3-1-2 0-3-6zM1432 797l3 1 3 1 3 5-6 4-3-6-3 0-2-1z"/>
<path fill="#1d42b8" stroke="#1d42b8" stroke-width=".6" d="M1441 804l2 1 3 1 3 1 2 5-5 4-3-6-3 0-2-1-3-1z"/>
<path fill="#1a3aac" stroke="#1a3aac" stroke-width=".6" d="M1451 812l3 1-5 4-3-1z"/>
<path fill="#17339d" stroke="#17339d" stroke-width=".6" d="M1454 813l3 0-6 4-2 0z"/>
<path fill="#2c65e0" stroke="#2c65e0" stroke-width=".6" d="M1209 653l2 0 3 2 3 0 2 3 3-1 3 3 3-1 2 0-5 5-3 0-3-2-3 0-2-2-3 0-3-2-2 0-3-3zM1269 673l2 0-5 3-3 2zM1274 669l3-3-6 6-3 3zM1389 765l2 2 3 1 3 1 2 7-5 4-3-6-3-1-2-2-3-6z"/>
<path fill="#2f6ce5" stroke="#2f6ce5" stroke-width=".6" d="M1230 659l3 2 3 0 3 2 2 0 3 3 3-1-6 5-3 1-2-3-3 1-3-3-3 1-2-3zM1266 674l3-1-6 5-3-2zM1277 666l2-1-5 6-3 1zM1350 727l3 2-6 5-2-2zM1380 756l3 2 3 1 3 6-6 0-3-1-3-2-2-1z"/>
<path fill="#3271e8" stroke="#3271e8" stroke-width=".6" d="M1247 665l2 3 3-1 3 3 3-1 2 3 3-1 3 3-6 2-3 1-2-3-3 1-3 0-3-2-2 0-3-3zM1279 665l3-2-6 6-2 2zM1372 747l3 2 3 1 2 6-5 5-3-6-3-1-3-2z"/>
<path fill="#295ed8" stroke="#295ed8" stroke-width=".6" d="M1271 673l3-4-6 6-2 1zM1356 728l3-3-6 4-3 4zM1399 776l3 1 3 1-6 5-3-1-2-2z"/>
<path fill="#3577eb" stroke="#3577eb" stroke-width=".6" d="M1282 663l3-2-6 6-3 2zM1359 725l2 2-5 5-3-3zM1369 745l3 2-6 5-2-6z"/>
<path fill="#397ced" stroke="#397ced" stroke-width=".6" d="M1285 661l3-2-6 6-3 2zM1348 725l2 2-5 5-3-2zM1367 737l2 8-5 1-3-4z"/>
<path fill="#3c82f0" stroke="#3c82f0" stroke-width=".6" d="M1288 659l2-2 3-2-6 6-2 2-3 2zM1345 720l3 5-6 5-3-4zM1364 731l3 6-6 5-3-6z"/>
<path fill="#448cf2" stroke="#448cf2" stroke-width=".6" d="M1293 655l3-2-6 6-3 2zM1339 709l3 6 3 5-6 6-3-5-2-6zM1361 727l3 4-6 5-2-4z"/>
<path fill="#4c96f4" stroke="#4c96f4" stroke-width=".6" d="M1296 653l3-2-6 6-3 2z"/>
<path fill="#53a0f7" stroke="#53a0f7" stroke-width=".6" d="M1299 651l2-2-5 6-3 2zM1337 700l2 9-5 6-3-8z"/>
<path fill="#5baaf9" stroke="#5baaf9" stroke-width=".6" d="M1301 649l3-2-6 6-2 2zM1334 690l3 10-6 7-3-9z"/>
<path fill="#66b5fb" stroke="#66b5fb" stroke-width=".6" d="M1304 647l3-2-6 6-3 2z"/>
<path fill="#75c1fc" stroke="#75c1fc" stroke-width=".6" d="M1307 645l2-2-5 6-3 2zM1331 679l3 11-6 8-2-10z"/>
<path fill="#83ccfd" stroke="#83ccfd" stroke-width=".6" d="M1309 643l3-2-6 6-2 2z"/>
<path fill="#92d8fe" stroke="#92d8fe" stroke-width=".6" d="M1312 641l3-2-6 6-3 2z"/>
<path fill="#caf3ff" stroke="#caf3ff" stroke-width=".6" d="M1315 639l3-2-6 8-3 0z"/>
<path fill="#f0fdff" stroke="#f0fdff" stroke-width=".6" d="M1318 637l2 2 3 9-6 9-2-9-3-3z"/>
<path fill="#d7f7ff" stroke="#d7f7ff" stroke-width=".6" d="M1323 648l3 10-6 9-3-10z"/>
<path fill="#bceeff" stroke="#bceeff" stroke-width=".6" d="M1326 658l3 11-6 8-3-10z"/>
<path fill="#a0e4ff" stroke="#a0e4ff" stroke-width=".6" d="M1329 669l2 10-5 9-3-11z"/>
<path fill="#2657d0" stroke="#2657d0" stroke-width=".6" d="M1353 729l3-1-6 5-3 1zM1405 778l3 7-6 4-3-6z"/>
<path fill="#2350c8" stroke="#2350c8" stroke-width=".6" d="M1408 785l2 1 3 1 3 1 3 6-6 4-3-5-3-1-2-2-3-1zM1421 794l3 1 3 6-6 5-3-6-2-1z"/>
<path fill="#2049c0" stroke="#2049c0" stroke-width=".6" d="M1419 794l2 0-5 5-3-1zM1427 801l2 1-5 4-3 0zM1432 802l3 6-6 0-3-1zM1440 810l3 0 3 6-6 5-3-6-2 0z"/>
<path fill="#1d42b8" stroke="#1d42b8" stroke-width=".6" d="M1429 802l3 0-6 5-2-1zM1435 808l3 1 2 1-5 5-3-1-3-6z"/>
<path fill="#1a3aac" stroke="#1a3aac" stroke-width=".6" d="M1446 816l3 1-6 5-3-1z"/>
<path fill="#17339d" stroke="#17339d" stroke-width=".6" d="M1449 817l2 0-5 5-3 0z"/>
<path fill="#2f6ce5" stroke="#2f6ce5" stroke-width=".6" d="M1203 655l3 3-6 5-3-3zM1222 664l3 0 2 3 3-1 3 3 3-1 2 3-5 2-3 1-3-3-3 0-2 1-3-3-3 1zM1260 676l3 2-6 6-3-2zM1271 672l3-1-6 6-3 1zM1345 732l2 2-5 4-3-2zM1375 761l2 1-5 5-3-1zM1380 764l3 1-6 5-3-1z"/>
<path fill="#2c65e0" stroke="#2c65e0" stroke-width=".6" d="M1206 658l2 0 3 2 3 0 2 2 3 0 3 2-6 6-2-3-3 0-3-2-3 0-2-2-3 0zM1263 678l3-2-6 5-3 3zM1268 675l3-3-6 6-2 3zM1377 762l3 2-6 5-2-2zM1383 765l3 6 2 2 3 1 3 6-6 5-3-6-2-2-3-1-3-6z"/>
<path fill="#3271e8" stroke="#3271e8" stroke-width=".6" d="M1238 671l3-1 3 3 2 0 3 2 3 0 3-1 2 3 3-1-6 6-2 0-3-2-3 0-2-3-3 1-3-3-3 1-2-3zM1274 671l2-2-5 5-3 3zM1366 752l3 2 3 1 3 6-6 5-3-6-2-1-3-2z"/>
<path fill="#295ed8" stroke="#295ed8" stroke-width=".6" d="M1266 676l2-1-5 6-3 0zM1347 734l3-1 3-4-6 5-3 3-2 1zM1394 780l2 2-5 4-3-1z"/>
<path fill="#3577eb" stroke="#3577eb" stroke-width=".6" d="M1276 669l3-2 3-2-6 6-2 2-3 1zM1364 746l2 6-5 5-3-6z"/>
<path fill="#397ced" stroke="#397ced" stroke-width=".6" d="M1282 665l3-2-6 5-3 3zM1342 730l3 2-6 4-3-2zM1353 729l3 3-6 4-3-2zM1361 742l3 4-6 5-3-4z"/>
<path fill="#3c82f0" stroke="#3c82f0" stroke-width=".6" d="M1285 663l2-2-5 6-3 1zM1339 726l3 4-6 4-2-3zM1356 732l2 4 3 6-6 5-2-6-3-5z"/>
<path fill="#448cf2" stroke="#448cf2" stroke-width=".6" d="M1287 661l3-2-6 6-2 2zM1334 715l2 6 3 5-5 5-3-5-3-6z"/>
<path fill="#4c96f4" stroke="#4c96f4" stroke-width=".6" d="M1290 659l3-2-6 6-3 2zM1331 707l3 8-6 5-3-6z"/>
<path fill="#53a0f7" stroke="#53a0f7" stroke-width=".6" d="M1293 657l3-2-6 6-3 2z"/>
<path fill="#5baaf9" stroke="#5baaf9" stroke-width=".6" d="M1296 655l2-2-5 6-3 2zM1328 698l3 9-6 7-2-8z"/>
<path fill="#66b5fb" stroke="#66b5fb" stroke-width=".6" d="M1298 653l3-2-6 6-2 2z"/>
<path fill="#75c1fc" stroke="#75c1fc" stroke-width=".6" d="M1301 651l3-2-6 6-3 2zM1326 688l2 10-5 8-3-10z"/>
<path fill="#83ccfd" stroke="#83ccfd" stroke-width=".6" d="M1304 649l2-2-5 7-3 1z"/>
<path fill="#a0e4ff" stroke="#a0e4ff" stroke-width=".6" d="M1306 647l3-2-5 7-3 2z"/>
<path fill="#d7f7ff" stroke="#d7f7ff" stroke-width=".6" d="M1309 645l3 0-6 7-2 0z"/>
<path fill="#f0fdff" stroke="#f0fdff" stroke-width=".6" d="M1312 645l3 3-6 9-3-5z"/>
<path fill="#e4faff" stroke="#e4faff" stroke-width=".6" d="M1315 648l2 9-5 9-3-9z"/>
<path fill="#caf3ff" stroke="#caf3ff" stroke-width=".6" d="M1317 657l3 10-6 9-2-10z"/>
<path fill="#aee9ff" stroke="#aee9ff" stroke-width=".6" d="M1320 667l3 10-6 9-3-10z"/>
<path fill="#92d8fe" stroke="#92d8fe" stroke-width=".6" d="M1323 677l3 11-6 8-3-10z"/>
<path fill="#2657d0" stroke="#2657d0" stroke-width=".6" d="M1396 782l3 1 3 6 3 1-6 5-3-6-2-2-3-1zM1407 792l3 1-6 4-2-1z"/>
<path fill="#2350c8" stroke="#2350c8" stroke-width=".6" d="M1405 790l2 2-5 4-3-1zM1410 793l3 5 3 1 2 1-5 5-3-1-3-1-3-6z"/>
<path fill="#2049c0" stroke="#2049c0" stroke-width=".6" d="M1418 800l3 6 3 0-6 5-3-1-2-5zM1426 807l3 1 3 6-6 5-2-6-3-1zM1435 815l2 0 3 6-6 5-2-6-3 0z"/>
<path fill="#1d42b8" stroke="#1d42b8" stroke-width=".6" d="M1424 806l2 1-5 5-3-1zM1432 814l3 1-6 5-3-1z"/>
<path fill="#1a3aac" stroke="#1a3aac" stroke-width=".6" d="M1440 821l3 1-6 5-3-1z"/>
<path fill="#17339d" stroke="#17339d" stroke-width=".6" d="M1443 822l3 0-6 6-3-1z"/>
<path d="M1197 660l3 3 3 0 2 2 3 0 3 2 3 0 2 3 3-1 3 3 2-1 3 0 3 3 3-1 2 3 3-1 3 3 3-1 2 3 3 0 3 2 2 0 3 2 3-3 3 0 2-3 3-1 3-3 3-1 2-2 3-3 3-1 2-2 3-2 3-2 3-2 2-2 3-2 3-1 3-2 2 0 3 5 3 9 2 10 3 10 3 10 3 10 2 8 3 6 3 6 3 5 2 3 3 2 3 2 2-1 3-3 3 2 3 5 2 6 3 4 3 6 3 2 2 1 3 6 3 1 2 2 3 1 3 6 3 1 2 2 3 6 3 1 3 1 2 2 3 6 3 1 2 1 3 6 3 1 3 1 2 5 3 1 3 1 3 1 2 6 3 1 3 0 2 6 3 1 3 1" fill="none" stroke="#000" stroke-width="2.5" stroke-linejoin="round"/>
<path fill="#2c65e0" stroke="#2c65e0" stroke-width=".6" d="M1197 662l3 2 3 0 2 2 3 0 3 3 3-1-6 4-3-2-3 0-2 0-3-2-3 0-3-3zM1257 685l3-2 3-1 2-3-5 5-3 0-3 3-3-1zM1372 769l2 1-5 4-3-2zM1380 777l3 2 2 1-5 4-3-2-3-1z"/>
<path fill="#2f6ce5" stroke="#2f6ce5" stroke-width=".6" d="M1214 668l2 3 3-1 3 3 2 0 3-1 3 3 3-1 2 3-5 4-3-3-3 1-3-3-2 1-3-3-3 0-2-2-3 0zM1252 683l2 0 3 2-6 1-2 1-3 0zM1265 679l3-1-6 3-2 3zM1339 737l3 2-6 4-3-2zM1366 761l3 6 3 2-6 3-3-1-2-6zM1374 770l3 1 3 6-6 4-3-6-2-1z"/>
<path fill="#3271e8" stroke="#3271e8" stroke-width=".6" d="M1235 677l3 0 3 2 3 0 2 2 3 0 3 2-6 4-3-2-2 0-3-2-3 0-3-2-2 0zM1268 678l3-2 3-2-6 4-3 2-3 1zM1361 758l3 2 2 1-5 4-3-1-3-2z"/>
<path fill="#3577eb" stroke="#3577eb" stroke-width=".6" d="M1274 674l2-2-5 4-3 2zM1336 735l3 2-6 4-2-2zM1358 752l3 6-6 4-3-6z"/>
<path fill="#397ced" stroke="#397ced" stroke-width=".6" d="M1276 672l3-2-6 4-2 2zM1347 735l3 3-6 0-3 0zM1355 748l3 4-6 4-2-4z"/>
<path fill="#3c82f0" stroke="#3c82f0" stroke-width=".6" d="M1279 670l3-2-6 5-3 1zM1331 727l3 5 2 3-5 4-3-3-3-5zM1353 742l2 6-5 4-3-6z"/>
<path fill="#448cf2" stroke="#448cf2" stroke-width=".6" d="M1282 668l2-2-5 5-3 2zM1328 721l3 6-6 4-3-5zM1350 738l3 4-6 4-3-8z"/>
<path fill="#4c96f4" stroke="#4c96f4" stroke-width=".6" d="M1284 666l3-2-6 5-2 2zM1325 715l3 6-6 5-2-6z"/>
<path fill="#53a0f7" stroke="#53a0f7" stroke-width=".6" d="M1287 664l3-2 3-2-6 5-3 2-3 2zM1323 707l2 8-5 5-3-7z"/>
<path fill="#5baaf9" stroke="#5baaf9" stroke-width=".6" d="M1293 660l2-1-5 5-3 1z"/>
<path fill="#66b5fb" stroke="#66b5fb" stroke-width=".6" d="M1295 659l3-2-6 5-2 2zM1320 697l3 10-6 6-3-9z"/>
<path fill="#75c1fc" stroke="#75c1fc" stroke-width=".6" d="M1298 657l3-2-6 5-3 2z"/>
<path fill="#a0e4ff" stroke="#a0e4ff" stroke-width=".6" d="M1301 655l3-2-6 5-3 2zM1314 677l3 10-6 7-2-9z"/>
<path fill="#e4faff" stroke="#e4faff" stroke-width=".6" d="M1304 653l2 0-5 6-3-1z"/>
<path fill="#f0fdff" stroke="#f0fdff" stroke-width=".6" d="M1306 653l3 5-6 8-2-7z"/>
<path fill="#d7f7ff" stroke="#d7f7ff" stroke-width=".6" d="M1309 658l3 9-6 8-3-9z"/>
<path fill="#bceeff" stroke="#bceeff" stroke-width=".6" d="M1312 667l2 10-5 8-3-10z"/>
<path fill="#83ccfd" stroke="#83ccfd" stroke-width=".6" d="M1317 687l3 10-6 7-3-10z"/>
<path fill="#2657d0" stroke="#2657d0" stroke-width=".6" d="M1342 739l2-1-5 3-3 2zM1391 787l3 2-6 3-3-1zM1396 790l3 6 3 1 2 1 3 6-6 4-2-6-3-1-3-1-2-7z"/>
<path fill="#295ed8" stroke="#295ed8" stroke-width=".6" d="M1344 738l3-3-6 3-2 3zM1385 780l3 6 3 1-6 4-3-1-2-6zM1394 789l2 1-5 3-3-1z"/>
<path fill="#2350c8" stroke="#2350c8" stroke-width=".6" d="M1407 804l3 1-6 4-3-1zM1413 806l2 6-5-2-3-1z"/>
<path fill="#2049c0" stroke="#2049c0" stroke-width=".6" d="M1410 805l3 1-6 3-3 0zM1415 812l3 1 3 0 3 1 2 6-5 4-3-6-3-1-3-1-2-6zM1429 821l3 1-6 3-3-1z"/>
<path fill="#1d42b8" stroke="#1d42b8" stroke-width=".6" d="M1426 820l3 1-6 3-2 0zM1432 822l2 5-5 4-3-6z"/>
<path fill="#1a3aac" stroke="#1a3aac" stroke-width=".6" d="M1434 827l3 1 3 1-6 4-3-1-2-1z"/>
<path fill="#2c65e0" stroke="#2c65e0" stroke-width=".6" d="M1191 665l3 3 3 0 3 2 2 0 3 0 3 2 3 0-6 4-3 1-3-3-2 1-3-3-3 1-2-3-3 1zM1251 686l3 1 3-3 3 0-6 4-3 1-2 2-3-2zM1339 741l2-3-5 4-3 3zM1366 772l3 2-6 5-3-1zM1374 781l3 1-6 6-3-2zM1380 784l2 6-5 0-3-1z"/>
<path fill="#2f6ce5" stroke="#2f6ce5" stroke-width=".6" d="M1211 672l2 2 3 0 3 3 2-1 3 3 3-1 3 3 2 0-5 3-3-2-3 0-2 1-3-3-3 1-3-3-2 1-3-3zM1249 687l2-1-5 3-3 1zM1260 684l2-3-5 4-3 3zM1333 741l3 2-6 4-2-3zM1361 765l2 6 3 1-6 6-2-6-3-2zM1369 774l2 1 3 6-6 5-2-6-3-1z"/>
<path fill="#3271e8" stroke="#3271e8" stroke-width=".6" d="M1232 681l3 2 3 0 3 2 2 0 3 2 3 0-6 3-3-2-2 0-3-2-3 0-3-2-2 0zM1262 681l3-1 3-2-6 4-3 3-2 0zM1355 762l3 2 3 1-6 5-3-1-3-1z"/>
<path fill="#3577eb" stroke="#3577eb" stroke-width=".6" d="M1268 678l3-2-6 5-3 1zM1331 739l2 2-5 3-3-1zM1352 756l3 6-6 6-2-7z"/>
<path fill="#397ced" stroke="#397ced" stroke-width=".6" d="M1271 676l2-2-5 5-3 2zM1328 736l3 3-6 4-3-3zM1347 746l3 6 2 4-5 5-3-3-3-6z"/>
<path fill="#3c82f0" stroke="#3c82f0" stroke-width=".6" d="M1273 674l3-1-6 5-2 1zM1325 731l3 5-6 4-3-4zM1341 738l3 0-5 6-3-2z"/>
<path fill="#448cf2" stroke="#448cf2" stroke-width=".6" d="M1276 673l3-2-6 5-3 2zM1322 726l3 5-6 5-2-5zM1344 738l3 8-6 6-2-8z"/>
<path fill="#4c96f4" stroke="#4c96f4" stroke-width=".6" d="M1279 671l2-2 3-2-5 5-3 2-3 2zM1320 720l2 6-5 5-3-5z"/>
<path fill="#53a0f7" stroke="#53a0f7" stroke-width=".6" d="M1284 667l3-2-6 6-2 1zM1317 713l3 7-6 6-3-6z"/>
<path fill="#5baaf9" stroke="#5baaf9" stroke-width=".6" d="M1287 665l3-1-6 5-3 2zM1314 704l3 9-6 7-2-8z"/>
<path fill="#66b5fb" stroke="#66b5fb" stroke-width=".6" d="M1290 664l2-2-5 5-3 2z"/>
<path fill="#75c1fc" stroke="#75c1fc" stroke-width=".6" d="M1292 662l3-2-6 6-2 1zM1311 694l3 10-5 8-3-9z"/>
<path fill="#a0e4ff" stroke="#a0e4ff" stroke-width=".6" d="M1295 660l3-2-6 7-3 1z"/>
<path fill="#e4faff" stroke="#e4faff" stroke-width=".6" d="M1298 658l3 1 2 7-5 9-3-8-3-2z"/>
<path fill="#caf3ff" stroke="#caf3ff" stroke-width=".6" d="M1303 666l3 9-6 9-2-9z"/>
<path fill="#aee9ff" stroke="#aee9ff" stroke-width=".6" d="M1306 675l3 10-6 8-3-9z"/>
<path fill="#92d8fe" stroke="#92d8fe" stroke-width=".6" d="M1309 685l2 9-5 9-3-10z"/>
<path fill="#2657d0" stroke="#2657d0" stroke-width=".6" d="M1336 743l3-2-6 4-3 2zM1385 791l3 1-6 5-3-1zM1393 800l3 1 3 1-6 5-3-1-2-1z"/>
<path fill="#295ed8" stroke="#295ed8" stroke-width=".6" d="M1377 782l3 2-6 5-3-1zM1382 790l3 1-6 5-2-6zM1388 792l3 1 2 7-5 5-3-6-3-2z"/>
<path fill="#2350c8" stroke="#2350c8" stroke-width=".6" d="M1399 802l2 6-5 5-3-6zM1407 809l3 1 2 6-5 5-3-5-3-1z"/>
<path fill="#2049c0" stroke="#2049c0" stroke-width=".6" d="M1401 808l3 1 3 0-6 6-3-1-2-1zM1412 816l3 1 3 1 3 6-6 5-3-6-3-1-2-1z"/>
<path fill="#1d42b8" stroke="#1d42b8" stroke-width=".6" d="M1421 824l2 0 3 1 3 6 2 1-5 5-3-6-3 0-2-1-3-1z"/>
<path fill="#1a3aac" stroke="#1a3aac" stroke-width=".6" d="M1431 832l3 1-6 5-2-1z"/>
<path fill="#2c65e0" stroke="#2c65e0" stroke-width=".6" d="M1186 671l3-1 2 3 3-1 3 3 2-1 3 3 3-1 3 3-6 1-3 1-3 0-2-2-3 0-3-2-2 1-3-3-3 1zM1249 691l2-2-5 3-3 2zM1328 744l2 3-5 2-3-1zM1366 780l2 6-5 6-3-6zM1374 789l3 1-6 5-3-1z"/>
<path fill="#2f6ce5" stroke="#2f6ce5" stroke-width=".6" d="M1208 679l2-1 3 3 3-1 3 3 2-1 3 0-6 3-2 1-3-2-3 0-3-2-2 0-3-2zM1246 689l3 2-6 3-3-2zM1251 689l3-1 3-3-6 5-3 0-2 2zM1333 745l3-3-6 4-3 2zM1352 769l3 1-6 6-3-1zM1358 772l2 6 3 1 3 1-6 6-3-2-2-1-3-6z"/>
<path fill="#3271e8" stroke="#3271e8" stroke-width=".6" d="M1224 682l3 2 2 0 3 2 3 0 3 2 2 0 3 2 3-1-6 3-3 1-2-2-3 0-3-2-3 0-2-2-3 1-3-3zM1257 685l2 0-5 3-3 2zM1349 768l3 1-6 6-2-2zM1355 770l3 2-6 5-3-1z"/>
<path fill="#3577eb" stroke="#3577eb" stroke-width=".6" d="M1259 685l3-3 3-1-6 4-3 2-2 1zM1325 743l3 1-6 4-3-1zM1344 758l3 3 2 7-5 5-3-6-3-4z"/>
<path fill="#397ced" stroke="#397ced" stroke-width=".6" d="M1265 681l3-2-6 5-3 1zM1322 740l3 3-6 4-3-2zM1341 752l3 6-6 5-2-5z"/>
<path fill="#3c82f0" stroke="#3c82f0" stroke-width=".6" d="M1268 679l2-1-5 4-3 2zM1319 736l3 4-6 5-2-4z"/>
<path fill="#448cf2" stroke="#448cf2" stroke-width=".6" d="M1270 678l3-2-6 5-2 1zM1317 731l2 5-5 5-3-4zM1336 742l3 2 2 8-5 6-3-9-3-3z"/>
<path fill="#4c96f4" stroke="#4c96f4" stroke-width=".6" d="M1273 676l3-2-6 5-3 2zM1314 726l3 5-6 6-3-5z"/>
<path fill="#53a0f7" stroke="#53a0f7" stroke-width=".6" d="M1276 674l3-2 2-1-5 5-3 2-3 1zM1311 720l3 6-6 6-2-6z"/>
<path fill="#5baaf9" stroke="#5baaf9" stroke-width=".6" d="M1281 671l3-2-6 5-2 2zM1309 712l2 8-5 6-3-6z"/>
<path fill="#66b5fb" stroke="#66b5fb" stroke-width=".6" d="M1284 669l3-2-6 6-3 1zM1306 703l3 9-6 8-3-9z"/>
<path fill="#83ccfd" stroke="#83ccfd" stroke-width=".6" d="M1287 667l2-1-5 5-3 2zM1303 693l3 10-6 8-3-9z"/>
<path fill="#bceeff" stroke="#bceeff" stroke-width=".6" d="M1289 666l3-1-6 6-2 0zM1298 675l2 9-5 9-3-9z"/>
<path fill="#e4faff" stroke="#e4faff" stroke-width=".6" d="M1292 665l3 2-6 9-3-5z"/>
<path fill="#d7f7ff" stroke="#d7f7ff" stroke-width=".6" d="M1295 667l3 8-6 9-3-8z"/>
<path fill="#a0e4ff" stroke="#a0e4ff" stroke-width=".6" d="M1300 684l3 9-6 9-2-9z"/>
<path fill="#295ed8" stroke="#295ed8" stroke-width=".6" d="M1330 747l3-2-6 3-2 1zM1368 786l3 2 3 1-6 5-2-1-3-1zM1377 790l2 6 3 1 3 2-6 5-3-1-2-1-3-7z"/>
<path fill="#2657d0" stroke="#2657d0" stroke-width=".6" d="M1385 799l3 6 2 1-5 5-3-1-3-6z"/>
<path fill="#2350c8" stroke="#2350c8" stroke-width=".6" d="M1390 806l3 1 3 6 2 1-5 5-3-6-3-1-2-1zM1401 815l3 1 3 5-6 6-3-6-2-1z"/>
<path fill="#2049c0" stroke="#2049c0" stroke-width=".6" d="M1398 814l3 1-5 5-3-1zM1407 821l2 1 3 1 3 6-6 5-3-6-2-1-3 0z"/>
<path fill="#1d42b8" stroke="#1d42b8" stroke-width=".6" d="M1415 829l3 1 2 1 3 0 3 6 2 1-5 5-3-1-3-5-2-1-3-1-3-1z"/>
<path d="M1180 676l3-1 3 3 2-1 3 2 3 0 2 2 3 0 3-1 3 2 2 0 3 2 3 0 3 2 2-1 3 3 3-1 2 2 3 0 3 2 3 0 2 2 3-1 3 2 3-2 2-2 3 0 3-2 2-1 3-2 3-1 3-2 2-1 3-2 3-1 3-2 2-2 3-1 3-2 2 0 3 5 3 8 3 9 2 9 3 9 3 9 3 6 2 6 3 5 3 4 2 4 3 2 3 1 3 1 2-1 3-2 3 3 3 9 2 5 3 4 3 6 2 2 3 1 3 1 3 6 2 1 3 2 3 6 3 1 2 1 3 1 3 7 2 1 3 1 3 6 3 1 2 1 3 1 3 6 3 1 2 1 3 6 3 0 2 1 3 6 3 1 3 1 2 1 3 5 3 1" fill="none" stroke="#000" stroke-width="2.5" stroke-linejoin="round"/>
<path fill="#2c65e0" stroke="#2c65e0" stroke-width=".6" d="M1180 677l3-1 3 3 2-1 3 3 3-1 2 2 3 0 3-1-6 3-2 1-3-2-3 0-3-2-2 1-3-2-3 0-3-2zM1322 750l3 0 2-1-5 3-3 0-3 0zM1355 784l2 2 3 1 3 6 3 1-6 4-3-6-3-1-2-1-3-1zM1368 795l3 2-6 4-2-1z"/>
<path fill="#2f6ce5" stroke="#2f6ce5" stroke-width=".6" d="M1202 681l3 3 2-1 3 2 3 0 3 2-6 3-3-2-3 0-2-2-3 1-3-3zM1243 695l3-1 2-3-5 3-3 2-3-1zM1346 776l3 1 3 1 3 6-6 5-3-6-3-2-2-1z"/>
<path fill="#3271e8" stroke="#3271e8" stroke-width=".6" d="M1216 687l2 0 3 2 3-1 2 3 3-1 3 2-6 0-2 0-3 1-3-2-3 0-2-2-3 1zM1240 694l3 1-6 0-3 0zM1248 691l3 0 3-2-6 3-3 2-2 0zM1319 748l3 2-6 2-3-1zM1327 749l3-1-6 3-2 1zM1344 774l2 2-5 4-3-6z"/>
<path fill="#3577eb" stroke="#3577eb" stroke-width=".6" d="M1232 692l3 0 2 2 3 0-6 1-2-2-3 1-3-2zM1254 689l2-1-5 3-3 1zM1338 765l3 3 3 6-6 0-3-1-2-4z"/>
<path fill="#397ced" stroke="#397ced" stroke-width=".6" d="M1256 688l3-2-6 3-2 2zM1316 746l3 2-6 3-2-2zM1336 759l2 6-5 4-3-6z"/>
<path fill="#3c82f0" stroke="#3c82f0" stroke-width=".6" d="M1259 686l3-1 3-2-6 4-3 1-3 1zM1314 743l2 3-5 3-3-3zM1333 750l3 9-6 4-3-9z"/>
<path fill="#448cf2" stroke="#448cf2" stroke-width=".6" d="M1265 683l2-1-5 3-3 2zM1311 738l3 5-6 3-3-4zM1330 748l3 2-6 4-3-3z"/>
<path fill="#4c96f4" stroke="#4c96f4" stroke-width=".6" d="M1267 682l3-2-6 4-2 1zM1308 733l3 5-6 4-2-5z"/>
<path fill="#53a0f7" stroke="#53a0f7" stroke-width=".6" d="M1270 680l3-1 3-2-6 4-3 2-3 1zM1303 721l3 6 2 6-5 4-3-5-3-5z"/>
<path fill="#5baaf9" stroke="#5baaf9" stroke-width=".6" d="M1276 677l2-1-5 4-3 1z"/>
<path fill="#66b5fb" stroke="#66b5fb" stroke-width=".6" d="M1278 676l3-2-6 5-2 1zM1300 713l3 8-6 6-3-8z"/>
<path fill="#83ccfd" stroke="#83ccfd" stroke-width=".6" d="M1281 674l3-1-6 4-3 2z"/>
<path fill="#caf3ff" stroke="#caf3ff" stroke-width=".6" d="M1284 673l2 0-5 5-3-1zM1289 677l3 8-6 8-3-9z"/>
<path fill="#e4faff" stroke="#e4faff" stroke-width=".6" d="M1286 673l3 4-6 7-2-6z"/>
<path fill="#aee9ff" stroke="#aee9ff" stroke-width=".6" d="M1292 685l3 9-6 8-3-9z"/>
<path fill="#92d8fe" stroke="#92d8fe" stroke-width=".6" d="M1295 694l2 9-5 8-3-9z"/>
<path fill="#75c1fc" stroke="#75c1fc" stroke-width=".6" d="M1297 703l3 10-6 6-2-8z"/>
<path fill="#295ed8" stroke="#295ed8" stroke-width=".6" d="M1366 794l2 1-5 5-3-2zM1371 797l3 6 2 1 3 1-6 4-2-1-3-1-3-6z"/>
<path fill="#2657d0" stroke="#2657d0" stroke-width=".6" d="M1379 805l3 6-6 4-3-6z"/>
<path fill="#2350c8" stroke="#2350c8" stroke-width=".6" d="M1382 811l3 2 2 1 3 1 3 5 3 1 2 1 3 6-6 4-2-6-3-1-3-1-3-5-2-1-3-1-3-2z"/>
<path fill="#2049c0" stroke="#2049c0" stroke-width=".6" d="M1401 828l3 1 2 0 3 6-6-1-2-1-3 0-3-1z"/>
<path fill="#1d42b8" stroke="#1d42b8" stroke-width=".6" d="M1409 835l3 1 3 1 2 1 3 6 3 0-6 4-3 0-2-6-3-1-3-1-3-6z"/>
<path fill="#2c65e0" stroke="#2c65e0" stroke-width=".6" d="M1174 678l3 2 3 0 3 2 2-1 3 2 3 0 3 2-6 5-3-3-3 1-2-2-3 1-3-2-3 0-2-2zM1349 789l3 1 2 1 3 1 3 6-6 6-3-6-2-2-3-1-3-1zM1363 800l2 1-5 5-3-1z"/>
<path fill="#2f6ce5" stroke="#2f6ce5" stroke-width=".6" d="M1194 685l2-1 3 3 3-1 2 2 3 0-6 4-2-3-3 1-3 1-2-2-3 1zM1316 752l3 0 3 0-6 3-3 0-2 1zM1341 780l2 1 3 2 3 6-6 5-2-6-3-1-3-2z"/>
<path fill="#3271e8" stroke="#3271e8" stroke-width=".6" d="M1207 688l3 2 3-1 2 2 3 0 3 2 3-1-6 4-3-2-3 0-2-2-3 1-3-2-3 1zM1237 695l3 1 3-2 2 0-5 4-3 0-3 1-3-1zM1313 751l3 1-5 4-3-2zM1338 774l3 6-6 5-3-5z"/>
<path fill="#3577eb" stroke="#3577eb" stroke-width=".6" d="M1224 692l2 0 3 2 3-1 2 2 3 0-6 3-2 1-3-2-3 0-2-2-3 1zM1245 694l3-2 3-1-6 3-3 2-2 2zM1333 769l2 4 3 1-6 6-2-2-3-3z"/>
<path fill="#397ced" stroke="#397ced" stroke-width=".6" d="M1251 691l2-2-5 5-3 0zM1311 749l2 2-5 3-3-2zM1322 752l2-1-5 4-3 0zM1330 763l3 6-6 6-3-6z"/>
<path fill="#3c82f0" stroke="#3c82f0" stroke-width=".6" d="M1253 689l3-1-5 4-3 2zM1308 746l3 3-6 3-3-2zM1327 754l3 9-6 6-3-9z"/>
<path fill="#448cf2" stroke="#448cf2" stroke-width=".6" d="M1256 688l3-1 3-2-6 5-3 1-2 1zM1305 742l3 4-6 4-2-3z"/>
<path fill="#4c96f4" stroke="#4c96f4" stroke-width=".6" d="M1262 685l2-1-5 5-3 1zM1300 732l3 5 2 5-5 5-3-5-3-4zM1324 751l3 3-6 6-2-5z"/>
<path fill="#53a0f7" stroke="#53a0f7" stroke-width=".6" d="M1264 684l3-1-6 5-2 1zM1297 727l3 5-6 6-3-5z"/>
<path fill="#5baaf9" stroke="#5baaf9" stroke-width=".6" d="M1267 683l3-2 3-1-6 5-3 2-3 1zM1294 719l3 8-6 6-2-6z"/>
<path fill="#66b5fb" stroke="#66b5fb" stroke-width=".6" d="M1273 680l2-1-5 5-3 1zM1292 711l2 8-5 8-3-8z"/>
<path fill="#92d8fe" stroke="#92d8fe" stroke-width=".6" d="M1275 679l3-2-6 7-2 0z"/>
<path fill="#d7f7ff" stroke="#d7f7ff" stroke-width=".6" d="M1278 677l3 1 2 6-5 9-3-7-3-2z"/>
<path fill="#bceeff" stroke="#bceeff" stroke-width=".6" d="M1283 684l3 9-5 8-3-8z"/>
<path fill="#a0e4ff" stroke="#a0e4ff" stroke-width=".6" d="M1286 693l3 9-6 8-2-9z"/>
<path fill="#83ccfd" stroke="#83ccfd" stroke-width=".6" d="M1289 702l3 9-6 8-3-9z"/>
<path fill="#295ed8" stroke="#295ed8" stroke-width=".6" d="M1360 798l3 2-6 5-3-1zM1365 801l3 6-6 5-2-6z"/>
<path fill="#2657d0" stroke="#2657d0" stroke-width=".6" d="M1368 807l3 1 2 1 3 6 3 2-6 5-2-6-3-1-3-2-3-1z"/>
<path fill="#2350c8" stroke="#2350c8" stroke-width=".6" d="M1379 817l3 1 2 1 3 5-6 6-2-6-3-1-3-1zM1390 825l3 1-6 5-3-1z"/>
<path fill="#2049c0" stroke="#2049c0" stroke-width=".6" d="M1387 824l3 1-6 5-3 0zM1393 826l2 6 3 1-6 5-2-1-3-6zM1401 833l2 1 3 6-5 5-3-6-3 0z"/>
<path fill="#1d42b8" stroke="#1d42b8" stroke-width=".6" d="M1398 833l3 0-6 6-3-1zM1406 840l3 1 3 1 2 6 3 0-6 5-2 0-3-6-3-1-2-1z"/>
<path fill="#2c65e0" stroke="#2c65e0" stroke-width=".6" d="M1169 683l2 2-5 5-3-2zM1177 687l3-1 2 2 3-1-6 5-2-2-3 1-3-2zM1343 794l3 1-6 6-2-2zM1349 796l2 2 3 6-6 5-2-6-3-1z"/>
<path fill="#295ed8" stroke="#295ed8" stroke-width=".6" d="M1171 685l3 0 3 2-6 2-3 1-2 0zM1346 795l3 1-6 6-3-1zM1354 804l3 1 3 1 2 6-5 6-3-7-3-1-3-1z"/>
<path fill="#2f6ce5" stroke="#2f6ce5" stroke-width=".6" d="M1185 687l3 3 3-1 2 2 3-1 3-1-6 5-3 0-2-2-3 1-3-2-3 1zM1311 756l2-1-5 4-3 0zM1335 785l3 2 3 1 2 6-5 5-3-6-3-1-3-1z"/>
<path fill="#3271e8" stroke="#3271e8" stroke-width=".6" d="M1199 689l2 3 3-1 3 2 3-1 2 2-5 4-3-2-3 1-3-2-2 1-3-2zM1308 754l3 2-6 3-3-1zM1313 755l3 0-6 4-2 0zM1330 778l2 2 3 5-6 6-2-6-3-1z"/>
<path fill="#3577eb" stroke="#3577eb" stroke-width=".6" d="M1212 694l3 0 3 2 3-1 2 2 3 0 3 2-6 0-3 1-2 1-3-2-3 0-3-2-2 1zM1231 698l3 1 3-1 3 0 2-2-5 4-3 0-3 2-3-2-2 1zM1324 769l3 6 3 3-6 6-3-3-3-9z"/>
<path fill="#397ced" stroke="#397ced" stroke-width=".6" d="M1229 699l2-1-5 3-3-2zM1242 696l3-2-6 4-2 2zM1305 752l3 2-6 4-3-2z"/>
<path fill="#3c82f0" stroke="#3c82f0" stroke-width=".6" d="M1245 694l3 0 3-2-6 5-3 1-3 0zM1302 750l3 2-6 4-2-2zM1316 755l3 0-6 5-3-1zM1321 760l3 9-6 3-2-7z"/>
<path fill="#448cf2" stroke="#448cf2" stroke-width=".6" d="M1251 692l2-1-5 5-3 1zM1300 747l2 3-5 4-3-3zM1319 755l2 5-5 5-3-5z"/>
<path fill="#4c96f4" stroke="#4c96f4" stroke-width=".6" d="M1253 691l3-1 3-1-6 5-3 1-2 1zM1294 738l3 4 3 5-6 4-3-3-3-5z"/>
<path fill="#53a0f7" stroke="#53a0f7" stroke-width=".6" d="M1259 689l2-1-5 5-3 1zM1291 733l3 5-6 5-2-4z"/>
<path fill="#5baaf9" stroke="#5baaf9" stroke-width=".6" d="M1261 688l3-1 3-2-6 6-3 1-2 1zM1289 727l2 6-5 6-3-6z"/>
<path fill="#75c1fc" stroke="#75c1fc" stroke-width=".6" d="M1267 685l3-1-6 6-3 1zM1283 710l3 9-6 8-2-9z"/>
<path fill="#a0e4ff" stroke="#a0e4ff" stroke-width=".6" d="M1270 684l2 0-5 6-3 0z"/>
<path fill="#d7f7ff" stroke="#d7f7ff" stroke-width=".6" d="M1272 684l3 2-6 8-2-4z"/>
<path fill="#caf3ff" stroke="#caf3ff" stroke-width=".6" d="M1275 686l3 7-6 8-3-7z"/>
<path fill="#aee9ff" stroke="#aee9ff" stroke-width=".6" d="M1278 693l3 8-6 9-3-9z"/>
<path fill="#92d8fe" stroke="#92d8fe" stroke-width=".6" d="M1281 701l2 9-5 8-3-8z"/>
<path fill="#66b5fb" stroke="#66b5fb" stroke-width=".6" d="M1286 719l3 8-6 6-3-6z"/>
<path fill="#2657d0" stroke="#2657d0" stroke-width=".6" d="M1362 812l3 1 3 2 3 1 2 6-5 5-3-6-3-1-3-1-2-1z"/>
<path fill="#2350c8" stroke="#2350c8" stroke-width=".6" d="M1373 822l3 1 3 1 2 6-5 5-3-6-3-1-2-1z"/>
<path fill="#2049c0" stroke="#2049c0" stroke-width=".6" d="M1381 830l3 0 3 1 3 6 2 1-5 5-3-6-3 0-3-1-2-1zM1395 839l3 0 3 6-6 6-3-6-3-1z"/>
<path fill="#1d42b8" stroke="#1d42b8" stroke-width=".6" d="M1392 838l3 1-6 5-2-1zM1401 845l2 1 3 1 3 6 2 0-5 6-3-1-3-6-2-1-3 0z"/>
<path d="M1163 688l3 2 2 0 3-1 3 2 3-1 2 2 3-1 3 2 3-1 2 2 3 0 3 2 2-1 3 2 3-1 3 2 2-1 3 2 3 0 3 2 2-1 3-1 3 2 2-1 3 2 3-2 3 0 2-2 3 0 3-1 3-1 2-1 3-1 3-1 2-1 3-1 3-1 3 0 2 4 3 7 3 9 3 8 2 9 3 6 3 6 2 4 3 5 3 3 3 3 2 2 3 2 3 1 3 0 2 0 3 1 3 5 2 7 3 9 3 3 3 1 2 6 3 1 3 1 3 6 2 2 3 1 3 1 2 6 3 1 3 1 3 7 2 1 3 1 3 1 3 6 2 1 3 1 3 6 2 1 3 1 3 0 3 6 2 1 3 1 3 6 3 0 2 1 3 6 3 1" fill="none" stroke="#000" stroke-width="2.5" stroke-linejoin="round"/>
<path fill="#2c65e0" stroke="#2c65e0" stroke-width=".6" d="M1163 689l3 3-6 0-3 1zM1171 690l3 2 3-1 2 2 3-1-6 4-2 1-3-2-3 1-2-2zM1338 801l2 1 3 1 3 1 2 6-5 4-3-6-3-1-2-1-3-6z"/>
<path fill="#295ed8" stroke="#295ed8" stroke-width=".6" d="M1166 692l2-1 3-1-5 4-3 0-3-2zM1348 810l3 2 3 1 3 6-6-1-3-1-2-1-3-2z"/>
<path fill="#2f6ce5" stroke="#2f6ce5" stroke-width=".6" d="M1182 692l3 2 3 0 2 2 3-1-6 3-2 1-3-2-3 1-3-2zM1329 792l3 1 3 2 3 6-6-1-3-1-3-1-2-2z"/>
<path fill="#3271e8" stroke="#3271e8" stroke-width=".6" d="M1193 695l3 2 2-1 3 2 3-1-6 3-2-2-3 1-3 1-3-2zM1302 759l3 1 3 0-6 2-3 1-3-1zM1324 785l3 1 2 6-5 4-3-6-3-1z"/>
<path fill="#3577eb" stroke="#3577eb" stroke-width=".6" d="M1204 697l3 2 2 0 3 2 3-1 3 2-6-1-3 1-3-2-2 1-3-2-3 1zM1308 760l2 1-5 2-3-1zM1318 773l3 9 3 3-6 4-2-2-3-9z"/>
<path fill="#397ced" stroke="#397ced" stroke-width=".6" d="M1218 702l2-1 3-1 3 2 2 0 3 1 3-2 3 0 2-1-5 2-3 2-3 0-2 1-3-2-3 1-3-2-2 1-3-2zM1299 757l3 2-6 3-2-2z"/>
<path fill="#3c82f0" stroke="#3c82f0" stroke-width=".6" d="M1239 700l3-1-6 3-2 0zM1294 753l3 2 2 2-5 3-3-2-3-2zM1316 766l2 7-5 5-3-7z"/>
<path fill="#448cf2" stroke="#448cf2" stroke-width=".6" d="M1242 699l3-1 3-1-6 4-3 0-3 1zM1291 749l3 4-6 3-2-4zM1310 761l3 0 3 5-6 5-3-6-2-2z"/>
<path fill="#4c96f4" stroke="#4c96f4" stroke-width=".6" d="M1248 697l2-1-5 4-3 1zM1288 744l3 5-5 3-3-4z"/>
<path fill="#53a0f7" stroke="#53a0f7" stroke-width=".6" d="M1250 696l3-1 3-1-6 4-3 1-2 1zM1286 740l2 4-5 4-3-4z"/>
<path fill="#5baaf9" stroke="#5baaf9" stroke-width=".6" d="M1256 694l2-1-5 4-3 1zM1280 728l3 7 3 5-6 4-3-5-2-5z"/>
<path fill="#66b5fb" stroke="#66b5fb" stroke-width=".6" d="M1258 693l3-1-5 5-3 0z"/>
<path fill="#83ccfd" stroke="#83ccfd" stroke-width=".6" d="M1261 692l3-1-6 5-2 1zM1275 711l3 9-6 6-3-8z"/>
<path fill="#aee9ff" stroke="#aee9ff" stroke-width=".6" d="M1264 691l3 1-6 5-3-1z"/>
<path fill="#caf3ff" stroke="#caf3ff" stroke-width=".6" d="M1267 692l2 3-5 7-3-5z"/>
<path fill="#bceeff" stroke="#bceeff" stroke-width=".6" d="M1269 695l3 8-6 7-2-8z"/>
<path fill="#a0e4ff" stroke="#a0e4ff" stroke-width=".6" d="M1272 703l3 8-6 7-3-8z"/>
<path fill="#75c1fc" stroke="#75c1fc" stroke-width=".6" d="M1278 720l2 8-5 6-3-8z"/>
<path fill="#2657d0" stroke="#2657d0" stroke-width=".6" d="M1357 819l2 1 3 1 3 1 3 6-6 5-3-7-3-1-2-1-3-6z"/>
<path fill="#2350c8" stroke="#2350c8" stroke-width=".6" d="M1368 828l2 1 3 1 3 6-6 4-3-6-2 0-3-1z"/>
<path fill="#2049c0" stroke="#2049c0" stroke-width=".6" d="M1376 836l2 1 3 1 3 1 3 5 2 1 3 1 3 6-6 4-3-6-2-1-3-1-3-5-2-1-3-1-3-1z"/>
<path fill="#1d42b8" stroke="#1d42b8" stroke-width=".6" d="M1395 852l3 1 2 0 3 6 3 1-6 4-3-6-2-1-3-1-3 0z"/>
<path fill="#2c65e0" stroke="#2c65e0" stroke-width=".6" d="M1157 693l3-1-6 5-2 1zM1166 694l2 2 3-1 3 2 2-1-5 4-3 1-3-2-2 1-3-2zM1326 798l3 1-6 5-2-1zM1335 806l2 1 3 1 3 6-6 6-3-6-2-1-3-2z"/>
<path fill="#295ed8" stroke="#295ed8" stroke-width=".6" d="M1160 692l3 2 3 0-6 4-3 1-3-2zM1343 814l3 2-6 5-3-1zM1348 817l3 1 3 6-6 5-3-6-2-1z"/>
<path fill="#2f6ce5" stroke="#2f6ce5" stroke-width=".6" d="M1176 696l3 2 3-1 3 2-6 1-3 1-3-2-2 1zM1321 790l3 6 2 2-5 5-3-1-3-6zM1329 799l3 1 3 6-6 5-3-6-3-1z"/>
<path fill="#3271e8" stroke="#3271e8" stroke-width=".6" d="M1185 699l2-1 3 2 3-1 3-1-6 4-3 1-3-2-2 1-3-2zM1296 762l3 1 3-1-6 4-3 1-2-1zM1316 787l2 2 3 1-6 6-2-2-3-2z"/>
<path fill="#3577eb" stroke="#3577eb" stroke-width=".6" d="M1196 698l2 2 3-1 3 2 2-1-5 4-3 1-3-2-2 1-3-2zM1313 778l3 9-6 5-3-8z"/>
<path fill="#397ced" stroke="#397ced" stroke-width=".6" d="M1206 700l3 2 3-1 3 2 2-1-5 4-3 0-3-1-3 1-2-2zM1291 758l3 2 2 2-5 4-3-2-3-2zM1302 762l3 1-6 3-3 0z"/>
<path fill="#3c82f0" stroke="#3c82f0" stroke-width=".6" d="M1217 702l3 2 3-1 3 2 2-1 3 0 3-2-6 4-3 0-2 1-3-1-3 0-3 1-2-1zM1288 756l3 2-6 4-2-2zM1310 771l3 7-6 6-3-7z"/>
<path fill="#448cf2" stroke="#448cf2" stroke-width=".6" d="M1234 702l2 0 3-1-6 4-2 0-3 1zM1286 752l2 4-5 4-3-3zM1307 765l3 6-6 6-2-7z"/>
<path fill="#4c96f4" stroke="#4c96f4" stroke-width=".6" d="M1239 701l3 0 3-1-6 4-3 1-3 0zM1283 748l3 4-6 5-3-4zM1305 763l2 2-5 5-3-4z"/>
<path fill="#53a0f7" stroke="#53a0f7" stroke-width=".6" d="M1245 700l2-1-5 5-3 0zM1280 744l3 4-6 5-3-4z"/>
<path fill="#5baaf9" stroke="#5baaf9" stroke-width=".6" d="M1247 699l3-1 3-1-6 6-3 0-2 1zM1275 734l2 5 3 5-6 5-2-4-3-5z"/>
<path fill="#66b5fb" stroke="#66b5fb" stroke-width=".6" d="M1253 697l3 0-6 5-3 1zM1272 726l3 8-6 6-3-6z"/>
<path fill="#83ccfd" stroke="#83ccfd" stroke-width=".6" d="M1256 697l2-1-5 6-3 0zM1269 718l3 8-6 8-3-8z"/>
<path fill="#bceeff" stroke="#bceeff" stroke-width=".6" d="M1258 696l3 1 3 5-6 9-3-7-2-2z"/>
<path fill="#aee9ff" stroke="#aee9ff" stroke-width=".6" d="M1264 702l2 8-5 8-3-7z"/>
<path fill="#92d8fe" stroke="#92d8fe" stroke-width=".6" d="M1266 710l3 8-6 8-2-8z"/>
<path fill="#2657d0" stroke="#2657d0" stroke-width=".6" d="M1346 816l2 1-5 5-3-1zM1354 824l2 1 3 1 3 7-6 5-3-6-2-1-3-2z"/>
<path fill="#2350c8" stroke="#2350c8" stroke-width=".6" d="M1362 833l3 1 2 0 3 6-6 0-2 0-3-1-3-1z"/>
<path fill="#2049c0" stroke="#2049c0" stroke-width=".6" d="M1370 840l3 1 3 1 2 1 3 5 3 1 2 1 3 6-6 5-2-6-3-1-3 0-2-6-3-1-3-1-3-6z"/>
<path fill="#1d42b8" stroke="#1d42b8" stroke-width=".6" d="M1389 856l3 0-6 6-3-1zM1395 857l2 1 3 6-6 5-2-6-3-1z"/>
<path fill="#1a3aac" stroke="#1a3aac" stroke-width=".6" d="M1392 856l3 1-6 5-3 0z"/>
<path fill="#2c65e0" stroke="#2c65e0" stroke-width=".6" d="M1152 698l2-1 3 2 3-1 3 2 2-1 3 2 3-1-6 5-3-2-2 1-3-2-3 1-3-2-2 2-3-3zM1321 803l2 1-5 6-3-2zM1326 805l3 6 3 2 2 1-5 5-3-1-3-1-3-6z"/>
<path fill="#2f6ce5" stroke="#2f6ce5" stroke-width=".6" d="M1171 700l2-1 3 2 3-1-6 4-2 2-3-2-3 1zM1315 796l3 6 3 1-6 5-3-6-2-1zM1323 804l3 1-6 6-2-1z"/>
<path fill="#3271e8" stroke="#3271e8" stroke-width=".6" d="M1179 700l3 2 2-1 3 2-6 4-2-2-3 1-3-2zM1293 767l3-1-5 4-3 0zM1310 792l3 2 2 2-5 5-3-1-3-2z"/>
<path fill="#3577eb" stroke="#3577eb" stroke-width=".6" d="M1187 703l3-1 3 2 2-1 3 2-6 1-2 1-3 1-3-2-3 1zM1291 766l2 1-5 3-3-1zM1307 784l3 8-6 6-3-8z"/>
<path fill="#397ced" stroke="#397ced" stroke-width=".6" d="M1198 705l3-1 2 2 3-1-5 3-3-2-3 1-3-1zM1288 764l3 2-6 3-3-2zM1304 777l3 7-6 6-2-7z"/>
<path fill="#3c82f0" stroke="#3c82f0" stroke-width=".6" d="M1206 705l3 1 3 0 2 1 3-1-6 4-2-2-3 1-3-2-2 1zM1283 760l2 2 3 2-6 3-2-1-3-2zM1296 766l3 0-6 4-2 0z"/>
<path fill="#448cf2" stroke="#448cf2" stroke-width=".6" d="M1217 706l3 0 3 1 2-1 3 0 3-1-6 4-3 1-2-1-3 1-3-1-3 1zM1280 757l3 3-6 4-3-3zM1302 770l2 7-5 6-3-7z"/>
<path fill="#4c96f4" stroke="#4c96f4" stroke-width=".6" d="M1231 705l2 0 3 0-5 4-3 1-3-1zM1277 753l3 4-6 4-3-3zM1299 766l3 4-6 6-3-6z"/>
<path fill="#53a0f7" stroke="#53a0f7" stroke-width=".6" d="M1236 705l3-1 3 0-6 5-3 0-2 0zM1272 745l2 4 3 4-6 5-2-4-3-4z"/>
<path fill="#5baaf9" stroke="#5baaf9" stroke-width=".6" d="M1242 704l2-1 3 0-6 5-2 1-3 0zM1269 740l3 5-6 5-3-4z"/>
<path fill="#75c1fc" stroke="#75c1fc" stroke-width=".6" d="M1247 703l3-1-6 6-3 0zM1263 726l3 8-5 7-3-7z"/>
<path fill="#92d8fe" stroke="#92d8fe" stroke-width=".6" d="M1250 702l3 0-6 7-3-1z"/>
<path fill="#bceeff" stroke="#bceeff" stroke-width=".6" d="M1253 702l2 2 3 7-6 8-2-7-3-3z"/>
<path fill="#a0e4ff" stroke="#a0e4ff" stroke-width=".6" d="M1258 711l3 7-6 9-3-8z"/>
<path fill="#83ccfd" stroke="#83ccfd" stroke-width=".6" d="M1261 718l2 8-5 8-3-7z"/>
<path fill="#66b5fb" stroke="#66b5fb" stroke-width=".6" d="M1266 734l3 6-6 6-2-5z"/>
<path fill="#295ed8" stroke="#295ed8" stroke-width=".6" d="M1334 814l3 6 3 1-6 5-3-1-2-6zM1343 822l2 1 3 6-6 6-2-6-3-2z"/>
<path fill="#2657d0" stroke="#2657d0" stroke-width=".6" d="M1340 821l3 1-6 5-3-1zM1348 829l3 2 2 1 3 6-6 5-2-6-3-1-3-1z"/>
<path fill="#2350c8" stroke="#2350c8" stroke-width=".6" d="M1356 838l3 1-6 5-3-1zM1362 840l2 0 3 6-6 5-2-5-3-1z"/>
<path fill="#2049c0" stroke="#2049c0" stroke-width=".6" d="M1359 839l3 1-6 5-3-1zM1367 846l3 1 3 1 2 6-5 5-3-6-3-1-3-1z"/>
<path fill="#1d42b8" stroke="#1d42b8" stroke-width=".6" d="M1375 854l3 0 3 1 2 6 3 1-6 5-2-6-3-1-3 0-2-1zM1389 862l3 1 2 6-5 5-3-6-3 0z"/>
<path fill="#1a3aac" stroke="#1a3aac" stroke-width=".6" d="M1386 862l3 0-6 6-3-1z"/>
<path d="M1146 700l3 3 2-2 3 2 3-1 3 2 2-1 3 2 3-1 3 2 2-2 3 2 3-1 2 2 3-1 3 2 3-1 2-1 3 1 3-1 3 2 2-1 3 2 3-1 2 2 3-1 3 1 3-1 2 1 3-1 3 1 3-1 2 0 3 0 3 0 2-1 3 0 3 1 3 3 2 7 3 8 3 7 3 7 2 5 3 4 3 4 2 4 3 3 3 3 3 2 2 1 3 2 3 1 3 0 2 0 3 6 3 7 2 7 3 8 3 2 3 1 2 1 3 6 3 2 2 1 3 6 3 1 3 1 2 6 3 1 3 1 3 2 2 6 3 1 3 1 2 6 3 1 3 1 3 1 2 5 3 1 3 1 3 6 2 1 3 0 3 1 2 6 3 1 3 0 3 6" fill="none" stroke="#ff1010" stroke-width="2.8" stroke-linejoin="round"/>
<path fill="#2c65e0" stroke="#2c65e0" stroke-width=".6" d="M1146 702l3 2 2-1 3 2 3-2 3 2 2-1-5 4-3 1-3-2-3 1-2-1-3 1-3-2zM1315 810l3 1-6 3-3-1zM1320 812l3 6-5 3-3-6z"/>
<path fill="#2f6ce5" stroke="#2f6ce5" stroke-width=".6" d="M1162 704l3 2 3-1 3 2 2-1-5 3-3 2-3-2-3 1-2-2zM1307 801l3 1 2 2 3 6-6 3-2-6-3-1-3-2zM1318 811l2 1-5 3-3-1z"/>
<path fill="#3271e8" stroke="#3271e8" stroke-width=".6" d="M1173 706l3 2 3-2-6 4-3-2-2 1zM1288 771l3 0-6 3-3 1zM1301 791l3 8 3 2-6 3-3-2-2-9z"/>
<path fill="#3577eb" stroke="#3577eb" stroke-width=".6" d="M1179 706l2 2 3-1 3 2 3-1-6 4-3-2-3 1-2-2-3 1zM1285 771l3 0-6 4-3-2z"/>
<path fill="#397ced" stroke="#397ced" stroke-width=".6" d="M1190 708l2-1 3 2-6 3-2-2-3 2zM1282 769l3 2-6 2-2-1zM1299 784l2 7-5 2-3-7z"/>
<path fill="#3c82f0" stroke="#3c82f0" stroke-width=".6" d="M1195 709l3-1 3 1 2-1 3 2-6 4-2-2-3 1-3-2-3 1zM1277 765l3 2 2 2-5 3-3-1-3-2zM1291 771l2 0-5 3-3 0zM1296 777l3 7-6 2-3-7z"/>
<path fill="#448cf2" stroke="#448cf2" stroke-width=".6" d="M1206 710l3-1 2 2 3-1 3 1 3 0-6 3-3 1-3-2-2 1-3-1-3 1zM1274 763l3 2-6 4-3-2z"/>
<path fill="#4c96f4" stroke="#4c96f4" stroke-width=".6" d="M1220 711l2 0 3 0 3 0-6 2-3 1-2-1-3 1zM1271 759l3 4-6 4-2-3zM1293 771l3 6-6 2-2-5z"/>
<path fill="#53a0f7" stroke="#53a0f7" stroke-width=".6" d="M1228 711l3-1 2 0 3 0-6 3-2 0-3 0-3 0zM1266 751l3 4 2 4-5 5-3-4-3-4z"/>
<path fill="#5baaf9" stroke="#5baaf9" stroke-width=".6" d="M1236 710l3 0 2 0-5 3-3 0-3 0zM1261 742l2 5 3 4-6 5-2-4-3-4z"/>
<path fill="#75c1fc" stroke="#75c1fc" stroke-width=".6" d="M1241 710l3 0-6 3-2 0z"/>
<path fill="#aee9ff" stroke="#aee9ff" stroke-width=".6" d="M1244 710l3 0-6 4-3-1zM1250 714l2 6-5 6-3-7z"/>
<path fill="#bceeff" stroke="#bceeff" stroke-width=".6" d="M1247 710l3 4-6 5-3-5z"/>
<path fill="#92d8fe" stroke="#92d8fe" stroke-width=".6" d="M1252 720l3 8-6 6-2-8z"/>
<path fill="#83ccfd" stroke="#83ccfd" stroke-width=".6" d="M1255 728l3 7-6 7-3-8z"/>
<path fill="#66b5fb" stroke="#66b5fb" stroke-width=".6" d="M1258 735l3 7-6 6-3-6z"/>
<path fill="#295ed8" stroke="#295ed8" stroke-width=".6" d="M1323 818l3 1 3 1 2 6 3 2-6 3-2-6-3-1-3-1-2-2zM1337 829l3 1-6 3-3-1z"/>
<path fill="#2657d0" stroke="#2657d0" stroke-width=".6" d="M1334 828l3 1-6 3-3-1zM1340 830l2 6 3 1-6 4-2-2-3-6z"/>
<path fill="#2350c8" stroke="#2350c8" stroke-width=".6" d="M1345 837l3 1 2 6 3 1-5 4-3-6-3-1-3-1zM1356 846l3 1 2 6-5 3-3-6-3 0z"/>
<path fill="#2049c0" stroke="#2049c0" stroke-width=".6" d="M1353 845l3 1-6 4-2-1zM1361 853l3 0 3 1 3 6-6 4-3-6-3-1-2-1z"/>
<path fill="#1d42b8" stroke="#1d42b8" stroke-width=".6" d="M1370 860l2 1 3 1 3 0 2 6 3 1 3 1 3 5-6 4-3-6-2 0-3-1-3-6-3-1-2-1-3 0z"/>
<path fill="#2c65e0" stroke="#2c65e0" stroke-width=".6" d="M1140 706l3 2-6 5-2-2zM1148 708l3-1 3 2-6 3-2 1-3-2zM1309 813l3 1 3 1 3 6-6 4-3-6-3-1-2-2z"/>
<path fill="#295ed8" stroke="#295ed8" stroke-width=".6" d="M1143 708l3-1 2 1-5 3-3 1-3 1zM1318 821l2 2 3 1 3 1 2 6-5 3-3-6-3-1-2-1-3-1zM1331 832l3 1-6 4-3-1z"/>
<path fill="#2f6ce5" stroke="#2f6ce5" stroke-width=".6" d="M1154 709l3-1 2 2 3-1 3 2 3-2-6 6-3-2-3 2-2-2-3 1-3-2zM1282 775l3-1-6 6-3 2zM1301 804l3 2 3 1 2 6-5 3-3-5-3-2-3-2z"/>
<path fill="#3271e8" stroke="#3271e8" stroke-width=".6" d="M1168 709l2-1 3 2-6 6-2-2-3 1zM1279 773l3 2-6 7-2-1zM1298 802l3 2-6 3-2-9z"/>
<path fill="#3577eb" stroke="#3577eb" stroke-width=".6" d="M1173 710l3-1 2 2 3-1-5 6-3 1-3-2-3 1zM1277 772l2 1-5 8-3-1zM1285 774l3 0-6 3-3 3zM1296 793l2 9-5-4-3-7z"/>
<path fill="#397ced" stroke="#397ced" stroke-width=".6" d="M1181 710l3 2 3-2 2 2-5 7-3-2-3 1-2-2zM1274 771l3 1-6 8-3-1zM1293 786l3 7-6-2-3-8z"/>
<path fill="#3c82f0" stroke="#3c82f0" stroke-width=".6" d="M1189 712l3-1 3 2 3-1 2 2-5 4-3 1-3 1-3-2-2 1zM1271 769l3 2-6 8-3-2z"/>
<path fill="#448cf2" stroke="#448cf2" stroke-width=".6" d="M1200 714l3-1 3 1-6 5-3 1-2-2zM1268 767l3 2-6 8-2-3zM1288 774l2 5 3 7-6-3-2-4-3-2z"/>
<path fill="#4c96f4" stroke="#4c96f4" stroke-width=".6" d="M1206 714l2-1 3 2 3-1 3-1 2 1 3-1 3 0-6 5-3 1-2 1-3 0-3 1-3-1-2 0-3-1zM1263 760l3 4 2 3-5 7-3-3-3-4z"/>
<path fill="#53a0f7" stroke="#53a0f7" stroke-width=".6" d="M1225 713l3 0 2 0 3 0-6 3-2 0-3 1-3 1zM1258 752l2 4 3 4-6 7-2-3-3-4z"/>
<path fill="#5baaf9" stroke="#5baaf9" stroke-width=".6" d="M1233 713l3 0-6 2-3 1zM1255 748l3 4-6 8-3-4z"/>
<path fill="#83ccfd" stroke="#83ccfd" stroke-width=".6" d="M1236 713l2 0-5 2-3 0zM1247 726l2 8-5 8-3-9z"/>
<path fill="#bceeff" stroke="#bceeff" stroke-width=".6" d="M1238 713l3 1 3 5-6 5-3-7-2-2z"/>
<path fill="#a0e4ff" stroke="#a0e4ff" stroke-width=".6" d="M1244 719l3 7-6 7-3-9z"/>
<path fill="#75c1fc" stroke="#75c1fc" stroke-width=".6" d="M1249 734l3 8-6 8-2-8z"/>
<path fill="#66b5fb" stroke="#66b5fb" stroke-width=".6" d="M1252 742l3 6-6 8-3-6z"/>
<path fill="#2657d0" stroke="#2657d0" stroke-width=".6" d="M1328 831l3 1-6 4-2-2zM1334 833l3 6-6 4-3-6zM1342 842l3 1-6 3-3-1z"/>
<path fill="#2350c8" stroke="#2350c8" stroke-width=".6" d="M1337 839l2 2 3 1-6 3-2-1-3-1zM1345 843l3 6 2 1 3 0 3 6-6 4-3-6-2-1-3-1-3-6z"/>
<path fill="#2049c0" stroke="#2049c0" stroke-width=".6" d="M1356 856l2 1 3 1 3 6-6-1-3-1-2-1-3-1zM1369 865l3 1 3 6-6 4-3-6-2 0z"/>
<path fill="#1d42b8" stroke="#1d42b8" stroke-width=".6" d="M1364 864l3 0 2 1-5 5-3-1-3-6zM1375 872l3 1 2 0 3 6-6 5-2-6-3-1-3-1z"/>
<path fill="#2c65e0" stroke="#2c65e0" stroke-width=".6" d="M1135 711l2 2-5 2-3 1zM1140 712l3-1 3 2-6 5-3-2-3 1zM1276 782l3-2 3-3-6 7-3 4-2 1zM1304 816l2 2 3 1 3 6 3 1-6 4-3-7-3-1-2-1-3-1zM1317 827l3 1 3 6-6 4-3-6-2-1z"/>
<path fill="#295ed8" stroke="#295ed8" stroke-width=".6" d="M1137 713l3-1-6 5-2-2zM1315 826l2 1-5 4-3-1zM1323 834l2 2-5 3-3-1z"/>
<path fill="#2f6ce5" stroke="#2f6ce5" stroke-width=".6" d="M1146 713l2-1 3 2 3-1 2 2-5 5-3-2-3 1-2-2-3 1zM1274 781l2 1-5 7-3-1zM1301 811l3 5-6 4-3-6z"/>
<path fill="#3271e8" stroke="#3271e8" stroke-width=".6" d="M1156 715l3-2 3 2 3-1 2 2 3-1-6 6-2 1-3-2-3 1-3-2-2 1zM1271 780l3 1-6 7-3 0zM1295 807l3 2 3 2-6 3-2-2-3-5z"/>
<path fill="#3577eb" stroke="#3577eb" stroke-width=".6" d="M1170 715l3 2 3-1-6 6-3-2-3 1zM1268 779l3 1-6 8-2-1zM1282 777l3 2-6 3-3 2zM1293 798l2 9-5 0-3-11z"/>
<path fill="#397ced" stroke="#397ced" stroke-width=".6" d="M1176 716l2 2 3-1 3 2-6 3-3 1-2-2-3 1zM1265 777l3 2-5 8-3-3zM1290 791l3 7-6-2-3-8z"/>
<path fill="#3c82f0" stroke="#3c82f0" stroke-width=".6" d="M1184 719l2-1 3 2 3-1 3-1-6 7-3 0-3-1-2 0-3-2zM1263 774l2 3-5 7-3-3z"/>
<path fill="#448cf2" stroke="#448cf2" stroke-width=".6" d="M1195 718l2 2 3-1 3 1-6 7-3-1-2 0-3-1zM1205 720l3 1 3-1 3 0 2-1 3-1-6 5-2 1-3 2-3 1-2 1-3-1zM1257 767l3 4 3 3-6 7-3-3-2-3zM1285 779l2 4 3 8-6-3-2-6-3 0z"/>
<path fill="#4c96f4" stroke="#4c96f4" stroke-width=".6" d="M1203 720l2 0-5 7-3 0zM1219 718l3-1 3-1-6 3-3 2-3 2zM1252 760l3 4 2 3-5 8-3-4-3-3z"/>
<path fill="#53a0f7" stroke="#53a0f7" stroke-width=".6" d="M1225 716l2 0-5 2-3 1zM1249 756l3 4-6 8-3-4z"/>
<path fill="#66b5fb" stroke="#66b5fb" stroke-width=".6" d="M1227 716l3-1-6 1-2 2zM1244 742l2 8-5 9-3-9z"/>
<path fill="#a0e4ff" stroke="#a0e4ff" stroke-width=".6" d="M1230 715l3 0-6 2-3-1z"/>
<path fill="#caf3ff" stroke="#caf3ff" stroke-width=".6" d="M1233 715l2 2-5 5-3-5z"/>
<path fill="#aee9ff" stroke="#aee9ff" stroke-width=".6" d="M1235 717l3 7-5 7-3-9z"/>
<path fill="#92d8fe" stroke="#92d8fe" stroke-width=".6" d="M1238 724l3 9-6 7-2-9z"/>
<path fill="#83ccfd" stroke="#83ccfd" stroke-width=".6" d="M1241 733l3 9-6 8-3-10z"/>
<path fill="#5baaf9" stroke="#5baaf9" stroke-width=".6" d="M1246 750l3 6-6 8-2-5z"/>
<path fill="#2657d0" stroke="#2657d0" stroke-width=".6" d="M1325 836l3 1 3 6 3 1-6 4-3-7-2-1-3-1zM1336 845l3 1 3 6-6 4-3-6-2-1z"/>
<path fill="#2350c8" stroke="#2350c8" stroke-width=".6" d="M1334 844l2 1-5 4-3-1zM1342 852l3 1 2 1 3 6-6 4-2-6-3-1-3-1z"/>
<path fill="#2049c0" stroke="#2049c0" stroke-width=".6" d="M1350 860l3 1 2 1 3 1 3 6 3 1 2 0 3 6-6 5-2-6-3-1-3-1-2-6-3-1-3-1-3-1z"/>
<path fill="#1d42b8" stroke="#1d42b8" stroke-width=".6" d="M1369 876l3 1-6 5-3-1z"/>
<path fill="#1a3aac" stroke="#1a3aac" stroke-width=".6" d="M1372 877l3 1 2 6-5 0-3-1-3-1z"/>
<path d="M1129 716l3-1 2 2 3-1 3 2 3-1 2 2 3-1 3 2 2-1 3 2 3-1 3 2 2-1 3-1 3 2 3-1 2 2 3-1 3 2 2 0 3 1 3 0 3 1 2 0 3 1 3 0 3 1 2-1 3-1 3-2 2-1 3-2 3-2 3-1 2-2 3 1 3 5 3 9 2 9 3 10 3 9 2 5 3 4 3 3 3 4 2 3 3 3 3 3 3 3 2 1 3 0 3 1 2-1 3-4 3-2 3 0 2 6 3 8 3 11 3 5 2 2 3 6 3 1 2 1 3 1 3 7 3 1 2 1 3 6 3 1 3 1 2 1 3 7 3 1 2 1 3 6 3 1 3 1 2 6 3 1 3 1 3 1 2 6 3 1 3 1 2 6 3 1 3 1 3 1" fill="none" stroke="#000" stroke-width="2.5" stroke-linejoin="round"/>
<path fill="#2c65e0" stroke="#2c65e0" stroke-width=".6" d="M1129 717l3 0 2 2 3-1 3 2-6 4-3-2-2 1-3-2-3 0zM1268 789l3 2-6 6-3-1zM1301 822l2 2-5 2-3-1zM1309 831l3 1 2 1 3 6-6 2-2-6-3-1-3-1z"/>
<path fill="#2f6ce5" stroke="#2f6ce5" stroke-width=".6" d="M1140 720l3-1 2 2 3-1 3 2-6 1-3 1-2 1-3-2-3 1zM1265 789l3 0-6 7-2 0zM1295 815l3 6 3 1-6 3-3-2-2-6zM1303 824l3 1 3 6-6 2-3-6-2-1z"/>
<path fill="#3271e8" stroke="#3271e8" stroke-width=".6" d="M1151 722l2-1 3 2 3-1 3 2 2-1-5 5-3-3-3 1-3-2-2 1-3-2zM1293 813l2 2-5 2-3-5z"/>
<path fill="#3577eb" stroke="#3577eb" stroke-width=".6" d="M1164 723l3-1 3 2-6 5-3-2-2 1zM1263 788l2 1-5 7-3-1zM1279 783l3 0-6 0-3 2zM1290 808l3 5-6-1-3-7z"/>
<path fill="#397ced" stroke="#397ced" stroke-width=".6" d="M1170 724l3-1 2 2 3-1-6 5-2 1-3-2-3 1zM1260 785l3 3-6 7-3-3zM1287 797l3 11-6-3-3-12z"/>
<path fill="#3c82f0" stroke="#3c82f0" stroke-width=".6" d="M1178 724l3 2 2-1 3 2 3-1 3 2-6 5-3-2-3 1-2-2-3 1-3-2zM1203 729l2-1 3-1 3-2 2-1-5 3-3 3-3 2-2 2-3-1zM1254 779l3 3 3 3-6 7-3-3-2-4z"/>
<path fill="#448cf2" stroke="#448cf2" stroke-width=".6" d="M1192 728l2-1 3 1 3 0 3 1-6 4-3 1-3-2-2 0-3 1zM1213 724l3-2-6 3-2 2zM1249 773l3 3 2 3-5 6-3-3-3-3zM1284 790l3 7-6-4-2-7z"/>
<path fill="#4c96f4" stroke="#4c96f4" stroke-width=".6" d="M1216 722l3-1-6 1-3 3zM1243 766l3 3 3 4-6 6-3-3-2-3zM1282 783l2 7-5-4-3-3z"/>
<path fill="#53a0f7" stroke="#53a0f7" stroke-width=".6" d="M1219 721l3-2-6 1-3 2zM1241 760l2 6-5 7-3-5z"/>
<path fill="#66b5fb" stroke="#66b5fb" stroke-width=".6" d="M1222 719l2-1-5 0-3 2z"/>
<path fill="#bceeff" stroke="#bceeff" stroke-width=".6" d="M1224 718l3 0-6 1-2-1z"/>
<path fill="#caf3ff" stroke="#caf3ff" stroke-width=".6" d="M1227 718l3 5-6 4-3-8z"/>
<path fill="#aee9ff" stroke="#aee9ff" stroke-width=".6" d="M1230 723l3 9-6 6-3-11z"/>
<path fill="#92d8fe" stroke="#92d8fe" stroke-width=".6" d="M1233 732l2 10-5 7-3-11z"/>
<path fill="#75c1fc" stroke="#75c1fc" stroke-width=".6" d="M1235 742l3 9-6 8-2-10z"/>
<path fill="#5baaf9" stroke="#5baaf9" stroke-width=".6" d="M1238 751l3 9-6 8-3-9z"/>
<path fill="#2657d0" stroke="#2657d0" stroke-width=".6" d="M1271 791l2-2 3-4-6 7-2 4-3 1zM1320 840l3 2-6 2-3-1zM1328 849l3 1 2 1 3 6-6 2-2-6-3-1-3-1z"/>
<path fill="#295ed8" stroke="#295ed8" stroke-width=".6" d="M1276 785l3-2-6 2-3 7zM1317 839l3 1-6 3-3-2zM1323 842l2 1 3 6-6 2-2-6-3-1z"/>
<path fill="#2350c8" stroke="#2350c8" stroke-width=".6" d="M1336 857l3 1 3 1 2 6 3 1-6 3-2-6-3-1-3-1-3-2zM1350 867l3 1 2 6-5 3-3-6-3-1z"/>
<path fill="#2049c0" stroke="#2049c0" stroke-width=".6" d="M1347 866l3 1-6 3-3-1zM1355 874l3 1 3 1 2 6-5 3-3-6-3-1-2-1z"/>
<path fill="#1d42b8" stroke="#1d42b8" stroke-width=".6" d="M1363 882l3 1-6 3-2-1z"/>
<path fill="#1a3aac" stroke="#1a3aac" stroke-width=".6" d="M1366 883l3 1 3 1-6 3-3-1-3-1z"/>
<path fill="#2c65e0" stroke="#2c65e0" stroke-width=".6" d="M1123 721l3 0 3 2 2-1 3 2-6 2-2 1-3-2-3 1-2-2zM1273 785l3-2-6 4-2 6zM1303 833l3 1 3 1 2 6-5 4-3-6-3-1-2-2z"/>
<path fill="#2f6ce5" stroke="#2f6ce5" stroke-width=".6" d="M1134 724l3-1 3 2 2-1 3-1-6 6-2 1-3-2-3 1-3-3zM1260 796l2 0-5 9-3-1zM1292 823l3 2 3 1 2 1 3 6-5 3-3-6-3-1-3-1-2-7z"/>
<path fill="#3271e8" stroke="#3271e8" stroke-width=".6" d="M1145 723l3 2 2-1 3 2 3-1-6 7-2 0-3-2-3 1-3-2zM1257 795l3 1-6 8-3-2zM1290 817l2 6-5-2-3-4z"/>
<path fill="#3577eb" stroke="#3577eb" stroke-width=".6" d="M1156 725l3 3 2-1 3 2 3-1-6 6-3 1-2-2-3 1-3-2zM1254 792l3 3-6 7-3-3zM1287 812l3 5-6 0-3-7z"/>
<path fill="#397ced" stroke="#397ced" stroke-width=".6" d="M1167 728l3 2 2-1 3 2-6 4-2 0-3-2-3 1zM1200 734l2-2 3-2 3-3-6 5-3 4-2 2-3 3zM1251 789l3 3-6 7-2-3zM1284 805l3 7-6-2-3-8z"/>
<path fill="#3c82f0" stroke="#3c82f0" stroke-width=".6" d="M1175 731l3-1 2 2 3-1 3 2 3-1-6 7-3-2-2 1-3-2-3 1-3-2zM1197 733l3 1-6 7-3-1zM1208 727l2-2-5 3-3 4zM1243 779l3 3 3 3 2 4-5 7-3-3-3-3-2-3zM1276 783l3 3-6-1-3 2z"/>
<path fill="#448cf2" stroke="#448cf2" stroke-width=".6" d="M1189 732l2 0 3 2 3-1-6 7-3 0-2-1-3 0zM1210 725l3-3-5 3-3 3zM1238 773l2 3 3 3-5 8-3-3-3-3zM1281 793l3 12-6-3-2-11z"/>
<path fill="#53a0f7" stroke="#53a0f7" stroke-width=".6" d="M1213 722l3-2-6 1-2 4zM1232 759l3 9-6 8-2-8zM1279 786l2 7-5-2-3-6z"/>
<path fill="#83ccfd" stroke="#83ccfd" stroke-width=".6" d="M1216 720l3-2-6 2-3 1zM1227 738l3 11-6 8-3-11z"/>
<path fill="#d7f7ff" stroke="#d7f7ff" stroke-width=".6" d="M1219 718l2 1-5 5-3-4z"/>
<path fill="#caf3ff" stroke="#caf3ff" stroke-width=".6" d="M1221 719l3 8-6 7-2-10z"/>
<path fill="#a0e4ff" stroke="#a0e4ff" stroke-width=".6" d="M1224 727l3 11-6 8-3-12z"/>
<path fill="#66b5fb" stroke="#66b5fb" stroke-width=".6" d="M1230 749l2 10-5 9-3-11z"/>
<path fill="#4c96f4" stroke="#4c96f4" stroke-width=".6" d="M1235 768l3 5-6 8-3-5z"/>
<path fill="#295ed8" stroke="#295ed8" stroke-width=".6" d="M1262 796l3 1-6 8-2 0zM1311 841l3 2 3 1 3 1 2 6 3 1 3 1-6 4-3-1-2-1-3-7-3-1-3-1-2-1z"/>
<path fill="#2350c8" stroke="#2350c8" stroke-width=".6" d="M1265 797l3-1 2-4-5 9-3 4-3 0zM1330 859l3 2 3 1-6 3-2-1-3-1zM1339 863l2 6 3 1 3 1 3 6-6 4-3-6-3-1-2-1-3-7z"/>
<path fill="#2657d0" stroke="#2657d0" stroke-width=".6" d="M1270 792l3-7-5 8-3 8zM1328 853l2 6-5 4-3-6zM1336 862l3 1-6 3-3-1z"/>
<path fill="#2049c0" stroke="#2049c0" stroke-width=".6" d="M1350 877l2 1 3 1 3 6-6 0-3-1-2-2-3-1z"/>
<path fill="#1d42b8" stroke="#1d42b8" stroke-width=".6" d="M1358 885l2 1-5 5-3-6z"/>
<path fill="#1a3aac" stroke="#1a3aac" stroke-width=".6" d="M1360 886l3 1 3 1-6 5-2-1-3-1z"/>
<path fill="#2f6ce5" stroke="#2f6ce5" stroke-width=".6" d="M1118 724l2 2-5 5-3-2zM1128 726l3 3 3-1 3 2 2-1-5 6-3 1-3-3-3 1-2-2zM1295 830l3 6 2 2-5 3-3-1-3-6z"/>
<path fill="#2c65e0" stroke="#2c65e0" stroke-width=".6" d="M1120 726l3-1 3 2 2-1-5 6-3 1-3-3-2 1zM1254 804l3 1-6 8-3-1zM1300 838l3 1 3 6 2 1-5 4-3-7-3-1-2-1zM1311 847l3 1 3 7-6 3-3-6-3-1z"/>
<path fill="#3271e8" stroke="#3271e8" stroke-width=".6" d="M1139 729l3 2 3-1 3 2 2 0-5 6-3-3-3 1-3 1-2-2zM1251 802l3 2-6 8-3-3zM1270 787l3-2-6 1-2 8zM1287 821l2 7 3 1 3 1-6 4-3-1-2-2-3-9z"/>
<path fill="#3577eb" stroke="#3577eb" stroke-width=".6" d="M1150 732l3 2 3-1 2 2 3-1-6 6-2-2-3 1-3-2-2 1zM1194 741l3-3 2-2-5 6-3 4-3 1zM1246 796l2 3 3 3-6 7-2-3-3-3zM1284 817l3 4-6 1-3-7z"/>
<path fill="#397ced" stroke="#397ced" stroke-width=".6" d="M1161 734l3-1 3 2 2 0-5 6-3 1-3-2-3 0zM1191 740l3 1-6 6-3 0zM1199 736l3-4-6 5-2 5zM1240 790l3 3 3 3-6 7-3-3-2-3zM1281 810l3 7-6-2-3-8z"/>
<path fill="#3c82f0" stroke="#3c82f0" stroke-width=".6" d="M1169 735l3 2 3-1 3 2 2-1 3 2-6 7-2-2-3 1-3-2-3 0-2-2zM1188 740l3 0-6 7-2 0zM1202 732l3-4-6 4-3 5zM1235 784l3 3 2 3-5 7-3-3-3-2z"/>
<path fill="#448cf2" stroke="#448cf2" stroke-width=".6" d="M1183 739l3 0 2 1-5 7-3-1-3 0zM1205 728l3-3-6 2-3 5zM1229 776l3 5 3 3-6 8-3-3-2-4zM1278 802l3 8-6-3-2-7z"/>
<path fill="#5baaf9" stroke="#5baaf9" stroke-width=".6" d="M1208 725l2-4-5 1-3 5zM1224 757l3 11-6 9-3-11z"/>
<path fill="#a0e4ff" stroke="#a0e4ff" stroke-width=".6" d="M1210 721l3-1-6 1-2 1z"/>
<path fill="#d7f7ff" stroke="#d7f7ff" stroke-width=".6" d="M1213 720l3 4-6 6-3-9z"/>
<path fill="#bceeff" stroke="#bceeff" stroke-width=".6" d="M1216 724l2 10-5 8-3-12z"/>
<path fill="#92d8fe" stroke="#92d8fe" stroke-width=".6" d="M1218 734l3 12-6 8-2-12z"/>
<path fill="#75c1fc" stroke="#75c1fc" stroke-width=".6" d="M1221 746l3 11-6 9-3-12z"/>
<path fill="#4c96f4" stroke="#4c96f4" stroke-width=".6" d="M1227 768l2 8-5 9-3-8z"/>
<path fill="#295ed8" stroke="#295ed8" stroke-width=".6" d="M1257 805l2 0-5 8-3 0zM1268 793l2-6-5 7-3 9zM1308 846l3 1-6 4-2-1zM1317 855l2 1-5 3-3-1zM1322 857l3 6-6-2-3-1z"/>
<path fill="#2350c8" stroke="#2350c8" stroke-width=".6" d="M1259 805l3 0-6 8-2 0zM1336 873l2 1 3 1 3 6-6 4-3-6-2-1-3-2z"/>
<path fill="#2049c0" stroke="#2049c0" stroke-width=".6" d="M1262 805l3-4 3-8-6 10-3 8-3 2zM1344 881l3 1 2 2 3 1 3 6-6 4-3-6-2-1-3-2-3-1z"/>
<path fill="#53a0f7" stroke="#53a0f7" stroke-width=".6" d="M1273 785l3 6 2 11-5-2-3-11-3-3z"/>
<path fill="#2657d0" stroke="#2657d0" stroke-width=".6" d="M1319 856l3 1-6 3-2-1zM1325 863l3 1 2 1 3 1 3 7-6 3-3-6-2-1-3-1-3-7z"/>
<path fill="#1d42b8" stroke="#1d42b8" stroke-width=".6" d="M1355 891l3 1-6 5-3-2z"/>
<path fill="#1a3aac" stroke="#1a3aac" stroke-width=".6" d="M1358 892l2 1-5 5-3-1z"/>
<path d="M1112 729l3 2 2-1 3 3 3-1 2 2 3-1 3 3 3-1 2 2 3-1 3-1 3 3 2-1 3 2 3-1 2 2 3 0 3 2 3-1 2 2 3 0 3 2 3-1 2 2 3 0 3 1 2 0 3 0 3-1 3-4 2-5 3-5 3-5 3-5 2-1 3 9 3 12 2 12 3 12 3 11 3 8 2 4 3 3 3 2 3 3 2 3 3 3 3 3 2 3 3 3 3 1 3 0 2 0 3-2 3-8 3-9 2-8 3 3 3 11 2 7 3 8 3 7 3 9 2 2 3 1 3 6 3 1 2 1 3 1 3 7 2 1 3 1 3 6 3 1 2 1 3 1 3 7 3 1 2 1 3 6 3 2 2 1 3 6 3 1 3 2 2 1 3 6 3 2 3 1" fill="none" stroke="#000" stroke-width="2.5" stroke-linejoin="round"/>
<path fill="#2f6ce5" stroke="#2f6ce5" stroke-width=".6" d="M1112 730l3 2-6 4-3-2zM1120 734l3-1 2 2 3 0 3 2 3-1-6 4-3-2-2 1-3-2-3 0-3-2zM1292 841l3 1-6 3-3-2zM1297 844l3 1 3 6-6 2-3-6-2-1z"/>
<path fill="#2c65e0" stroke="#2c65e0" stroke-width=".6" d="M1115 732l2 0 3 2-6 1-2 1-3 0zM1248 813l3 1-6 8-2-2zM1265 796l2-9-5 6-3 12zM1295 842l2 2-5 2-3-1zM1303 851l2 1 3 1 3 6-6 2-3-6-2-1-3-1z"/>
<path fill="#3271e8" stroke="#3271e8" stroke-width=".6" d="M1134 736l2 2 3-1 3 0 3 2-6 5-3-3-3 1-2-2-3 0zM1191 747l3-4-6 6-3 4zM1243 807l2 4 3 2-5 7-3-3-3-3zM1284 832l2 2 3 1 3 6-6 2-3-6-2-2-3-4z"/>
<path fill="#3577eb" stroke="#3577eb" stroke-width=".6" d="M1145 739l2-1 3 2 3 0 2 2 3-1-5 5-3 1-3-3-3 1-2-2-3 1zM1188 748l3-1-6 6-2 1zM1194 743l2-5-5 4-3 7zM1235 799l2 3 3 3 3 2-6 7-3-3-2-3-3-3zM1281 823l3 9-6-1-3-11z"/>
<path fill="#397ced" stroke="#397ced" stroke-width=".6" d="M1158 741l3 2 3-1 2 3 3-1 3 2-6 3-3 0-2 1-3-2-3 0-2-2zM1185 748l3 0-5 6-3 0zM1196 738l3-5-6 2-2 7zM1229 793l3 3 3 3-6 6-3-3-3-3zM1267 787l3 3-6-2-2 5z"/>
<path fill="#3c82f0" stroke="#3c82f0" stroke-width=".6" d="M1172 746l3-1 2 2 3 0-6 5-2-2-3 1-3-2zM1183 748l2 0-5 6-3-2zM1224 786l2 4 3 3-6 6-2-3-3-3zM1278 816l3 7-6-3-3-8z"/>
<path fill="#448cf2" stroke="#448cf2" stroke-width=".6" d="M1180 747l3 1-6 4-3 0zM1199 733l3-5-6 1-3 6zM1221 778l3 8-6 7-3-6zM1275 809l3 7-6-4-2-7z"/>
<path fill="#5baaf9" stroke="#5baaf9" stroke-width=".6" d="M1202 728l3-5-6 1-3 5zM1270 790l3 11-6-8-3-5z"/>
<path fill="#caf3ff" stroke="#caf3ff" stroke-width=".6" d="M1205 723l2-1-5 5-3-3z"/>
<path fill="#d7f7ff" stroke="#d7f7ff" stroke-width=".6" d="M1207 722l3 9-6 6-2-10z"/>
<path fill="#aee9ff" stroke="#aee9ff" stroke-width=".6" d="M1210 731l3 12-6 7-3-13z"/>
<path fill="#83ccfd" stroke="#83ccfd" stroke-width=".6" d="M1213 743l2 12-5 8-3-13z"/>
<path fill="#66b5fb" stroke="#66b5fb" stroke-width=".6" d="M1215 755l3 12-5 9-3-13z"/>
<path fill="#4c96f4" stroke="#4c96f4" stroke-width=".6" d="M1218 767l3 11-6 9-2-11z"/>
<path fill="#2657d0" stroke="#2657d0" stroke-width=".6" d="M1251 814l3 0-6 8-3 0zM1314 860l2 2-5 2-3-1zM1322 869l3 1-6 2-3-1zM1327 871l3 6-6 3-2-7z"/>
<path fill="#2049c0" stroke="#2049c0" stroke-width=".6" d="M1254 814l2 0-5 8-3 0zM1341 888l3 1-6 3-3-1zM1346 890l3 7-6 3-2-7z"/>
<path fill="#1d42b8" stroke="#1d42b8" stroke-width=".6" d="M1256 814l3-2 3-8-6 11-3 5-2 2zM1349 897l3 1-6 3-3-1z"/>
<path fill="#2350c8" stroke="#2350c8" stroke-width=".6" d="M1262 804l3-8-6 9-3 10zM1330 877l3 2 2 1 3 6 3 2-6 3-3-7-2-1-3-2-3-1zM1344 889l2 1-5 3-3-1z"/>
<path fill="#53a0f7" stroke="#53a0f7" stroke-width=".6" d="M1273 801l2 8-5-4-3-12z"/>
<path fill="#295ed8" stroke="#295ed8" stroke-width=".6" d="M1311 859l3 1-6 3-3-2zM1316 862l3 1 3 6-6 2-3-6-2-1zM1325 870l2 1-5 2-3-1z"/>
<path fill="#1a3aac" stroke="#1a3aac" stroke-width=".6" d="M1352 898l3 1-6 4-3-2z"/>
<path fill="#2c65e0" stroke="#2c65e0" stroke-width=".6" d="M1106 734l3 2 3 0 2-1-5 5-3 1-3-3-3 1zM1243 820l2 2-5 7-3-3zM1302 855l3 6-5 4-3-6zM1311 864l2 1 3 6-6 4-2-6-3-1z"/>
<path fill="#2f6ce5" stroke="#2f6ce5" stroke-width=".6" d="M1114 735l3 2 3 0 3 2 2-1-5 5-3 1-3-2-3 0-2-2zM1185 753l3-4-6 6-2 5zM1240 817l3 3-6 6-3-3zM1289 845l3 1-6 4-3-2zM1294 847l3 6 3 1 2 1-5 4-3-1-3-1-2-6z"/>
<path fill="#3271e8" stroke="#3271e8" stroke-width=".6" d="M1125 738l3 2 3 0 2 2 3-1 3 3 3-1-6 5-3 1-3-2-2 0-3-2-3 1-2-3zM1183 754l2-1-5 7-3 0zM1188 749l3-7-6 5-3 8zM1234 811l3 3 3 3-6 6-3-3-2-2zM1262 793l2-5-5 1-3 11zM1283 837l3 6 3 2-6 3-3-6-2-1zM1292 846l2 1-5 4-3-1z"/>
<path fill="#3577eb" stroke="#3577eb" stroke-width=".6" d="M1142 743l2 2 3-1 3 3 3-1-6 6-3-2-3 0-2-2-3 0zM1226 802l3 3 3 3 2 3-5 7-3-3-3-3-3-3zM1278 831l3 4 2 2-5 4-3-4-3-6z"/>
<path fill="#397ced" stroke="#397ced" stroke-width=".6" d="M1153 746l2 2 3 0 3 2 2-1 3 0-6 6-2 0-3-2-3 0-2-2-3 1zM1180 754l3 0-6 6-3 0zM1191 742l2-7-5 4-3 8zM1221 796l2 3 3 3-6 7-2-3-3-3z"/>
<path fill="#3c82f0" stroke="#3c82f0" stroke-width=".6" d="M1166 749l3 2 3-1 2 2 3 0 3 2-6 6-3-2-2 0-3-2-3 1-3-2zM1215 787l3 6 3 3-6 7-3-3-2-5zM1275 820l3 11-6 0-2-12z"/>
<path fill="#4c96f4" stroke="#4c96f4" stroke-width=".6" d="M1193 735l3-6-6 1-2 9zM1272 812l3 8-5-1-3-8z"/>
<path fill="#66b5fb" stroke="#66b5fb" stroke-width=".6" d="M1196 729l3-5-6 1-3 5zM1264 788l3 5 3 12-6-2-3-11-2-3z"/>
<path fill="#e4faff" stroke="#e4faff" stroke-width=".6" d="M1199 724l3 3-6 4-3-6z"/>
<path fill="#caf3ff" stroke="#caf3ff" stroke-width=".6" d="M1202 727l2 10-5 6-3-12z"/>
<path fill="#aee9ff" stroke="#aee9ff" stroke-width=".6" d="M1204 737l3 13-6 7-2-14z"/>
<path fill="#83ccfd" stroke="#83ccfd" stroke-width=".6" d="M1207 750l3 13-6 7-3-13z"/>
<path fill="#5baaf9" stroke="#5baaf9" stroke-width=".6" d="M1210 763l3 13-6 8-3-14z"/>
<path fill="#448cf2" stroke="#448cf2" stroke-width=".6" d="M1213 776l2 11-5 8-3-11z"/>
<path fill="#2657d0" stroke="#2657d0" stroke-width=".6" d="M1245 822l3 0-6 8-2-1zM1259 805l3-12-6 7-3 15zM1322 873l2 7 3 1 3 2 2 1 3 7-5 4-3-7-3-1-3-2-2-1-3-7z"/>
<path fill="#2049c0" stroke="#2049c0" stroke-width=".6" d="M1248 822l3 0-6 8-3 0zM1343 900l3 1-6 5-2-1z"/>
<path fill="#1a3aac" stroke="#1a3aac" stroke-width=".6" d="M1251 822l2-2 3-5-6 9-2 4-3 2z"/>
<path fill="#1d42b8" stroke="#1d42b8" stroke-width=".6" d="M1256 815l3-10-6 10-3 9zM1346 901l3 2-6 4-3-1z"/>
<path fill="#53a0f7" stroke="#53a0f7" stroke-width=".6" d="M1270 805l2 7-5-1-3-8z"/>
<path fill="#295ed8" stroke="#295ed8" stroke-width=".6" d="M1305 861l3 2 3 1-6 4-3-1-2-2zM1316 871l3 1 3 1-6 4-3-1-3-1z"/>
<path fill="#2350c8" stroke="#2350c8" stroke-width=".6" d="M1335 891l3 1 3 1 2 7-5 5-3-7-3-2-2-1z"/>
<path fill="#2c65e0" stroke="#2c65e0" stroke-width=".6" d="M1100 739l3-1 3 3 3-1-6 5-3 0-2-2-3 1zM1237 826l3 3-6 6-3-3zM1294 858l3 1-6 5-3-1zM1300 865l2 2 3 1 3 1 2 6-5 4-3-6-3-1-2-1-3-6z"/>
<path fill="#2f6ce5" stroke="#2f6ce5" stroke-width=".6" d="M1109 740l2 2 3 0 3 2 3-1-6 5-3-2-3 1-2 0-3-2zM1180 760l2-5-5 5-3 4zM1234 823l3 3-6 6-3-3zM1256 800l3-11-6 5-3 14zM1291 857l3 1-6 5-2-2zM1297 859l3 6-6 0-3-1z"/>
<path fill="#3271e8" stroke="#3271e8" stroke-width=".6" d="M1120 743l2 3 3-1 3 2 2 0 3 2 3-1-6 5-3-2-2 1-3-3-3 1-2-2-3 0zM1177 760l3 0-6 4-3 1zM1182 755l3-8-6 5-2 8zM1226 815l3 3 2 2 3 3-6 6-2-3-3-3-3-3zM1283 848l3 2 3 1 2 6-5 4-3-6-3-1-3-1z"/>
<path fill="#3577eb" stroke="#3577eb" stroke-width=".6" d="M1136 748l3 0 2 2 3 0 3 2-6 5-3-3-2 1-3-2-3 0zM1218 806l2 3 3 3 3 3-6 5-3-3-2-2-3-3zM1275 837l3 4 2 1 3 6-6 5-2-6-3-2-3-5z"/>
<path fill="#397ced" stroke="#397ced" stroke-width=".6" d="M1147 752l3-1 2 2 3 0 3 2 2 0-5 5-3 0-3-2-2 0-3-2-3 1zM1174 760l3 0-6 5-3-2zM1185 747l3-8-6 3-3 10zM1212 800l3 3 3 3-6 6-3-3-2-3zM1272 831l3 6-6 3-2-8z"/>
<path fill="#3c82f0" stroke="#3c82f0" stroke-width=".6" d="M1160 755l3 2 3-1 3 2 2 0 3 2-6 3-2 0-3-2-3 0-3 1-2-2zM1210 795l2 5-5 6-3-5z"/>
<path fill="#4c96f4" stroke="#4c96f4" stroke-width=".6" d="M1188 739l2-9-5 3-3 9zM1259 789l2 3-5 1-3 1z"/>
<path fill="#75c1fc" stroke="#75c1fc" stroke-width=".6" d="M1190 730l3-5-6 2-2 6zM1201 757l3 13-6 6-2-14zM1261 792l3 11-6 0-2-10z"/>
<path fill="#f0fdff" stroke="#f0fdff" stroke-width=".6" d="M1193 725l3 6-6 3-3-7z"/>
<path fill="#caf3ff" stroke="#caf3ff" stroke-width=".6" d="M1196 731l3 12-6 4-3-13z"/>
<path fill="#a0e4ff" stroke="#a0e4ff" stroke-width=".6" d="M1199 743l2 14-5 5-3-15z"/>
<path fill="#53a0f7" stroke="#53a0f7" stroke-width=".6" d="M1204 770l3 14-6 6-3-14zM1267 811l3 8-6 0-3-8z"/>
<path fill="#448cf2" stroke="#448cf2" stroke-width=".6" d="M1207 784l3 11-6 6-3-11zM1270 819l2 12-5 1-3-13z"/>
<path fill="#2657d0" stroke="#2657d0" stroke-width=".6" d="M1240 829l2 1-5 6-3-1zM1319 884l2 1 3 2 3 1 3 7-6 4-3-6-3-2-2-2-3-6z"/>
<path fill="#2049c0" stroke="#2049c0" stroke-width=".6" d="M1242 830l3 0-6 6-2 0zM1338 905l2 1-5 5-3-2z"/>
<path fill="#1a3aac" stroke="#1a3aac" stroke-width=".6" d="M1245 830l3-2-6 6-3 2zM1250 824l3-9-6 6-2 10z"/>
<path fill="#17339d" stroke="#17339d" stroke-width=".6" d="M1248 828l2-4-5 7-3 3z"/>
<path fill="#2350c8" stroke="#2350c8" stroke-width=".6" d="M1253 815l3-15-6 8-3 13zM1330 895l2 1 3 2 3 7-6 4-3-6-2-2-3-2z"/>
<path fill="#5baaf9" stroke="#5baaf9" stroke-width=".6" d="M1264 803l3 8-6 0-3-8z"/>
<path fill="#295ed8" stroke="#295ed8" stroke-width=".6" d="M1310 875l3 1 3 1 3 7-6-1-3-1-3-1-2-2z"/>
<path fill="#1d42b8" stroke="#1d42b8" stroke-width=".6" d="M1340 906l3 1-6 5-2-1z"/>
<path d="M1095 744l3-1 2 2 3 0 3 2 2 0 3-1 3 2 3 0 2 2 3-1 3 3 2-1 3 2 3 0 3 2 2-1 3 3 3-1 3 2 2 0 3 2 3 0 2 2 3-1 3 0 3 2 2 0 3 2 3-1 3-4 2-8 3-10 3-9 2-6 3 7 3 13 3 15 2 14 3 14 3 11 3 5 2 3 3 3 3 3 2 2 3 3 3 3 3 3 2 3 3 3 3 3 3 1 2 0 3-2 3-3 2-10 3-13 3-14 3-1 2 10 3 8 3 8 3 13 2 8 3 5 3 2 2 6 3 1 3 1 3 6 2 2 3 1 3 1 3 6 2 1 3 1 3 6 2 2 3 1 3 1 3 6 2 2 3 2 3 6 3 2 2 2 3 6 3 2 2 1" fill="none" stroke="#000" stroke-width="2.5" stroke-linejoin="round"/>
<path fill="#2f6ce5" stroke="#2f6ce5" stroke-width=".6" d="M1095 745l3-1 2 3 3-1 3 2 2 0 3-1-6 4-2 0-3-2-3 1-2-3-3 1-3-3zM1174 765l3-3-6 4-3 3zM1226 827l2 3 3 3-6 5-2-4-3-2zM1286 863l2 1-5 3-3-1zM1291 865l3 1 3 6-6 3-3-6-3-1z"/>
<path fill="#3271e8" stroke="#3271e8" stroke-width=".6" d="M1111 747l3 3 3-1 2 2 3 0 3 2 2-1-5 4-3 1-3-3-2 1-3-3-3 1-3-2zM1171 766l3-1-6 4-3 0zM1177 762l2-9-5 4-3 9zM1217 819l3 3 3 2 3 3-6 5-3-3-2-3-3-3zM1277 854l3 1 3 2 3 6-6 3-3-6-2-1-3-1z"/>
<path fill="#3577eb" stroke="#3577eb" stroke-width=".6" d="M1127 752l3 3 3-1 3 2 2 0 3 2-6 1-2 0-3 1-3-2-2 0-3-2zM1209 810l3 3 3 3 2 3-5 4-3-3-3-3-2-3zM1272 846l3 2 2 6-5 4-3-6-3-3z"/>
<path fill="#397ced" stroke="#397ced" stroke-width=".6" d="M1141 758l3-1 3 3 2-1 3 2-6 1-2 1-3-2-3 0-3-2zM1168 764l3 2-6 3-2-1zM1179 753l3-9-6 2-2 11zM1204 802l3 5 2 3-5 4-3-3-3-5zM1269 841l3 5-6 3-2-7z"/>
<path fill="#3c82f0" stroke="#3c82f0" stroke-width=".6" d="M1152 761l3 0 2 2 3 0 3-1 3 2 2 0-5 4-3 0-3-2-2 0-3-2-3 1-3-3zM1201 791l3 11-6 4-3-11zM1253 796l3-2-6 0-3 6zM1267 833l2 8-5 1-3-13z"/>
<path fill="#4c96f4" stroke="#4c96f4" stroke-width=".6" d="M1182 744l3-10-6 1-3 11zM1264 821l3 12-6-4-3-9z"/>
<path fill="#83ccfd" stroke="#83ccfd" stroke-width=".6" d="M1185 734l2-5-5 0-3 6zM1256 794l2 10-5-1-3-9z"/>
<path fill="#f0fdff" stroke="#f0fdff" stroke-width=".6" d="M1187 729l3 7-5 2-3-9z"/>
<path fill="#caf3ff" stroke="#caf3ff" stroke-width=".6" d="M1190 736l3 13-6 3-2-14z"/>
<path fill="#a0e4ff" stroke="#a0e4ff" stroke-width=".6" d="M1193 749l3 14-6 3-3-14z"/>
<path fill="#75c1fc" stroke="#75c1fc" stroke-width=".6" d="M1196 763l2 14-5 4-3-15zM1258 804l3 9-6-2-2-8z"/>
<path fill="#53a0f7" stroke="#53a0f7" stroke-width=".6" d="M1198 777l3 14-6 4-2-14z"/>
<path fill="#2c65e0" stroke="#2c65e0" stroke-width=".6" d="M1231 833l3 3-6 4-3-2zM1250 809l3-13-6 4-2 17zM1288 864l3 1-6 3-2-1zM1297 872l2 1 3 2 3 6-6 3-3-6-2-1-3-2z"/>
<path fill="#295ed8" stroke="#295ed8" stroke-width=".6" d="M1234 836l3 1-6 5-3-2zM1305 881l2 1 3 1 3 1 3 7-6 3-3-7-2-1-3-1-3-1zM1318 892l3 2-6 3-2-2z"/>
<path fill="#2049c0" stroke="#2049c0" stroke-width=".6" d="M1237 837l2 1-5 5-3-1zM1247 822l3-13-5 8-3 13zM1332 911l3 1-6 4-3-7z"/>
<path fill="#1a3aac" stroke="#1a3aac" stroke-width=".6" d="M1239 838l3-2-6 5-2 2zM1245 832l2-10-5 8-3 8z"/>
<path fill="#17339d" stroke="#17339d" stroke-width=".6" d="M1242 836l3-4-6 6-3 3z"/>
<path fill="#5baaf9" stroke="#5baaf9" stroke-width=".6" d="M1261 813l3 8-6-1-3-9z"/>
<path fill="#2657d0" stroke="#2657d0" stroke-width=".6" d="M1316 891l2 1-5 3-3-1zM1321 894l3 7-6 3-3-7z"/>
<path fill="#2350c8" stroke="#2350c8" stroke-width=".6" d="M1324 901l3 1 2 2 3 7-6-2-2-1-3-2-3-2z"/>
<path fill="#1d42b8" stroke="#1d42b8" stroke-width=".6" d="M1335 912l2 2-5 3-3-1z"/>
<path fill="#2f6ce5" stroke="#2f6ce5" stroke-width=".6" d="M1089 745l3 3 3-1 2 3 3-1 3 2 2 0-5 4-3 1-3-2-2 0-3-2-3 0-3-2zM1168 769l3-3 3-9-6 5-3 10-3 2zM1217 829l3 3 3 2 2 4-5 5-3-3-3-3-2-3zM1280 866l3 1 2 1 3 1 3 6-6 5-3-6-2-1-3-1-3-6z"/>
<path fill="#3271e8" stroke="#3271e8" stroke-width=".6" d="M1105 751l3 2 3-1 3 3 2-1 3 3-6 1-2 1-3 1-3-3-3 1-2-3zM1209 820l3 3 3 3 2 3-5 5-3-3-3-2-3-3zM1272 858l3 1 2 1 3 6-6 0-2-1-3-2-3-1z"/>
<path fill="#3577eb" stroke="#3577eb" stroke-width=".6" d="M1119 757l3-1 3 2 2 0 3 2 3-1 2 0-5 5-3 0-3-2-2 1-3-3-3 1-3-3zM1165 769l3 0-6 5-2-1zM1204 814l2 3 3 3-6 6-2-3-3-3zM1269 852l3 6-6 4-3-6z"/>
<path fill="#397ced" stroke="#397ced" stroke-width=".6" d="M1135 759l3 2 3 0 3 2 2-1-5 6-3 0-3-2-3 0-2-2zM1174 757l2-11-5 4-3 12zM1198 806l3 5 3 3-6 6-3-3-3-5zM1247 800l3-6-6 1-2 12zM1264 842l2 7 3 3-6 4-2-5-3-8z"/>
<path fill="#3c82f0" stroke="#3c82f0" stroke-width=".6" d="M1146 762l3 3 3-1 3 2 2 0 3 2 3 0 2 1-5 4-3 0-3 0-2-2-3 0-3-2-3 1-2-2zM1195 795l3 11-6 6-2-11z"/>
<path fill="#53a0f7" stroke="#53a0f7" stroke-width=".6" d="M1176 746l3-11-6 3-2 12zM1193 781l2 14-5 6-3-14zM1258 820l3 9-6 0-3-9z"/>
<path fill="#83ccfd" stroke="#83ccfd" stroke-width=".6" d="M1179 735l3-6-6 3-3 6zM1250 794l3 9 2 8-5 0-3-9-3-7z"/>
<path fill="#f0fdff" stroke="#f0fdff" stroke-width=".6" d="M1182 729l3 9-6 3-3-9z"/>
<path fill="#d7f7ff" stroke="#d7f7ff" stroke-width=".6" d="M1185 738l2 14-5 4-3-15z"/>
<path fill="#a0e4ff" stroke="#a0e4ff" stroke-width=".6" d="M1187 752l3 14-6 5-2-15z"/>
<path fill="#75c1fc" stroke="#75c1fc" stroke-width=".6" d="M1190 766l3 15-6 6-3-16z"/>
<path fill="#2c65e0" stroke="#2c65e0" stroke-width=".6" d="M1225 838l3 2-6 6-2-3zM1245 817l2-17-5 7-3 19zM1291 875l3 2 2 1 3 6-6-1-2-1-3-1-3-1zM1305 886l2 1-5 5-3-2z"/>
<path fill="#295ed8" stroke="#295ed8" stroke-width=".6" d="M1228 840l3 2-6 6-3-2zM1299 884l3 1 3 1-6 4-3-1-3-6zM1307 887l3 7 3 1 2 2-5 5-3-2-3-2-2-6z"/>
<path fill="#2049c0" stroke="#2049c0" stroke-width=".6" d="M1231 842l3 1-6 5-3 0zM1329 916l3 1-6 5-3-1z"/>
<path fill="#1a3aac" stroke="#1a3aac" stroke-width=".6" d="M1234 843l2-2-5 7-3 0z"/>
<path fill="#142c8d" stroke="#142c8d" stroke-width=".6" d="M1236 841l3-3-6 7-2 3z"/>
<path fill="#17339d" stroke="#17339d" stroke-width=".6" d="M1239 838l3-8-6 9-3 6z"/>
<path fill="#1d42b8" stroke="#1d42b8" stroke-width=".6" d="M1242 830l3-13-6 9-3 13z"/>
<path fill="#66b5fb" stroke="#66b5fb" stroke-width=".6" d="M1255 811l3 9-6 0-2-9z"/>
<path fill="#448cf2" stroke="#448cf2" stroke-width=".6" d="M1261 829l3 13-6 1-3-14z"/>
<path fill="#2657d0" stroke="#2657d0" stroke-width=".6" d="M1315 897l3 7-6 5-2-7z"/>
<path fill="#2350c8" stroke="#2350c8" stroke-width=".6" d="M1318 904l3 2 3 2 2 1 3 7-6 5-2-7-3-2-3-2-3-1z"/>
<path fill="#2f6ce5" stroke="#2f6ce5" stroke-width=".6" d="M1083 750l3 2 3 0 3 2 2 0-5 4-3-2-3 0-3 1-2-3zM1162 774l3-2 3-10-6 5-2 10-3 2zM1212 834l2 3 3 3 3 3-6 6-3-3-2-3-3-3zM1277 872l3 1 2 1 3 6-5 4-3-6-3-1-3-1z"/>
<path fill="#3271e8" stroke="#3271e8" stroke-width=".6" d="M1094 754l3 2 3-1 2 3 3-1 3 3 3-1 2-1-5 5-3 1-3-3-2 1-3-2-3 0-3-2-2 0zM1203 826l3 3 3 2 3 3-6 6-3-3-3-3-2-3zM1266 862l3 1 3 2 2 1 3 6-6 4-2-6-3-1-3-1-3-1z"/>
<path fill="#3577eb" stroke="#3577eb" stroke-width=".6" d="M1113 758l3 3 3-1 3 3 2-1-5 5-3 1-3-3-3 1-2-3zM1160 773l2 1-5 5-3-1zM1198 820l3 3 2 3-5 5-3-3-3-2zM1242 807l2-12-5 4-3 16zM1263 856l3 6-6 5-2-8z"/>
<path fill="#397ced" stroke="#397ced" stroke-width=".6" d="M1124 762l3 2 3 0 2 2 3 0 3 2-6 2-2 1-3 0-3-2-3 0-2-2zM1168 762l3-12-6 4-3 13zM1192 812l3 5 3 3-6 6-2-3-3-5zM1261 851l2 5-5 3-3-6z"/>
<path fill="#3c82f0" stroke="#3c82f0" stroke-width=".6" d="M1138 768l3 0 2 2 3-1 3 2 3 0 2 2 3 0 3 0-6 5-3 0-2-2-3 0-3-2-3 0-2-2-3 1-3-3zM1190 801l2 11-5 6-3-11zM1258 843l3 8-6 2-3-9z"/>
<path fill="#53a0f7" stroke="#53a0f7" stroke-width=".6" d="M1171 750l2-12-5 3-3 13z"/>
<path fill="#92d8fe" stroke="#92d8fe" stroke-width=".6" d="M1173 738l3-6-6 3-2 6zM1247 802l3 9-6-1-3-12z"/>
<path fill="#f0fdff" stroke="#f0fdff" stroke-width=".6" d="M1176 732l3 9-6 4-3-10z"/>
<path fill="#d7f7ff" stroke="#d7f7ff" stroke-width=".6" d="M1179 741l3 15-6 5-3-16z"/>
<path fill="#a0e4ff" stroke="#a0e4ff" stroke-width=".6" d="M1182 756l2 15-5 5-3-15z"/>
<path fill="#75c1fc" stroke="#75c1fc" stroke-width=".6" d="M1184 771l3 16-6 5-2-16zM1250 811l2 9-5 0-3-10z"/>
<path fill="#4c96f4" stroke="#4c96f4" stroke-width=".6" d="M1187 787l3 14-6 6-3-15zM1255 829l3 14-6 1-2-15z"/>
<path fill="#2c65e0" stroke="#2c65e0" stroke-width=".6" d="M1220 843l2 3-5 6-3-3zM1285 880l3 1-6 5-2-2zM1291 882l2 1 3 6-6 5-2-6-3-1zM1299 890l3 2-6 4-3-1z"/>
<path fill="#295ed8" stroke="#295ed8" stroke-width=".6" d="M1222 846l3 2-5 6-3-2zM1239 826l3-19-6 8-3 20zM1288 881l3 1-6 5-3-1zM1296 889l3 1-6 5-3-1zM1302 892l2 6 3 2 3 2-6 4-3-2-2-2-3-6z"/>
<path fill="#2049c0" stroke="#2049c0" stroke-width=".6" d="M1225 848l3 0-6 6-2 0zM1323 921l3 1-6 5-2-1z"/>
<path fill="#1a3aac" stroke="#1a3aac" stroke-width=".6" d="M1228 848l3 0-6 6-3 0zM1236 839l3-13-6 9-3 11z"/>
<path fill="#142c8d" stroke="#142c8d" stroke-width=".6" d="M1231 848l2-3 3-6-6 7-2 6-3 2z"/>
<path fill="#5baaf9" stroke="#5baaf9" stroke-width=".6" d="M1244 795l3 7-6-4-2 1zM1252 820l3 9-5 0-3-9z"/>
<path fill="#2657d0" stroke="#2657d0" stroke-width=".6" d="M1310 902l2 7 3 1-5 5-3-7-3-2z"/>
<path fill="#2350c8" stroke="#2350c8" stroke-width=".6" d="M1315 910l3 2 3 2 2 7-5 5-3-7-3-2-2-2z"/>
<path d="M1078 754l2 3 3-1 3 0 3 2 2 0 3 2 3 0 3 2 2-1 3 3 3-1 2 3 3-1 3 3 3-1 2 2 3 0 3 2 3 0 2-1 3 3 3-1 2 2 3 0 3 2 3 0 2 2 3 0 3 1 3-2 2-10 3-13 3-13 2-6 3 10 3 16 3 15 2 16 3 15 3 11 3 5 2 3 3 2 3 3 2 3 3 3 3 3 3 3 2 3 3 3 3 3 3 2 2 0 3 0 3-2 2-6 3-11 3-20 3-16 2-1 3 12 3 10 3 9 2 15 3 9 3 6 2 8 3 1 3 1 3 1 2 6 3 1 3 1 3 6 2 2 3 1 3 1 2 6 3 1 3 1 3 6 2 2 3 2 3 2 3 7 2 2 3 2 3 7 2 1" fill="none" stroke="#000" stroke-width="2.5" stroke-linejoin="round"/>
<path fill="#2f6ce5" stroke="#2f6ce5" stroke-width=".6" d="M1078 756l2 2 3 0 3-1-6 4-3 0-2-2-3 0zM1157 781l3-3 2-9-5 3-3 10-3 2zM1203 838l3 3 3 3 2 3-5 4-3-3-3-2-3-3zM1271 878l3 1 3 1 3 6-6 3-3-6-3-1-2-1z"/>
<path fill="#3271e8" stroke="#3271e8" stroke-width=".6" d="M1086 757l3 3 2-1 3 2 3 0 3 2 2 0-5 3-3 1-3-3-3 1-2-3-3 1-3-2zM1195 830l3 3 2 2 3 3-6 5-2-3-3-3-3-3zM1263 869l3 1 3 1 2 7-5 3-3-6-3-1-3-1z"/>
<path fill="#3577eb" stroke="#3577eb" stroke-width=".6" d="M1102 763l3 2 3 0 2 2 3-1 3 3-6 0-3 1-2 1-3-3-3 1-2-3zM1154 779l3 2-6 3-3-1zM1190 824l2 3 3 3-6 4-2-3-3-3zM1236 816l3-16-6 6-3 18zM1258 861l2 7 3 1-6 4-2-7-3-4z"/>
<path fill="#397ced" stroke="#397ced" stroke-width=".6" d="M1116 769l3-1 2 3 3-1 3 2 3 0 2-1-5 4-3 1-3-3-3 1-2-3-3 1-3-3zM1162 769l3-14-6 3-2 14zM1187 819l3 5-6 4-3-5zM1255 854l3 7-6 1-3-8z"/>
<path fill="#3c82f0" stroke="#3c82f0" stroke-width=".6" d="M1132 771l3 3 3-1 2 3 3-1 3 2-6 4-3-2-2 0-3-2-3 1-2-3zM1151 779l3 0-6 4-2 0zM1184 808l3 11-6 4-3-10z"/>
<path fill="#448cf2" stroke="#448cf2" stroke-width=".6" d="M1146 777l3 0 2 2-5 4-3-2-3 0zM1252 845l3 9-6 0-2-10z"/>
<path fill="#53a0f7" stroke="#53a0f7" stroke-width=".6" d="M1165 755l3-13-6 1-3 15zM1250 831l2 14-5-1-3-15z"/>
<path fill="#92d8fe" stroke="#92d8fe" stroke-width=".6" d="M1168 742l2-6-5 2-3 5zM1244 812l3 9-6-2-3-9z"/>
<path fill="#f0fdff" stroke="#f0fdff" stroke-width=".6" d="M1170 736l3 10-6 3-2-11z"/>
<path fill="#d7f7ff" stroke="#d7f7ff" stroke-width=".6" d="M1173 746l3 16-6 3-3-16z"/>
<path fill="#a0e4ff" stroke="#a0e4ff" stroke-width=".6" d="M1176 762l3 16-6 4-3-17z"/>
<path fill="#66b5fb" stroke="#66b5fb" stroke-width=".6" d="M1179 778l2 15-5 5-3-16z"/>
<path fill="#4c96f4" stroke="#4c96f4" stroke-width=".6" d="M1181 793l3 15-6 5-2-15zM1239 800l2-1-5 0-3 7z"/>
<path fill="#2c65e0" stroke="#2c65e0" stroke-width=".6" d="M1211 847l3 3 3 3-6 4-3-3-2-3zM1280 886l2 1 3 1 3 1 2 6 3 1 3 1-6 3-3-1-2-1-3-6-3-1-2-1-3-1z"/>
<path fill="#295ed8" stroke="#295ed8" stroke-width=".6" d="M1217 853l3 2-6 5-3-3zM1296 897l3 7 2 2 3 1 3 2-6 4-3-2-2-2-3-2-3-7z"/>
<path fill="#2350c8" stroke="#2350c8" stroke-width=".6" d="M1220 855l2 1-5 5-3-1zM1233 836l3-20-6 8-3 20zM1310 916l2 2 3 2 3 7-6 4-3-7-2-2-3-2z"/>
<path fill="#1a3aac" stroke="#1a3aac" stroke-width=".6" d="M1222 856l3 0-6 5-2 0zM1230 847l3-11-6 8-2 9z"/>
<path fill="#142c8d" stroke="#142c8d" stroke-width=".6" d="M1225 856l3-3 2-6-5 6-3 5-3 3z"/>
<path fill="#aee9ff" stroke="#aee9ff" stroke-width=".6" d="M1241 799l3 13-6-2-2-11z"/>
<path fill="#75c1fc" stroke="#75c1fc" stroke-width=".6" d="M1247 821l3 10-6-2-3-10z"/>
<path fill="#2657d0" stroke="#2657d0" stroke-width=".6" d="M1307 909l3 7-6 4-3-7z"/>
<path fill="#2049c0" stroke="#2049c0" stroke-width=".6" d="M1318 927l2 2-5 4-3-2z"/>
<path fill="#3271e8" stroke="#3271e8" stroke-width=".6" d="M1072 759l3 0-6 4-3 1zM1077 761l3 0 3 2 3-1 2 3 3-1-6 5-2-2-3 0-3 1-2-3-3 1zM1189 834l3 3 3 3 2 3-5 5-3-3-3-3-2-2zM1230 824l3-18-6 7-3 21zM1257 873l3 1 3 1 3 6-6 4-3-6-3-1-2-1z"/>
<path fill="#2f6ce5" stroke="#2f6ce5" stroke-width=".6" d="M1075 759l2 2-5 5-3-3zM1151 784l3-2 3-10-6 6-3 9-3 1zM1197 843l3 3 3 2 3 3-6 6-3-3-2-3-3-3zM1266 881l2 1 3 1 3 6-6 0-3-2-2-1-3-1z"/>
<path fill="#3577eb" stroke="#3577eb" stroke-width=".6" d="M1091 764l3 3 3-1 2 3 3-1 3 3 2-1 3-1-5 5-3 1-3-3-3 1-2-2-3 0-3-2-3 0zM1148 783l3 1-6 4-2 0zM1184 828l3 3 2 3-5 6-3-3-3-3zM1255 866l2 7-5 4-3-7z"/>
<path fill="#397ced" stroke="#397ced" stroke-width=".6" d="M1110 769l3 3 3-1 2 3 3-1 3 3-6 5-3-3-2 1-3-3-3 1-2-3zM1157 772l2-14-5 4-3 16zM1178 813l3 10 3 5-6 6-3-5-2-10zM1252 862l3 4-6 4-3-6z"/>
<path fill="#3c82f0" stroke="#3c82f0" stroke-width=".6" d="M1124 776l3-1 2 3 3-1 3 2 2 0 3 2-5 3-3 0-3 0-3-2-2 1-3-3-3 1zM1146 783l2 0-5 5-3-2zM1249 854l3 8-6 2-2-9z"/>
<path fill="#448cf2" stroke="#448cf2" stroke-width=".6" d="M1140 781l3 0 3 2-6 3-3 0-2-2zM1233 806l3-7-6 1-3 13zM1247 844l2 10-5 1-3-11z"/>
<path fill="#53a0f7" stroke="#53a0f7" stroke-width=".6" d="M1159 758l3-15-6 3-2 16z"/>
<path fill="#92d8fe" stroke="#92d8fe" stroke-width=".6" d="M1162 743l3-5-6 4-3 4z"/>
<path fill="#f0fdff" stroke="#f0fdff" stroke-width=".6" d="M1165 738l2 11-5 4-3-11z"/>
<path fill="#d7f7ff" stroke="#d7f7ff" stroke-width=".6" d="M1167 749l3 16-5 5-3-17z"/>
<path fill="#a0e4ff" stroke="#a0e4ff" stroke-width=".6" d="M1170 765l3 17-6 5-2-17zM1238 810l3 9-6 0-2-10z"/>
<path fill="#66b5fb" stroke="#66b5fb" stroke-width=".6" d="M1173 782l3 16-6 6-3-17z"/>
<path fill="#4c96f4" stroke="#4c96f4" stroke-width=".6" d="M1176 798l2 15-5 6-3-15z"/>
<path fill="#2c65e0" stroke="#2c65e0" stroke-width=".6" d="M1206 851l2 3 3 3-6 6-2-4-3-2zM1274 889l3 1 2 1 3 1 3 6 2 1-5 5-3-1-3-6-2-1-3-1-3-6zM1290 900l3 7-6-1-3-1z"/>
<path fill="#295ed8" stroke="#295ed8" stroke-width=".6" d="M1211 857l3 3-6 5-3-2zM1287 899l3 1-6 5-2-1zM1293 907l3 2 2 2 3 2-6 4-2-2-3-2-3-7z"/>
<path fill="#2350c8" stroke="#2350c8" stroke-width=".6" d="M1214 860l3 1-6 6-3-2zM1304 920l3 2 2 2 3 7-6 5-2-7-3-2-3-3z"/>
<path fill="#1a3aac" stroke="#1a3aac" stroke-width=".6" d="M1217 861l2 0-5 7-3-1z"/>
<path fill="#142c8d" stroke="#142c8d" stroke-width=".6" d="M1219 861l3-3 3-5-6 8-3 4-2 3z"/>
<path fill="#17339d" stroke="#17339d" stroke-width=".6" d="M1225 853l2-9-5 7-3 10z"/>
<path fill="#2049c0" stroke="#2049c0" stroke-width=".6" d="M1227 844l3-20-6 10-2 17zM1312 931l3 2-6 5-3-2z"/>
<path fill="#aee9ff" stroke="#aee9ff" stroke-width=".6" d="M1236 799l2 11-5-1-3-9z"/>
<path fill="#83ccfd" stroke="#83ccfd" stroke-width=".6" d="M1241 819l3 10-6 0-3-10z"/>
<path fill="#5baaf9" stroke="#5baaf9" stroke-width=".6" d="M1244 829l3 15-6 0-3-15z"/>
<path fill="#2657d0" stroke="#2657d0" stroke-width=".6" d="M1301 913l3 7-6 4-3-7z"/>
<path fill="#3271e8" stroke="#3271e8" stroke-width=".6" d="M1066 764l3-1 3 3 3-1 2 3 3-1 3 0-6 4-3 1-2-3-3 1-3-3-3 1-2-3zM1181 837l3 3 2 2 3 3-6 6-2-3-3-3-3-3zM1254 878l3 1 3 6-6 5-2-6-3-1z"/>
<path fill="#3577eb" stroke="#3577eb" stroke-width=".6" d="M1083 767l2 2 3 0 3 2 3 0 2 2 3-1 3 3-6 5-3-3-2 1-3-3-3 1-3-3-2 1-3-3zM1175 829l3 5 3 3-6 5-3-3-2-4zM1249 870l3 7 2 1-5 5-3-1-3-8z"/>
<path fill="#397ced" stroke="#397ced" stroke-width=".6" d="M1102 775l3-1 2 3 3-1 3 3 2-1-5 5-3-2-3 0-2 1-3-3-3 1zM1143 788l2 0-5 5-3 0zM1151 778l3-16-6 5-3 17zM1173 819l2 10-5 6-3-10zM1246 864l3 6-6 4-2-8z"/>
<path fill="#3c82f0" stroke="#3c82f0" stroke-width=".6" d="M1115 778l3 3 3-1 3 3 2-1 3 2 3 0 3 0-6 5-3 0-3-2-2 0-3-2-3 0-3-2-2 0zM1244 855l2 9-5 2-3-11z"/>
<path fill="#448cf2" stroke="#448cf2" stroke-width=".6" d="M1135 784l2 2 3 0 3 2-6 5-3-2-2 0-3-2zM1227 813l3-13-6 3-2 18z"/>
<path fill="#2f6ce5" stroke="#2f6ce5" stroke-width=".6" d="M1145 788l3-1 3-9-6 6-3 8-2 1zM1189 845l3 3 3 3 2 3-5 6-3-3-3-3-3-3zM1260 885l3 1 2 1 3 2 3 6-6 4-3-6-2-1-3-1-3-1zM1274 896l2 1-5 4-3-1z"/>
<path fill="#5baaf9" stroke="#5baaf9" stroke-width=".6" d="M1154 762l2-16-5 3-3 18z"/>
<path fill="#a0e4ff" stroke="#a0e4ff" stroke-width=".6" d="M1156 746l3-4-6 3-2 4zM1165 770l2 17-5 5-3-17z"/>
<path fill="#f0fdff" stroke="#f0fdff" stroke-width=".6" d="M1159 742l3 11-6 4-3-12z"/>
<path fill="#d7f7ff" stroke="#d7f7ff" stroke-width=".6" d="M1162 753l3 17-6 5-3-18z"/>
<path fill="#66b5fb" stroke="#66b5fb" stroke-width=".6" d="M1167 787l3 17-6 6-2-18z"/>
<path fill="#4c96f4" stroke="#4c96f4" stroke-width=".6" d="M1170 804l3 15-6 6-3-15z"/>
<path fill="#2c65e0" stroke="#2c65e0" stroke-width=".6" d="M1197 854l3 3 3 2 2 4-5 6-3-4-3-3-2-2zM1224 834l3-21-5 8-3 24zM1271 895l3 1-6 4-3-1zM1276 897l3 6-6 4-2-6zM1284 905l3 1 3 7-6 4-2-7-3-1z"/>
<path fill="#295ed8" stroke="#295ed8" stroke-width=".6" d="M1205 863l3 2-6 6-2-2zM1279 903l3 1 2 1-5 4-3-1-3-1zM1290 913l3 2 2 2-5 5-3-2-3-3z"/>
<path fill="#2350c8" stroke="#2350c8" stroke-width=".6" d="M1208 865l3 2-6 6-3-2zM1298 924l3 3 3 2 2 7-5 0-3-2-3-3-3-2z"/>
<path fill="#1a3aac" stroke="#1a3aac" stroke-width=".6" d="M1211 867l3 1-6 6-3-1z"/>
<path fill="#142c8d" stroke="#142c8d" stroke-width=".6" d="M1214 868l2-3-5 7-3 2zM1219 861l3-10-6 9-3 8z"/>
<path fill="#11257e" stroke="#11257e" stroke-width=".6" d="M1216 865l3-4-6 7-2 4z"/>
<path fill="#1d42b8" stroke="#1d42b8" stroke-width=".6" d="M1222 851l2-17-5 11-3 15z"/>
<path fill="#83ccfd" stroke="#83ccfd" stroke-width=".6" d="M1230 800l3 9-6-1-3-5z"/>
<path fill="#bceeff" stroke="#bceeff" stroke-width=".6" d="M1233 809l2 10-5-1-3-10z"/>
<path fill="#92d8fe" stroke="#92d8fe" stroke-width=".6" d="M1235 819l3 10-6 0-2-11z"/>
<path fill="#75c1fc" stroke="#75c1fc" stroke-width=".6" d="M1238 829l3 15-6-5-3-10z"/>
<path fill="#53a0f7" stroke="#53a0f7" stroke-width=".6" d="M1241 844l3 11-6 0-3-16z"/>
<path fill="#2657d0" stroke="#2657d0" stroke-width=".6" d="M1295 917l3 7-6 5-2-7z"/>
<path fill="#2049c0" stroke="#2049c0" stroke-width=".6" d="M1306 936l3 2-6 5-2-7z"/>
<path d="M1061 765l2 3 3-1 3 3 3-1 2 3 3-1 3 3 2-1 3 3 3-1 3 3 2-1 3 3 3-1 3 3 2-1 3 0 3 2 2 0 3 2 3 0 3 2 2 0 3 2 3 0 3 2 2 0 3 2 3 0 2-1 3-8 3-17 3-18 2-4 3 12 3 18 3 17 2 18 3 15 3 10 2 4 3 3 3 3 3 3 2 3 3 3 3 3 3 3 2 2 3 3 3 4 2 2 3 2 3 1 3-2 2-4 3-8 3-15 3-24 2-18 3 5 3 10 2 11 3 10 3 16 3 11 2 8 3 8 3 1 3 1 2 6 3 1 3 1 2 1 3 6 3 1 3 1 2 6 3 1 3 1 3 1 2 7 3 3 3 2 2 7 3 2 3 3 3 2 2 7" fill="none" stroke="#000" stroke-width="2.5" stroke-linejoin="round"/>
<path fill="#3577eb" stroke="#3577eb" stroke-width=".6" d="M1061 766l2 3-5 3-3-2zM1077 773l3 2 2 0 3 2 3 0 3 2-6 1-3 0-3 1-2-3-3 1-3-3zM1170 836l2 5 3 2-6 5-2-3-3-4zM1243 875l3 8 3 1-6 4-3-2-2-10z"/>
<path fill="#3271e8" stroke="#3271e8" stroke-width=".6" d="M1063 769l3 0 3 2 3 0 2 2 3 0-6 3-2 1-3-3-3 1-3-3-2 0zM1175 843l3 3 3 3-6 5-3-3-3-3zM1249 884l3 1 2 6-5-1-3-1-3-1z"/>
<path fill="#397ced" stroke="#397ced" stroke-width=".6" d="M1091 779l2 0 3 2 3 0 3 2 2 0 3-1-6 4-2 0-3-2-3 0-3-2-2 0-3-2zM1137 794l3 0-6 4-3-2zM1145 785l3-17-6 3-3 19zM1167 827l3 9-6 5-3-9z"/>
<path fill="#3c82f0" stroke="#3c82f0" stroke-width=".6" d="M1107 782l3 3 2-1 3 3 3-1 3 2 2 0 3 2-6 4-2-2-3 0-3-2-3 0-2-2-3 0-3-2zM1222 822l2-18-5 6-3 21zM1241 867l2 8-5 1-3-10z"/>
<path fill="#448cf2" stroke="#448cf2" stroke-width=".6" d="M1126 790l3 0 3 2 2 0 3 2-6 2-2 0-3 0-3-2-3 0zM1164 811l3 16-6 5-2-16zM1238 856l3 11-6-1-3-11z"/>
<path fill="#2f6ce5" stroke="#2f6ce5" stroke-width=".6" d="M1140 794l2 0 3-9-6 5-2 7-3 1zM1181 849l2 3 3 3 3 3-6 4-3-3-2-3-3-2zM1254 891l3 1 3 1 2 1 3 6 3 1 3 1-6 4-3-1-3-1-2-6-3-1-3-1-2-6z"/>
<path fill="#5baaf9" stroke="#5baaf9" stroke-width=".6" d="M1148 768l3-17-6 1-3 19zM1235 841l3 15-6-1-3-16z"/>
<path fill="#a0e4ff" stroke="#a0e4ff" stroke-width=".6" d="M1151 751l2-5-5 2-3 4zM1159 776l3 17-6 5-3-19z"/>
<path fill="#f0fdff" stroke="#f0fdff" stroke-width=".6" d="M1153 746l3 12-6 4-2-14z"/>
<path fill="#d7f7ff" stroke="#d7f7ff" stroke-width=".6" d="M1156 758l3 18-6 3-3-17z"/>
<path fill="#66b5fb" stroke="#66b5fb" stroke-width=".6" d="M1162 793l2 18-5 5-3-18zM1224 804l3 5-6 0-2 1z"/>
<path fill="#2c65e0" stroke="#2c65e0" stroke-width=".6" d="M1189 858l3 3 2 3 3 2-6 5-2-3-3-3-3-3zM1271 902l2 6-5 3-3-5zM1279 910l3 2 2 7-5 3-3-7-3-2z"/>
<path fill="#295ed8" stroke="#295ed8" stroke-width=".6" d="M1197 866l3 4 2 2-5 5-3-3-3-3zM1219 846l3-24-6 9-3 24zM1273 908l3 1 3 1-6 3-3-1-2-1zM1284 919l3 2 3 2-6 3-3-2-2-2z"/>
<path fill="#2350c8" stroke="#2350c8" stroke-width=".6" d="M1202 872l3 2-6 5-2-2zM1292 930l3 3 3 2 3 2-6 4-3-3-3-2-2-2z"/>
<path fill="#1d42b8" stroke="#1d42b8" stroke-width=".6" d="M1205 874l3 2-6 3-3 0z"/>
<path fill="#142c8d" stroke="#142c8d" stroke-width=".6" d="M1208 876l3-3-6 6-3 0zM1213 869l3-8-6 7-2 7z"/>
<path fill="#11257e" stroke="#11257e" stroke-width=".6" d="M1211 873l2-4-5 6-3 4z"/>
<path fill="#1a3aac" stroke="#1a3aac" stroke-width=".6" d="M1216 861l3-15-6 9-3 13z"/>
<path fill="#caf3ff" stroke="#caf3ff" stroke-width=".6" d="M1227 809l3 10-6-2-3-8z"/>
<path fill="#aee9ff" stroke="#aee9ff" stroke-width=".6" d="M1230 819l2 11-5-2-3-11z"/>
<path fill="#83ccfd" stroke="#83ccfd" stroke-width=".6" d="M1232 830l3 11-6-2-2-11z"/>
<path fill="#2657d0" stroke="#2657d0" stroke-width=".6" d="M1290 923l2 7-5 4-3-8z"/>
<path fill="#2049c0" stroke="#2049c0" stroke-width=".6" d="M1301 937l2 7-5 4-3-7z"/>
<path fill="#3577eb" stroke="#3577eb" stroke-width=".6" d="M1055 770l3 2-6 5-3-3zM1066 774l3 3 2-1 3 3 3-1 2 3 3-1 3 0-6 5-2 0-3-3-3 1-3-3-2 1-3-3-3 1zM1139 790l3-19-5 5-3 22zM1164 841l3 4 2 3-5 5-3-3-3-3zM1238 876l2 10 3 2-6 4-2-2-3-13z"/>
<path fill="#3271e8" stroke="#3271e8" stroke-width=".6" d="M1058 772l2 0 3 3 3-1-6 5-3-3-2 1-3 0zM1169 848l3 3 3 3-6 5-2-3-3-3zM1243 888l3 1 3 1 2 6-5 4-3-6-3-1-3-1zM1254 897l3 1-6 4-3-1z"/>
<path fill="#397ced" stroke="#397ced" stroke-width=".6" d="M1085 780l3 2 2 0 3 2 3 0 3 2 2 0-5 5-3 0-3-2-3 0-2-2-3 0-3-2zM1104 788l3 0-6 5-3 0zM1161 832l3 9-6 6-2-9zM1216 831l3-21-6 8-3 24z"/>
<path fill="#3c82f0" stroke="#3c82f0" stroke-width=".6" d="M1101 786l3 2-6 5-2-2zM1107 788l2 2 3 0 3 2-6 3-2 0-3-2-3 0zM1131 796l3 2-6 5-2-2zM1235 866l3 10-6 1-3-11z"/>
<path fill="#448cf2" stroke="#448cf2" stroke-width=".6" d="M1115 792l3 0 2 2 3 0 3 2 3 0 2 0-5 5-3 0-3-2-3 0-2-2-3 0-3-2zM1159 816l2 16-5 6-3-16z"/>
<path fill="#2f6ce5" stroke="#2f6ce5" stroke-width=".6" d="M1134 798l3-1-6 6-3 0zM1175 854l3 2 2 3 3 3-6 6-2-3-3-3-3-3zM1251 896l3 1-6 4-2-1zM1257 898l2 6-5 4-3-6z"/>
<path fill="#2c65e0" stroke="#2c65e0" stroke-width=".6" d="M1137 797l2-7-5 8-3 5zM1183 862l3 3 3 3 2 3-5 5-3-2-3-3-3-3zM1259 904l3 1 3 1 3 5 2 1 3 1 3 2 3 7-6 4-3-7-3-1-2-1-3-6-3-1-2-1-3-1z"/>
<path fill="#5baaf9" stroke="#5baaf9" stroke-width=".6" d="M1142 771l3-19-6 3-2 21zM1219 810l2-1-5-4-3 13z"/>
<path fill="#a0e4ff" stroke="#a0e4ff" stroke-width=".6" d="M1145 752l3-4-6 4-3 3zM1153 779l3 19-6 5-3-19zM1227 828l2 11-5-1-3-12z"/>
<path fill="#f0fdff" stroke="#f0fdff" stroke-width=".6" d="M1148 748l2 14-5 4-3-14z"/>
<path fill="#d7f7ff" stroke="#d7f7ff" stroke-width=".6" d="M1150 762l3 17-6 5-2-18zM1221 809l3 8-6-2-2-10z"/>
<path fill="#66b5fb" stroke="#66b5fb" stroke-width=".6" d="M1156 798l3 18-6 6-3-19z"/>
<path fill="#295ed8" stroke="#295ed8" stroke-width=".6" d="M1191 871l3 3 3 3-6 6-3-3-2-4zM1279 922l2 2 3 2 3 8-6-1-3-2-2-3-3-2z"/>
<path fill="#2350c8" stroke="#2350c8" stroke-width=".6" d="M1197 877l2 2-5 6-3-2zM1289 936l3 2 3 3-6 5-2-3-3-2z"/>
<path fill="#1d42b8" stroke="#1d42b8" stroke-width=".6" d="M1199 879l3 0-5 7-3-1z"/>
<path fill="#142c8d" stroke="#142c8d" stroke-width=".6" d="M1202 879l3 0-6 7-2 0z"/>
<path fill="#11257e" stroke="#11257e" stroke-width=".6" d="M1205 879l3-4 2-7-5 8-3 6-3 4z"/>
<path fill="#17339d" stroke="#17339d" stroke-width=".6" d="M1210 868l3-13-6 10-2 11z"/>
<path fill="#2657d0" stroke="#2657d0" stroke-width=".6" d="M1213 855l3-24-6 11-3 23zM1287 934l2 2-5 5-3-8z"/>
<path fill="#bceeff" stroke="#bceeff" stroke-width=".6" d="M1224 817l3 11-6-2-3-11z"/>
<path fill="#75c1fc" stroke="#75c1fc" stroke-width=".6" d="M1229 839l3 16-5 0-3-17z"/>
<path fill="#53a0f7" stroke="#53a0f7" stroke-width=".6" d="M1232 855l3 11-6 0-2-11z"/>
<path fill="#2049c0" stroke="#2049c0" stroke-width=".6" d="M1295 941l3 7-6 5-3-7z"/>
<path fill="#3577eb" stroke="#3577eb" stroke-width=".6" d="M1049 774l3 3-6 2-2 0zM1057 776l3 3 3-1 3 3 2-1 3 3-6 5-2-3-3 1-3-3-3 0-2-2zM1134 798l3-22-6 5-3 21zM1156 838l2 9 3 3-6 6-2-4-3-8zM1210 842l3-24-6 8-3 27zM1235 890l2 2 3 1 3 1-6 5-3-1-2-1-3-9z"/>
<path fill="#3271e8" stroke="#3271e8" stroke-width=".6" d="M1052 777l3 0 2-1-5 5-3 0-3-2zM1161 850l3 3 3 3-6 6-3-3-3-3zM1243 894l3 6 2 1 3 1-6 5-2-1-3-1-3-6z"/>
<path fill="#397ced" stroke="#397ced" stroke-width=".6" d="M1071 783l3-1 3 3 2 0 3 2 3 0 2 2 3 0-6 5-2-3-3 0-3 1-2-3-3 1-3-3-3 1zM1232 877l3 13-6-2-3-10z"/>
<path fill="#3c82f0" stroke="#3c82f0" stroke-width=".6" d="M1090 789l3 2 3 0 2 2 3 0 3 0 3 2-6 5-3-3-3 1-2-3-3 1-3-3-3 1zM1126 801l2 2-5 5-3-2zM1153 822l3 16-6 6-3-16z"/>
<path fill="#448cf2" stroke="#448cf2" stroke-width=".6" d="M1107 795l2 0 3 2 3 0 2 2 3 0 3 2 3 0-6 5-3 0-3-2-2 0-3-2-3 0-2-2-3 0zM1229 866l3 11-6 1-2-12z"/>
<path fill="#2f6ce5" stroke="#2f6ce5" stroke-width=".6" d="M1128 803l3 0-6 5-2 0zM1167 856l2 3 3 3 3 3-6 6-3-3-2-3-3-3zM1251 902l3 6-6 5-3-6zM1259 910l3 1 3 6-6 4-3-6-2-1zM1267 918l3 1-6 4-2-1z"/>
<path fill="#2c65e0" stroke="#2c65e0" stroke-width=".6" d="M1131 803l3-5-6 4-3 6zM1175 865l2 3 3 3 3 3-6 5-3-3-2-3-3-2zM1254 908l3 1 2 1-5 4-3 0-3-1zM1265 917l2 1-5 4-3-1zM1270 919l3 7-6 4-3-7z"/>
<path fill="#5baaf9" stroke="#5baaf9" stroke-width=".6" d="M1137 776l2-21-5 3-3 23zM1150 803l3 19-6 6-3-19zM1213 818l3-13-6 2-3 19zM1227 855l2 11-5 0-3-12z"/>
<path fill="#aee9ff" stroke="#aee9ff" stroke-width=".6" d="M1139 755l3-3-6 4-2 2zM1221 826l3 12-6-1-3-12z"/>
<path fill="#f0fdff" stroke="#f0fdff" stroke-width=".6" d="M1142 752l3 14-6 4-3-14z"/>
<path fill="#d7f7ff" stroke="#d7f7ff" stroke-width=".6" d="M1145 766l2 18-5 6-3-20zM1218 815l3 11-6-1-2-11z"/>
<path fill="#a0e4ff" stroke="#a0e4ff" stroke-width=".6" d="M1147 784l3 19-6 6-2-19z"/>
<path fill="#295ed8" stroke="#295ed8" stroke-width=".6" d="M1183 874l3 2 2 4 3 3-6 5-2-3-3-3-3-3zM1273 926l3 2 2 3 3 2-6 5-2-3-3-2-3-3z"/>
<path fill="#2657d0" stroke="#2657d0" stroke-width=".6" d="M1191 883l3 2-6 6-3-3zM1281 933l3 8-6 4-3-7z"/>
<path fill="#1d42b8" stroke="#1d42b8" stroke-width=".6" d="M1194 885l3 1-6 6-3-1z"/>
<path fill="#142c8d" stroke="#142c8d" stroke-width=".6" d="M1197 886l2 0-5 7-3-1zM1205 876l2-11-5 11-3 8z"/>
<path fill="#0e1e6e" stroke="#0e1e6e" stroke-width=".6" d="M1199 886l3-4-6 7-2 4z"/>
<path fill="#11257e" stroke="#11257e" stroke-width=".6" d="M1202 882l3-6-6 8-3 5z"/>
<path fill="#2049c0" stroke="#2049c0" stroke-width=".6" d="M1207 865l3-23-6 11-2 23zM1289 946l3 7-6 5-2-7z"/>
<path fill="#caf3ff" stroke="#caf3ff" stroke-width=".6" d="M1216 805l2 10-5-1-3-7z"/>
<path fill="#83ccfd" stroke="#83ccfd" stroke-width=".6" d="M1224 838l3 17-6-1-3-17z"/>
<path fill="#2350c8" stroke="#2350c8" stroke-width=".6" d="M1284 941l3 2 2 3-5 5-3-3-3-3z"/>
<path d="M1044 779l2 0 3 2 3 0 2 2 3 0 3 3 3-1 2 3 3-1 3 3 3-1 2 3 3-1 3 0 2 3 3-1 3 3 3-1 2 3 3-1 3 3 3 0 2 2 3 0 3 2 2 0 3 2 3 0 3 2 2 0 3-6 3-21 3-23 2-2 3 14 3 20 2 19 3 19 3 16 3 8 2 4 3 3 3 3 3 3 2 3 3 3 3 2 2 3 3 3 3 3 3 3 2 3 3 3 3 1 3 1 2-4 3-5 3-8 2-23 3-27 3-19 3 7 2 11 3 12 3 17 3 12 2 12 3 10 3 9 2 1 3 1 3 6 3 1 2 1 3 6 3 1 3 0 2 1 3 6 3 1 2 1 3 7 3 3 3 2 2 3 3 7 3 3 3 3 2 7" fill="none" stroke="#000" stroke-width="2.7" stroke-linejoin="round"/>
<defs><clipPath id="fclip"><polygon points="1186,1098 1200,1104 1220,1118 1250,1138 1280,1160 1292,1170 1320,1184 1350,1200 1380,1216 1392,1217 1405,1228 1420,1240 1450,1260 1476,1278 1460,1290 1430,1310 1410,1330 1400,1341 1369.6,1365.9 1338.9,1387.4 1308.2,1418.1 1277.5,1439.6 1262.2,1454.9 1246.8,1467.2 1234.6,1476.4 1216.2,1464.1 1185.5,1448.8 1154.8,1427.3 1130.2,1408.9 1111.8,1399.7 1084.2,1387.4 1062.7,1375.1 1032,1356.7 1001.4,1335.2 970.7,1315.3 943,1309 942,1308 970,1292 990,1272 1000,1256 1014,1244 1030,1232 1050,1216 1070,1196 1090,1180 1110,1164 1130,1146 1154,1120 1170,1106"/></clipPath>
<filter id="fb1" x="-20%" y="-20%" width="140%" height="140%"><feGaussianBlur stdDeviation="7"/></filter>
<filter id="fb2" x="-20%" y="-20%" width="140%" height="140%"><feGaussianBlur stdDeviation="4.5"/></filter>
<filter id="fb3" x="-20%" y="-20%" width="140%" height="140%"><feGaussianBlur stdDeviation="2.5"/></filter></defs>
<polygon points="1186,1098 1200,1104 1220,1118 1250,1138 1280,1160 1292,1170 1320,1184 1350,1200 1380,1216 1392,1217 1405,1228 1420,1240 1450,1260 1476,1278 1460,1290 1430,1310 1410,1330 1400,1341 1369.6,1365.9 1338.9,1387.4 1308.2,1418.1 1277.5,1439.6 1262.2,1454.9 1246.8,1467.2 1234.6,1476.4 1216.2,1464.1 1185.5,1448.8 1154.8,1427.3 1130.2,1408.9 1111.8,1399.7 1084.2,1387.4 1062.7,1375.1 1032,1356.7 1001.4,1335.2 970.7,1315.3 943,1309 942,1308 970,1292 990,1272 1000,1256 1014,1244 1030,1232 1050,1216 1070,1196 1090,1180 1110,1164 1130,1146 1154,1120 1170,1106" fill="#e9561e"/>
<g clip-path="url(#fclip)"><g filter="url(#fb1)">
<ellipse cx="1180" cy="1250" rx="60" ry="30" fill="#f26a2a" fill-opacity="0.7"/>
<ellipse cx="1330" cy="1290" rx="50" ry="28" fill="#f26a2a" fill-opacity="0.6"/>
<ellipse cx="1060" cy="1300" rx="45" ry="22" fill="#d8441a" fill-opacity="0.6"/>
<ellipse cx="1250" cy="1400" rx="50" ry="25" fill="#f07030" fill-opacity="0.6"/>
<ellipse cx="1110" cy="1170" rx="40" ry="20" fill="#d8441a" fill-opacity="0.5"/>
<ellipse cx="960" cy="1300" rx="22" ry="10" fill="#7a1404" fill-opacity=".8"/>
<ellipse cx="1000" cy="1262" rx="14" ry="8" fill="#7a1404" fill-opacity=".8"/>
<ellipse cx="1292" cy="1172" rx="18" ry="8" fill="#7a1404" fill-opacity=".8"/>
<ellipse cx="1380" cy="1218" rx="16" ry="7" fill="#7a1404" fill-opacity=".8"/>
<ellipse cx="1468" cy="1280" rx="12" ry="8" fill="#7a1404" fill-opacity=".8"/>
<ellipse cx="1120" cy="1160" rx="16" ry="7" fill="#7a1404" fill-opacity=".8"/>
<ellipse cx="1060" cy="1210" rx="14" ry="7" fill="#7a1404" fill-opacity=".8"/>
<ellipse cx="1144" cy="1178" rx="28.5" ry="17.2" fill="#981a06" fill-opacity=".9"/>
<ellipse cx="1108" cy="1206" rx="28.5" ry="17.2" fill="#981a06" fill-opacity=".9"/>
<ellipse cx="1084" cy="1232" rx="24.7" ry="14.9" fill="#981a06" fill-opacity=".9"/>
<ellipse cx="1074" cy="1272" rx="30.4" ry="18.4" fill="#981a06" fill-opacity=".9"/>
<ellipse cx="1022" cy="1300" rx="26.6" ry="16.1" fill="#981a06" fill-opacity=".9"/>
<ellipse cx="1150" cy="1268" rx="24.7" ry="14.9" fill="#981a06" fill-opacity=".9"/>
<ellipse cx="1172" cy="1204" rx="22.8" ry="13.8" fill="#981a06" fill-opacity=".9"/>
<ellipse cx="1206" cy="1160" rx="20.9" ry="12.6" fill="#981a06" fill-opacity=".9"/>
<ellipse cx="1280" cy="1214" rx="30.4" ry="18.4" fill="#981a06" fill-opacity=".9"/>
<ellipse cx="1262" cy="1242" rx="24.7" ry="14.9" fill="#981a06" fill-opacity=".9"/>
<ellipse cx="1346" cy="1252" rx="24.7" ry="14.9" fill="#981a06" fill-opacity=".9"/>
<ellipse cx="1378" cy="1318" rx="26.6" ry="16.1" fill="#981a06" fill-opacity=".9"/>
<ellipse cx="1190" cy="1342" rx="28.5" ry="17.2" fill="#981a06" fill-opacity=".9"/>
<ellipse cx="1248" cy="1382" rx="26.6" ry="16.1" fill="#981a06" fill-opacity=".9"/>
<ellipse cx="1188" cy="1346" rx="22.8" ry="13.8" fill="#981a06" fill-opacity=".9"/>
<ellipse cx="1192" cy="1434" rx="24.7" ry="14.9" fill="#981a06" fill-opacity=".9"/>
<ellipse cx="1068" cy="1341" rx="22.8" ry="13.8" fill="#981a06" fill-opacity=".9"/>
<ellipse cx="1300" cy="1320" rx="20.9" ry="12.6" fill="#981a06" fill-opacity=".9"/>
<ellipse cx="1160" cy="1382" rx="22.8" ry="13.8" fill="#981a06" fill-opacity=".9"/>
<ellipse cx="1228" cy="1402" rx="20.9" ry="12.6" fill="#981a06" fill-opacity=".9"/>
<ellipse cx="1340" cy="1362" rx="19.0" ry="11.5" fill="#981a06" fill-opacity=".9"/>
<ellipse cx="1040" cy="1212" rx="19.0" ry="11.5" fill="#981a06" fill-opacity=".9"/>
<ellipse cx="1118" cy="1240" rx="20.9" ry="12.6" fill="#981a06" fill-opacity=".9"/>
<ellipse cx="1236" cy="1212" rx="19.0" ry="11.5" fill="#981a06" fill-opacity=".9"/>
<ellipse cx="1285" cy="1440" rx="19.0" ry="11.5" fill="#981a06" fill-opacity=".9"/>
<ellipse cx="1177" cy="1117" rx="37.8" ry="25.2" fill="#ffa838" fill-opacity="1.00"/>
<ellipse cx="1214" cy="1184" rx="33.6" ry="22.4" fill="#ffa838" fill-opacity="1.00"/>
<ellipse cx="1246" cy="1156" rx="27.3" ry="18.2" fill="#ffa838" fill-opacity="0.75"/>
<ellipse cx="1212" cy="1238" rx="29.4" ry="19.6" fill="#ffa838" fill-opacity="0.70"/>
<ellipse cx="1216" cy="1280" rx="33.6" ry="22.4" fill="#ffa838" fill-opacity="1.00"/>
<ellipse cx="1121" cy="1310" rx="33.6" ry="22.4" fill="#ffa838" fill-opacity="1.00"/>
<ellipse cx="1021" cy="1257" rx="31.5" ry="21.0" fill="#ffa838" fill-opacity="0.85"/>
<ellipse cx="1315" cy="1289" rx="33.6" ry="22.4" fill="#ffa838" fill-opacity="1.00"/>
<ellipse cx="1284" cy="1272" rx="25.2" ry="16.8" fill="#ffa838" fill-opacity="0.60"/>
<ellipse cx="1410" cy="1260" rx="29.4" ry="19.6" fill="#ffa838" fill-opacity="0.85"/>
<ellipse cx="1318" cy="1338" rx="27.3" ry="18.2" fill="#ffa838" fill-opacity="0.80"/>
<ellipse cx="1130" cy="1403" rx="23.1" ry="15.4" fill="#ffa838" fill-opacity="0.60"/>
<ellipse cx="1271" cy="1421" rx="25.2" ry="16.8" fill="#ffa838" fill-opacity="0.65"/>
</g><g filter="url(#fb2)">
<ellipse cx="1177" cy="1117" rx="26.1" ry="17.1" fill="#ffd070" fill-opacity="1.00"/>
<ellipse cx="1214" cy="1184" rx="23.2" ry="15.2" fill="#ffd070" fill-opacity="1.00"/>
<ellipse cx="1246" cy="1156" rx="18.8" ry="12.3" fill="#ffd070" fill-opacity="0.75"/>
<ellipse cx="1212" cy="1238" rx="20.3" ry="13.3" fill="#ffd070" fill-opacity="0.70"/>
<ellipse cx="1216" cy="1280" rx="23.2" ry="15.2" fill="#ffd070" fill-opacity="1.00"/>
<ellipse cx="1121" cy="1310" rx="23.2" ry="15.2" fill="#ffd070" fill-opacity="1.00"/>
<ellipse cx="1021" cy="1257" rx="21.8" ry="14.2" fill="#ffd070" fill-opacity="0.85"/>
<ellipse cx="1315" cy="1289" rx="23.2" ry="15.2" fill="#ffd070" fill-opacity="1.00"/>
<ellipse cx="1284" cy="1272" rx="17.4" ry="11.4" fill="#ffd070" fill-opacity="0.60"/>
<ellipse cx="1410" cy="1260" rx="20.3" ry="13.3" fill="#ffd070" fill-opacity="0.85"/>
<ellipse cx="1318" cy="1338" rx="18.8" ry="12.3" fill="#ffd070" fill-opacity="0.80"/>
<ellipse cx="1130" cy="1403" rx="15.9" ry="10.4" fill="#ffd070" fill-opacity="0.60"/>
<ellipse cx="1271" cy="1421" rx="17.4" ry="11.4" fill="#ffd070" fill-opacity="0.65"/>
</g><g filter="url(#fb3)">
<ellipse cx="1177" cy="1117" rx="18.9" ry="12.6" fill="#fffcf0"/>
<ellipse cx="1214" cy="1184" rx="16.8" ry="11.2" fill="#fffcf0"/>
<ellipse cx="1246" cy="1156" rx="10.4" ry="6.8" fill="#ffeab8" fill-opacity=".9"/>
<ellipse cx="1212" cy="1238" rx="11.2" ry="7.3" fill="#ffeab8" fill-opacity=".9"/>
<ellipse cx="1216" cy="1280" rx="16.8" ry="11.2" fill="#fffcf0"/>
<ellipse cx="1121" cy="1310" rx="16.8" ry="11.2" fill="#fffcf0"/>
<ellipse cx="1021" cy="1257" rx="12.0" ry="7.8" fill="#ffeab8" fill-opacity=".9"/>
<ellipse cx="1315" cy="1289" rx="16.8" ry="11.2" fill="#fffcf0"/>
<ellipse cx="1410" cy="1260" rx="11.2" ry="7.3" fill="#ffeab8" fill-opacity=".9"/>
<ellipse cx="1318" cy="1338" rx="10.4" ry="6.8" fill="#ffeab8" fill-opacity=".9"/>
</g></g>
<line x1="981.4" y1="1303" x2="1091.9" y2="1375.1" stroke="#000" stroke-width="6.5"/>
<text transform="translate(1058,1321) rotate(33.5)" font-size="25" text-anchor="middle" dominant-baseline="central">1 nm</text>
<text x="424" y="39.5" font-size="40" font-weight="bold" stroke="#000" stroke-width="1.2">b</text>
<text x="993" y="40" font-size="40" font-weight="bold" stroke="#000" stroke-width="1.2">c</text>
<text x="424" y="567.5" font-size="40" font-weight="bold" stroke="#000" stroke-width="1.2">d</text>
<text x="993" y="568.5" font-size="40" font-weight="bold" stroke="#000" stroke-width="1.2">e</text>
<text x="993" y="1098" font-size="40" font-weight="bold" stroke="#000" stroke-width="1.2">f</text>
<text transform="translate(542.3,73.2) rotate(-37)" font-size="28.5" text-anchor="middle" dominant-baseline="central">OD23K</text>
<text transform="translate(426.5,230) rotate(-90)" font-size="28" text-anchor="middle" dominant-baseline="central">Cond. (a.u.)</text>
<text transform="translate(461.9,333.4)" font-size="23" text-anchor="middle" dominant-baseline="central">−30</text>
<text transform="translate(511,361.1)" font-size="23" text-anchor="middle" dominant-baseline="central">−15</text>
<text transform="translate(566.5,388.9)" font-size="23" text-anchor="middle" dominant-baseline="central">0</text>
<text transform="translate(607.1,414.5)" font-size="23" text-anchor="middle" dominant-baseline="central">15</text>
<text transform="translate(649.8,438)" font-size="23" text-anchor="middle" dominant-baseline="central">30</text>
<text transform="translate(725,453)" font-size="22" text-anchor="middle" dominant-baseline="central">0</text>
<text transform="translate(788,400)" font-size="22" text-anchor="middle" dominant-baseline="central">1</text>
<text transform="translate(856,345)" font-size="22" text-anchor="middle" dominant-baseline="central">2</text>
<text transform="translate(925,286)" font-size="22" text-anchor="middle" dominant-baseline="central">3</text>
<text transform="translate(534,426) rotate(30)" font-size="27.5" text-anchor="middle" dominant-baseline="central"><tspan font-style="italic">E</tspan> − <tspan font-style="italic">E</tspan><tspan font-size="18" dy="6">F</tspan><tspan dy="-6"> (meV)</tspan></text>
<text transform="translate(866,388) rotate(-47)" font-size="27.5" text-anchor="middle" dominant-baseline="central"><tspan font-style="italic">r</tspan> (nm)</text>
<text transform="translate(1111.8,73.9) rotate(-37)" font-size="28.5" text-anchor="middle" dominant-baseline="central">OD12K</text>
<text transform="translate(996,230.7) rotate(-90)" font-size="28" text-anchor="middle" dominant-baseline="central">Cond. (a.u.)</text>
<text transform="translate(1031.4,334.1)" font-size="23" text-anchor="middle" dominant-baseline="central">−30</text>
<text transform="translate(1080.5,361.8)" font-size="23" text-anchor="middle" dominant-baseline="central">−15</text>
<text transform="translate(1136,389.6)" font-size="23" text-anchor="middle" dominant-baseline="central">0</text>
<text transform="translate(1176.6,415.2)" font-size="23" text-anchor="middle" dominant-baseline="central">15</text>
<text transform="translate(1219.3,438.7)" font-size="23" text-anchor="middle" dominant-baseline="central">30</text>
<text transform="translate(1294.5,453.7)" font-size="22" text-anchor="middle" dominant-baseline="central">0</text>
<text transform="translate(1357.5,400.7)" font-size="22" text-anchor="middle" dominant-baseline="central">1</text>
<text transform="translate(1425.5,345.7)" font-size="22" text-anchor="middle" dominant-baseline="central">2</text>
<text transform="translate(1494.5,286.7)" font-size="22" text-anchor="middle" dominant-baseline="central">3</text>
<text transform="translate(1103.5,426.7) rotate(30)" font-size="27.5" text-anchor="middle" dominant-baseline="central"><tspan font-style="italic">E</tspan> − <tspan font-style="italic">E</tspan><tspan font-size="18" dy="6">F</tspan><tspan dy="-6"> (meV)</tspan></text>
<text transform="translate(1435.5,388.7) rotate(-47)" font-size="27.5" text-anchor="middle" dominant-baseline="central"><tspan font-style="italic">r</tspan> (nm)</text>
<text transform="translate(542.8,601.5) rotate(-37)" font-size="28.5" text-anchor="middle" dominant-baseline="central">OD3K</text>
<text transform="translate(427,758.3) rotate(-90)" font-size="28" text-anchor="middle" dominant-baseline="central">Cond. (a.u.)</text>
<text transform="translate(462.4,861.7)" font-size="23" text-anchor="middle" dominant-baseline="central">−30</text>
<text transform="translate(511.5,889.4)" font-size="23" text-anchor="middle" dominant-baseline="central">−15</text>
<text transform="translate(567,917.2)" font-size="23" text-anchor="middle" dominant-baseline="central">0</text>
<text transform="translate(607.6,942.8)" font-size="23" text-anchor="middle" dominant-baseline="central">15</text>
<text transform="translate(650.3,966.3)" font-size="23" text-anchor="middle" dominant-baseline="central">30</text>
<text transform="translate(725.5,981.3)" font-size="22" text-anchor="middle" dominant-baseline="central">0</text>
<text transform="translate(788.5,928.3)" font-size="22" text-anchor="middle" dominant-baseline="central">1</text>
<text transform="translate(856.5,873.3)" font-size="22" text-anchor="middle" dominant-baseline="central">2</text>
<text transform="translate(925.5,814.3)" font-size="22" text-anchor="middle" dominant-baseline="central">3</text>
<text transform="translate(534.5,954.3) rotate(30)" font-size="27.5" text-anchor="middle" dominant-baseline="central"><tspan font-style="italic">E</tspan> − <tspan font-style="italic">E</tspan><tspan font-size="18" dy="6">F</tspan><tspan dy="-6"> (meV)</tspan></text>
<text transform="translate(866.5,916.3) rotate(-47)" font-size="27.5" text-anchor="middle" dominant-baseline="central"><tspan font-style="italic">r</tspan> (nm)</text>
<text transform="translate(1116,616) rotate(-37)" font-size="28.8" text-anchor="middle" dominant-baseline="central">Simulation</text>
<text transform="translate(1002,768.5) rotate(-90)" font-size="28" text-anchor="middle" dominant-baseline="central">DOS (a.u.)</text>
<text transform="translate(1133,912)" font-size="22" text-anchor="middle" dominant-baseline="central">0</text>
<text transform="translate(1295,982)" font-size="22" text-anchor="middle" dominant-baseline="central">0</text>
<text transform="translate(1475,835)" font-size="22" text-anchor="middle" dominant-baseline="central">4</text>
<text transform="translate(1099,941) rotate(30)" font-size="29" text-anchor="middle" dominant-baseline="central"><tspan font-style="italic">E</tspan>/<tspan font-style="italic">t</tspan><tspan font-size="19" dy="6">1</tspan></text>
<text transform="translate(1403,902) rotate(-47)" font-size="30" text-anchor="middle" dominant-baseline="central">r/ξ</text>
</svg>
</body></html>
